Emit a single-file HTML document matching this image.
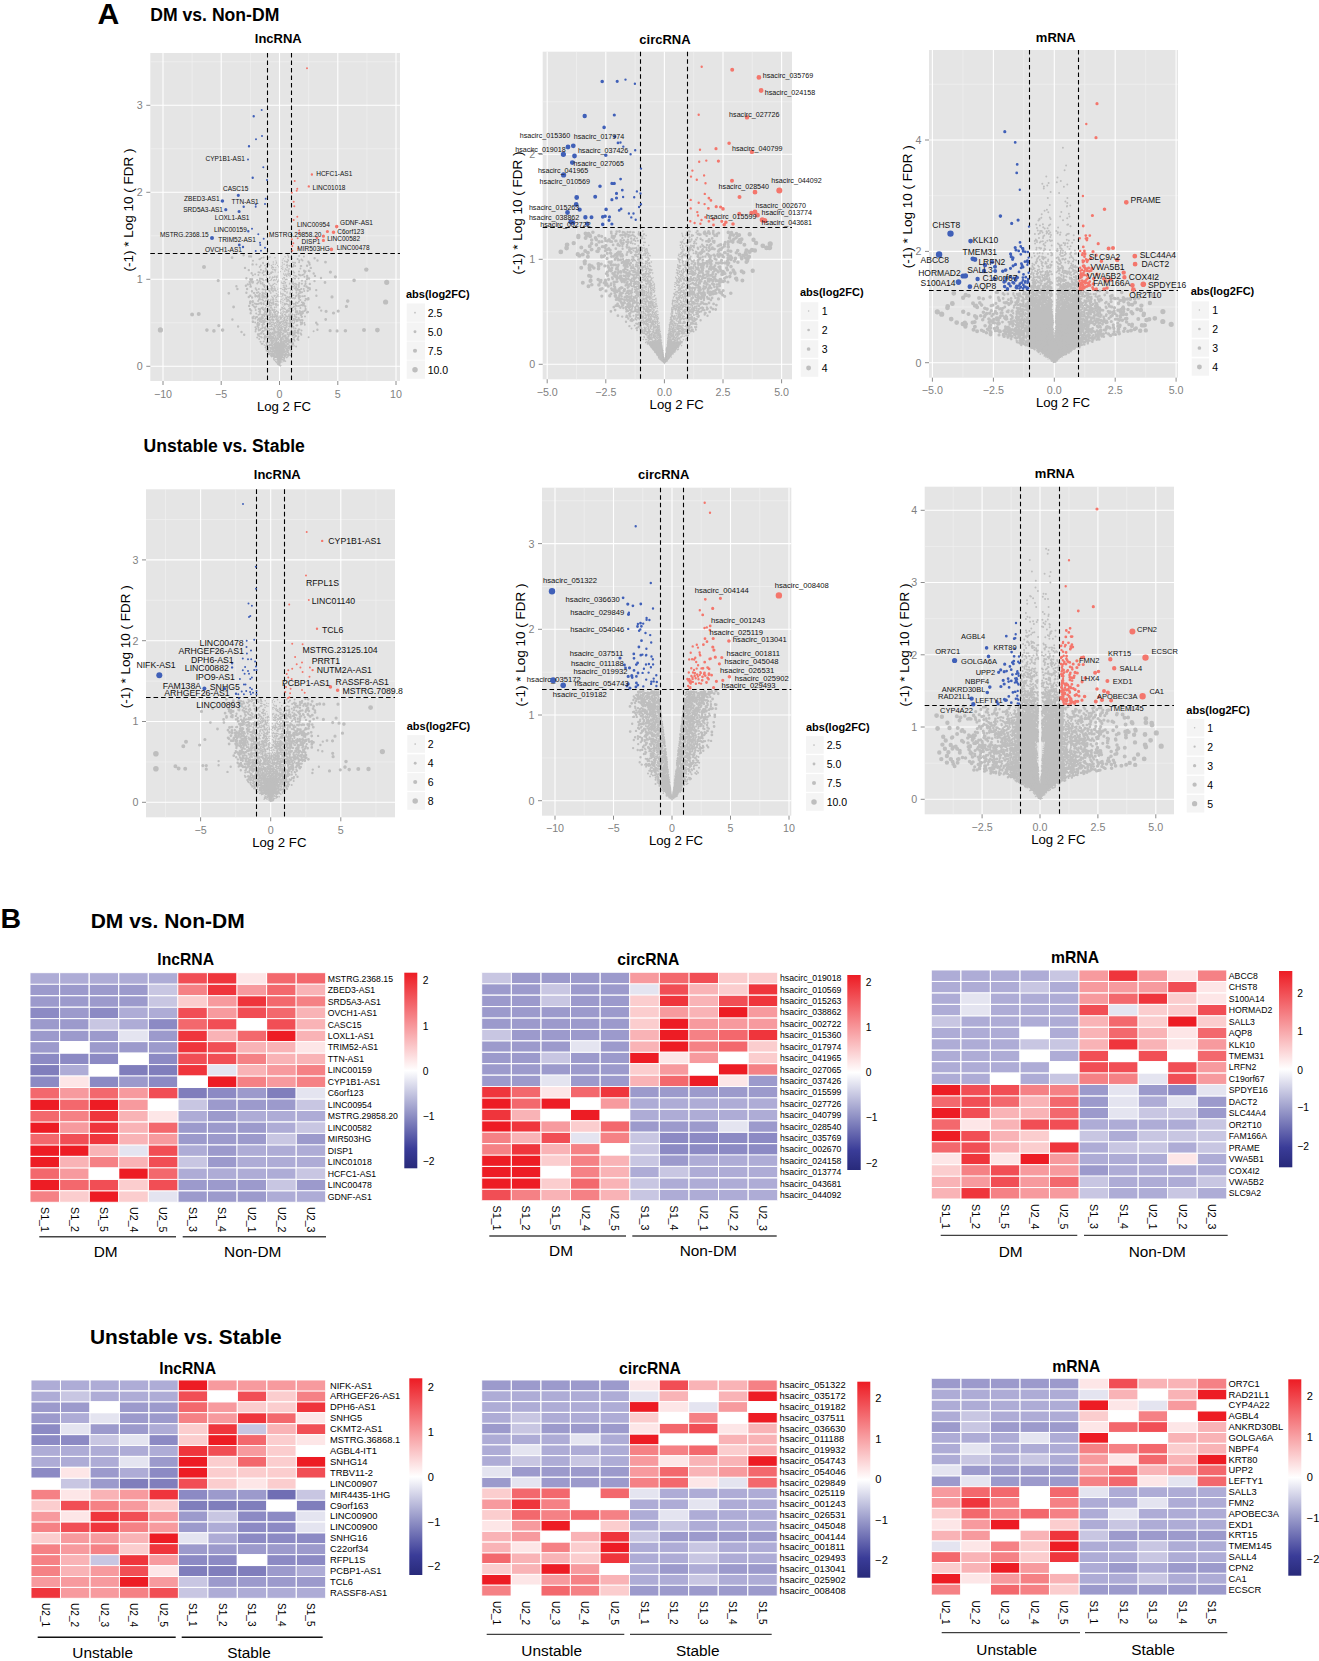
<!DOCTYPE html>
<html><head><meta charset="utf-8"><title>Figure</title>
<style>
html,body{margin:0;padding:0;background:#fff;}
body{width:1319px;height:1661px;overflow:hidden;}
svg{display:block;font-family:"Liberation Sans",sans-serif;}
.hb{font-weight:bold;}
</style></head><body>
<svg width="1319" height="1661" viewBox="0 0 1319 1661">
<defs><linearGradient id="cb" x1="0" y1="0" x2="0" y2="1">
<stop offset="0" stop-color="#ED1C24"/><stop offset="0.5" stop-color="#FFFFFF"/><stop offset="0.9" stop-color="#3A3C98"/><stop offset="1" stop-color="#282A7A"/>
</linearGradient></defs>
<rect width="1319" height="1661" fill="#fff"/>
<rect x="150.3" y="53" width="249.7" height="328" fill="#E5E5E5"/>
<path d="M192.1 53V381M250.4 53V381M308.6 53V381M366.9 53V381M150.3 322.8H400M150.3 235.8H400M150.3 148.8H400M150.3 61.8H400" stroke="#F2F2F2" stroke-width="0.6" fill="none"/>
<path d="M163 53V381M221.2 53V381M279.5 53V381M337.8 53V381M396 53V381M150.3 366.3H400M150.3 279.3H400M150.3 192.3H400M150.3 105.3H400" stroke="#fff" stroke-width="1.1" fill="none"/>
<path d="M163 381v4M221.2 381v4M279.5 381v4M337.8 381v4M396 381v4M150.3 366.3h-4M150.3 279.3h-4M150.3 192.3h-4M150.3 105.3h-4" stroke="#7F7F7F" stroke-width="0.9" fill="none"/>
<g fill="#7F7F7F" font-size="10.7">
<text x="163" y="397.6" text-anchor="middle">−10</text>
<text x="221.2" y="397.6" text-anchor="middle">−5</text>
<text x="279.5" y="397.6" text-anchor="middle">0</text>
<text x="337.8" y="397.6" text-anchor="middle">5</text>
<text x="396" y="397.6" text-anchor="middle">10</text>
<text x="142.7" y="370.2" text-anchor="end">0</text>
<text x="142.7" y="283.2" text-anchor="end">1</text>
<text x="142.7" y="196.2" text-anchor="end">2</text>
<text x="142.7" y="109.2" text-anchor="end">3</text>
</g>
<path d="M279.5 366.3L279.9 365.3L280.2 364.3L280.5 363.4L280.9 362.4L281.2 361.4L281.5 360.4L281.8 359.4L282.1 358.5L282.4 357.5L282.7 356.5L282.9 355.5L283.2 354.6L283.4 353.6L283.7 352.6L283.9 351.6L284.1 350.6L284.4 349.7L284.6 348.7L284.8 347.7L285 346.7L285.2 345.7L285.3 344.8L285.3 343.8L285.3 342.8L279.5 342.8L279.5 343.8L279.5 344.8L279.5 345.7L279.5 346.7L279.5 347.7L279.5 348.7L279.5 349.7L279.5 350.6L279.5 351.6L279.5 352.6L279.5 353.6L279.5 354.6L279.5 355.5L279.5 356.5L279.5 357.5L279.5 358.5L279.5 359.4L279.5 360.4L279.5 361.4L279.5 362.4L279.5 363.4L279.5 364.3L279.5 365.3L279.5 366.3ZM279.5 366.3L279.1 365.3L278.8 364.3L278.5 363.4L278.1 362.4L277.8 361.4L277.5 360.4L277.2 359.4L276.9 358.5L276.6 357.5L276.3 356.5L276.1 355.5L275.8 354.6L275.6 353.6L275.3 352.6L275.1 351.6L274.9 350.6L274.6 349.7L274.4 348.7L274.2 347.7L274 346.7L273.8 345.7L273.7 344.8L273.7 343.8L273.7 342.8L279.5 342.8L279.5 343.8L279.5 344.8L279.5 345.7L279.5 346.7L279.5 347.7L279.5 348.7L279.5 349.7L279.5 350.6L279.5 351.6L279.5 352.6L279.5 353.6L279.5 354.6L279.5 355.5L279.5 356.5L279.5 357.5L279.5 358.5L279.5 359.4L279.5 360.4L279.5 361.4L279.5 362.4L279.5 363.4L279.5 364.3L279.5 365.3L279.5 366.3Z" fill="#BEBEBE"/>
<g transform="scale(.1)" stroke-linecap="round" fill="none" stroke="#BEBEBE"><path stroke-width="12" d="M2833 2587zm-8 43zm-2-29zm0 22zm-57-3zm0 12zm-5-1zm-2-23zm-6 37zm5 32zm17-23zm9 14zm28-5zm12-12zm4 28zm0-8zm0 23zm-13-11zm-10 33zm-47-19zm-5 9zm-1 13zm25 39zm5-36zm55 11zm1 12zm-1 30zm-7 18zm-6-7zm-42 7zm-8-21zm-7-4zm-2 21zm-2 7zm-1-34zm0 13zm-2-2zm-5 28zm19 14zm0-5zm0 12zm7-10zm5-3zm29 13zm6 12zm7-2zm8 5zm3-17zm-7 33zm0 22zm-70-31zm-7 55zm1 9zm11 1zm10-14zm1-15zm25 6zm10 0zm13 8zm7 5zm1 40zm-5-5zm-4 25zm-1-11zm-7-9zm-7-4zm-5-13zm0 17zm-21-19zm-1 28zm-7 1zm-4 10zm-4-23zm-6 2zm-5 18zm0 33zm1-16zm3 20zm2-17zm4-9zm0 3zm7-9zm8 2zm19 2zm10 29zm5-26zm6 23zm10-11zm-1 23zm-1 19zm-9 7zm-11-16zm-3-5zm-1 23zm-4-13zm-20 0zm-9-4zm-3-4zm-1-10zm-1 33zm-8-18zm-4 20zm-1 4zm-4-28zm5 40zm6 4zm0 4zm1 13zm0-28zm1-3zm9 10zm8-4zm0 9zm36 18zm2-2zm4-24zm2 29zm11-14zm3 24zm-7-3zm0 18zm-3 14zm-8-24zm-2-9zm-9 12zm-4 3zm-3 8zm-2-16zm-18 29zm-6-3zm-10-3zm0-10zm-3 9zm-9 2zm-3 10zm3 19zm1 15zm2-6zm6 4zm4-17zm4 4zm2 16zm1-3zm3 2zm1-31zm0 9zm8-12zm12 35zm3-1zm2-22zm0-1zm4-3zm2-10zm0 4zm4 32zm1-18zm8 4zm0 4zm1 5zm3-20zm5-3zm1 29zm3-38zm3 61zm-8-18zm-4-4zm-1 11zm-5 26zm-4-22zm-3 9zm-4-14zm-1 18zm-1-20zm-1 11zm-3 13zm-1-30zm-3-1zm0 25zm-1-13zm-1 25zm-7-28zm-7 10zm-2 1zm-2 0zm-1 6zm0-21zm-1 32zm-4-6zm0-30zm-3 28zm-2-17zm-3-7zm-1-4zm-1 32zm-2-10zm-1-12zm-2 26zm-6-8zm-1-24zm2 60zm7 5zm3-31zm1 15zm3-2zm0 18zm0-28zm2 29zm0-12zm0-15zm0 4zm1-1zm1 18zm2-21zm0 8zm1 11zm1-11zm1-9zm1 2zm1 9zm2-12zm0 16zm2-12zm0 1zm1-8zm1 11zm0 27zm2-33zm0 9zm1-1zm1 26zm0-15zm1 12zm1-33zm2 20zm5 4zm1 12zm0-21zm3 16zm0-15zm4 12zm0 3zm4-8zm2 1zm0-10zm3-3zm0 4zm0-5zm9 23zm1-25zm2 28zm1-11zm0-12zm3-2zm6-9zm0 11zm1 6zm1 16zm-5 33zm-2-29zm0 18zm-1 4zm-5 1zm-7 8zm0 4zm-2-31zm-1 12zm-1 17zm-6-8zm-1 3zm-2-17zm-3 25zm0-28zm-1 25zm0 4zm-3-30zm-2 30zm-1-15zm-4 4zm0-15zm-3 3zm0-6zm0 20zm-4 9zm-3-20zm-1-8zm-1 25zm-1-21zm-4 15zm-1-4zm0-25zm-7 6zm-3 9zm-2 13zm0 2zm-5-8zm-3 12zm-3-21zm0 59zm1 6zm7-6zm3-28zm7 30zm2-16zm1 2zm0-7zm2-1zm4 20zm1-30zm0-3zm4 4zm0 22zm1-13zm1 19zm0-7zm2-8zm1-15zm0 25zm0 9zm2-21zm1-1zm6 6zm1 8zm3 10zm0-8zm1-16zm1 22zm1-22zm2-1zm0 18zm1 6zm1-18zm1 10zm1-1zm0-19zm2 13zm3-1zm1-21zm0 8zm1 2zm7 3zm0 8zm1-18zm8 32zm0-11zm3 2zm0-6zm2 33zm-2 7zm0-11zm-6 7zm-3 12zm0-11zm-2 14zm-1-18zm0 3zm-3 7zm-1-13zm0-10zm-7 3zm-1-2zm-3 18zm-1 13zm0-8zm-2 14zm0-12zm0-1zm-1-21zm0 26zm-2-18zm0 12zm-3 11zm0-19zm-1 4zm-1 9zm-1-1zm0-25zm-3 10zm-2-7zm-3 20zm0 4zm0-5zm-2-2zm-1-9zm-1-12zm0 18zm0 4zm-1-4zm-3 7zm0 7zm-1 4zm0-5zm-3-21zm-1-12zm0 30zm-1-5zm-3-14zm-5 18zm-1-20zm-2-5zm-10 7zm-2 20zm0-19zm0 50zm0-1zm0-15zm2 6zm1 2zm0-8zm6 21zm0 4zm5 7zm1-27zm2 15zm0-14zm0 13zm1-8zm1-6zm0-11zm1 35zm0-34zm1 13zm3 12zm0-1zm2 3zm3-6zm1 5zm2-6zm2-4zm1 17zm0-28zm2 17zm0-5zm2-14zm0 2zm1 1zm0 4zm0 2zm2-11zm3 10zm3 6zm0-10zm1-6zm0 7zm1 28zm3-7zm1-4zm2-19zm0 5zm1 22zm2-24zm2 26zm0-10zm2-11zm0 9zm4 10zm1-13zm1 4zm1 13zm1-22zm2-1zm1-10zm2 24zm1-15zm0 1zm3 12zm1-26zm1-1zm2 4zm2 31zm1-5zm-1 39zm0-14zm-1 1zm0 8zm-1-6zm-3-10zm-2 28zm-1-11zm-1-1zm-2-6zm-3 16zm-1 5zm-3-26zm-1 10zm0 10zm-2-28zm-1 24zm0-20zm-1 30zm0-30zm-1 23zm-1-8zm0 4zm-1-18zm0 27zm0-17zm0-14zm-2 33zm0-10zm-1-5zm0-20zm0 3zm0 8zm-1 11zm0-14zm-1-10zm-1 13zm-2 22zm-2-27zm0-1zm-1 24zm0-20zm-2 8zm0-15zm0 8zm-5 22zm-1-35zm-3 34zm-2-10zm-2 6zm0-8zm-1 2zm-1-8zm0 12zm-1-4zm0 8zm-4-1zm-2 3zm-3-13zm-2-18zm-1-3zm-2 33zm0-6zm-1-26zm-1-2zm-1 19zm-1-7zm-1 0zm0 22zm-3-6zm0-23zm0 18zm-2-20zm-3 33zm-1-28zm-3 17zm0 8zm2 45zm3-5zm3-14zm2 1zm1-20zm0 4zm1 19zm0-23zm2 22zm3 10zm0-24zm0 12zm1-11zm0 13zm1 1zm1-4zm2 8zm0-19zm4-5zm0 22zm1-16zm1 14zm1-2zm3-8zm1 12zm1-6zm3 17zm1-8zm2-9zm2 1zm1-15zm1 14zm1-5zm0-10zm0 2zm1 24zm0-5zm0-11zm1 16zm2-23zm0 27zm0-25zm1-3zm0 23zm1-16zm1 22zm0-23zm3 7zm0-19zm1 27zm0-1zm1 4zm1-2zm0-6zm0-10zm1 26zm1-4zm1-27zm2 21zm0-19zm1 26zm4-26zm2 22zm0 4zm1-2zm4-30zm1 9zm1 19zm3 6zm0-11zm3-9zm0 4zm0 4zm2 27zm-1 19zm-1 2zm-1-1zm-1-29zm-1 27zm-1-29zm0 35zm-1-5zm0 4zm-2-27zm-6 22zm0 7zm0-28zm-1-4zm0 31zm0 3zm0-37zm-1 0zm-1 22zm-1-7zm-2 10zm-1 9zm-3-3zm-2 3zm0-6zm-1-24zm-1 16zm-1 1zm0-11zm-1 27zm0-16zm-1 1zm-1-12zm-3 19zm-1-6zm0 8zm-1-13zm0 11zm-1-24zm0 21zm-2-23zm0 18zm-2-16zm0-1zm0 12zm-1-18zm0 4zm-2 31zm-1-31zm-2 27zm-4-25zm-1 17zm-1-9zm0 13zm0 7zm0-10zm-2 6zm0 8zm0-26zm-2-9zm-1 31zm-1 5zm-3-11zm-2 3zm-1-28zm-1 12zm0 20zm-3-1zm0-32zm-2 34zm-1-13zm-1 16zm-1-24zm0-12zm-6 16zm-1 16zm-1-10zm-1 9zm0-23zm0 27zm-1-16zm0 28zm5 23zm0-2zm1-6zm1-10zm0-5zm0 8zm2-12zm1 20zm2-19zm3 23zm0 3zm0-6zm5-1zm1-15zm1 12zm1-9zm4 22zm0-29zm1 25zm2-4zm0 6zm3-31zm1 6zm1 3zm1-6zm0 4zm0 9zm1-16zm1 4zm1 27zm0-7zm1 4zm0-24zm0-2zm1 28zm0 3zm0-15zm0-19zm0 18zm1-5zm0-7zm2 17zm2 11zm1-8zm0-12zm1 10zm0 12zm3-31zm0 7zm1 1zm0 3zm2-2zm1-7zm0 14zm1-8zm2 19zm1-17zm1-15zm0 23zm1-21zm1 4zm0-6zm0 18zm3-4zm0 21zm1-33zm0 21zm1 14zm0-5zm4-23zm2-4zm2 15zm0 4zm0-3zm2-15zm0 9zm0-6zm4-4zm0 23zm2-23zm0 25zm1-29zm4 19zm-1 34zm-1 15zm-1-18zm-3 3zm-7 19zm-2 1zm0-29zm0 9zm-1 4zm0-10zm-2 6zm-1-8zm-1-5zm-1 32zm-1-22zm-7 5zm-1 5zm0 4zm-1-11zm0-13zm-2 35zm-1-33zm-3-2zm-4-2zm-1 22zm-1-23zm0 13zm-1 23zm-2-12zm-1-8zm0-16zm-1 0zm-1 19zm-1 16zm-1-26zm0 3zm-1 27zm0-29zm-3-8zm0 28zm0 8zm-2-16zm-4-2zm-2 17zm-2-24zm0-7zm-2-5zm-3 32zm0-27zm-4 1zm-1 8zm-3-3zm-2 1zm-1 0zm-2-11zm-3 13zm-2 20zm0-29zm0-1zm3 50zm4 1zm1-14zm4 25zm7-10zm1 5zm2 11zm0-12zm1-11zm5-6zm2 7zm1 18zm2 4zm0-14zm1 11zm0-16zm3 1zm2 18zm0 3zm1-19zm3 7zm0 4zm0-19zm2 27zm0-1zm3-6zm0-26zm0-1zm1 22zm3-17zm10 11zm2-18zm4 22zm9-20zm4 14zm5-13zm-27 52zm-6 6zm0-1zm-5-8zm0-7zm-1-1zm-3 7zm-4-6zm-1-2zm-2 4zm-4 2zm-1-8zm-8 1z"/><path stroke-width="16" d="M2877 2551zm-197 26zm20-7zm50 7zm101-10zm28 28zm5-33zm2 11zm28 4zm5 8zm21 40zm-12-3zm-45-17zm-6 8zm-5 11zm-11-8zm-16-6zm-112 10zm-47 18zm-4-15zm-33 32zm16 14zm0-25zm26 4zm24 7zm3 24zm5-10zm9-27zm3 34zm106-33zm25 12zm5-9zm1 28zm4-14zm16-5zm6 4zm30 10zm8-5zm1-9zm1-11zm-4 70zm-43-25zm-4 24zm-2 3zm-4-14zm-16-2zm-11-10zm-6 21zm-102-12zm-17-3zm-9 23zm-53-22zm-1-2zm-2 15zm-6-2zm-2-25zm-1 6zm-1 22zm6 40zm7-22zm1 2zm12-8zm10 23zm13-9zm6-12zm5 8zm15-10zm119 29zm10-12zm7 13zm15-9zm0-11zm7 18zm8-16zm7 16zm11-31zm25 7zm0 25zm7-26zm3 62zm-13-10zm-8 14zm-2 2zm-24-32zm-31 33zm-2-32zm-7 29zm-9 6zm-9-19zm-1 3zm-94-20zm-4 35zm-3-22zm-14-4zm-7 12zm-4 13zm-1 1zm-15-26zm-4 9zm-17 17zm-11-24zm0 22zm-12 4zm16 8zm12 12zm7 18zm11-35zm34-2zm1 5zm11 30zm94-19zm7 21zm6-12zm42 8zm12-24zm4-3zm5 32zm1-27zm6 19zm5-6zm2 14zm0-17zm12 16zm2 20zm-13 11zm0-22zm-8 20zm-30-26zm-30 25zm-3-11zm-1 7zm-14 16zm-6-3zm-1-15zm-98 8zm-9-23zm-11 11zm0 17zm-6 4zm-5-14zm-10-9zm-31 17zm-10-12zm-14 14zm-1-11zm-3-16zm13 47zm1 16zm4-12zm22 7zm4-16zm5 23zm3 6zm1-10zm3 5zm13-25zm1 12zm3-13zm1 16zm1-13zm10-1zm1 23zm3-23zm0 30zm10-15zm4-3zm3-17zm2 3zm94 25zm0-15zm5-4zm3 24zm4-32zm8 10zm17-8zm18-2zm9 20zm15 3zm21-23zm-7 69zm-14-25zm-4 27zm-16-31zm-2 18zm-2-9zm-28-11zm-1 8zm-14 26zm-8-4zm-8-1zm-98 6zm-34-23zm-1-10zm-33 4zm-5 2zm-3 27zm-5-9zm-7-25zm-1 18zm-10-4zm-2 45zm1-17zm6 3zm5 0zm9 16zm1-12zm7 8zm9 16zm1-31zm7 34zm23-5zm9-31zm6 16zm3 17zm1-17zm4 4zm3 13zm7-32zm105 31zm11-21zm2 9zm3 0zm5 12zm1-21zm5-5zm6 26zm4-22zm12 8zm0-14zm12 16zm7-19zm0 4zm8 15zm11-5zm8 10zm-2 51zm-12-5zm-4-1zm-3-15zm-1 2zm-12 2zm-5-2zm-4 18zm-2-18zm-5-10zm-4-8zm-9 6zm-7 6zm-7 22zm-1-24zm-15 25zm-3 0zm-4 1zm-107-14zm-3 12zm-3-26zm-3 20zm-6 1zm-6 5zm-4-8zm0-1zm-4-20zm-4 19zm-2-3zm-7-4zm0 16zm-3-13zm0 13zm-10-29zm0-2zm-22 1zm-7 9zm-4 5zm7 61zm4-24zm6-14zm2 18zm14 8zm12-16zm4-4zm1 12zm7 17zm6-3zm0-20zm2 5zm16-10zm6-5zm11 31zm2 1zm2-35zm93 9zm6-6zm7 1zm18 1zm13 16zm2-13zm5 11zm5 20zm10-25zm0 3zm0-5zm4 21zm0 4zm12-2zm10-13zm0 11zm2-31zm12 22zm-20 38zm-5-16zm-7-5zm-6-1zm-2 39zm0-30zm-8 2zm-7 19zm-4-25zm-1 18zm-1 3zm-8 9zm-2-14zm-10 9zm0 2zm-1-8zm-6 15zm-8-27zm-5-5zm-3 30zm0-36zm-97 15zm-6 8zm0-8zm-2 19zm-12-13zm-3-10zm-1 11zm-4-10zm-2-13zm-11 28zm-5-28zm-4 18zm-2 11zm-3-14zm-2 3zm-10 6zm-4-17zm-4 19zm-1-9zm-18-8zm-1 22zm-4 3zm-5-24zm-2 63zm1-20zm1-5zm7 15zm10-19zm0 25zm1-16zm6-10zm4 20zm0 9zm0 6zm13-5zm7-9zm1 10zm0-14zm2-19zm1 37zm1-26zm3 25zm1-5zm2-2zm2-6zm4-22zm1 6zm12 13zm4 14zm2-10zm0 12zm10-36zm3 7zm6 23zm1-27zm0 6zm1 8zm1 9zm95-2zm7 3zm6 4zm1-22zm6-7zm11-2zm14 33zm1-11zm13-18zm1 13zm3-14zm2 17zm1 14zm10-11zm5 0zm18 3zm4 5zm-3 9zm-6 34zm0-5zm-1-4zm-13-22zm-3 10zm-3-13zm-2 24zm-11-7zm-2-18zm-3 33zm-4-24zm0 11zm-1-14zm0-6zm-1 39zm0-28zm-1 18zm-2-24zm0 29zm-1-34zm-12 5zm-3 15zm-1-14zm-1 20zm-2-18zm0 18zm0 2zm-7 10zm-1-35zm-5 4zm-11 27zm-2-15zm0-5zm-4 11zm-1 14zm-92-34zm-7 10zm-2-6zm-4 26zm0-29zm-7-5zm-3 29zm-2-16zm-1 4zm-1 21zm-1-35zm-1-4zm-3 31zm-9-24zm-8 11zm-3 19zm-1-20zm-7 16zm-15-27zm-5-2zm-2 21zm-9-1zm-6 4zm-6-24zm-1 33zm-4 24zm0 6zm5-2zm4-16zm9 5zm15 19zm1-17zm3 12zm1 1zm0-25zm3 34zm15-9zm1 6zm1-27zm2 9zm3 18zm2-34zm9 21zm0 4zm15-15zm1 14zm0-20zm6-1zm3 29zm8 1zm98-33zm0 4zm1-1zm0 25zm4-19zm5 15zm5-15zm2 29zm7-13zm2-18zm1 30zm2-31zm14 27zm1-3zm7-22zm1 22zm1-28zm2 15zm2-15zm7 9zm1 10zm1 10zm8-25zm1 14zm9-18zm4 33zm4-34zm4 5zm1 20zm2-4zm1-3zm0-12zm-8 64zm-3-6zm-1 5zm-7-1zm-5-15zm-2 3zm-1-5zm-8-9zm-5 16zm-8 9zm-5-20zm0 17zm-4 0zm-18-13zm-2 16zm-1-20zm-3 17zm-1-16zm-2 21zm-6-16zm-2-1zm-3 23zm-5 2zm0-24zm-3 2zm-2-7zm-93 9zm-8-10zm-1 25zm-14-31zm-4 21zm-4-6zm0-6zm-1-2zm-7 10zm-3 5zm-5-23zm-4 24zm-7-26zm-20 13zm-6 6zm-2 2zm-7 15zm-3-5zm-2 6zm-9-32zm-1 31zm7 11zm2 18zm3-8zm8-6zm11 15zm0-10zm1 0zm4-14zm5 1zm0 27zm9-22zm2 2zm2 18zm11-14zm11-4zm0-5zm2 12zm14-1zm0-16zm5 19zm0-19zm3 36zm0-8zm1-20zm3-4zm1 8zm2 17zm2-8zm92 5zm4 11zm1-24zm1 1zm3 21zm2-9zm1-16zm4 8zm1-16zm1 25zm4 10zm2-3zm0-12zm12-2zm1 1zm8 2zm0-15zm3 3zm17 27zm8-14zm1-16zm1 21zm14 5zm9-27zm6 19zm4 41zm-3-10zm-3-8zm-1 7zm0-14zm-1 8zm-2 17zm-4 2zm-2 5zm-5-22zm-8 27zm-1-2zm0-12zm0-20zm-1 21zm-2-7zm-2-1zm-6-11zm0 21zm-4-3zm-4-15zm-3 7zm0 7zm-2-15zm-7 29zm0-6zm-1-5zm-2 5zm-6-20zm-1-7zm0 18zm-2-4zm-5 2zm-9-20zm-2 38zm-5-6zm-4-2zm0-30zm-1 35zm-4 3zm-1-39zm-2 37zm-3-1zm-90-30zm-4 28zm-3-22zm-2 19zm-1-16zm0 9zm-4-16zm-4 8zm-2-1zm-5 7zm-2-19zm0 13zm-5-4zm-1 5zm-6 6zm-2-1zm-2 13zm-2-17zm-2 16zm0-29zm-3 15zm-1 19zm-4-22zm-1-4zm-2 13zm-3-1zm-7-9zm-1-12zm-4 33zm-7-12zm-19 7zm-9 23zm0 11zm1-6zm1-11zm0 22zm4-30zm1 36zm1-22zm0 9zm3-15zm4-5zm2-1zm1 11zm0-7zm10 1zm0-1zm8 11zm0 6zm3-19zm2 17zm10-9zm2-7zm2 15zm1-17zm1 28zm3-21zm6 15zm6-18zm1 31zm1-18zm2-17zm5-2zm1 29zm2-6zm1-7zm1-6zm1-4zm1 0zm0-3zm5-4zm1 16zm2-1zm3 11zm5-1zm1 1zm0 8zm3-1zm91-23zm10-7zm2 20zm3 1zm3-18zm0 9zm2 1zm1 19zm1-7zm2-3zm4-1zm1-6zm6 11zm0 3zm3-30zm1 18zm0 8zm4-23zm2 32zm1-38zm2 1zm15 33zm18 0zm5 4zm2-5zm6-18zm3-2zm4 17zm1 3zm6-23zm-1 39zm-4-7zm-10 30zm-7-12zm-2 18zm-3-12zm-1 10zm-8-3zm-5-9zm-3-4zm-4 2zm0-20zm-7 25zm-3-18zm0 7zm-7-13zm-1 11zm-1 17zm-6-19zm-1 0zm-2 24zm-2-28zm-2 25zm-2-22zm-1-1zm-2 11zm-2-10zm-1 10zm-4-19zm-4 23zm-2-5zm-2-3zm-1 4zm-1 15zm-2-23zm-2-7zm-2 12zm-1 0zm-90-4zm-1 18zm-10-30zm-2 2zm-1 3zm-1 3zm-2 8zm-1 4zm-1-16zm-5 10zm-3 17zm-4-2zm-2-8zm0-16zm-4 32zm0-10zm-8-19zm-1-5zm-12 18zm-13 7zm-15-6zm-1 11zm-20 16zm11 23zm6-17zm1 4zm1 4zm3-13zm1-3zm0-7zm4 20zm0-14zm7 29zm6 2zm4-24zm6-5zm2 8zm0-14zm4 28zm3 4zm1 2zm0-33zm3 8zm5 26zm0-33zm6 9zm2 5zm1-7zm1 7zm1-4zm0 12zm0 9zm1-19zm2 8zm1-15zm3 0zm2 26zm3-34zm3 4zm2 20zm3 12zm2-2zm2-32zm0 18zm2 5zm1 10zm91-37zm1 18zm0 2zm2-11zm1 16zm3 4zm5-23zm0 2zm2 17zm0 4zm2-13zm9 7zm0 1zm2-17zm1 7zm1 11zm0-2zm10 10zm2-31zm5 23zm0 8zm7-22zm4 24zm3-15zm1 2zm1 5zm2 6zm1-8zm6-5zm6 3zm0-14zm4 11zm0-10zm14-8zm5 16zm-22 57zm-8-15zm-1 9zm-12-30zm-1 10zm-10 15zm-1-21zm-3 25zm-4-3zm-1-7zm-2-1zm-1-5zm-5 25zm0-32zm-1 18zm-1 13zm-1 1zm-1-30zm-1-3zm0-2zm0 8zm-3-5zm-4-4zm-3 30zm-1 3zm-6-17zm0 19zm-1-14zm-1 8zm0 4zm0-20zm-5 19zm-90-7zm-1 9zm0-8zm-2-22zm-3-4zm-1 1zm-2 32zm-1-27zm-1 21zm-3 9zm0-17zm-2 12zm-1-21zm0-5zm-4 9zm0 17zm-1-1zm-1-15zm0 12zm-3 6zm-1-26zm-2 28zm-2-24zm-1-13zm-1 8zm-7 21zm-2 8zm-1-28zm-2 13zm-4-15zm-2 25zm-3 0zm-9-14zm-2 11zm-3-20zm0 26zm-3-12zm-3 0zm-5 8zm-8-4zm-2-16zm19 51zm1-10zm3 7zm4-10zm4 16zm7-15zm8 28zm0-19zm2-1zm0 9zm1-2zm5 7zm4-15zm0-14zm2 10zm1 18zm0-28zm1 25zm2 6zm3 2zm3-10zm0-11zm1 17zm1 6zm6-13zm1-5zm2-2zm1 11zm0-17zm0 18zm4-23zm0 31zm2-35zm91 20zm1 12zm1 1zm2-10zm2-21zm1 34zm0-9zm4-5zm4-7zm1-6zm2 6zm1 13zm2-16zm0 8zm0-5zm1-5zm4 18zm8-6zm2-20zm1 27zm4-32zm4 9zm3 11zm0 14zm3-7zm2-7zm11 14zm11-26zm-36 38zm-7 4zm-3 6zm-6-2zm-12-12zm-1 2zm-3-4zm-1 6zm-3 7zm0 13zm-1-19zm-1 30zm-94-26zm-3 5zm-4-14zm-1 11zm-1 13zm0 6zm-5-30zm0 3zm-2 0zm-15 3zm-1-3zm29 38zm97 0zm2 6zm5-4zm7 7z"/><path stroke-width="20" d="M2594 2592zm7-3zm13-10zm21-5zm341 15zm15-28zm24 34zm24-29zm-14 38zm-32 1zm-2 17zm-40 5zm-320 5zm-1-5zm-100-19zm34 36zm33 27zm11-16zm344 6zm55-1zm6 0zm43 52zm-15 0zm-1-6zm-36-21zm-14 30zm-353 3zm-3-9zm-25-12zm-80 55zm22-10zm33-19zm0 28zm14-26zm27 4zm13 20zm351-3zm5 3zm11 7zm1-1zm18-4zm12-5zm12-18zm-3 40zm-59 17zm-22-19zm-12-6zm-1 26zm-325 4zm-15-2zm-12-2zm-70 31zm42-17zm1 36zm11-13zm11-17zm1-4zm10 15zm2 17zm19-3zm0 8zm9-37zm321 36zm36-8zm1 4zm26 3zm1-30zm35 6zm1 22zm0-2zm-3 12zm-10 14zm-54 10zm-1-14zm-1-11zm0 11zm-5-7zm-19 16zm0 13zm-2-33zm-5 25zm-317-11zm-5-7zm-77 37zm0-5zm10 17zm22-9zm36 1zm14 3zm314-8zm7-6zm3 23zm4 2zm8-16zm11 8zm10 13zm2-11zm14-11zm1 0zm24 0zm5 21zm-21 12zm-15-1zm-1 6zm-8 30zm-7-24zm-4 22zm-3-11zm-19 12zm0-29zm-330 26zm-3-24zm-3 6zm-4-10zm-3 26zm-22-13zm-12 15zm-1 3zm-2-34zm-11 6zm-5 0zm-16 22zm-9-19zm-6 0zm16 33zm1 0zm13-4zm11 7zm6-3zm5 28zm8-31zm1 18zm1 16zm22 0zm0-26zm7 5zm1-4zm7-3zm315 14zm7-18zm2 0zm26 6zm0-5zm4 23zm0-7zm10-9zm4 28zm18-36zm19-1zm8-2zm8 27zm-6 17zm-9 34zm-6-11zm-3 6zm-3 2zm-11-13zm-30-6zm-13 14zm-16-5zm-7 12zm-319-5zm-2-28zm-21 24zm-5 2zm-15 6zm-10-25zm-1 28zm-33-4zm-18-25zm11 55zm11 12zm9-37zm2 26zm5-26zm47 0zm1 39zm13-5zm10-32zm316 0zm4 12zm11 5zm19 1zm15-5zm13-6zm9 7zm10-14zm5 13zm13 13zm2-5zm2 37zm-1-12zm-1 13zm-4 4zm-7 5zm-17 6zm-14 3zm-9-38zm-7 28zm-25 4zm-13-4zm-1 4zm-4-24zm0-6zm-315 18zm-11-10zm-26 22zm0-21zm-2 5zm-9 18zm-2-28zm-2 3zm-30 9zm5 37zm22 12zm15-5zm2-15zm19 20zm1 2zm10 5zm8-10zm319-22zm6 21zm8-20zm12 15zm10-8zm10 5zm2 15zm7 1zm6-13zm11-10zm20 37zm-29 2zm-3 31zm-3-28zm-18 27zm-9-19zm-9 18zm-10 1zm-4-25zm-13-5zm-1 21zm-321-9zm-4-20zm-4 24zm-4 7zm-3-19zm-1 25zm-8-15zm-2 17zm0-5zm-9-11zm-3 4zm-9 6zm-4 6zm-8-29zm-3 0zm-3 3zm-8-1zm-5 13zm-14-19zm-9 50zm4 1zm19 9zm25 8zm2-9zm15 14zm4-25zm1-14zm14 19zm16-11zm1 11zm4 16zm3-28zm328-2zm2 7zm2-6zm1-3zm8 4zm23-2zm6 20zm4 4zm3-5zm7-2zm1 15zm4-34zm18 28zm4 17zm-39-4zm-35 8zm-10 3zm-335 21zm-3-6zm-2 9zm0-26zm-1-5zm-33 1zm-6 24zm-8-21zm-3 10zm-1-21zm-18 32zm1 41zm2-17zm6-12zm22 8zm3 11zm13-4zm4-6zm5-7zm12 31zm5 0zm1-11zm5 4zm1 0zm317-2zm5-24zm20 22zm3 7zm4 0zm2-20zm1 3zm3-5zm6 4zm20 8zm121 8zm-123 35zm-4-13zm-5 1zm-20-9zm-3 9zm-11-10zm-16 2zm-317 14zm-19-17zm-3 10zm-8 0zm-16 6zm-10 12zm-3-10zm-6 32zm20 15zm2-26zm17 7zm7 4zm335-14zm8 0zm13 32zm6-13zm5-15zm101 9zm-102 28zm-347 14zm-12 23zm-9-1zm-11-19zm356 48z"/><path stroke-width="24" d="M2436 2553zm56 11zm18 1zm636 17zm29 23zm-82 25zm-9-13zm-634 62zm76-35zm545 14zm25-12zm12 33zm-13 31zm-6-3zm-601-6zm28 32zm621 2zm13 24zm60 21zm-119 5zm-18-14zm-1-11zm-3 31zm-548 1zm-14 6zm-4-6zm-39-10zm33 38zm23-3zm7 9zm571 13zm47-28zm-65 67zm-16-13zm-556 0zm-3 0zm-3-24zm-24 3zm-19 13zm-95 6zm10 27zm97 0zm48 22zm558-4zm20-25zm1 9zm64 9zm2 57zm-661 0zm-39-30zm24 42zm33 5zm550 17zm11 0zm1-10zm2 7zm-558 31zm-22-5zm-3 18zm-1-14zm-9 40zm35-9zm666 24zm19 32zm-700 0zm-12-14zm7 40zm564-8zm7-4zm-550 63zm-1-8zm-203 20zm204 22zm634 10zm12 17zm-793 21zm793 32zm-732 50zm-27-27z"/><path stroke-width="28" d="M2321 2577zm934 45zm-5 203zm-962 108zm48 137zm921 125z"/><path stroke-width="32" d="M3304 2721zm50 47zm-1172 38zm1138 163zm144 95zm-82 47zm-121 2zm74 17zm-1147 126zm1113 51zm70 2z"/><path stroke-width="36" d="M3541 2804zm-64 207zm-1408 290zm70 8zm87-8zm1228 6z"/><path stroke-width="40" d="M2040 2670zm-119 474zm66-4zm1653 159z"/><path stroke-width="44" d="M3663 2696z"/><path stroke-width="48" d="M3774 3301z"/><path stroke-width="52" d="M3867 2823zm-11 197zm-2252 279z"/></g>
<path d="M267.5 53V381M291.5 53V381M150.3 253.5H400" stroke="#000" stroke-width="1.1" stroke-dasharray="4.6 2.9" fill="none"/>
<g transform="scale(.1)" stroke-linecap="round" fill="none" stroke="#4060B8"><path stroke-width="20" d="M2617 1100zm-57 293zm60-33zm-140 235zm153 78zm37 127zm-13 187zm-7 53zm-92 5zm-1 22zm-37 220zm63 56zm54 44zm-37 40zm50 50zm-47-27zm-46 60zm53-3z"/><path stroke-width="24" d="M2537 1163zm-47 300zm37 314zm-90 290zm46 246zm-53 157z"/><path stroke-width="28" d="M2393 2450z"/><path stroke-width="32" d="M2383 1953zm-125 144zm133 18z"/><path stroke-width="36" d="M2224 2010z"/><path stroke-width="40" d="M2120 2380z"/></g>
<g transform="scale(.1)" stroke-linecap="round" fill="none" stroke="#F4766C"><path stroke-width="20" d="M3070 683zm-123 1127zm26 77zm-6 20zm-49 20zm19 90zm6 46zm30 104zm-36 33zm55 104zm-2 29zm-13 50zm-59 10zm15 40zm-10 27zm0 47zm60-22z"/><path stroke-width="24" d="M3119 1745zm-31 119z"/><path stroke-width="28" d="M3170 2378z"/><path stroke-width="32" d="M3274 2315zm-40 47zm0 42z"/><path stroke-width="36" d="M3367 2266zm-32 57zm-21 171z"/></g>
<g font-size="6.5" fill="#111">
<text x="205.5" y="161.3">CYP1B1-AS1</text>
<text x="316.2" y="176.4">HCFC1-AS1</text>
<text x="312.6" y="189.7">LINC01018</text>
<text x="223" y="191">CASC15</text>
<text x="184.1" y="200.7">ZBED3-AS1</text>
<text x="231.5" y="204.1">TTN-AS1</text>
<text x="183.2" y="212">SRD5A3-AS1</text>
<text x="214.8" y="220">LOXL1-AS1</text>
<text x="213.9" y="231.8">LINC00159</text>
<text x="159.9" y="237.1">MSTRG.2368.15</text>
<text x="218.2" y="242.4">TRIM52-AS1</text>
<text x="205" y="251.9">OVCH1-AS1</text>
<text x="296.9" y="227.2">LINC00954</text>
<text x="340.1" y="224.9">GDNF-AS1</text>
<text x="337.3" y="234.2">C6orf123</text>
<text x="269" y="236.5">MSTRG.29858.20</text>
<text x="327.2" y="241.2">LINC00582</text>
<text x="301.6" y="243.7">DISP1</text>
<text x="297.3" y="250.9">MIR503HG</text>
<text x="336.7" y="250">LINC00478</text>
</g>
<text x="278.3" y="43" class="hb" font-size="13" text-anchor="middle">lncRNA</text>
<text x="284" y="411.4" font-size="13.2" text-anchor="middle">Log 2 FC</text>
<text transform="translate(132.8 210) rotate(-90)" font-size="13.5" text-anchor="middle">(-1) * Log 10 ( FDR )</text>
<text x="406" y="298" class="hb" font-size="11">abs(log2FC)</text>
<rect x="406.7" y="303.5" width="18.3" height="18.3" fill="#F4F4F4"/>
<circle cx="415" cy="312.7" r="0.85" fill="#BEBEBE"/>
<text x="427.7" y="316.5" font-size="10.5">2.5</text>
<rect x="406.7" y="322.5" width="18.3" height="18.3" fill="#F4F4F4"/>
<circle cx="415" cy="331.7" r="1.45" fill="#BEBEBE"/>
<text x="427.7" y="335.5" font-size="10.5">5.0</text>
<rect x="406.7" y="341.5" width="18.3" height="18.3" fill="#F4F4F4"/>
<circle cx="415" cy="350.7" r="2.05" fill="#BEBEBE"/>
<text x="427.7" y="354.5" font-size="10.5">7.5</text>
<rect x="406.7" y="360.5" width="18.3" height="18.3" fill="#F4F4F4"/>
<circle cx="415" cy="369.7" r="2.75" fill="#BEBEBE"/>
<text x="427.7" y="373.5" font-size="10.5">10.0</text>
<rect x="542.7" y="51.7" width="249.3" height="327.6" fill="#E5E5E5"/>
<path d="M576.5 51.7V379.3M635.1 51.7V379.3M693.7 51.7V379.3M752.3 51.7V379.3M542.7 311.8H792M542.7 206.8H792M542.7 101.8H792" stroke="#F2F2F2" stroke-width="0.6" fill="none"/>
<path d="M547.2 51.7V379.3M605.8 51.7V379.3M664.4 51.7V379.3M723 51.7V379.3M781.6 51.7V379.3M542.7 364.3H792M542.7 259.3H792M542.7 154.3H792" stroke="#fff" stroke-width="1.1" fill="none"/>
<path d="M547.2 379.3v4M605.8 379.3v4M664.4 379.3v4M723 379.3v4M781.6 379.3v4M542.7 364.3h-4M542.7 259.3h-4M542.7 154.3h-4" stroke="#7F7F7F" stroke-width="0.9" fill="none"/>
<g fill="#7F7F7F" font-size="10.7">
<text x="547.2" y="395.9" text-anchor="middle">−5.0</text>
<text x="605.8" y="395.9" text-anchor="middle">−2.5</text>
<text x="664.4" y="395.9" text-anchor="middle">0.0</text>
<text x="723" y="395.9" text-anchor="middle">2.5</text>
<text x="781.6" y="395.9" text-anchor="middle">5.0</text>
<text x="535.1" y="368.2" text-anchor="end">0</text>
<text x="535.1" y="263.2" text-anchor="end">1</text>
<text x="535.1" y="158.2" text-anchor="end">2</text>
</g>
<path d="M664.4 364.3L665.2 363.3L666 362.4L666.7 361.4L667.5 360.4L668.3 359.5L669.1 358.5L669.9 357.6L670.7 356.6L671.4 355.6L672.2 354.7L673 353.7L673.8 352.8L674.6 351.8L675.3 350.8L676.1 349.9L676.9 348.9L677.7 347.9L678.5 347L679.2 346L680 345.1L680.8 344.1L681.6 343.1L682.4 342.2L683.2 341.2L667.7 341.2L667.5 342.2L667.4 343.1L667.3 344.1L667.1 345.1L667 346L666.9 347L666.7 347.9L666.6 348.9L666.5 349.9L666.3 350.8L666.2 351.8L666 352.8L665.9 353.7L665.8 354.7L665.6 355.6L665.5 356.6L665.4 357.6L665.2 358.5L665.1 359.5L665 360.4L664.4 361.4L664.4 362.4L664.4 363.3L664.4 364.3ZM664.4 364.3L663.6 363.3L662.8 362.4L662.1 361.4L661.3 360.4L660.5 359.5L659.7 358.5L658.9 357.6L658.1 356.6L657.4 355.6L656.6 354.7L655.8 353.7L655 352.8L654.2 351.8L653.5 350.8L652.7 349.9L651.9 348.9L651.1 347.9L650.3 347L649.6 346L648.8 345.1L648 344.1L647.2 343.1L646.4 342.2L645.6 341.2L661.1 341.2L661.3 342.2L661.4 343.1L661.5 344.1L661.7 345.1L661.8 346L661.9 347L662.1 347.9L662.2 348.9L662.3 349.9L662.5 350.8L662.6 351.8L662.8 352.8L662.9 353.7L663 354.7L663.2 355.6L663.3 356.6L663.4 357.6L663.6 358.5L663.7 359.5L663.8 360.4L664.4 361.4L664.4 362.4L664.4 363.3L664.4 364.3Z" fill="#BEBEBE"/>
<g transform="scale(.1)" stroke-linecap="round" fill="none" stroke="#BEBEBE"><path stroke-width="8" d="M6619 3451zm0 22zm1-16zm1 15zm2-3zm43 2zm2-23zm1 69zm0-7zm-1-30zm0 14zm0-10zm0 4zm-1 2zm0 25zm-2 2zm-1-27zm0 2zm0-12zm0 2zm0 18zm0 4zm0-7zm-1-2zm0 6zm0 9zm-1-10zm-1 6zm0-12zm0-11zm-31 22zm-2 2zm-1 2zm0-3zm-1-3zm-1 9zm0-21zm0 18zm0 4zm-1-7zm-1-12zm-1 2zm0 9zm-1-13zm-1 5zm0-14zm0 2zm0 16zm0-14zm0 11zm0 2zm-1 13zm0 25zm2 11zm0-28zm0 8zm1 3zm1 3zm0 23zm0-33zm0 20zm1-3zm0-7zm0-5zm0 23zm0-16zm0 4zm0 9zm1 7zm0-32zm0 20zm0-25zm0 36zm1-29zm2-4zm1 25zm0 2zm0-15zm0-14zm0 30zm1-10zm1 12zm0-23zm0 15zm0-16zm0 9zm1 5zm0 2zm0 12zm21 1zm0 1zm1-12zm3 3zm1-14zm0 10zm2-3zm0-13zm1 12zm0-5zm0-1zm1 3zm1-12zm0 15zm1-13zm1 0zm0 20zm0-25zm1 16zm0 11zm0-12zm0-12zm1 8zm1-4zm1 17zm0-1zm0 11zm0 13zm0-10zm-1 13zm0 20zm0-19zm-1-11zm0-3zm-1 18zm-1 17zm0-5zm0-1zm-1 7zm0-25zm0 11zm0-23zm0 2zm0 2zm0 18zm-1 16zm-1-1zm0-32zm0 6zm0-1zm0-7zm-1 34zm0-24zm-1 22zm0-16zm0-17zm-1 35zm0-24zm0-12zm-1 23zm0 11zm0-7zm0-23zm0 6zm0 9zm0-16zm0 9zm-1-3zm0 13zm0-10zm0 2zm0 2zm-1 3zm0 19zm0-39zm-1 21zm0 4zm-1-19zm0 3zm-1 15zm0 9zm0-3zm0 9zm0-16zm0 9zm0-3zm-2 6zm0-19zm0 9zm0-3zm0 16zm0-7zm-1-12zm0 4zm-1 6zm-1 5zm-6 5zm-2-4zm0-5zm0 1zm-2-15zm0 20zm0-21zm0 22zm-1-36zm-1 23zm0-18zm-1 20zm0-16zm-1-5zm0 9zm0 18zm0-16zm0-5zm0-5zm0 18zm-1-20zm-1 5zm0 27zm-1-36zm0 20zm0 6zm0 2zm-1 9zm0-30zm-1-1zm0 4zm-1 26zm0-1zm0-7zm-1-5zm0 6zm0-19zm0 2zm-1 9zm-1-7zm0-14zm-1 35zm0-19zm0-14zm-1 14zm0 22zm0-5zm-1-18zm0-1zm-1 12zm0-1zm0-25zm0 9zm0 29zm-1-7zm0-26zm0 8zm-1-10zm0 11zm2 28zm4 7zm1-4zm4 4zm0 2zm0-7zm0 4zm2-8zm1 9zm0-5zm1 0zm0 2zm1-1zm0 1zm1-6zm2 3zm1 4zm2 0zm0-4zm5-3zm1 5zm0-5zm0 10zm1-9zm1 6zm1-4zm1-2zm1 10zm1-7zm0 6zm1 0zm0-7zm2-2zm1 5zm0-1zm0 2zm0 2zm1-9zm0 6zm0 4zm1-1zm1 1zm1-6zm0 2zm2-1zm3 5z"/><path stroke-width="12" d="M6769 2705zm-3-10zm-245 3zm6 38zm1-3zm0-7zm234 2zm9 70zm-1 1zm-3-14zm-3-4zm-7-4zm-2-6zm-223 5zm-5 5zm-10 24zm3 3zm9 15zm1-10zm1 11zm11 10zm207-8zm6 0zm6 9zm1 1zm5-19zm2 12zm2-19zm-5 42zm-11 17zm-6-25zm-3 20zm-200-15zm-1 21zm0-19zm-1 15zm-5-23zm-1 7zm-1 25zm-8-24zm-5 7zm-2 18zm0 1zm-3-16zm0-2zm0 59zm8-24zm1-5zm1 10zm3 9zm4-6zm1-9zm4-13zm4 36zm3-9zm0-20zm196 8zm9 1zm10 18zm7 37zm-1-12zm0-14zm-8 23zm-7-27zm0 24zm-1-3zm0-16zm-1 24zm-4-8zm-1 10zm0-11zm0 2zm-2 6zm-3-9zm-1-7zm-1 7zm-2-6zm-186 20zm-7-33zm-1 38zm0-7zm-11-27zm-12 17zm-3 2zm-1 35zm4 12zm2-22zm0 25zm12 2zm3-28zm1 31zm2-37zm4 34zm5-3zm5-4zm4 0zm1-7zm168 16zm4-18zm2-1zm0-10zm12-3zm15 11zm1-6zm0 13zm5-5zm2 14zm1-19zm-2 39zm-7-4zm0 13zm-6-16zm-3-3zm-2 36zm0-16zm-3-17zm-2-3zm-4 6zm-1 7zm-2-11zm-4-2zm-1 7zm-1-1zm-3 1zm0 22zm-2-26zm-1 16zm-2-10zm0-5zm0 32zm-1-9zm-3 9zm-153-1zm-6-37zm-1 16zm-3 2zm0 18zm-13-12zm-5 4zm-8-14zm-1 23zm-1-9zm-2-5zm0-7zm-5 12zm-2-25zm-1 29zm0 9zm1 14zm1-7zm5-7zm1 15zm3-6zm1 13zm0 14zm0-21zm0 5zm3 13zm0-27zm3 26zm0-22zm1 15zm2-18zm3 23zm3-5zm1 10zm3-27zm1 16zm0 13zm2-13zm1-2zm3 0zm4-18zm6 12zm2 5zm4-1zm145 14zm10-24zm1 24zm0-18zm0 19zm1-5zm0-23zm1 17zm2-8zm2 16zm0-8zm1 12zm5-22zm3 11zm3-8zm0 11zm1 1zm0-6zm1-10zm0-1zm1 10zm1-11zm0-9zm3 6zm5 18zm4-6zm1 5zm1-17zm2-9zm3 32zm-5 24zm-1-13zm-3-2zm-4 10zm-1 17zm-1-11zm0-10zm-5-4zm0 15zm-5-15zm-1 4zm-4-2zm-8 8zm-1-1zm0 6zm-2 17zm-1-26zm-3 8zm-1-2zm0 14zm-1-13zm-1-4zm0 9zm-2 8zm-1 3zm-1 4zm-2-6zm0-25zm-1 7zm0 17zm-135 8zm-6-33zm-3 21zm-3 3zm-1 10zm-2-6zm-7-33zm-4 37zm-9-18zm-7 13zm-4-10zm0-1zm-2-4zm-1-10zm-4 29zm-6-28zm-1 25zm-1-29zm-2 18zm0 40zm0 16zm0-15zm1-23zm7 4zm0 12zm1 6zm1-15zm2 29zm1 0zm5-7zm1-22zm5 23zm1-23zm1 14zm0-11zm2 7zm8 12zm0 7zm1-31zm0 20zm3-14zm5 3zm1 18zm6-4zm0 7zm1-7zm1 1zm4-4zm7 1zm127-8zm3 7zm1-14zm0 28zm3-7zm3-28zm4 2zm1 7zm0 26zm0-10zm3-15zm3-13zm17 34zm3 1zm6-28zm1 5zm4-3zm5 28zm0-2zm2-20zm3 11zm-2 38zm-7 12zm-4-23zm-2-3zm-2 16zm-5-26zm0 2zm0 25zm-5 8zm-1-21zm-2 4zm-1-11zm-1-8zm-2 26zm0-19zm-1 19zm0-10zm-1 4zm-2-3zm-1 21zm-1-33zm-1-3zm-6 4zm-6 2zm0 11zm-1 18zm0-33zm-1 27zm-3-27zm0 32zm-1-4zm-3-23zm-2 18zm-2-11zm-1 17zm0-19zm-4 24zm-114-12zm-4-12zm-3 19zm-3 2zm0-30zm-2 18zm-4 3zm0-21zm-2 7zm0 22zm0 4zm-4-24zm-1 5zm-4-5zm-1-7zm-8 25zm-1-9zm-2-9zm-1-8zm-5 27zm-1-23zm-3 5zm-2-10zm-6-2zm-4 4zm-6-4zm0 36zm-2 19zm1 5zm3-5zm3 14zm1 7zm1-25zm1-10zm0 14zm2 17zm1-18zm0 14zm3 7zm1-33zm0 4zm0 24zm0-22zm3 19zm0-9zm3 4zm0-10zm9-1zm0 14zm1-21zm1-4zm0 15zm1 3zm3 16zm1-10zm1-7zm1-2zm1-3zm9 2zm1 19zm0-3zm3-23zm0 14zm1 7zm1-18zm1 13zm1-19zm4 5zm0 3zm7 19zm5-3zm2-3zm106 11zm0-16zm1 4zm1 10zm4-6zm0-1zm0-8zm0-9zm3 4zm2 14zm1-27zm2 22zm0 4zm0-29zm1 11zm1-11zm1 37zm1-8zm3-12zm0-9zm0 8zm3-17zm1 12zm2 20zm1-26zm3 6zm1 13zm9 9zm0-19zm1 5zm2 0zm4 14zm1-5zm3 3zm5 1zm1-33zm3 38zm3-5zm4-27zm1 5zm1 1zm1 61zm-2-13zm-1 11zm-10-27zm0 13zm-1-1zm-2 16zm-2-21zm-6 5zm-4 5zm-2 13zm0-30zm-5 35zm-1-28zm0 2zm-1 16zm-1 4zm-2 2zm-2-18zm-1-1zm0-16zm-4 6zm-4-4zm-1 27zm-2-2zm-2-19zm-2 30zm-1-13zm-3-2zm-1-15zm-2 2zm-2-1zm-2 30zm-5-15zm-1 2zm0-18zm-1 29zm-1-21zm0 3zm-1-15zm0 3zm-97 25zm-2-14zm-1 2zm-2-7zm-1 18zm-2 1zm-2-15zm-4 18zm-3-12zm-1-1zm0 16zm-1-32zm-1 27zm0-17zm-1-2zm-1-2zm0-5zm-2 13zm0-4zm-2 4zm-1 13zm-1-10zm-5 6zm-6-6zm0 15zm-1-1zm-3-21zm-1 22zm-4-32zm-1 22zm-1 10zm0-7zm-1 7zm-1-4zm-1 1zm-2-16zm-2-15zm-4 3zm0 30zm-1-2zm-1-11zm-3-6zm-4-11zm-5 2zm-1 0zm-3 44zm5 24zm2-26zm7 11zm1 11zm2-9zm0 5zm2 4zm1-5zm0-21zm0 3zm3 23zm0-22zm1 10zm12 0zm5 13zm2-3zm1-20zm2 14zm2 13zm0-18zm1 16zm1-21zm1-1zm1-4zm1 20zm0-20zm1 0zm0 22zm1-27zm1 25zm1-13zm0 2zm4 5zm1-20zm2 31zm0-31zm2 16zm1 10zm1-16zm1 7zm4 0zm0-11zm5-2zm2 0zm0 13zm0 11zm0-16zm6 17zm2 2zm80-6zm3-21zm3 13zm2-17zm1 28zm1-7zm1-9zm2 9zm0 7zm1-21zm0 4zm1 1zm2 14zm1-1zm0-21zm3 28zm2-3zm2-15zm0 21zm5-2zm4-23zm1-11zm0 14zm0-1zm0-10zm2 22zm2-15zm0 23zm1-11zm0-6zm1 9zm0-23zm5 17zm0 8zm1 5zm0-31zm1 0zm2 4zm3-2zm2 17zm2-4zm1-3zm0 13zm0 5zm4 3zm1-25zm2 27zm2-18zm2 13zm2 2zm3-28zm0 26zm0 3zm1-22zm2 3zm1-18zm2 1zm6 39zm-3 8zm0 16zm-5 15zm-1-27zm-1 6zm-1 18zm-1-22zm-4 21zm0-11zm-6-21zm-9 7zm0 2zm-1 10zm-2 17zm0-7zm-2-15zm-1 10zm0-22zm-1 27zm-1-27zm-1 18zm-3 9zm-1-9zm0 12zm0-32zm0 25zm0-21zm-1 25zm-1 0zm-1 4zm-1-2zm-1-1zm0 4zm-2-21zm-1 3zm-1-4zm-1 22zm0-23zm-4 11zm0-6zm-1 10zm-1 4zm-1-26zm-1 20zm-1-11zm-1-15zm0 6zm-1-7zm0 34zm0-7zm-1-14zm-2 5zm-2-15zm0 18zm-2-6zm0 13zm0-15zm-2-3zm-2 2zm-1 12zm0-10zm-2 25zm-2-33zm-1 11zm-1 15zm-1-4zm-1-17zm-1 26zm-1-14zm-2-2zm-2 7zm-1-4zm-71 11zm-3-15zm-1 10zm-1-10zm-2-8zm-1 12zm-1 12zm0-11zm-1 0zm-2 10zm0 1zm-2-15zm0 6zm0 3zm-1-30zm-2 6zm-1 15zm0 11zm-2-29zm-1 30zm0-23zm0-10zm0 36zm0-23zm-3 2zm0-3zm0 12zm-2-11zm0-8zm0 32zm-3 1zm0-11zm-1-19zm-4 14zm0 15zm0 2zm-1-22zm-1-13zm-2 0zm-1 0zm-3 35zm-2-1zm0-17zm-1-9zm0-11zm-1 4zm-3 7zm-2 7zm0 3zm-2-2zm-1 17zm-1-32zm-2 12zm-5-8zm-2 26zm0-20zm-1 12zm-4-25zm-1 30zm-1-25zm0 15zm-3 14zm-1-1zm-1-4zm-1-26zm-6 6zm0 18zm-1-19zm-6 14zm-1-5zm0 30zm3 25zm0-29zm2 22zm0-9zm6-1zm4-3zm2-14zm0 8zm1 7zm5 6zm0-1zm1-16zm0 4zm1 2zm2 9zm1-10zm5 18zm1-17zm0 29zm1 0zm1-36zm5 34zm0-31zm0 15zm5-4zm1 0zm2 22zm0-21zm2 4zm2-1zm2-21zm2 25zm1-15zm6 11zm1 16zm2-22zm2 22zm3-7zm0-30zm1 7zm0 3zm1-5zm0 7zm1-5zm2-2zm0-4zm1-1zm1 11zm0-8zm0 32zm1 3zm0-16zm3-14zm0 22zm0-30zm0 26zm0-19zm1 16zm1-8zm1 5zm0-14zm0 13zm1-10zm3-6zm1 8zm1 23zm0-1zm1-32zm1 15zm65 11zm1-3zm2-13zm1 10zm0-10zm0-11zm1 38zm2-33zm1 14zm2-10zm0 9zm1-16zm1 29zm0-20zm1 24zm0-4zm1-18zm1 26zm0-8zm0-11zm1 4zm0-19zm1-2zm2 4zm0 26zm0-23zm1 26zm0-22zm3 16zm4 8zm3-7zm0-15zm0-9zm0 32zm1-9zm0-7zm1-13zm0 25zm0-9zm3-4zm4-13zm1-4zm2-5zm2 36zm1-1zm0-28zm4 18zm1-19zm3 12zm0-8zm2 20zm1 6zm0-30zm2-2zm4 20zm0-8zm1 20zm1-1zm3 4zm0-8zm3-16zm1-5zm0-8zm1 37zm4-18zm0 9zm2-11zm1 10zm6-14zm2 22zm2-20zm5-11zm0 14zm1-14zm-2 56zm-1 8zm-5-25zm-8 1zm-5-1zm-2 16zm-1 2zm0-18zm-1 13zm-1-9zm0 21zm-5-29zm0 12zm-3 4zm-3 16zm0-1zm-1-17zm0 3zm-1 5zm-5 11zm-3-4zm-2-2zm0 9zm-2 2zm0-19zm-1-14zm-1 0zm0 24zm-1-17zm-1-9zm-1 30zm-1 4zm-1-19zm-2 11zm0-8zm-1-1zm-1-12zm0-9zm0 3zm-3 27zm-1-30zm0 12zm-1 23zm-1-27zm-1-6zm-2 20zm-1-19zm-1 35zm0-29zm0-1zm-1 15zm-1 7zm-3 9zm0-1zm-1-21zm0 2zm-1-1zm-2 9zm0 7zm-1-22zm-2 3zm0 13zm0-26zm0 32zm-1-7zm0 3zm0-19zm-1 12zm-2-3zm0 8zm0-12zm-2-1zm0-10zm-1-4zm-1 37zm-1-33zm-1 17zm0-11zm-1 15zm0 10zm-57-11zm-3 1zm-1 13zm0-7zm-1-30zm0 37zm-2-20zm0-15zm-1-3zm0 36zm0-21zm-2-12zm-1 9zm-1 14zm0-16zm0 22zm0-33zm-1 1zm-1 35zm-1-27zm-1 28zm-2-34zm0 12zm-1 19zm0-11zm-4-11zm0-9zm-3 2zm-1 34zm-3-35zm0 2zm-1 5zm0 11zm-1 5zm0 5zm-2-12zm-1 4zm-1 13zm-1-27zm-3-4zm0 18zm0-22zm-1 9zm-1 18zm0-1zm-2-25zm-3 33zm0-19zm0 2zm-1-19zm0 3zm0 19zm-1-4zm-1 13zm-1 8zm0-29zm-1 24zm-3-20zm0 15zm-1 0zm-1-6zm-4 4zm-1 1zm0-25zm-3 13zm0 14zm0-23zm-1 10zm-1 13zm-1 5zm-1-29zm-1 7zm0 13zm0 12zm-1-31zm-1 22zm-7-25zm-3 8zm-2 27zm-1-23zm-4 20zm-3-24zm-2 10zm-1 8zm0-28zm-2 35zm-2 24zm6-5zm0-1zm4 9zm0 14zm4-21zm8 21zm2-27zm3 18zm0-10zm3-13zm2 7zm0-11zm3 30zm3-11zm0-9zm2-10zm1 5zm3-4zm0 4zm1 21zm9-27zm1 15zm2-9zm0 19zm1 6zm1-2zm0-7zm2-20zm1 8zm2 11zm1-16zm3 26zm1-26zm0-6zm1 25zm1 0zm2 8zm0-8zm0-21zm0 25zm1-17zm0 10zm1-2zm1 0zm0-18zm0 3zm3 25zm1 6zm0-34zm2 20zm0 11zm1-22zm1 12zm1-9zm0-14zm0 2zm1 9zm0 28zm0-33zm1 14zm0-9zm1 7zm2 10zm0-18zm0 3zm1-3zm1 11zm0-4zm2 13zm0-21zm1-8zm1 30zm1-5zm0 11zm0-9zm0 4zm1 3zm53 3zm6-12zm0 4zm1-30zm1 17zm0 1zm2-1zm2 5zm1 11zm0 3zm1-33zm1 16zm0-11zm1 24zm1-23zm5 19zm1-18zm1 19zm2-25zm2 29zm0-21zm1 11zm0 2zm1-21zm1-1zm0 2zm1 26zm0 6zm1-14zm0-20zm1 25zm0-10zm0-6zm0 2zm1-8zm1-1zm1 0zm1 34zm1-36zm2 35zm1-38zm2 16zm1-12zm0 35zm1-6zm3-12zm0 15zm1-9zm0-27zm1 4zm1-1zm2 17zm1 10zm1-27zm0 25zm2-21zm0 11zm0 12zm1 5zm0-21zm1 6zm0-17zm0 3zm7 23zm1-7zm1-6zm2 14zm1-25zm1-2zm1 25zm2-17zm1-4zm1-4zm0 31zm3-12zm6-22zm4 12zm4 24zm-6 16zm-2 17zm-6-4zm-1 8zm-3-7zm0 11zm0-18zm-3 0zm-4-11zm-1 2zm-1 10zm-4-9zm-2 22zm-3-10zm-1 13zm-1-6zm-5-4zm0-10zm-3-13zm0 35zm-2-12zm0-11zm0-6zm-1 28zm-3-5zm-1-5zm0-11zm-1-7zm-1 10zm-1 0zm0 7zm-1 12zm0-32zm-1 17zm-1 5zm-1-27zm0 28zm0-20zm0 13zm-1 1zm0-1zm-2 14zm-1-26zm0-5zm0 1zm-2 23zm0 3zm-2-25zm-1-4zm-1 3zm-1 1zm0 15zm-1 0zm-3 2zm0 4zm-2-19zm-1 12zm-2 9zm-2-6zm0-17zm0 22zm-1-1zm0-8zm0-6zm0 12zm-1-19zm0 32zm-4 0zm0-37zm-1-2zm-1 31zm-2-9zm-2 4zm-1-15zm0 27zm-52-6zm0-21zm-1 12zm0 3zm-1 4zm0-29zm-1 24zm0-9zm-2-11zm0-2zm-1 7zm0 14zm-1 0zm-1 5zm0-19zm-1 29zm0-23zm-1-3zm-1 3zm-1 1zm0 2zm-1-10zm0 12zm0 2zm-1-12zm0 24zm-1-27zm-2-5zm0 25zm-1 3zm0-16zm0-9zm0 32zm-1-27zm0 14zm-2-21zm-2 11zm-1-13zm-3 27zm0-19zm-2 9zm-1 3zm0 11zm0-30zm0 11zm0 3zm-1 5zm0 8zm-1 4zm0-10zm-1 6zm0-6zm-2 13zm-1-29zm0 26zm-1 3zm-1-37zm-1 15zm-1 13zm0-7zm-5-9zm0 5zm-3-5zm0 17zm-6-4zm-7-8zm0 12zm-1-10zm-1-5zm0-14zm-1 9zm0 27zm-1-22zm-4 11zm0-21zm-4 2zm0 2zm-5-8zm-8 18zm0-11zm16 34zm0 2zm1-1zm6 3zm5-2zm2 2zm5 23zm0 1zm2-15zm3 13zm3 1zm1 0zm1 5zm0-8zm3 13zm1-24zm2 5zm1 20zm0-22zm2 20zm1-7zm1-3zm0-18zm1 1zm1 25zm2-15zm0-7zm0-1zm0 14zm2 10zm0-10zm0 12zm2-29zm3 10zm1 15zm0-31zm2 34zm1 0zm0-9zm2 1zm0-8zm0-9zm1-1zm1-7zm0 32zm0-10zm1-6zm0-5zm0 24zm1-35zm1 27zm0-7zm0-18zm1 2zm1-7zm0 21zm1-20zm1 28zm2-13zm0-1zm0-10zm1 9zm0 13zm1-5zm0-19zm1 13zm51 19zm0-23zm0 12zm0-11zm0 13zm0-23zm0 12zm1 21zm1-19zm0-10zm0 19zm1-21zm1 27zm1-5zm0 2zm1-13zm0 12zm1-25zm1 8zm0 5zm1-7zm0 12zm0 12zm0-9zm0 1zm0 5zm1 3zm0-28zm1 20zm0-21zm2 30zm2-4zm0-11zm1 4zm0 1zm3-23zm1 13zm1 4zm1 11zm1-13zm1-4zm0 24zm1-36zm0 2zm3 23zm1-26zm6 24zm2-14zm0-2zm4 21zm1-13zm1-16zm0 23zm0-6zm6-3zm7-8zm2-3zm1 3zm1 17zm2-6zm1-1zm15-12zm-36 49zm-1-12zm-10 3zm-1 0zm-2 4zm0-7zm-3 19zm-1-5zm0-7zm-1-8zm-3 20zm0-18zm-1-1zm-3 6zm-1 9zm0 5zm-1-2zm-1 8zm-2-22zm0 28zm-1-21zm0-11zm-1 2zm-3 12zm0 22zm0-11zm0-20zm0 14zm0-7zm-2-1zm0 16zm0-8zm0-1zm-1-11zm-1 0zm-1 10zm-1 4zm0-7zm-52-9zm0 32zm0-24zm-1-13zm-1 13zm0 13zm-1 9zm-1-20zm0-11zm0 3zm-2-5zm0 12zm0 15zm-3-26zm0 13zm-1-16zm0 36zm-2-24zm0 25zm-2-33zm-2 29zm-5-21zm-2 3zm-2 13zm0-9zm-1-12zm0 2zm-1 7zm-4-12zm-1 1zm0 13zm-1-5zm28 30zm1 2zm1-6zm0 1zm3 8zm52-5zm2 2zm0 4zm3 0z"/><path stroke-width="16" d="M6872 2318zm-442-8zm-3 2zm-12 46zm20-17zm2 6zm7-7zm17 16zm359-23zm4 18zm34 1zm6-20zm4 11zm1-11zm-19 48zm-14 17zm-8-33zm-382 22zm-19-16zm0 16zm-1-20zm13 57zm12 1zm353-3zm12 3zm7-10zm5 6zm12 15zm7 2zm18-9zm6 33zm-13 0zm-29 9zm-2-13zm-1 17zm0-11zm-9-23zm-11 38zm-3-24zm-315 0zm-52-2zm-14 25zm-1 20zm3 13zm4-29zm15-1zm2 21zm6 8zm1 5zm5-22zm5-5zm9 4zm0 13zm349-10zm5 16zm5 8zm9-27zm2 12zm26 56zm-8-23zm-5 18zm-9-9zm-1 11zm-4-4zm-4-12zm-1 8zm-10 9zm-2-1zm-4-18zm-2-15zm0 2zm-8 4zm-6 14zm-14 0zm-3 13zm-284 2zm-8-3zm-8-19zm-10-12zm0 26zm-7-30zm-3 13zm-12 10zm-1-12zm-1 25zm-7-20zm-6 1zm-4 5zm0 11zm-16 2zm4 29zm6 11zm30-18zm12-7zm11 3zm1 12zm10 6zm287-8zm1 7zm3 0zm4 7zm5-2zm5-28zm1 25zm3 6zm12-28zm1-5zm5 24zm4-28zm3 10zm38-8zm1-2zm6 36zm-7 42zm-3-10zm-3 2zm0-15zm-3 14zm-22-15zm-5 18zm-2-18zm-2 10zm0-1zm-1-19zm-25 22zm-5-19zm-1 9zm-2-17zm-277 20zm-18 11zm-1 6zm-1-10zm-8 6zm-2-30zm-9-2zm-1 27zm-3-15zm-10 23zm0-19zm-3 14zm-1-17zm-2 23zm-25-2zm-3 1zm-6-10zm-4 1zm2 49zm8-14zm7 12zm6-9zm1-4zm11 13zm0-19zm3 15zm1 2zm18-7zm4-18zm17 12zm5 0zm10 6zm266 7zm1-25zm3 12zm6 17zm6-13zm3-8zm8 12zm5-8zm21-9zm10 2zm11-1zm2 26zm0-8zm2 9zm6-25zm3-6zm6 5zm-4 31zm-1 27zm-1-16zm-6 14zm-3-12zm-11 22zm-9-10zm0-10zm-1-9zm-5 4zm-12 14zm-1 0zm-17 7zm0-29zm-5 26zm-4-27zm-10 18zm-263-1zm-6 1zm-5-9zm-4 4zm0-2zm-7 6zm-3 0zm-1-10zm-2 27zm-1-33zm-8-4zm-10 11zm-2 10zm-4 13zm0-31zm-6 35zm-6-27zm-22 7zm-1 7zm-3-20zm-3 21zm-4-13zm0 49zm7 5zm2 7zm3-3zm4-13zm3 0zm5 11zm9-12zm0-2zm6 17zm6-11zm2-9zm5-1zm8 5zm4 13zm6-15zm3 8zm0-23zm5 6zm7 4zm6-8zm263 7zm2 24zm0-29zm1 11zm1-13zm9 15zm9-15zm5 23zm10-3zm1 10zm4-31zm4 33zm4-5zm4-14zm1 19zm3-14zm1-16zm4 4zm27 23zm10 24zm-1-8zm-4 19zm-9-11zm-13 19zm-2-12zm-5-17zm-3 31zm-8-9zm-2-12zm-12-14zm-3 21zm0 13zm-3-32zm0 34zm-3 1zm-1-15zm-5-5zm-3 17zm-9-28zm-2 20zm0-2zm-267 3zm-6 7zm-2-19zm-5-14zm-7-2zm-7 13zm-6-11zm-7 24zm-1 5zm-5-24zm-7 6zm-7 14zm-3 9zm-1-2zm-2-30zm-7 28zm-3-23zm-1 20zm-3-14zm-11 21zm0-23zm-7 49zm4 0zm15-17zm6-1zm12 1zm1 30zm1-19zm5-8zm3 27zm7-34zm1 37zm0-23zm2-5zm1 13zm0 11zm1-11zm2-8zm3-9zm3-2zm2 23zm0 4zm2-23zm0 6zm5 4zm6-7zm2 23zm1-12zm0-17zm11 31zm257-32zm7 8zm1 10zm2 3zm5-13zm1 17zm6-6zm4-21zm1 5zm4 1zm0-2zm7-3zm3 9zm17 20zm5 6zm3-8zm2-23zm3 29zm10-29zm7-1zm4 3zm6 26zm3 20zm-2 8zm-6 15zm-8-28zm-12 18zm-8 3zm-13 2zm0-19zm-4 11zm0-22zm-3 23zm-7 13zm-11-26zm-4 7zm-4 12zm-5-18zm-10-6zm-3 5zm-259 0zm-6-4zm-1 19zm0-16zm-5-2zm-2 6zm-1 17zm-1-23zm-1 16zm-1-16zm-6-1zm-6 21zm-18-22zm-1 23zm-6-9zm-9 12zm-9-14zm-2-2zm-4-8zm-9 28zm0-23zm-3 0zm-4 19zm-2 21zm7 1zm0 11zm4-24zm0-2zm4-1zm2 24zm3 5zm4-1zm3 11zm1-11zm1 1zm4-29zm11 12zm2 23zm21-12zm0-14zm0 27zm3-13zm18-23zm1 18zm1-12zm6 0zm1 22zm258 8zm10-35zm2 22zm4-4zm4 3zm1-1zm4-13zm7 10zm3-12zm4 28zm3-7zm4 11zm0-5zm3-33zm11 24zm3-2zm7 7zm13-13zm8-4zm0 9zm9-13zm0 33zm-1 36zm-10-24zm-4 4zm-1 7zm-2-18zm-2 32zm-1-34zm-3 16zm-10-8zm0 9zm-5-18zm-11 26zm-2 3zm0-31zm-14 35zm-1-27zm-2-2zm-1-5zm-4 21zm-7-18zm-2 32zm-5-26zm-3-9zm-264 9zm-4 26zm-1-29zm-1 4zm0 27zm-1-9zm-4-21zm-2-8zm-2 14zm-2 5zm-11 19zm-1-38zm-4 20zm-6-15zm-6 33zm-1-29zm-3 22zm0 3zm-4-13zm-4-22zm-3 38zm-8-25zm-3 21zm-1-15zm-2-17zm-1 2zm-4 34zm-1-12zm-1 13zm-3-35zm-2 19zm-1 16zm0-10zm-8 4zm0-10zm0-22zm-1 12zm-3 6zm3 42zm10 14zm1 0zm2-13zm6 7zm6 9zm7-16zm2-2zm7 7zm1 7zm4-20zm1 17zm0 4zm3-5zm0-22zm2 2zm4 1zm9 2zm1-1zm2 7zm0-2zm0 4zm1-2zm5-5zm1-12zm0 17zm0-14zm2 30zm8-22zm4 13zm265 3zm6-17zm3 18zm1 4zm4 2zm2-13zm3-13zm2 11zm5-13zm1-7zm11 16zm1 3zm1-5zm2 8zm0-2zm8-19zm3 8zm10 21zm1-11zm4-20zm9 20zm2-14zm4 26zm1-26zm3-4zm8 27zm0 34zm-4-9zm-7-6zm-4-6zm-5 25zm-1-15zm-15 2zm-1-14zm-11 32zm-5-11zm-10 3zm-1-16zm-2 0zm-3-3zm-11 28zm-2 3zm-2 1zm-8-19zm-2 2zm-1-15zm-2 21zm-258 1zm-1-5zm-1-7zm-3 12zm-1 8zm-2-23zm-1 19zm-4-10zm-4 18zm0-15zm-3-4zm-7-3zm-3 4zm0 13zm-7-26zm-3 8zm-4-10zm-1 4zm-2 4zm-7 9zm-3 6zm-1-17zm-5 18zm-4-16zm-11 24zm-6-4zm-1-22zm-4 16zm0-24zm-6 4zm-1-3zm-4 11zm2 60zm5-15zm11 18zm3-10zm3-12zm3 21zm9-35zm3 23zm6-22zm5 15zm2 10zm3-2zm2 11zm7-1zm0-10zm1 12zm4-28zm2 3zm8 8zm7 11zm0-2zm1-15zm7 18zm0-19zm1 7zm2-12zm2 24zm2-1zm258-18zm0 18zm5-22zm2 16zm1-17zm6 27zm6-7zm0-2zm1-28zm2 7zm3 19zm3-7zm2 14zm6-19zm5-10zm0 4zm1 12zm2-10zm2 29zm1-4zm1 0zm3-2zm0-14zm2 15zm5-25zm3 16zm3-3zm0-21zm12 24zm0-19zm1 5zm3-3zm3 24zm2 1zm1-26zm3 29zm-5 21zm-1 22zm0-22zm-8 3zm0 16zm0-23zm-1 6zm-2 4zm-1 5zm-8-6zm-2 10zm-3-3zm-1-1zm-1 9zm0-5zm-3 6zm-8-22zm-5-7zm-3 3zm-8 2zm-3 21zm-2-30zm-1 18zm-6-19zm-1 19zm0-20zm0 25zm-4-9zm-1 10zm-3-23zm-2 10zm-1 0zm-4 13zm-1 2zm-266-14zm-6 15zm-1-13zm0 7zm-8 8zm-1 0zm0-1zm-1 6zm-2-25zm-2-14zm-6 14zm-2 19zm0-14zm-2 5zm-2 12zm-1-9zm0 9zm-1-25zm-5-10zm0 9zm-1 15zm-7 12zm-1-21zm0 17zm-3-22zm-1 15zm0 9zm-7-20zm-1-6zm-4-1zm-2-3zm-8 28zm0-21zm-1 25zm-16 3zm13 39zm2-20zm3-5zm7-3zm8 20zm4-14zm1 9zm2-3zm1 8zm4 5zm12-6zm1-5zm2-1zm0-23zm1 3zm4 26zm1 7zm2-3zm1-12zm3-20zm0 8zm2 12zm5 5zm5-5zm3-1zm2 2zm8 8zm1 6zm261-27zm9 21zm1-7zm3-14zm1-4zm1 15zm6 5zm0-10zm8 23zm3-15zm6-16zm2-2zm3 27zm6-15zm16-16zm4 16zm1-13zm2-2zm1 13zm3-12zm11 16zm8 3zm2 41zm-2 4zm-4-8zm-11 4zm-9 3zm-5-21zm-2 26zm-2-5zm-2-27zm0 32zm-1-6zm-1-22zm-4 4zm-3 10zm0-12zm-2 17zm-6-1zm0 7zm-9 5zm-2 4zm-1-11zm0-16zm-4 18zm0-17zm-3 24zm0 2zm-1-37zm-2 15zm-1-14zm-1 30zm-4-20zm0-11zm-7 19zm-2-3zm-1-13zm0 9zm-1-9zm-7 20zm-1 8zm-258 1zm0-10zm0 7zm-6 9zm0-29zm-6 0zm-2-9zm0 22zm0 9zm-11-10zm-3 8zm-1-24zm-2 29zm0-35zm0 9zm-4 28zm-3-6zm-9 4zm-5-20zm-1-8zm-2 3zm-1 6zm0-3zm-2 11zm-10-4zm-5 3zm-6-21zm-4 37zm-1-24zm0 3zm-1-11zm-3-3zm-2 3zm-1 2zm-2 13zm-5-19zm1 65zm10-4zm1-22zm3 30zm3-18zm8-2zm2 20zm0-6zm1-6zm10-7zm1 23zm4-33zm1 34zm1-8zm0 9zm1-18zm5 16zm0-22zm5 0zm1 23zm4-2zm1 3zm0-24zm9-12zm2 1zm1 22zm2-24zm7 11zm3 9zm4-15zm4 14zm0 2zm3 14zm2-13zm263 14zm2-25zm2 1zm4 16zm2-12zm2 4zm1 7zm3 1zm1-28zm1 21zm2 10zm0-14zm0-12zm2 19zm0-24zm0 13zm3-1zm1 7zm0-4zm2 15zm4 0zm15 5zm6-12zm2 11zm3-20zm7 0zm0 18zm2-17zm2 11zm5-3zm0 4zm18 26zm-2-4zm-10 8zm-6 7zm-22-7zm-9 21zm-2-19zm-9 10zm-2-9zm-6 0zm-6 5zm-3-10zm-6 5zm-1 18zm-3-24zm-5 1zm-2 9zm-1-11zm-4-3zm-256 12zm-2-13zm-3 20zm-6-19zm-1 18zm-4-8zm-13 15zm-1-30zm-3 16zm-5 6zm-1-5zm-3-16zm-2-6zm0 3zm-2 9zm-3-2zm-5-4zm0 31zm-1-6zm-7-29zm-12 31zm-7-26zm-20 39zm1 6zm1 18zm3-28zm0 31zm7-1zm0-11zm3 1zm12-7zm1 22zm0-1zm4-5zm0-29zm0 8zm1-9zm1 28zm1-5zm1-20zm2 13zm2 11zm3-2zm1-24zm1 13zm6 21zm11 0zm3-27zm1-5zm3-1zm2 15zm0-8zm1 23zm6 3zm3-6zm1-17zm9-12zm0 34zm268-24zm0-10zm5 9zm1 24zm1-35zm5 16zm1 9zm2-15zm0 27zm0-3zm2-7zm3 11zm5-16zm3-19zm2 2zm1 26zm2 2zm5 1zm1 2zm0-1zm4-24zm1 25zm0-20zm4 20zm2-9zm6-13zm0-11zm2 12zm3 7zm4 13zm1-2zm2-21zm10 8zm7-7zm2 21zm4-2zm7-8zm-10 54zm-2-18zm-1 17zm-13-36zm-1 17zm-4-13zm-5 12zm-6-10zm-4 13zm-1-6zm-1-11zm-5-2zm-2 4zm-3-5zm0 15zm-2-10zm-14 14zm-2 3zm-2-2zm-2-8zm-4 18zm-4-1zm-1-5zm-4-17zm-1 29zm-3-8zm-1 7zm0-23zm-258 3zm-1 17zm-2 7zm-2-15zm-3 4zm-7-3zm-6-6zm-2 11zm0-28zm-11 33zm-1-24zm-5-7zm-2 10zm-4 7zm0-1zm-2-1zm-1 11zm-11-5zm-6-11zm-9-2zm-7 1zm-9-7zm-1 3zm-3-5zm-5-4zm17 75zm8-30zm1 10zm15 21zm11-1zm4-25zm8 1zm1 10zm1-11zm1-2zm1-2zm3 4zm0-7zm2 20zm2 16zm1-8zm3-5zm3 3zm0 8zm0-37zm1 11zm1 15zm7-8zm1 12zm5-10zm1 14zm258-9zm0 4zm3 8zm2-4zm1-8zm1-18zm7 19zm5 3zm0-11zm4 3zm1 1zm1 3zm12-17zm1 6zm12-13zm12 37zm7-36zm23 23zm-5 16zm-40 15zm0 12zm-13-11zm-4-14zm-16 35zm-10-27zm-2 20zm-2 1zm-257-5zm-3 8zm-4-18zm-25-9zm-9 31zm-17-13zm50 17zm7 30zm1-31zm1 10zm259 9zm4-20zm3 34zm7-30zm1 15zm11-17zm14 13zm-33 36zm-5 6z"/><path stroke-width="20" d="M6899 2316zm-13-4zm-569 43zm8-11zm4-22zm8 35zm1-3zm1-31zm45 18zm3-8zm1-13zm3 29zm8-8zm0 4zm475 8zm4-9zm14 0zm27 5zm12 7zm32-31zm9 53zm-8 20zm-6-4zm-41-34zm-1 32zm-1 6zm-19-25zm-4 23zm-478-14zm-7-14zm-37 15zm-19-16zm-6 20zm-2 11zm-7-2zm-2 3zm-20 13zm13 24zm23 3zm5-28zm24-4zm505 2zm3 14zm13-5zm5-4zm34 22zm3-20zm0 18zm2-3zm4-16zm15 20zm-22 23zm-2 18zm-13-17zm-14 17zm-4-22zm-5 21zm-6-3zm-21-15zm-464 16zm-12 2zm-17-17zm-20 20zm-49 15zm7-5zm9-5zm5 23zm12-23zm7 34zm13-27zm0 13zm6 16zm9-15zm7 2zm0-11zm1 12zm3-26zm7 32zm10-14zm0-6zm1 7zm465 16zm7 2zm0-1zm6-27zm9 15zm2-8zm0-5zm22 3zm4 5zm5 5zm27 10zm10 7zm-2 11zm-8 1zm-22-1zm-47 9zm-1 6zm-4-25zm-476 31zm-2-26zm-1 12zm-2 0zm-7-15zm-4 13zm-9 4zm-17 6zm-6-27zm-3 22zm-10 8zm-30-27zm-1 70zm6-27zm10 20zm1 3zm2-10zm2-10zm0 25zm4 4zm19-38zm17 33zm1-26zm7 29zm7-11zm5 10zm6-11zm6 3zm4-12zm466 21zm11-6zm10-12zm0 4zm5 13zm2-32zm66 2zm2 64zm-24 1zm-10-28zm-4 12zm-6 4zm-12 18zm0-25zm-1-2zm-3 26zm-31-14zm-3 17zm-1-31zm-5 5zm-467 18zm-3-18zm-14 8zm-1 8zm-8-1zm-16-5zm-15-18zm-25 5zm-10 61zm14-21zm3 20zm23-8zm4-20zm5 3zm4 1zm1 20zm7 5zm1-4zm6-11zm18 13zm9-8zm470-6zm2 2zm4 12zm5-22zm11 29zm2-2zm7-3zm20 0zm7-20zm4-10zm10 25zm1-24zm2 32zm2-2zm14 7zm3 16zm0-5zm0-10zm-11 10zm-11 17zm-1-3zm-17-16zm-6 24zm-5 4zm-5-33zm-4 20zm-7-22zm-5 6zm-2 27zm-2-24zm0-2zm-7-6zm-5 7zm-9 8zm-1 16zm-478-33zm-8 5zm-1 3zm-5 30zm-2-17zm-1-18zm-9 21zm-23-3zm-1 18zm-1-28zm-5 27zm-3 1zm-2-38zm-5 2zm-1 24zm-9-26zm-8 25zm13 43zm1-5zm2-23zm7 36zm3-35zm9 23zm4-25zm9 17zm4-11zm1 30zm2-23zm2 5zm7-1zm1 12zm3 4zm2-9zm11-11zm5-11zm8 6zm1 12zm466 0zm1 11zm16-13zm10-2zm11 6zm3-10zm3-12zm8 24zm0-12zm1 20zm2-8zm0-20zm8 1zm4 11zm4-11zm0 23zm11-13zm17 35zm-14 29zm-2-16zm-1 3zm-18-8zm-7 12zm-15-2zm-4 9zm-3-28zm-5 18zm-1-16zm-2 19zm-15-1zm-7 5zm-7-2zm-477-30zm-6 25zm-2-8zm-20-5zm-6 0zm0-11zm-7 19zm-2-2zm-8 14zm-4-21zm-3 9zm0 13zm-4-24zm-15 14zm-2 12zm1 11zm7 4zm11 24zm5-23zm1 18zm11 4zm2-15zm1 18zm6-23zm4 23zm1-20zm3 2zm11-2zm6 11zm10-26zm0 27zm6-25zm8 9zm463 19zm2-13zm9-13zm8 9zm10-3zm14-13zm1 35zm7-10zm0-24zm4 26zm1 6zm12-28zm6 32zm8-5zm3 4zm6-22zm4 44zm0-1zm-9-7zm-1 27zm-3-23zm-8-7zm-9-3zm-11 30zm-24-33zm-5 35zm-4-9zm-6 8zm0-28zm-9 23zm-4-15zm-467 8zm-5 8zm-5 0zm-4-5zm-7-16zm-2 19zm-3-7zm-5-20zm-11 23zm-5 6zm-6-1zm-4-29zm-4 34zm-8-10zm-1-16zm-5 16zm-5 0zm-15-5zm-2 51zm7-3zm2-15zm1-4zm25 30zm2-23zm6 6zm4 14zm8-28zm2 12zm5 17zm5-24zm8-10zm1 2zm6 28zm2-29zm3 31zm6-1zm2-4zm478-30zm11 15zm2 24zm1-18zm3 8zm2 4zm7-32zm5 33zm5-13zm1-13zm2 30zm2-33zm18-4zm1 23zm4-9zm24 60zm-2-19zm-16 15zm-8-8zm-4-5zm-2-13zm-2 18zm-4-22zm-7 30zm-3-18zm-7-13zm-4 3zm-1 6zm-1 17zm-6-22zm-8 15zm-8 9zm-1-15zm-1-13zm-4 0zm-3 12zm0 27zm-4-1zm-1-3zm-465-21zm-4 6zm-8 11zm-10-24zm-1 0zm-4 19zm-1-1zm-2-8zm-7 3zm-2 9zm0-28zm-2 5zm-3 23zm-5-14zm-40-11zm-5-1zm0-1zm-2 30zm-3 40zm3-28zm5 34zm7-9zm6-3zm2-16zm1 24zm0-2zm12-21zm3 6zm2-6zm1-10zm12 27zm1-14zm14-11zm20 9zm2 15zm2-25zm472 2zm22-4zm11 32zm2-10zm1-3zm10 3zm4-13zm7 9zm15-17zm1 38zm8-25zm7 24zm7-6zm2-23zm-12 44zm-3 24zm-3-31zm-11 21zm-6 12zm-1-18zm-4 9zm-1-6zm-2-4zm-8 9zm0-1zm-2-9zm-3 0zm-1 0zm-2-18zm-9 8zm-12 30zm-4-20zm-5 12zm-1 5zm-1-13zm-6-9zm0 13zm-465 4zm-5-6zm-2-20zm-1 3zm-24 20zm-10 9zm-1-7zm0-29zm-2 10zm-10 16zm-10-15zm-6 19zm-1 2zm0-6zm-3-23zm-9 0zm-1 34zm0-19zm-1-8zm-8-2zm0 53zm3 9zm1-16zm3-5zm3 10zm1 2zm20 11zm13-11zm5-13zm1 17zm11-5zm7 14zm9-34zm8 36zm2-21zm4-1zm465-4zm1 27zm0-10zm3-1zm4 5zm1-28zm3 0zm9-2zm5 30zm6-25zm3-4zm7 1zm6 25zm1-14zm20 19zm5-8zm18-3zm6 42zm-5-23zm-2 21zm-16-23zm-1 24zm-3-2zm-6-15zm-6-3zm-3 34zm-1-16zm-5-9zm-8-3zm0 27zm-2-23zm-5 22zm-1-17zm-5 18zm-4-7zm-2-2zm-8-19zm-2 30zm-12-1zm-2-19zm-470 17zm-4-26zm-6-9zm-1 27zm-2 0zm-1-13zm-3 16zm-1-30zm-7 15zm-10 5zm-3 17zm-9-29zm-2 9zm-3-12zm-2 14zm0 10zm-4 2zm-7 4zm-8 2zm-7-1zm-2-36zm-4 16zm-2-5zm-3 20zm22 45zm25-6zm1-7zm11 1zm2-24zm0 30zm2-31zm3 27zm6-1zm7-15zm4 26zm1-19zm1 21zm1-17zm1 7zm5-9zm9 9zm0-23zm465 31zm3-11zm4-12zm0 20zm10-10zm1-1zm14 6zm10-21zm8 1zm10 20zm22-3zm1-20zm8-2zm2 11zm2-14zm-1 43zm-4 26zm-10-1zm-16-8zm-1 14zm-2-5zm-17-19zm-3 11zm0 8zm-7-21zm-2 21zm-11-12zm-3 17zm-3 3zm-6-23zm-3 8zm-1-2zm-7-9zm-1 27zm-1 0zm-461-33zm-2 17zm-5-19zm-3 17zm-9 11zm-6-12zm-11 1zm-13 16zm-2-34zm-2 6zm-5 20zm-2-4zm-17 14zm-18-12zm1 26zm1-12zm7 4zm33 29zm25-5zm5 8zm4-9zm3 4zm14-23zm464-7zm11 16zm23 9zm11-3zm0 13zm1-35zm11 35zm1-27zm6 7zm10 22zm4-34zm3-4zm3 29zm5 16zm-1 25zm-8 7zm-7-7zm-32 5zm-3-7zm-7-29zm-10 14zm-6 9zm-13 2zm0-4zm-3 3zm-1-17zm0 32zm-463-22zm-2 21zm-10-17zm-4-6zm-2-7zm-4 19zm-9 6zm-5-33zm-2 2zm-5 35zm-21-23zm-32 32zm47-3zm8 0zm0 19zm32-18zm2 5zm5 18zm1-8zm2 17zm466-34zm1 10zm9 8zm4-18zm6-1zm1 24zm9 10zm10-5zm0-13zm6 4zm4-7zm7 20zm24-16zm-70 35zm-8-5zm-2 28zm-471-33zm-2 18zm-1 26z"/><path stroke-width="24" d="M7050 2318zm-2-1zm-73-7zm-671 9zm-87 32zm10-26zm2-5zm0 31zm16-27zm2 26zm7-12zm15 6zm7-24zm10 29zm13-27zm2 34zm675-15zm7-1zm5-4zm8 13zm10-5zm32-14zm3 7zm1-17zm9 22zm9-8zm7 25zm8-27zm-69 55zm-694-2zm-29-17zm-4 28zm-25-31zm-30 14zm-11 53zm2-6zm7 11zm11 1zm0-34zm3 25zm3-28zm24 16zm16 11zm6-10zm23 10zm717-25zm37 9zm8 37zm-6 26zm-22-5zm-10-8zm-11-16zm-16 22zm-28 9zm-687-2zm-18-25zm-1-2zm-1 27zm-3-8zm-43-6zm0-16zm2 43zm65 12zm4 12zm1-27zm2 21zm1 8zm0-29zm8 0zm674 3zm36 27zm3-13zm4 16zm3-4zm1-21zm1 24zm14-3zm23-16zm11 40zm-10 4zm-48-11zm-12 11zm-5-17zm-9 5zm-11 25zm-5-7zm-667-26zm-1 7zm-35-7zm-7 27zm0-6zm-39 12zm-7-12zm-5 8zm-4 45zm14-30zm5 26zm57 7zm694-29zm8 7zm11 10zm5-9zm22-10zm2 30zm23-33zm18 60zm-2-13zm-12 18zm-11 5zm-5-4zm-11-2zm-4-23zm0-6zm-12 39zm-29-39zm-3 22zm-1 17zm-3-36zm-669 27zm-15-26zm-1 33zm-5-26zm-3 22zm-2-8zm-6-19zm-2 12zm-10-18zm0 32zm-2 1zm-1-17zm-3-9zm-4 14zm-3-4zm-9 6zm-3-8zm-17 4zm-5 10zm19 27zm3-14zm6 12zm3 3zm6 16zm1-8zm4-23zm10 3zm0 4zm7 19zm21-17zm6 4zm676 20zm4-24zm10-6zm4-5zm11 10zm2 26zm1-10zm0-2zm6-6zm9-13zm2 15zm5 19zm0-20zm0 4zm4-12zm5-8zm26 22zm5-20zm-4 70zm-7 0zm-34-16zm-4 18zm0-28zm-4 3zm-3-8zm-3 21zm-16 9zm-10-13zm-3-16zm-676-2zm-13 32zm-22-15zm-20-13zm-5-3zm-2-2zm-5 22zm-3 15zm-5-8zm-1-3zm-2-7zm-18 21zm23 36zm5-35zm18-1zm2 14zm6-9zm7 18zm5-7zm10 21zm1-33zm0 9zm3-7zm7 10zm8 6zm668 15zm4-13zm9-17zm4-8zm8 38zm2-34zm15-5zm4 5zm6 7zm0 24zm14-6zm21-6zm9 18zm-18 15zm-13 2zm-11-12zm-3-5zm0 12zm-4-2zm-3 18zm-18-26zm-14 21zm-4-2zm-2-23zm-7 39zm-691-33zm-1 24zm-3-24zm-16 22zm-4 8zm-2-3zm-2-26zm-1-7zm-14 33zm-16-7zm-9-5zm-5 27zm1 0zm1 3zm4 10zm11-14zm14 16zm3-13zm5-8zm3 4zm11 23zm7 8zm3-20zm28-16zm7 16zm0 17zm678-10zm1 9zm10 2zm0-13zm1-19zm6 7zm8 4zm28 21zm3-11zm5-12zm16 18zm11 13zm-13 5zm-1 23zm-5-2zm-21-6zm-39 12zm-1-6zm-6 5zm-7-8zm-1-9zm-1 20zm-3-26zm-673-4zm-10-5zm-8 24zm-8-14zm-3 25zm0-2zm-1-28zm-19 4zm-1 4zm-32 23zm-11-4zm23 35zm5-12zm5 14zm2-18zm1 5zm25 14zm6-6zm13 0zm15 4zm676-8zm7 11zm2-26zm3 23zm7-30zm5 17zm23-13zm4 34zm1-22zm18-13zm23 45zm-28 22zm-1-8zm-2-15zm-2 24zm-7-16zm-2 18zm-16-22zm-3 24zm-4-15zm-5-16zm-16-2zm-2 7zm-6 24zm-3-13zm-670-7zm-5 0zm-1-13zm-16 19zm-8-18zm-5 7zm-6 0zm-11 8zm-30-7zm-13 14zm2 22zm4 26zm17 5zm8-23zm8-7zm6 7zm5 4zm2-16zm0 31zm7-29zm2 8zm15-6zm4 21zm13-19zm1 14zm668-2zm1 17zm9-33zm5 19zm13 1zm4-10zm2 18zm5-14zm3-7zm10-8zm3-1zm2 16zm6-6zm1 13zm0-1zm2-19zm28 6zm4 15zm-36 15zm-1 37zm-11-13zm-10 8zm-4-11zm-32-14zm-5 28zm-673-26zm-1 4zm-5 25zm0-32zm-11 21zm-9-27zm-4 7zm-25 23zm0-28zm-6 21zm-1 6zm-7 8zm-14-9zm-3 9zm1 24zm8-9zm5 0zm26 21zm1 0zm2 1zm12-12zm1-21zm3 28zm6 1zm8-23zm4 21zm8 0zm3-22zm681 10zm5 5zm13-21zm18 35zm9 4zm21-39zm16 3zm1 32zm8 12zm-7 7zm-26 8zm-18-3zm-14 15zm-6-33zm-13 38zm-6-27zm-9 17zm-677-10zm-10-18zm-12 28zm-3-5zm-9-6zm-3 16zm-4-27zm-27-7zm34 76zm25-19zm3 18zm2-13zm8-15zm673 12zm9 20zm60-14zm1-14zm8-1zm19 28zm-91 9zm-1-1zm-680-2zm-20 21zm-12-21zm-8 5zm-41-3zm38 52zm46-12zm3-6zm697 3zm-712 58z"/><path stroke-width="28" d="M7133 2311zm-47 3zm-3 5zm-888-4zm-28 1zm-55 2zm1 14zm8 27zm40-21zm44 15zm887-27zm4 11zm36-9zm1 9zm13 20zm22-15zm1 16zm-47 26zm-31 11zm-943-34zm-5 8zm-6 14zm-1 1zm0-19zm-17 8zm0 44zm36-7zm8-1zm17 30zm26-21zm1-13zm873 3zm3 7zm4 2zm10-10zm33 8zm12 11zm1-14zm35 47zm-54 17zm-13-33zm-14 11zm-5 19zm-1 5zm-895-21zm-19-7zm-46-1zm27 38zm28 31zm20 0zm882-10zm12-12zm20-8zm13 0zm12 3zm31 54zm-28 14zm-8-9zm-4 1zm-28 7zm-21-10zm-8-4zm-874 0zm-7-8zm-13 8zm-6 3zm-6-4zm-2-11zm-16 13zm-6 5zm-38-14zm3 29zm21-1zm15 31zm3-7zm9-12zm11-16zm4 26zm31-23zm884 3zm10 23zm3-19zm42 17zm16 9zm0 34zm-46-22zm-4 31zm-2-4zm-7-11zm-8 10zm-2-10zm-1-7zm-2 2zm-4-12zm-884-7zm-23 0zm-65 17zm-5 34zm24-1zm19-2zm4 3zm11 27zm10-11zm6-17zm915 16zm12-7zm11 15zm20-3zm7-14zm24 50zm-16-14zm-12 15zm0-12zm-4-15zm-1 0zm-5 5zm-18-3zm-6 13zm-14-13zm-4 6zm-9 28zm-877-3zm-16 4zm-13-22zm-5-9zm-10 2zm-9 29zm-34-38zm-4 24zm-5-16zm-2 23zm17 23zm11 13zm7 8zm1-10zm3-18zm3 26zm28-19zm2-9zm22 34zm4-35zm4 34zm868-22zm2-3zm9 21zm19 0zm18-14zm4-16zm27 19zm-1 54zm-6-31zm-6 26zm-14-23zm-22 23zm-3 5zm0 2zm-16-13zm-10 4zm-870-7zm-4 11zm-21-16zm-14-7zm-1-9zm-1 27zm-1-28zm-13 7zm-10-8zm-19 28zm-4-11zm-10 60zm27-17zm20-2zm14-2zm907-6zm2-7zm10 11zm1-10zm30 34zm4-36zm1 12zm30-4zm18-3zm-4 64zm-3-25zm-25 22zm-5-25zm-4 5zm-2-6zm-34 24zm-1-10zm-7 21zm-880 1zm-62-6zm-6-27zm-1 17zm-33-11zm5 35zm7 13zm3 2zm12-5zm4 14zm10-29zm1 5zm0 10zm2 0zm2 20zm12-8zm22-15zm5 19zm5-27zm11-2zm869 27zm3 7zm1-25zm19 27zm10-38zm22 34zm19-5zm5-9zm15-11zm1-1zm-10 44zm-13 3zm-18 5zm-7-21zm-11 16zm-3 8zm-12 7zm0-21zm-5 10zm-888-12zm-1 19zm-8-5zm-29-22zm-11 34zm-9 4zm-2-26zm-36 6zm40 26zm10 33zm6-20zm1 3zm18-2zm8-17zm3 35zm10-7zm882-2zm32-8zm15 60zm-27-39zm-19 30zm-880-7zm-5-15zm-1 1zm-18-8zm-48 71zm20-15zm9 0zm6-7zm3-10zm11 20zm17 16zm905 0zm55-25zm-7 44zm-28-3zm-32 27zm-946-18zm-42 13zm70 43z"/><path stroke-width="32" d="M7187 2330zm-1095 65zm-41-12zm-34-20zm3 53zm37-9zm17 2zm30 4zm1148 10zm29 20zm-36 0zm-1 19zm-22 16zm-14-31zm-14 5zm-1134 2zm-9 21zm-10-10zm-18 2zm31 40zm20-12zm14-8zm14 13zm1082 13zm6-12zm11-11zm10 4zm68 57zm0-7zm-27-17zm-8-2zm-20 27zm-17-2zm-7-10zm-20 14zm-1076-24zm-32 3zm-27 22zm-30 3zm1 12zm8-6zm10 1zm37 19zm1117-19zm40 1zm7 4zm44 11zm-4 25zm-13 24zm-13-1zm-29 1zm-5-26zm-8 22zm-24 6zm-1075 0zm-18-11zm-77 20zm35 18zm32-1zm4 14zm1105-2zm11-1zm66 10zm12-30zm-3 50zm-43 15zm-21-7zm-10-16zm-19 28zm-1077-16zm-6-10zm-5 9zm-30 34zm7 3zm2-19zm3 33zm1142-9zm2-19zm5 20zm14-25zm11 15zm16 35zm-20 13zm-36 14zm-9-3zm-1115-1zm-76 10zm31 25zm14-26zm4 24zm1131-14zm15 8zm27-4zm13-6zm34 10zm-84 37zm-3-17zm-1109 22zm-14-20zm-12 9zm-35 34zm38 24zm1132-9zm40 5zm-5 45zm-11-23zm-6 4zm-14-9zm-1098 37zm-1-2zm-79 4zm1167 28zm62-26z"/><path stroke-width="36" d="M5929 2322zm60 36zm1294-34zm21 28zm11-26zm19 25zm31-16zm9 24zm-13 18zm-23 16zm-42-14zm-1333 17zm-8-17zm-39 57zm1-35zm74 18zm1291 0zm30-9zm16 11zm54-4zm-99 52zm-1319-20zm-50 48zm4-2zm52 18zm9 1zm2-1zm7-27zm3 3zm1291 19zm26 5zm69-7zm-14 21zm-75 59zm2-8zm15-14zm0 20zm4 10zm7-15zm38 5zm25 39zm-35-12zm-58 20zm-1300 8zm-4-1zm-63 23zm67-16zm1 17zm1323 4zm28 48zm-6-14zm-1347-12zm-46-8zm1367 51zm42-3zm1 8zm19 63zm-3-17zm-8 3zm-59-19zm-1316 29zm-73-29zm-1-4zm0 41zm95 16zm0-2zm-14 32zm-71-1zm86 46zm1304 39z"/><path stroke-width="40" d="M5855 2336zm12 22zm18-20zm14 14zm1493-2zm24 43zm-1514-31zm-46 17zm1541 22zm8 21zm39 25zm-1547 16zm-84 11zm39 35zm1612-6zm-3 40zm-4-16zm-24 29zm-38-10zm-1516-19zm-51 19zm51 22zm1537 9zm2 8zm41-4zm18 11zm-5 17zm-8 12zm-1614-8zm-2 23zm-3-18zm-33 59zm82 2zm1-26zm1521 60zm-1519-18zm-7 62zm1545-33zm-1607 104zm76-18zm1520-6zm-1539 58z"/><path stroke-width="44" d="M7497 2343zm38 54zm-1751-37zm-1 11zm-46 60zm1824-1zm-66 87zm25-17zm29 5zm-1755 51zm-16-14zm1711 25zm38 140z"/><path stroke-width="48" d="M7666 2479zm-38-21zm-1957-10zm-63 71zm58-38z"/><path stroke-width="52" d="M7702 2438zm-6 38z"/></g>
<path d="M640.5 51.7V379.3M687.5 51.7V379.3M542.7 227.5H792" stroke="#000" stroke-width="1.1" stroke-dasharray="4.6 2.9" fill="none"/>
<g transform="scale(.1)" stroke-linecap="round" fill="none" stroke="#4060B8"><path stroke-width="24" d="M6255 796zm94 41zm-144 588zm28 41zm119 36zm-46 41zm104 143zm-41 228zm36 20zm-63 39zm-111-3zm179 73zm-19 27zm-56 65zm-46 0zm24 39zm44 24z"/><path stroke-width="28" d="M6180 1429zm26 362zm17 111zm-31 202zm19-15z"/><path stroke-width="32" d="M6172 813zm-29 337zm5 216zm-5 468zm-24 0zm46 100zm0 46zm-46 17zm-24 172zm-5 34zm29 37z"/><path stroke-width="36" d="M6022 815zm19 459zm17 279zm-58 310zm61 231zm-34 75zm24-7zm-24 82z"/><path stroke-width="40" d="M5952 1968zm-37 204z"/><path stroke-width="44" d="M5847 1160zm-51 936zm58 76zm17 65z"/><path stroke-width="48" d="M5680 1470zm53-12zm12 102zm-22 66zm44 349zm-5 70zm-87 80zm55 101zm-23-8z"/><path stroke-width="52" d="M5634 1543zm2 206z"/></g>
<g transform="scale(.1)" stroke-linecap="round" fill="none" stroke="#F4766C"><path stroke-width="24" d="M7017 667zm-30 481zm13 349zm-8 121zm71-12zm-139 100zm117 48zm-131 12zm58 32zm87 34zm-7 107zm-141 60zm80 29zm59 13zm-139 43zm73 71zm-7-34zm80 51zm-38 28zm-11 37zm-58-7zm-43-17z"/><path stroke-width="28" d="M7089 1982zm20 22zm-25 80zm5 129zm46 37z"/><path stroke-width="32" d="M7160 1487zm24 124zm22 459zm-44-3zm-29 124zm85 22z"/><path stroke-width="36" d="M7291 1432zm-61 657zm29 133zm-17 25zm88-7z"/><path stroke-width="40" d="M7322 697zm-2 1111zm75 162zm-2 168z"/><path stroke-width="44" d="M7470 1174zm49 345zm-5 611z"/><path stroke-width="48" d="M7589 774zm22 131zm-61 1017zm25 230zm-25-32z"/><path stroke-width="52" d="M7623 2198zm24 7z"/><path stroke-width="60" d="M7793 1905z"/></g>
<g font-size="7.15" fill="#111">
<text x="762.8" y="77.6">hsacirc_035769</text>
<text x="764.7" y="95.3">hsacirc_024158</text>
<text x="729.1" y="116.6">hsacirc_027726</text>
<text x="732" y="150.9">hsacirc_040799</text>
<text x="771.3" y="182.9">hsacirc_044092</text>
<text x="718.6" y="189.2">hsacirc_028540</text>
<text x="755.5" y="208.1">hsacirc_002670</text>
<text x="761.6" y="214.9">hsacirc_013774</text>
<text x="706" y="218.8">hsacirc_015599</text>
<text x="761.6" y="225.1">hsacirc_043681</text>
<text x="519.7" y="137.5">hsacirc_015360</text>
<text x="573.8" y="138.7">hsacirc_017974</text>
<text x="515.3" y="151.6">hsacirc_019018</text>
<text x="577.9" y="152.6">hsacirc_037426</text>
<text x="573.6" y="165.6">hsacirc_027065</text>
<text x="537.9" y="173.4">hsacirc_041965</text>
<text x="539.6" y="184.1">hsacirc_010569</text>
<text x="528.9" y="209.8">hsacirc_015263</text>
<text x="528.9" y="219.5">hsacirc_038862</text>
<text x="540.3" y="227.3">hsacirc_002722</text>
</g>
<text x="665" y="43.7" class="hb" font-size="13" text-anchor="middle">circRNA</text>
<text x="676.7" y="409" font-size="13.2" text-anchor="middle">Log 2 FC</text>
<text transform="translate(521.5 213) rotate(-90)" font-size="13.5" text-anchor="middle">(-1) * Log 10 ( FDR )</text>
<text x="800" y="296.3" class="hb" font-size="11">abs(log2FC)</text>
<rect x="800.7" y="302.2" width="17.6" height="17.6" fill="#F4F4F4"/>
<circle cx="808.6" cy="311" r="0.75" fill="#BEBEBE"/>
<text x="821.7" y="314.8" font-size="10.5">1</text>
<rect x="800.7" y="321.2" width="17.6" height="17.6" fill="#F4F4F4"/>
<circle cx="808.6" cy="330" r="1.35" fill="#BEBEBE"/>
<text x="821.7" y="333.8" font-size="10.5">2</text>
<rect x="800.7" y="340.2" width="17.6" height="17.6" fill="#F4F4F4"/>
<circle cx="808.6" cy="349" r="1.85" fill="#BEBEBE"/>
<text x="821.7" y="352.8" font-size="10.5">3</text>
<rect x="800.7" y="359.2" width="17.6" height="17.6" fill="#F4F4F4"/>
<circle cx="808.6" cy="368" r="2.45" fill="#BEBEBE"/>
<text x="821.7" y="371.8" font-size="10.5">4</text>
<rect x="929" y="50" width="249" height="327.7" fill="#E5E5E5"/>
<path d="M962.9 50V377.7M1023.8 50V377.7M1084.8 50V377.7M1145.7 50V377.7M929 307H1178M929 195.7H1178M929 84.3H1178" stroke="#F2F2F2" stroke-width="0.6" fill="none"/>
<path d="M932.4 50V377.7M993.4 50V377.7M1054.3 50V377.7M1115.2 50V377.7M1176.1 50V377.7M929 362.7H1178M929 251.4H1178M929 140H1178" stroke="#fff" stroke-width="1.1" fill="none"/>
<path d="M932.4 377.7v4M993.4 377.7v4M1054.3 377.7v4M1115.2 377.7v4M1176.1 377.7v4M929 362.7h-4M929 251.4h-4M929 140h-4" stroke="#7F7F7F" stroke-width="0.9" fill="none"/>
<g fill="#7F7F7F" font-size="10.7">
<text x="932.4" y="394.3" text-anchor="middle">−5.0</text>
<text x="993.4" y="394.3" text-anchor="middle">−2.5</text>
<text x="1054.3" y="394.3" text-anchor="middle">0.0</text>
<text x="1115.2" y="394.3" text-anchor="middle">2.5</text>
<text x="1176.1" y="394.3" text-anchor="middle">5.0</text>
<text x="921.4" y="366.6" text-anchor="end">0</text>
<text x="921.4" y="255.3" text-anchor="end">2</text>
<text x="921.4" y="143.9" text-anchor="end">4</text>
</g>
<path d="M1054.3 362.7L1056.7 360.5L1059.3 358.3L1062 356.1L1064.9 353.9L1068.1 351.7L1071.5 349.5L1075.2 347.3L1076.2 345.1L1076.2 342.9L1076.2 340.7L1076.2 338.5L1076.2 336.3L1076.2 334.1L1076.2 331.8L1076.2 329.6L1076.2 327.4L1076.2 325.2L1076.2 323L1076.2 320.8L1076.2 318.6L1076.2 316.4L1076.2 314.2L1076.2 312L1076.2 309.8L1057.6 309.8L1057.4 312L1057.2 314.2L1056.9 316.4L1056.7 318.6L1056.5 320.8L1056.3 323L1056 325.2L1055.8 327.4L1055.6 329.6L1055.4 331.8L1055.2 334.1L1054.9 336.3L1054.3 338.5L1054.3 340.7L1054.3 342.9L1054.3 345.1L1054.3 347.3L1054.3 349.5L1054.3 351.7L1054.3 353.9L1054.3 356.1L1054.3 358.3L1054.3 360.5L1054.3 362.7ZM1054.3 362.7L1051.9 360.5L1049.3 358.3L1046.6 356.1L1043.7 353.9L1040.5 351.7L1037.1 349.5L1033.4 347.3L1032.4 345.1L1032.4 342.9L1032.4 340.7L1032.4 338.5L1032.4 336.3L1032.4 334.1L1032.4 331.8L1032.4 329.6L1032.4 327.4L1032.4 325.2L1032.4 323L1032.4 320.8L1032.4 318.6L1032.4 316.4L1032.4 314.2L1032.4 312L1032.4 309.8L1051 309.8L1051.2 312L1051.4 314.2L1051.7 316.4L1051.9 318.6L1052.1 320.8L1052.3 323L1052.6 325.2L1052.8 327.4L1053 329.6L1053.2 331.8L1053.4 334.1L1053.7 336.3L1054.3 338.5L1054.3 340.7L1054.3 342.9L1054.3 345.1L1054.3 347.3L1054.3 349.5L1054.3 351.7L1054.3 353.9L1054.3 356.1L1054.3 358.3L1054.3 360.5L1054.3 362.7Z" fill="#BEBEBE"/>
<g transform="scale(.1)" stroke-linecap="round" fill="none" stroke="#BEBEBE"><path stroke-width="12" d="M10618 2745zm-28 32zm0 5zm-93-4zm-5 10zm0-18zm-28 23zm-3 38zm19-9zm12-13zm5 8zm5 20zm82-5zm7-30zm0 14zm1 18zm10-1zm4-10zm19 24zm-6 1zm-1 12zm-4-5zm-19 5zm-1-16zm-5 9zm-89 6zm-1-12zm-2 26zm-2 2zm-15-12zm-6-23zm-4 7zm0-4zm-3 29zm-6-27zm4 62zm4-7zm13-13zm3 10zm3 4zm4-4zm0 11zm2-5zm5-16zm1 25zm80 7zm1 0zm1-12zm6-15zm1-7zm1 19zm5-24zm3 5zm16-4zm6 42zm-3 13zm-1-6zm-21 17zm-1-6zm-3-2zm-7-1zm0-16zm-5 36zm-67-23zm-12 3zm-6 19zm-8-21zm-12-8zm-1 24zm-1-18zm0-10zm0 13zm-3-10zm-7 13zm0 9zm5 30zm5 2zm2-2zm11 2zm2 1zm0-18zm1 25zm2 3zm1-1zm6-12zm2 13zm7-3zm5 8zm4 2zm56-3zm8-23zm0-6zm1-3zm1 31zm2-9zm4 12zm2 0zm2-22zm2 7zm7-17zm0 7zm2 3zm0-1zm5 19zm3-32zm1 11zm1 22zm0-11zm10 4zm1-24zm1 4zm0 45zm-3 0zm-7 8zm-16 2zm-2 0zm-4-2zm-1 2zm-2-23zm-1 0zm-1 3zm-1 35zm-2-11zm-1-5zm0-8zm-4 10zm-2 3zm-61-1zm-1 3zm-3 1zm-3-3zm-4 11zm-2-4zm-2-27zm-1 14zm-1-13zm-1 8zm-1 7zm-3-16zm-1 21zm-1-5zm-1-22zm-1 5zm-1 7zm-1 11zm0-20zm0 9zm-2 4zm-3-14zm-2-1zm-1 27zm-12 7zm1 13zm4 6zm1 7zm0 4zm4-6zm1 16zm1-1zm3-25zm0 3zm2 12zm6-22zm1 7zm6 1zm13 4zm2 4zm2 4zm4-9zm46 5zm1 18zm6-11zm1 12zm3-4zm0-15zm3 8zm13-17zm0 9zm3-13zm11 26zm3-17zm2 21zm6-11zm2 8zm6-24zm-1 65zm-2 2zm-2-32zm-1 14zm-1 20zm-2-27zm-3-9zm0 37zm-3-10zm-2 5zm-4-7zm-1-26zm-16 2zm-3 35zm-1-10zm0-11zm-1-6zm-2 0zm-2-11zm-5 25zm-1 0zm-4 7zm-1-15zm-45-1zm-1 21zm-1-20zm0 22zm-5-30zm-1 6zm0 16zm-2-23zm-1 3zm-1 3zm0 9zm-2 16zm-1-9zm0 1zm-2-19zm-4-2zm-1 20zm-2-1zm-1-6zm0-22zm-1 15zm0-7zm-6 10zm0 1zm-4 15zm-2-2zm-1-21zm-1-6zm-12-5zm-4 30zm-2-15zm1 61zm1-17zm2-9zm0 2zm2 20zm0-18zm5 5zm1-12zm4-4zm1 31zm1-8zm6-2zm1-4zm2-3zm7-17zm10 27zm0 7zm1-32zm6 0zm1-2zm2 37zm1-20zm6 2zm36 4zm1-5zm4 1zm1 1zm6 12zm7-19zm3 23zm0-27zm1 15zm1 1zm7-24zm3 26zm7 3zm1 6zm4-30zm3 5zm4 5zm11 56zm-5-6zm-2-16zm0 26zm-7-12zm0 9zm-4-12zm-1-22zm-1 24zm-1 8zm-6-10zm-3-5zm-2 1zm-1-4zm-2 17zm0-9zm-2-22zm-1 27zm-1-3zm-1-22zm-2-1zm-1 11zm0 24zm-2-15zm-1 16zm-4-7zm-2-26zm-1 15zm-2 9zm0-19zm-1 14zm-2-4zm-2 1zm-1-14zm-2 9zm-34 13zm-4-10zm-2-13zm-5 17zm-1 14zm-4-1zm-4-2zm-1-24zm-1 13zm0-4zm-3-9zm0 3zm-2-3zm-1 25zm-1-11zm-1 2zm-1-14zm-1 10zm-3 3zm-7 0zm-1-18zm-1 31zm0-33zm-1 10zm-3 10zm-2-24zm-6 26zm-1-20zm-4 19zm0 2zm-2-24zm-1 30zm-3 19zm3-2zm2 22zm1-16zm5-12zm1 23zm3-19zm6 7zm2 14zm4-3zm1-11zm2 19zm6-23zm1 5zm1 2zm2 19zm2-3zm0-21zm0 3zm3-10zm0 13zm3-15zm1 12zm0-6zm2-10zm0 36zm3-20zm2 3zm1 19zm0-1zm1-22zm1 20zm0-21zm2 3zm5-10zm2-1zm0 7zm32-3zm2-2zm0 7zm2 19zm0-6zm4-25zm2 23zm1-20zm1 31zm3-20zm2-16zm1 6zm1 15zm2-6zm1-3zm4 3zm3 1zm1 22zm2-10zm1-25zm1 34zm5-37zm3 13zm2-9zm1 33zm0-18zm3 6zm4 0zm2-25zm6 1zm2 10zm2 0zm-1 39zm0 5zm-1 3zm-8-6zm-4 8zm-2-1zm-1 6zm-1-23zm-1 27zm-1-15zm-2 0zm-11-14zm-4 22zm-1-9zm0 2zm-4-7zm-2 14zm-3 15zm0-10zm0-7zm-4 18zm0-39zm-2 26zm-2-17zm-2 26zm-2-2zm-1-4zm-2-24zm-1-2zm-1 15zm0 2zm-1 10zm-5-5zm-24-20zm-2 6zm0-4zm-1 13zm-1 16zm-2-2zm0-29zm-3 10zm-1 21zm-3-3zm-1-14zm-2 7zm0-9zm-1 18zm-1 0zm0-15zm-2-17zm-1 9zm-2 12zm-2 7zm-1-22zm-2 5zm-2 22zm-1-30zm-1 9zm-5-6zm-2-7zm-3 14zm-1 4zm-2-4zm-2-14zm-1 30zm-1-26zm-1 15zm0-20zm-1 34zm0-18zm-1-7zm-1 29zm-6-21zm-3 17zm-7-21zm3 60zm0-1zm1-31zm4 1zm3 21zm0 7zm7-15zm3 22zm1-4zm1-15zm6 15zm2-17zm1-16zm3 3zm0 4zm0-1zm1 29zm1 2zm1-14zm2 9zm0-30zm0 32zm2 0zm1-30zm1 24zm1-12zm0-11zm2 32zm0-32zm2 20zm0 12zm1-15zm2 5zm2-12zm0 4zm0 15zm2 4zm1-13zm1 1zm0 1zm3 4zm4-15zm1 14zm2-28zm2 5zm1 9zm1 14zm1-17zm14 13zm2-26zm1 24zm1-25zm0 34zm2 0zm0-31zm1 26zm1 6zm6-31zm1 30zm0-23zm2-11zm2 19zm2-9zm1-2zm3 23zm1-11zm1 18zm5-2zm1-31zm1 21zm2-18zm2 6zm0 25zm1-37zm3 28zm1-26zm0 11zm2 12zm0 6zm2 2zm1-33zm10 10zm2 7zm1 2zm0-20zm5 31zm1-27zm2-4zm1 2zm5 22zm0 9zm0-19zm0 14zm2 10zm-3 28zm-2-12zm-6-2zm-2 22zm0-32zm-3 21zm-2-13zm-2 0zm0 3zm0 22zm-2-31zm0 1zm0 26zm-1-11zm-1-13zm-2 0zm0 20zm-3-25zm-2 30zm-1-30zm-4 31zm-2-23zm-3 8zm-1 8zm-3-15zm0-1zm-1 23zm-1 5zm-2-20zm-4-14zm0 16zm0-6zm-1-3zm0-11zm-1 19zm0-18zm-3 8zm-1 21zm-1 1zm0-10zm-1-5zm-1 5zm-1-22zm-1 32zm0-10zm-1-15zm0 13zm0 14zm-1 0zm-3 2zm-1-28zm-1 29zm-2-37zm-1 32zm-3-8zm-1-6zm0 7zm-1-16zm-6 26zm-2-4zm-3-22zm-6 23zm-1-28zm0 8zm0 13zm-2-4zm-2-10zm0-9zm0 13zm-1 15zm-1 3zm-1-13zm0-11zm-5 25zm0-21zm-1-3zm-1 10zm-2-19zm-2 31zm-2-29zm-1 36zm0-11zm-2 4zm-1-14zm-1-4zm-2 9zm-3 7zm-1 0zm0 5zm-1-1zm0-5zm0 1zm-2-11zm-2 2zm-1 12zm-1-30zm-3 25zm-3-24zm-6-1zm-2 28zm-5 4zm-1-6zm-1-26zm-4 27zm-4-1zm-2-28zm0 68zm1 6zm1-7zm5 1zm3-20zm2 5zm2 6zm1 9zm2-15zm1 23zm0-8zm1-26zm4 14zm1-3zm4 12zm1 5zm2-8zm0-20zm1 14zm2-16zm0-1zm2 13zm0-9zm2 32zm0-27zm1-8zm2 8zm2 16zm3 14zm1-39zm0 27zm1-20zm4 32zm3-37zm0 5zm1 9zm2 22zm1-7zm3-2zm2 3zm1-32zm0 3zm1 32zm1-24zm0-3zm1 4zm0-5zm2 14zm1-5zm2 8zm1-6zm1-6zm1-8zm0 29zm1-14zm1-12zm0-4zm1 6zm0 26zm1-16zm6 10zm0 2zm0 3zm2-32zm4 22zm1-5zm0 12zm1-11zm2-19zm0 7zm1 26zm2 4zm2-11zm3-27zm1 39zm0-19zm1-9zm2 7zm0-3zm1 12zm0 5zm1-29zm0 14zm1-15zm1 13zm1 5zm2 14zm2-9zm0-3zm3-12zm1 12zm1-5zm0 13zm1-21zm1 23zm0 4zm1-21zm1-11zm1 29zm0-5zm2-27zm1 34zm1 0zm0-13zm0 2zm4 2zm5-9zm0 13zm0-28zm4 11zm2 24zm0-9zm3-27zm0 36zm2-36zm1 1zm4 29zm1 5zm0-21zm2 24zm0-10zm1-11zm0 9zm1 3zm0-26zm2 27zm1-30zm1 36zm1-30zm0 33zm-1 26zm-2-22zm-6 4zm-1 9zm-4-9zm-5 31zm-2-11zm-1 0zm-3-3zm0-8zm-1 15zm-2-28zm0 3zm-1 2zm-3 26zm-2-7zm-1-13zm-1 23zm-1-20zm-1-13zm-2 5zm0 29zm-1-39zm-1 34zm-1-4zm-2-10zm0 4zm-2-16zm0-8zm-4 34zm-1 2zm-1-29zm-1 0zm-2-3zm0 16zm-1 10zm0 7zm-3-6zm0 3zm0-20zm-1 0zm0-7zm-1 32zm0-36zm-1 9zm-4-1zm-1 18zm-2-6zm-1-8zm-1 0zm0 22zm-1-11zm-2 10zm0 3zm0-19zm-1-11zm0 25zm-1-33zm0 38zm-1-13zm0-17zm0 25zm-1-20zm-1 19zm0-27zm0 32zm-1-38zm-1 4zm-1 34zm-1-30zm-2 30zm-1-28zm-1-1zm0-5zm-2 34zm-2-13zm-1 14zm-1-17zm0-4zm-1-1zm0-4zm0 24zm-1-35zm-1 18zm0 2zm0 14zm-2-7zm0-9zm-1 6zm0-13zm-1 3zm-1 16zm-1 3zm-2-4zm-1 3zm0-1zm-2-33zm0 17zm-1 20zm-2-37zm-2 11zm-3 5zm-2 20zm0 2zm0-28zm-1 12zm0-9zm-3 5zm-1 8zm-1 12zm-2-19zm-1 1zm-3 9zm0-23zm0 22zm0-9zm-4 18zm0-5zm-2-16zm0-6zm-1-5zm0 12zm-4 11zm0-10zm-1-13zm-1-1zm-1 18zm-3 9zm-2-17zm-7 8zm-2-3zm-3-8zm-1-8zm-4 4zm1 42zm5 24zm3-22zm4 16zm3 9zm1-36zm4 23zm7 9zm2-7zm1-22zm1 17zm0-17zm2 0zm1 22zm2-21zm4 32zm1-29zm1 14zm2-16zm0 24zm1-22zm0 25zm0-26zm1 24zm1-9zm2-15zm1 4zm1-3zm0 19zm1 13zm0-28zm2 11zm2-10zm0 18zm1-6zm0 4zm0-17zm2 13zm1-16zm1 20zm1-18zm1 3zm1 8zm1-18zm1 15zm0 4zm1 12zm1-26zm0 2zm1 5zm0 13zm1-6zm0-19zm0 13zm1 1zm0 4zm2 1zm0-11zm0 12zm1-19zm0 34zm1-6zm1-5zm0 6zm0-10zm1-21zm0 14zm0 1zm0 19zm1-19zm0 16zm0-11zm1-7zm0 20zm0-9zm1-1zm0 12zm1-12zm0 14zm1-29zm0 17zm0-23zm1 20zm0-15zm1 13zm0-17zm1-3zm0 4zm0 28zm2-32zm1 21zm0-10zm1 21zm0-31zm0 12zm1-10zm3 21zm0-14zm2 14zm1-11zm1 3zm1 10zm1 10zm1-24zm2-10zm0 1zm1 20zm1-19zm1 0zm1 24zm3-24zm1 29zm0-10zm0-15zm5 16zm3-7zm0 5zm1 12zm2-9zm0-23zm0 2zm1 23zm1-20zm1 0zm1 24zm1-28zm3 3zm0 5zm0 14zm1 1zm2-10zm1 18zm1-23zm0-10zm2 28zm0-11zm5-19zm2 19zm2-8zm1 13zm1 2zm0 12zm5 0zm2-13zm1 0zm1 7zm0-32zm1 26zm1-14zm0 15zm0-16zm3 10zm0 13zm2 3zm0 32zm-2-22zm-1-7zm0 12zm0-10zm-2-1zm-2 29zm-1 7zm0-30zm0 6zm-1-8zm-6 17zm-2 3zm-3-10zm-1 11zm-3-4zm0-20zm-2 33zm-2-29zm-2 24zm-1 1zm-2-32zm-2 1zm-1 29zm0 7zm0-23zm-1 12zm0-8zm-1 21zm0-26zm-2-12zm-3 30zm-2-22zm0 17zm-2-1zm-4-13zm0 13zm0-21zm0 13zm-2-13zm-2 32zm-3 2zm-1-9zm-1-6zm-1-21zm-2 35zm0-21zm0 22zm-1-35zm-2 22zm0-17zm-1 20zm-1 8zm0-20zm-2 12zm-1 3zm0-19zm-1-3zm0 12zm-2-4zm-1-15zm-1 37zm0-22zm0 13zm0 3zm-1-27zm0 23zm0 2zm0-29zm-1 17zm0 12zm0-20zm0 22zm0-33zm0 4zm-1-2zm0 12zm0-11zm0 15zm-1 8zm0 4zm-1-29zm0 34zm0-21zm-1 9zm0-1zm0 6zm0-11zm-2 16zm-1-13zm0 15zm-1-10zm-2 2zm-1-22zm-1 32zm-1-23zm0 24zm0-8zm0-21zm-2 5zm-1-9zm-1 28zm-1-4zm-1-6zm0 14zm0-34zm0 14zm-1 16zm0-20zm-1-1zm0 24zm0-27zm-1 19zm-1-28zm0 32zm-1-12zm-1-3zm-1-7zm0 7zm-1 3zm-1-13zm0 17zm-1 2zm-1-18zm0-4zm-1 16zm-1-19zm-1 15zm0-2zm-1-10zm-1 27zm0-29zm-1 25zm-2-16zm-1 8zm-2 10zm0-10zm-1-2zm-1 1zm0-12zm-1-4zm-2 1zm-5 1zm0 35zm-1-38zm-3 13zm-2-13zm0 36zm-1-17zm0-16zm-1 16zm-1 13zm0-5zm0-23zm-3 21zm-3 7zm-1-33zm-4 4zm-3 4zm-1 3zm-1 25zm0-29zm0-7zm-1 20zm-2-17zm0 1zm-2 34zm0-9zm0 6zm-2 0zm-2-28zm4 62zm0-1zm1-1zm2 9zm0-23zm2 7zm0-3zm1 4zm7-16zm1 34zm0-28zm4 3zm0-8zm2 15zm1-13zm0 13zm2 4zm1 8zm1-20zm1 14zm1 0zm0-17zm3 12zm3-16zm1-4zm1 31zm2-10zm0-15zm3 12zm1 7zm0 8zm2 4zm2-23zm0-9zm3 24zm0-14zm1 13zm1 0zm2 7zm1 1zm1-23zm0 16zm1-16zm1-3zm0 26zm1-34zm1 8zm1 5zm0 14zm3 7zm0-28zm1 1zm0-8zm0 12zm1 23zm0-36zm1 0zm0 23zm1 14zm0-2zm0 1zm1-36zm0 23zm0-10zm0 14zm0-10zm0-1zm2-7zm0 23zm1-4zm0-1zm1-8zm0-7zm0 14zm1 7zm0-10zm0-16zm1 28zm0-22zm0-10zm0 3zm1 8zm0 14zm0-21zm0-9zm0 24zm0-20zm1 10zm0 14zm0-16zm1 21zm0-20zm0-1zm0 19zm1-15zm0 12zm0-3zm1-9zm0-1zm1-11zm0 23zm1 0zm0 3zm0-21zm1 0zm0-3zm2 24zm0-8zm0-16zm0 32zm1-14zm1 1zm1-24zm0 35zm0-5zm1-12zm1 16zm2 2zm0-7zm0 2zm2-18zm0 24zm0-36zm1 17zm0 18zm1-33zm0 35zm0-17zm2-6zm1-8zm1 26zm0-31zm0 35zm2-27zm1 5zm1 8zm1-6zm0 11zm1 9zm0-10zm1-21zm0 12zm0 4zm2 8zm1 2zm2-15zm2 2zm0-8zm0-8zm1 26zm2-27zm4-3zm1 24zm1 2zm1-13zm0 5zm3-2zm3-13zm2 30zm1-27zm3 31zm1-28zm0 12zm2 6zm6-3zm5 14zm0-20zm3 8zm1-1zm3-22zm0 19zm1-1zm0 15zm3 13zm-7-5zm-1 2zm-1-2zm-8 6zm0-8zm-1 13zm-3-11zm-2 11zm0-4zm0-1zm-1-4zm-6 14zm-1-2zm-2-17zm-1 27zm-2-20zm-1 2zm-7-3zm0 2zm0 24zm-1-1zm0-14zm-1-4zm-1-2zm-3 22zm0-18zm-1-4zm0-8zm0 21zm-3-16zm-1 5zm-1 1zm0 4zm0-19zm0 12zm0-11zm-1 15zm0-11zm-1 3zm-1 13zm0 9zm0 3zm0 3zm-2-24zm-1 22zm-1-23zm0 10zm-1 6zm0-11zm-1 23zm-1-38zm-1 18zm0 17zm-1-18zm0 14zm-1 3zm-1-19zm0 2zm0-8zm-1 9zm0-7zm-1 1zm0 6zm0 13zm-1 6zm0-8zm-1 9zm0-24zm-1 2zm-2-3zm0 4zm-1 18zm0-8zm0-11zm0-9zm0 3zm0-1zm0 22zm-1-22zm0-8zm0 22zm0-10zm-1-1zm0 15zm0-24zm0 27zm-1-23zm0 6zm0-9zm0 13zm-1-9zm0 22zm0-21zm0-3zm-1 32zm0-39zm0 2zm0 22zm-1 6zm0 2zm0-8zm0-20zm-1 16zm0 5zm-1 14zm0-10zm0-19zm0 22zm-1 6zm0-32zm0 2zm0 27zm0 2zm-1-9zm0-1zm-1 10zm0-35zm0 9zm0 13zm-1-23zm0 2zm0 8zm-1 3zm0-9zm0 13zm-2 15zm0-6zm0-9zm-1-6zm0 26zm0-38zm-1 34zm0-19zm-1 7zm0-10zm0-5zm0 22zm0-11zm-3-5zm0 12zm-1-8zm-1-7zm0 24zm0-6zm-1-2zm0-18zm-1 11zm-2 10zm0-11zm-1-9zm-1-8zm0 14zm-1 9zm0-10zm0 3zm0-7zm-2-4zm-1-5zm-1 13zm-1 0zm-2 17zm-2-5zm-1-15zm0 6zm0 22zm-2-27zm-2 0zm-2 5zm-1 2zm-2 6zm-3-13zm-1 16zm-1-8zm-7-12zm-5 22zm-3-17zm-1-6zm-5 6zm-5-10zm48 50zm2-5zm0-7zm2 0zm3 0zm3 4zm3 8zm3 3zm0-14zm2 24zm0-22zm2 11zm0-5zm1 6zm1-10zm0 4zm0-10zm0 22zm0-10zm0 1zm0-9zm1 16zm1-12zm0 14zm0-8zm0-8zm1 18zm0 1zm0-13zm1-3zm1-8zm0 2zm1 8zm0 9zm1-8zm0-11zm0 2zm0 12zm1-7zm0 1zm0 3zm0-9zm1 12zm0 2zm0-1zm0-7zm0 12zm1-18zm1 7zm0 1zm1-4zm0 11zm0-6zm1-10zm1 4zm1 8zm1 6zm1-16zm1 0zm0 3zm1-1zm0 14zm1 2zm0-11zm2-2zm1 14zm1-7zm1-15zm3 1zm2 7zm6 0zm4-8z"/><path stroke-width="16" d="M10713 2776zm-44-6zm-27-4zm-195-3zm-10 23zm-5 11zm0-9zm-26 7zm-34 15zm49 6zm1-13zm209 33zm14-25zm0 26zm5-33zm10-2zm1 33zm58 39zm-8-10zm-6-19zm-3 6zm-1 20zm-4-29zm-18 26zm-23-27zm-1 13zm-9-11zm-4 22zm-3-3zm-4-3zm-6 17zm-176-26zm0 28zm-5-21zm-1 4zm-9 1zm-2-8zm-11 2zm-17-3zm-3-3zm-8 29zm-1-15zm-16 10zm-18-6zm-8 0zm20 20zm1 17zm1 2zm6-3zm14-18zm16 6zm2 22zm29 3zm12-37zm2 33zm174-17zm6-15zm2 5zm7 20zm29-9zm9-5zm1 18zm7 3zm4-13zm22 4zm15 51zm-9-22zm-3-12zm-1 20zm-4 8zm-10 3zm-1 1zm-10-33zm-3 13zm-9 4zm-18 5zm-3-9zm-1 19zm-3-7zm-2 12zm-2-35zm-7 26zm-6 10zm-3-22zm-11 22zm-1-17zm-168-10zm-7 25zm-5-9zm-1 2zm-6 4zm-4-17zm-3 0zm-13 19zm-3 1zm-3-15zm0 2zm-12-14zm-5-4zm-1 8zm-23 4zm-2 10zm-2-25zm-5 21zm-2 0zm-2-12zm-5 14zm-4 10zm6 22zm4-7zm1 15zm1-12zm4 10zm5-11zm9 11zm2 12zm0-22zm1-13zm3 4zm1-1zm2 33zm5 0zm26-9zm8 2zm2-11zm12 18zm2-8zm1-28zm6 10zm3 10zm2-7zm1 2zm2 5zm1-1zm167 11zm2-11zm1-7zm8 26zm1-27zm12 25zm1-24zm1-7zm3 16zm4 13zm4-20zm4 9zm0-16zm6 2zm0 13zm2-3zm8-14zm6 34zm5-22zm9-11zm1 26zm1-27zm6 29zm1-4zm4 0zm3-30zm0 2zm0 19zm1-15zm2 27zm0-20zm2 25zm4-38zm1 35zm1-24zm2 19zm4 9zm0 8zm-1 8zm-6 10zm-9 13zm-5-35zm-6 33zm-1-16zm-4-6zm-7-14zm-9 8zm-15 19zm-6-21zm-5 24zm-14 0zm-3-26zm0 2zm0 2zm-4 13zm-5 2zm-5 15zm-3-7zm-173-16zm-1 6zm-4-9zm-10 13zm-2-19zm-8 0zm-5 12zm-3 17zm-16-10zm-1 5zm-5 6zm-2-9zm-2-18zm-6 20zm-2 5zm-1-23zm-7-11zm-4 27zm-2-18zm-2 19zm-1-21zm-5 3zm-1-8zm-5 7zm-6 30zm-2-8zm-2 48zm4-20zm0 5zm6-11zm3 25zm1-25zm0-5zm5 12zm6 17zm1-35zm7 8zm0 12zm4 12zm2-3zm1-22zm2 18zm1-12zm1-15zm12 8zm9 17zm1-10zm1 6zm2-15zm1 11zm5-4zm3 20zm4 5zm14-5zm1 2zm3-29zm3 20zm176 4zm2 4zm0-21zm9-9zm3 27zm5 6zm1-5zm2 3zm8 1zm9-31zm6 20zm13-5zm2-19zm1 16zm5-4zm0 17zm1-26zm0 11zm1-9zm0 20zm1 11zm5-29zm0 26zm1-9zm3-25zm2 33zm1-10zm1-7zm0 14zm2-3zm2-1zm0 8zm2-3zm2-19zm4 15zm0-18zm5 11zm7 16zm-5 12zm-2 26zm0-16zm-1 13zm-3 5zm-2-8zm0-5zm-1-4zm-3 1zm0 13zm-1-26zm-5 23zm-1-13zm-1 22zm-3-19zm-6-18zm-8 27zm0-5zm-1 8zm-1-19zm-1 9zm-1 4zm-9-17zm-5-9zm-6 34zm-7-6zm-4-14zm-7-3zm-4-3zm-3 18zm-4 0zm-2 4zm-181-24zm-4 15zm-4 18zm-1-14zm-3 13zm-5-8zm-5-28zm-5 13zm-2 4zm-6 9zm-4-25zm-3 4zm-1 21zm-5-18zm-1 26zm-9-27zm0 11zm0 16zm-2-12zm-1 6zm-8-27zm-2 34zm0-34zm-1 17zm-2 6zm-3 2zm0 7zm-3-17zm0 18zm0-22zm-3 21zm-3-23zm-1 1zm-1 22zm0-20zm-2-7zm-4 17zm-7 14zm0-20zm-1 16zm0-8zm0-9zm-6-12zm-1 0zm0 35zm1 9zm3 11zm10 12zm2 0zm0-17zm1-11zm1 6zm1 12zm1 6zm0 6zm5 4zm0-20zm7 5zm0-11zm0 1zm1 22zm1-5zm1-12zm1 18zm0-29zm3-1zm2 24zm1-5zm3-11zm19-7zm10 5zm3-5zm1 24zm12-22zm2-2zm0 6zm1-14zm3 6zm6 29zm1 0zm6-32zm2 1zm169 6zm2 25zm6-12zm0 1zm1-14zm2-8zm15 27zm9 9zm6-16zm4 10zm9 3zm2-24zm8 7zm1 17zm1-28zm3 17zm3 12zm0-17zm4 1zm1 17zm5-34zm1-2zm5 0zm12 21zm1 6zm1 10zm0-28zm5 42zm0 19zm-2 5zm0-9zm-2-6zm-1 12zm-2-2zm-2-16zm0-4zm-1-7zm-2 16zm-1-3zm-1-6zm0-4zm-2 18zm-3-1zm-2-24zm-8 16zm-1-2zm0 9zm0-8zm0 2zm0-1zm-1 19zm-1-4zm-3-2zm-2-19zm0 24zm0-33zm-3 26zm-4-24zm0 32zm-2-18zm-8 6zm-5 15zm-1-22zm-1 6zm-1-17zm-5 5zm-1 17zm-3-27zm-1 39zm-1-20zm-3 7zm-3-12zm-2 17zm-12-14zm-184 0zm0 5zm-3 0zm-1-22zm-1 22zm-2-4zm-1 6zm-3 3zm0-26zm-6 36zm-1-11zm-2-18zm-5-3zm-1 9zm-14 4zm0-6zm-5-1zm-4 22zm-6-11zm-6-8zm0 21zm-2-3zm-4 0zm-2 0zm-4-8zm-3 11zm0-20zm-1 3zm-2 11zm-1-22zm-1-5zm-1 37zm-1-11zm-1-22zm-1 18zm0-19zm-4 19zm-2-19zm0 25zm-1-14zm0 3zm0-6zm0-11zm-5 12zm-5-1zm-4 5zm-3 30zm1-3zm4 16zm2-16zm0-3zm4 4zm0-1zm2 13zm4 19zm2-27zm0 3zm0 4zm2 4zm2 2zm0-11zm0 25zm2-5zm2-13zm5-2zm0 8zm1-22zm1 30zm1-9zm3 11zm2-25zm2 3zm3 13zm3 11zm0 1zm2-31zm2 4zm1 17zm1-13zm0-8zm4 27zm1-2zm6-10zm7 10zm1 1zm2-33zm1 2zm1 32zm7 5zm4-23zm3 19zm0-35zm2 32zm2-8zm1 2zm7 12zm7-5zm170-3zm0-10zm2 4zm5 12zm3-22zm2 10zm1-15zm4 24zm9-19zm6-6zm0 7zm6 12zm11-16zm9 10zm1 14zm3-28zm1 32zm3-37zm3 18zm1 16zm1 3zm2 0zm1-24zm0 12zm3-6zm4-10zm1 27zm1-26zm2 25zm3-20zm0 12zm5-16zm1 17zm0 5zm1-19zm0-13zm2 21zm1-4zm5-5zm2 13zm2 45zm-2 2zm-2 1zm-2-12zm0 4zm-1 5zm-3-6zm-2-4zm0 3zm-1-23zm0 2zm-1-4zm-4 25zm-1-12zm-3 17zm-1 4zm-8-35zm-1 35zm-6-34zm-3 4zm-1 31zm0 3zm-3-19zm-1 14zm-8-3zm-3-10zm0-6zm-11-10zm-4 15zm-6-19zm-4 27zm-4-27zm0 11zm-1 11zm-1 8zm-5 4zm-2-25zm-1-4zm-1 2zm0 23zm-3-12zm-1-18zm0 26zm-2 2zm-1-21zm0 13zm-1 7zm-1 3zm-2 2zm-2 4zm-168-8zm0 2zm-3-20zm-4 17zm-2 8zm-2-34zm-1 17zm-2 13zm0-2zm-5-17zm-3 24zm-1-7zm-8-24zm-2 21zm-1-9zm-1-13zm-9 2zm-2 21zm-3-26zm0 14zm-10-12zm-5 7zm0 19zm-2 6zm-1-33zm-2 18zm-3-3zm0-7zm-1 6zm-1 18zm-4-17zm-1 3zm-1 14zm-1 4zm-3-11zm-1 2zm-5-28zm-1 1zm-1 5zm-3 30zm0-18zm-1 2zm-3-5zm-2 1zm0 13zm-2 0zm-1-20zm0 12zm-1 9zm0-23zm-2 20zm-2 10zm0-31zm1 47zm0-13zm2 15zm1 7zm2-3zm1-3zm2 6zm4 0zm1-23zm1 32zm1-24zm2 11zm4 19zm1-29zm2 27zm1-15zm1-3zm2-11zm1 31zm1-22zm2-5zm1 1zm0 14zm0-23zm0 32zm1-7zm0-10zm1-7zm2 25zm1-28zm1 4zm1 13zm1 8zm0-31zm2 33zm2-7zm0-23zm0 14zm1-4zm1 1zm9 3zm12-20zm1 0zm0 27zm1-12zm3 13zm6 8zm1-34zm1 10zm2 26zm1-20zm3 4zm0-10zm2 15zm0 9zm0-16zm3-20zm2 22zm2 7zm0-2zm1-11zm3 18zm2-14zm0-18zm1 4zm2 9zm170 9zm2-13zm1 21zm0-7zm1-22zm1 9zm6 22zm0-28zm6 6zm3 11zm6-9zm3 25zm2-13zm11-15zm2 18zm1-5zm4-9zm1 5zm2-8zm10 8zm0 11zm2-10zm0 18zm2-32zm2-3zm0 7zm4-2zm1 20zm1-26zm7 0zm0-1zm0 27zm6-9zm4 15zm1-6zm1-8zm1 14zm0-7zm3 7zm1-5zm5-1zm1 8zm0-9zm2-21zm1 32zm0-22zm2-7zm1-2zm-1 35zm-3 10zm-1 23zm-12-29zm0 25zm-1 5zm-2-24zm-1 21zm0-7zm-1 7zm-3-5zm0 3zm-1-10zm-2 15zm0-19zm-2 2zm0 7zm-3-25zm-4 7zm-4 14zm-1-19zm-1-4zm-1 17zm-2 22zm-4-18zm-7 14zm-2 3zm-1-31zm-10 4zm-1 1zm-8 25zm-1-27zm-5 3zm-4 22zm-1-35zm-4 21zm-3-1zm0-20zm-7 26zm0-18zm-4 9zm-1-5zm-172 17zm-3-5zm-2-13zm-1 18zm-5-17zm-3-10zm0 8zm-1 24zm-1-14zm-8-8zm0 18zm-5 9zm-2-33zm-10 17zm-3-11zm-1 0zm-1-1zm0-11zm-1 36zm-3-11zm-4 5zm-4 5zm-1-15zm-3-4zm-5 18zm-1-1zm0 4zm0-21zm0-7zm-2 15zm0-8zm-1 7zm-1-7zm-1-4zm0-7zm-1 33zm-2-7zm0-8zm0 11zm-1 3zm-1 1zm0-13zm-4 6zm-2 0zm-1-11zm-2 19zm-1-7zm-2 6zm-2-33zm0 24zm-1-19zm-1 13zm0-9zm-1 16zm0 8zm-1-27zm-2 18zm-3-25zm-2 34zm-1-22zm-2 48zm1 5zm2-14zm1 22zm1-7zm0-11zm1-2zm1-2zm2-9zm2 21zm1-4zm0-10zm0 4zm1-12zm1 14zm1 18zm0-33zm1 9zm1-2zm2 16zm0-18zm0 3zm1 15zm0-10zm0 9zm1-4zm1 16zm1-30zm5 11zm1-18zm1 32zm0-2zm3-24zm1 8zm0 14zm1 2zm2-12zm1-6zm3 4zm6-10zm2-2zm6 31zm1-31zm1 7zm4 21zm1-9zm2-19zm11 2zm2 26zm1-26zm1 19zm0-9zm3 12zm1 6zm2-30zm2 7zm2 0zm1-4zm1 3zm2-5zm0 26zm1-28zm1 15zm2 11zm0-11zm3-13zm1 6zm5 25zm3 1zm0-32zm169 7zm0-4zm1 3zm0 23zm1-33zm2 15zm0-11zm2 19zm2-3zm1-8zm4 20zm1-26zm1 4zm0 27zm1-2zm4-28zm1 14zm0 2zm1 13zm3-19zm0-17zm1 3zm1-5zm2 17zm1 8zm2-23zm0 36zm1-29zm3-4zm0 34zm0-16zm1-20zm4 30zm2-15zm0 19zm6-17zm1 6zm3-11zm0 17zm11 2zm0-17zm1 22zm1-31zm1 16zm1-21zm0 18zm1 1zm1 9zm1-21zm4-9zm1 18zm3-10zm1 13zm1-20zm0 26zm2 2zm1-17zm0 4zm0 4zm3 8zm0-10zm2 7zm0-2zm1 12zm0-10zm6-6zm3 15zm1-24zm2 27zm2-14zm1-4zm1 8zm0-8zm3 5zm0 12zm-4 7zm0 24zm-2-13zm-4 23zm-1 0zm0-8zm-2-26zm-2-1zm-3 19zm0 6zm-1-14zm0 25zm-1 0zm-3-38zm-2 3zm-2 31zm0-32zm-1 11zm-1-1zm0 25zm-1-16zm0 14zm-1-8zm-8-20zm-3-2zm-1 24zm-1-14zm-5-2zm-10-10zm0 8zm-4 27zm-2-34zm-1 8zm-2 5zm-1-9zm-4-3zm-1 4zm-5 11zm-5 0zm-2 15zm-6-9zm0-17zm0 2zm0 13zm-2-7zm-1 6zm-3 3zm-2-18zm0 3zm-1-10zm0 36zm-177-17zm0-17zm-3 8zm0 24zm-1-11zm-1 7zm0-17zm-1 8zm-5-21zm-1 30zm-1-31zm-3 22zm-1-20zm-1 24zm0 3zm-4-13zm-1 14zm-1-2zm-1-10zm-1-13zm-2 17zm0-23zm0 24zm-1-19zm0-3zm-1 16zm-5 14zm-1-9zm-3-23zm-6 39zm-6-1zm-1-11zm-1 5zm-1-14zm-2 2zm-3 9zm-6-2zm0-20zm-1 21zm-2 7zm-1 2zm-2-6zm0 7zm-1-14zm-1 9zm-1-21zm-7 18zm-2-5zm-1-17zm-2 24zm-1-21zm0 14zm0 14zm-1-20zm0 2zm0 2zm-1-23zm-1 11zm-3 18zm-5 8zm-1-22zm0 7zm-1-9zm0 7zm-1 4zm-1-8zm-1-15zm-3 33zm-1-25zm-1 7zm0 40zm1 6zm0-8zm4 22zm2 2zm0-35zm2 14zm2-1zm1 19zm7-28zm0 3zm2 21zm0-20zm0 24zm3 1zm2-35zm1 12zm0 12zm0 13zm0-1zm1-21zm6-14zm0-1zm1 16zm0 2zm2-5zm0-7zm1 10zm1 10zm0 8zm1-24zm4 25zm4-15zm1-5zm7 5zm4-14zm1 21zm1-5zm2 13zm2-7zm4-19zm1-1zm5-6zm2 11zm0-7zm5 9zm1-7zm2 9zm4-12zm0 30zm1-33zm1 21zm5-13zm1-4zm1-5zm9 7zm169-4zm0 13zm0-11zm1 29zm1-5zm2-14zm3 2zm4-18zm2 18zm0-1zm1-16zm0 37zm3-8zm4 8zm3-28zm7-2zm2 24zm5-19zm0 25zm5-19zm2 8zm2-5zm2-17zm3 5zm1-4zm2-3zm1 18zm3-4zm6 11zm0-13zm1 6zm0-1zm1 3zm1 11zm5-24zm4-3zm1 28zm1-35zm4 14zm0-8zm3 31zm4-28zm0 22zm1-24zm0 25zm2-30zm1 15zm3-5zm1-6zm0 21zm4-14zm3 12zm0-9zm3 20zm2 11zm-5-3zm-6 0zm0 5zm-1 2zm-2 8zm0-9zm-2-11zm0 2zm-1 5zm-3 9zm-3-4zm-2 16zm-2 9zm-4-28zm-1-7zm-1 18zm-3 12zm-1-19zm0 4zm-4 5zm-1 10zm-2-16zm0 15zm-1-25zm-3 16zm-1 6zm-3 8zm-3-5zm-3-27zm-2 32zm-2-16zm-9 11zm-3-31zm0 24zm-3 5zm0 1zm-5-16zm-7 17zm-1 5zm-1-29zm0 2zm-2 14zm-1-5zm-6 13zm0-2zm-2-21zm-3 20zm-2 8zm-3-14zm-1 1zm-169 2zm-8-16zm0 8zm-4-16zm-2 25zm-1 8zm-2-13zm0-18zm-4 32zm-14-20zm-4 21zm-7-19zm-4-15zm-2 9zm-2-8zm-1 34zm-5-13zm-1-13zm0-1zm-1 14zm0-22zm-1 15zm-1-16zm-1 12zm0 25zm-1-21zm-1-13zm-1 11zm-3 13zm0-10zm0 9zm-1-24zm-1 33zm-1-14zm-4 13zm-1-8zm0-19zm-4 1zm-1 7zm-2-3zm-4 15zm-4-27zm20 43zm3 1zm17 16zm14-21zm6 10zm1 8zm3-14zm0 8zm13-7zm1-3zm0 19zm1 18zm1-39zm2 8zm1 0zm2 20zm0 8zm1-15zm1 17zm1-3zm1-6zm0 4zm2-13zm4 13zm1-5zm0-11zm0 17zm170-25zm0-8zm1 30zm0-8zm1-8zm1-14zm4 19zm0-7zm1 6zm1 13zm4-11zm0 3zm5-9zm1-4zm4-7zm2 23zm0-27zm7 8zm3 16zm1-8zm4-14zm9 6zm10-6zm2 10zm5-11zm-236 49z"/><path stroke-width="20" d="M10629 1478zm32 177zm-15 47zm-183 63zm112 9zm33 35zm-40 13zm-82 8zm-63 8zm16 26zm34-9zm166 12zm34-21zm-167 73zm-68-33zm153 45zm83 50zm-196-1zm176 35zm19 16zm30 25zm-32 5zm-2 4zm-171-16zm-52 58zm23-9zm144 21zm76 19zm-206-16zm-66 20zm-23 45zm1 9zm18-19zm85-3zm8 16zm95-25zm71 17zm23-17zm-65 38zm-246 3zm-22 40zm37 8zm30-11zm3 30zm58-17zm12-11zm79 31zm92-29zm8-2zm23 17zm2 1zm-143 46zm-75-2zm-12-25zm-10 31zm-19-28zm-30 26zm-15 0zm-24-6zm-8-25zm-21 61zm37-2zm14-9zm25-6zm17 31zm24-21zm1-1zm5-11zm17 19zm13-16zm8 24zm66-16zm3-11zm21 25zm5-22zm57 27zm11-11zm15-3zm49 15zm-69 45zm-165-27zm-7 28zm-63-36zm-3 17zm-40 1zm-32 13zm-10 16zm3 24zm17-29zm2 16zm28 5zm11-11zm19-2zm10 26zm17-14zm18-17zm31 1zm16-4zm59 29zm57-3zm17 1zm23 0zm12-26zm34 22zm18-28zm-34 63zm-30 4zm-27-18zm-34 4zm-16 12zm0-11zm-12-11zm-70 11zm-67 3zm-15-13zm-43 34zm-26 0zm-3 16zm36-14zm6 7zm6-5zm27 24zm7-22zm7 9zm47 6zm67 9zm7 3zm1-21zm4 18zm25-25zm4-2zm0 26zm11-16zm12 16zm65-17zm54 14zm11 29zm-1 4zm-10 1zm-38 19zm0-33zm-1 4zm-7 7zm-1 5zm-43-2zm-7-16zm-5 28zm-20-20zm-20 0zm-2-5zm-6 19zm-77 5zm-2-14zm-8 19zm-1-26zm-31 11zm-54-3zm-30-6zm-21 6zm-29 23zm-7-26zm-22 42zm57 11zm8-8zm7-14zm5-1zm4 34zm23-31zm2 15zm10 12zm3-23zm6 10zm14-6zm26 21zm84-16zm14-7zm8 23zm0-16zm24-19zm11 31zm1 3zm5-34zm2 28zm15 9zm9-9zm1 3zm42-16zm20-6zm13 13zm8 16zm22 4zm-31 12zm-17 21zm-21-18zm-8 15zm-4-19zm-27 11zm-43 3zm-6-14zm-1 25zm-4-35zm-5 4zm-7 30zm-9-5zm-10-11zm-49-3zm-1 3zm-38-10zm-14 24zm-9-14zm-4 14zm-27-11zm-9 11zm-5-19zm-42-2zm-3-14zm-7 32zm-3-9zm-32 15zm-2 22zm9 13zm11-25zm38 10zm9 10zm31-16zm9 10zm38 0zm3 16zm8-2zm6-16zm5 17zm12-32zm1 30zm7-17zm6-8zm64 14zm8 15zm13-37zm16 15zm5 12zm6-2zm74 9zm9-19zm8-4zm12-4zm0 19zm10 1zm12-12zm3 11zm1 7zm17-3zm-5 47zm-3-5zm-14-10zm-8 3zm-12-12zm-2 14zm-12-26zm-26 5zm-1 24zm-21 5zm-1-4zm-14-4zm-8-2zm-15-27zm-2 31zm-1 5zm-1-13zm-1-22zm0 17zm-17-18zm-8 2zm-5 25zm-2-12zm-5 3zm-9-14zm-2 27zm-69 7zm-5-2zm-8-2zm0-4zm-25 8zm-1-1zm0-8zm-43 4zm-6-28zm-1 33zm-16-1zm-5 1zm-8-24zm-13 6zm-8 18zm0-4zm-20-5zm-6-25zm-10 5zm-13 8zm-12-15zm-2 5zm1 55zm2-5zm8-14zm12 16zm4 17zm3-24zm28 7zm5 3zm6-6zm5-7zm25-3zm1 20zm19 6zm17 0zm10-12zm0-19zm3 3zm10 29zm4 4zm3-19zm2-16zm2 21zm2-17zm5 2zm1 16zm4 5zm23-7zm8 0zm45-19zm25 13zm3-2zm16 15zm3 9zm0-7zm9-29zm13 32zm4-22zm11-9zm9 8zm13 10zm10-14zm8 0zm7 15zm10-14zm3-5zm3 29zm23-10zm5-4zm3-9zm13 30zm3-35zm20 14zm-9 55zm-5-27zm-3 18zm-2 10zm-8-18zm-3-6zm-9 28zm-3-29zm-17 20zm-5 9zm-3-15zm-1-3zm-14 7zm-2-13zm-35-9zm-6 34zm-18-18zm-2-6zm0-9zm-4 29zm-15-4zm-1 2zm-5-7zm-10-7zm-4 13zm0 1zm-6-2zm-1 8zm0-26zm-17 5zm-5 9zm-70 12zm0-2zm-4-11zm-15-23zm-4 1zm0 3zm-2 21zm-4 5zm-2-27zm-1 22zm-4-1zm-2-18zm-3 22zm-15-12zm-6 19zm-12-23zm-1-14zm-21 9zm-2 6zm0 7zm-5-18zm-12 13zm-2-13zm-2 10zm-2-13zm-1 10zm-6-1zm-5 28zm-13-26zm-9 22zm-6-23zm-4 14zm-23-15zm12 31zm6 24zm9-18zm1 25zm2-2zm3 1zm2-14zm3 11zm6-13zm8 13zm19-13zm1 8zm3-2zm15 6zm3-21zm1 0zm8 32zm4-7zm1-21zm30 27zm1-32zm12 29zm1 2zm11-6zm5-13zm7-16zm4 21zm1-7zm5-6zm6 13zm2 15zm4-4zm1-15zm8 4zm8 8zm50-22zm6 6zm18-12zm9 8zm3 9zm16-12zm10 5zm7-3zm3-9zm16 24zm3 6zm15 1zm2-8zm11 14zm2-3zm13 4zm11-27zm1-4zm2 18zm4-12zm3 9zm1 13zm2 3zm7-5zm10-4zm6-12zm1 20zm4-34zm2-1zm10 20zm2-6zm2 14zm5-8zm-2 53zm-2-27zm-1 20zm-8-20zm-4 11zm-1-11zm-1 3zm-16 0zm-1 21zm-1-22zm-1 4zm-2-6zm-3 28zm-13-29zm-6 11zm-12-17zm-7 20zm-2-4zm-13 18zm-2-13zm-3-13zm-1-7zm-4 15zm-2-8zm0 15zm-2 11zm-5-23zm-4 14zm-6-18zm-2 21zm-5-5zm-4 14zm-3-27zm-1-10zm-9 25zm-9 4zm-3-14zm-2 16zm-8-9zm-1-3zm-3-18zm-2 27zm-12-29zm-6 5zm-4 6zm-9-5zm-56 26zm-7-6zm-2-25zm-2 34zm-6-11zm-3 6zm-2-7zm-4-9zm-3 17zm0-18zm-1 9zm-6-5zm-13 8zm-12 10zm-2-18zm-2-11zm-1 30zm-2-25zm-4 27zm-12-12zm-1 1zm-4 3zm-25-17zm-8 23zm-10-14zm-1-9zm0 19zm-6-10zm0 14zm-2-4zm-20-8zm-2-15zm-1 12zm-7 0zm0 3zm-4-22zm-1 30zm0-30zm-3 17zm-1-18zm-3 30zm-1-31zm-8 18zm-2 16zm-1-10zm-7-4zm-2 12zm-5-10zm-1-8zm-7 62zm4 0zm2-7zm7-10zm4-19zm10 38zm1-21zm6 11zm5-19zm2-2zm5 16zm12 8zm5-32zm7 6zm4 3zm2 24zm6 2zm4-2zm2-21zm21 18zm1-12zm3-2zm1 16zm0-10zm2 2zm12-18zm2 8zm1-14zm2 13zm3 24zm1 0zm2-36zm9 18zm3 18zm21-21zm4-14zm2-2zm4 28zm1-8zm3-3zm6 6zm3 11zm9-21zm6-6zm4 31zm4-33zm57 24zm6-15zm2 25zm4-6zm7-11zm4-6zm5 19zm7-22zm3-1zm4 10zm4 2zm1 9zm1-3zm8-30zm2 22zm2 8zm0-5zm16 10zm0-29zm6 10zm2-9zm7 0zm5 21zm4 8zm25-20zm12-16zm3 32zm3 7zm6-36zm2 31zm3-25zm7 3zm1 8zm3-10zm2 6zm1 10zm7 2zm4-27zm1 5zm4 30zm1-6zm7-16zm0 15zm3 7zm9-15zm23 10zm2 0zm12 6zm26 1zm-7 9zm0 19zm-1-14zm-9 14zm-2-10zm-2-6zm0 16zm-8-21zm-1-1zm-9 16zm-1-2zm-7 5zm0-4zm-7 2zm-4 3zm0 12zm-8-11zm-1-22zm-3 25zm-7-15zm0-7zm-4 25zm0 6zm-1-12zm-1-18zm-1 23zm-8 4zm0-34zm-1 22zm-2 15zm-1-11zm-5-1zm-4-3zm-5 7zm-16 5zm-12-20zm-2-1zm-1 17zm-9-7zm-4 9zm-1 7zm-6-35zm0 12zm-8-11zm-8 8zm0 15zm-2 0zm-1-4zm-1-4zm-8 16zm0-13zm-1-11zm-3-11zm-6 11zm0 6zm-2 3zm0-9zm-3 7zm-4-1zm-3-16zm-4 14zm-1 7zm-4-4zm-6-15zm-1 33zm-8 0zm-1-32zm0 11zm-3 2zm-6-15zm-1 18zm-2 8zm-1 1zm-6-24zm-4 22zm-5 11zm-8-18zm-48 9zm-3-13zm-11 13zm0-11zm-6 3zm-2 7zm-3-15zm-11-7zm-12 13zm-2-8zm-3-10zm-1 25zm-16-22zm-6 12zm-1-3zm0 15zm-3-3zm-1 0zm-2-1zm-3 13zm-10-31zm-4 15zm-14-7zm-1-8zm-2-6zm-5 7zm-4-7zm-6 4zm-1 30zm-9-28zm-2 24zm-2-15zm-9 17zm-6-2zm-3 5zm-8-16zm-5-7zm0 4zm-3 14zm-1-19zm-1 24zm0-11zm-6-1zm-1-24zm-4 39zm-4-18zm-6-17zm-3 10zm0-9zm-5 32zm-2-32zm-1-5zm-15 31zm-2-20zm-3-3zm0 25zm-1-4zm-1 6zm-3-20zm-13 10zm-7 14zm-1-17zm-3-19zm-3 9zm-10 13zm3 47zm12-20zm3 5zm1 15zm9-23zm3-5zm3 29zm6-25zm3 3zm8 0zm5 27zm5-17zm4 5zm1-4zm1 2zm0-10zm5-13zm5 23zm1-13zm4 11zm1-11zm1-7zm0-1zm3 18zm1 14zm2-35zm0 38zm1-21zm2 0zm1 2zm8 6zm2 14zm5-25zm0 1zm5 12zm4-11zm10 22zm15-2zm7-30zm4 15zm3-1zm1 0zm1-17zm4 27zm1-25zm0 3zm1 10zm1 2zm2 13zm5-18zm10-15zm4 24zm1-15zm1-6zm7 9zm3 16zm5-20zm8 5zm1 8zm2 15zm0-15zm5 14zm3-13zm3-15zm3 1zm4 3zm2 8zm11 5zm2 6zm0-9zm6 8zm2-8zm2-21zm1 2zm0 37zm10 0zm3-39zm65 30zm1-27zm0 13zm2 9zm0 4zm2-26zm18 17zm1 18zm5-27zm0 3zm3-4zm1-7zm1 10zm2-4zm0 12zm6-11zm2 29zm7-30zm2 20zm2 5zm3-22zm7-2zm7-9zm1 9zm5 2zm6 25zm1-36zm2 16zm6 21zm0-8zm0-17zm8 14zm4 5zm1 2zm0-15zm14 1zm3 11zm0 7zm1-19zm20-12zm1 15zm0-20zm1 21zm2 9zm4-26zm4 7zm1 14zm1 2zm1-9zm2 13zm2-12zm1-13zm1 28zm1-28zm3 26zm0 2zm4-3zm0-31zm3 36zm1-21zm1-11zm3 23zm0-6zm2-10zm4 7zm0-9zm0 25zm1-22zm1 0zm2 19zm0 5zm1-24zm0 24zm1-32zm0 1zm7 30zm1-3zm4-31zm0 2zm1 28zm0-7zm8 8zm2-18zm1-12zm1 2zm1 33zm3-10zm1 2zm11-3zm1-25zm11 1zm16 3zm1 35zm0 13zm0 2zm-13 12zm-7 0zm-4 4zm-4-4zm-2 5zm-2 3zm-3-5zm0-17zm-2 4zm0 9zm-1-1zm0-11zm-3-1zm-2 19zm0 1zm0-13zm-2-21zm0 7zm-1-1zm-3 27zm-6 5zm0-9zm-1-10zm0 17zm-4-36zm-2 9zm-3 20zm-2-11zm-3-1zm-4 5zm-1-4zm-1-3zm-2-1zm0 17zm-2-10zm0 13zm-2 2zm0-28zm-4 12zm0-8zm-3 14zm-2 0zm-2-10zm-3-16zm-2 36zm-2 1zm-4-24zm-3-13zm0 17zm0 13zm-7-8zm0-9zm-4 6zm-1 13zm0-33zm-3 6zm-2-6zm-6 11zm-3-1zm-5 2zm-2 5zm-18 7zm-1-22zm-7 28zm-4 3zm-1-22zm-9-6zm-1 18zm-1-16zm0 13zm-1 16zm0 2zm-1-15zm-10 1zm-1-5zm-9 2zm0 13zm-5-12zm-5 1zm0-1zm-6-13zm-1 7zm0 13zm0 7zm-7-7zm-2-25zm-1-3zm-9 38zm-3-33zm-3 13zm-1 6zm-6-12zm0 13zm-5-8zm-1 19zm-5-8zm-5 8zm-2-25zm-4 16zm-1-27zm-46 17zm-3-6zm-4 5zm-4 21zm-8-3zm-2-14zm-1 12zm-2-13zm-1 12zm0 7zm-2-17zm-1-20zm-2-2zm-3 17zm-6 22zm-3-26zm0 14zm-1 3zm-2 0zm-1 7zm-2-30zm0 24zm-4 8zm-9-35zm0 25zm-1 2zm-1-3zm-1-6zm-3-19zm-4 15zm-12-16zm-2 6zm-2 14zm-6 9zm-2-13zm-1-1zm-1-7zm-3-8zm-2 34zm-5-14zm-4 3zm-1-3zm-7-14zm-1-7zm-2 10zm-1 21zm-1 0zm-3-27zm-6 2zm-1 18zm-1 12zm-6 0zm-5-14zm0 5zm-5-23zm0 29zm-3-32zm-1 18zm-9-10zm-4 11zm-2-2zm-1 1zm-3 15zm-1-2zm-1 4zm-1-28zm0-1zm-4 18zm0-2zm-1-11zm0-9zm-1 17zm-2 15zm0-6zm-1-5zm-1-5zm0 2zm-2 2zm-3-6zm-1 11zm-2 0zm-1-8zm-6 18zm-1-22zm0-7zm-2 16zm0 12zm-1-23zm-2 24zm0-39zm-12 26zm-1-10zm-1 19zm-3-20zm-3 8zm-1 8zm-1-29zm-2 15zm-2 4zm-5 2zm0 5zm0-11zm-6 0zm-2 9zm-1 10zm-7 0zm-7-2zm-16 29zm8 7zm1-23zm4 10zm5-4zm0-6zm8 15zm0 11zm2-11zm1-22zm7 4zm1 20zm2 1zm2-8zm0 11zm5 1zm1-11zm0 21zm2-8zm1-12zm2-8zm1 1zm0-7zm1 3zm1-6zm0 16zm4-13zm0 33zm1-25zm3 1zm15 2zm1 4zm0-19zm1 32zm0-31zm2 17zm0-9zm2 14zm2-3zm1 6zm4-1zm0-19zm0 9zm3 6zm1-8zm0 11zm1-1zm0-8zm1-6zm1-4zm1 3zm2-2zm0 11zm3 17zm3-3zm2-3zm0 2zm4-7zm1-4zm2-5zm4-7zm1 17zm1 8zm3-5zm4 11zm1-2zm2-2zm1-26zm4 15zm1 10zm4-9zm3-6zm1-14zm3 20zm0-4zm1 2zm3 16zm3-5zm8 5zm0-5zm1 5zm4-6zm6-4zm0-9zm0-7zm2 6zm1 17zm2-5zm1-20zm3 14zm1-5zm2 5zm0 14zm1-29zm3 12zm2-20zm2 21zm2 13zm3-7zm2-15zm6-8zm2 23zm5-2zm1 2zm4 7zm3-28zm0-7zm2 13zm2-12zm0 2zm2 13zm0 13zm2-29zm1 28zm1 1zm3 7zm0-12zm3-18zm1 28zm5-7zm5 11zm1-21zm1 4zm4-19zm2 20zm0 3zm2-19zm4 25zm0 2zm0-31zm4 25zm1-10zm0-8zm3 18zm3-23zm48 31zm0-22zm6 5zm4-6zm6 16zm1-4zm2 4zm0 1zm3-15zm8 0zm2 19zm11-32zm11 9zm1 13zm2-24zm4 0zm7 9zm1-7zm0 25zm6-27zm0 21zm2 0zm2 18zm4-28zm4 25zm2-24zm7 15zm10 7zm0-17zm10 20zm0 2zm2-22zm1 18zm1-25zm0 19zm3-24zm1-5zm1 26zm2 4zm2 8zm3-31zm1 17zm2-2zm2 10zm1-17zm5-4zm1 28zm1-31zm0 28zm1-14zm1-15zm1 15zm0 15zm1-10zm1-22zm4-5zm1 24zm0-11zm3-2zm6 25zm4-1zm3-15zm0-8zm1 12zm0-23zm3 16zm1 17zm1-18zm0-7zm2 23zm2-29zm1 33zm0-1zm4-16zm6 0zm5-3zm3-8zm0 16zm3-11zm2 7zm4 6zm1-7zm1-1zm3-8zm1 23zm0-11zm2 14zm0-6zm6-25zm4-3zm0 14zm0 4zm1 8zm0-9zm0 3zm3-17zm1 27zm0-31zm3 10zm4-9zm3 22zm0-15zm7-3zm5 2zm1 30zm10-21zm0 6zm10 16zm5-30zm-4 60zm0-4zm-2-4zm-8 16zm-9-29zm-4 30zm-4-22zm-10 7zm-5-4zm-3-1zm-2 18zm-2-22zm0-10zm-4 11zm0 6zm-2 3zm-1 4zm-1-4zm-3 1zm0 2zm0-8zm-3-14zm-1 6zm0 6zm-6-5zm0 3zm-4-15zm-2 1zm0 33zm-3-14zm-2-4zm-2-12zm-1 0zm-1 11zm0 11zm-1 4zm-1-24zm-1 27zm-3-22zm-2 0zm0-4zm-2 29zm0 3zm0-10zm-1-18zm-2 7zm-2-15zm-4 11zm-1 4zm-7 9zm-4-18zm-5 18zm-2-3zm0 14zm0-33zm-1-1zm-2 23zm-2 4zm-4-12zm-1 15zm-1-12zm-4 2zm-2-17zm-3 5zm-1-4zm-4 29zm-1-26zm-4 13zm-1-20zm-2 30zm-2-1zm0 2zm0-22zm0 3zm-1-14zm-2 32zm-1 0zm-14-14zm-2 17zm-1-20zm-1 12zm0-7zm-1-6zm0 8zm-7-5zm-1 7zm0-22zm-5 12zm-1 19zm0-33zm-1 30zm-1-13zm0 3zm-1-1zm-2 13zm-1-14zm-1-17zm-2 16zm-1-7zm-1 9zm-4-4zm-4 10zm-5-12zm-1-13zm-3 26zm0-27zm-3 7zm0 12zm0-8zm0-7zm-2 19zm-3 1zm-4-22zm-1 31zm-3-33zm-7 17zm-2 17zm-1-6zm-4 8zm-1-19zm-2 21zm-3-12zm-9 7zm-2 1zm0 3zm-1-21zm-6-9zm-2 10zm-1 11zm-44 8zm-5-20zm0 19zm-4 0zm-1-9zm-5-17zm-3 18zm-10-15zm-1-8zm-3 6zm-9 8zm0-6zm-1 12zm-2-22zm-1 12zm-2 9zm-2-14zm-1 20zm-3-6zm-1-17zm0 17zm-3-8zm-3 17zm-1-10zm-2-10zm0 22zm-1-6zm-5 0zm-1 0zm-1-15zm-4-8zm-1 6zm-1 7zm-3-17zm-2 0zm-10 1zm-1 10zm0-12zm-1 30zm-1-28zm-2 9zm-1 0zm-6 15zm0-9zm0-6zm-4 2zm-6 10zm-2 13zm-2-11zm-1 11zm-2-3zm-1-7zm-2-9zm-2-14zm-1 3zm-2-3zm-3 4zm0 14zm0-21zm-3 36zm-2-17zm0-15zm-1 8zm-4 17zm-3-17zm-2 3zm-2-12zm-2 4zm-2 18zm-4 12zm-2-6zm-3 7zm-4-37zm0 27zm-2-1zm0 2zm0 3zm0 6zm-2-3zm-1-17zm0-7zm-1 5zm-1-12zm0 6zm-6 13zm0-17zm-7 26zm-1 1zm-1-14zm0 7zm-1 10zm-1-7zm0-6zm-1-1zm-3-2zm-3-17zm-2 34zm-3-15zm-2 15zm0-25zm0 4zm-2 0zm-2 0zm-1-10zm-1 23zm-2 1zm-2 6zm0-20zm-2 22zm-2-16zm-1 16zm-2-33zm-1-2zm-1 21zm-5-4zm-1-2zm0 12zm0-1zm-4 9zm0-7zm-3-25zm0 4zm-2 13zm-2 4zm-1-3zm-1-16zm-4 22zm0-24zm-12 6zm-1 7zm-8-2zm-1-5zm-7 6zm4 57zm1-13zm6-15zm9 9zm15 2zm2 19zm0-11zm2-22zm1 3zm1 30zm1-31zm3-3zm2 13zm0-17zm2 10zm1 9zm0 15zm1-3zm1-2zm2 6zm0-4zm1-1zm0 3zm0-2zm1-18zm1 2zm0 17zm4-16zm0 11zm3-8zm3 13zm0 5zm2-17zm0 14zm1-24zm3 23zm1-15zm1 8zm0-26zm1 8zm1 29zm1-12zm2-6zm1 2zm2-17zm1 17zm0 18zm1-26zm1 8zm2-18zm0 25zm1-25zm2 12zm0 12zm4 1zm0-6zm1 14zm0 2zm1-23zm1 0zm0-1zm0-13zm1 1zm2 1zm0-1zm1 18zm1-9zm3 13zm0 15zm1-16zm0-10zm2 26zm1-30zm3 7zm2-9zm1 31zm0-12zm1 3zm4-24zm1 16zm6-20zm1 38zm0-33zm1-5zm1 34zm1 1zm4-11zm1 13zm0-12zm0-16zm2 17zm3-10zm2 2zm6-9zm0 27zm4-2zm3-12zm0-23zm3 13zm5 17zm0-10zm0 14zm0 3zm11-24zm0 17zm0-9zm1 6zm1 10zm2-16zm1-12zm0 11zm1-8zm1-3zm1-2zm1 11zm1-12zm4 21zm1-24zm1 34zm2-4zm5-18zm3 4zm1 11zm1-18zm0 4zm1 10zm0 8zm3 4zm0-31zm2-4zm3-1zm0 26zm4-10zm0 2zm3-16zm1 25zm2-4zm2-22zm0 12zm0 6zm5 18zm1-37zm1 28zm3 7zm1-26zm5 6zm4 21zm2-3zm1-8zm2-27zm1 23zm0-21zm1 6zm2-2zm2-4zm2 7zm1 21zm4 1zm1-9zm3 13zm1-13zm4-13zm3 20zm1-1zm39 11zm2-22zm6 5zm0-9zm1 0zm1 4zm3 5zm3-11zm1-9zm2 24zm1 6zm0 3zm0-30zm1 4zm2 4zm1 25zm2-28zm2 29zm3-35zm1-1zm0 35zm1-33zm1 24zm2 9zm2-25zm2 22zm1 3zm1-12zm1 10zm1-25zm0 28zm8-3zm1-15zm0-4zm2-9zm1 15zm1 5zm2-18zm3 28zm0-21zm0-11zm0-5zm2 35zm2-16zm1 3zm2 8zm0-25zm1 11zm4-12zm2 21zm0-2zm1-6zm2-14zm2 34zm2-12zm1 0zm1-14zm1-3zm0-3zm1 5zm0 7zm2 4zm0 9zm2-27zm8 10zm4 19zm1-11zm1-11zm2-10zm0 6zm1-7zm1 2zm0 35zm3-15zm1 7zm0-6zm1-3zm0-6zm1 10zm1-18zm0-1zm1 9zm1-3zm3-2zm1-8zm1 28zm3 5zm1-24zm1-7zm1 5zm0 12zm1 15zm1-13zm0 16zm6-27zm3-11zm1 22zm3-2zm3 3zm1-6zm2 19zm4-27zm1 26zm3-4zm0 3zm1-14zm1-19zm5 13zm1 20zm1-2zm0-29zm1-3zm2 10zm1 26zm2-31zm3 5zm0-8zm2 13zm2 13zm2-14zm0 11zm2 1zm0-1zm0 4zm3-24zm1-2zm1 31zm0-3zm1-29zm0 4zm2-1zm0 28zm3 5zm2-27zm1 28zm3-31zm0 12zm0-17zm1 16zm2 8zm1-14zm1 0zm0 12zm1-9zm2-1zm2-3zm0-11zm1 7zm1 27zm0-10zm0-12zm0 25zm1-34zm1 17zm1 15zm1-10zm1-20zm2 10zm0 12zm1-16zm1 10zm2-19zm4 18zm0-17zm2 8zm3-5zm0 25zm2-5zm2 10zm0-1zm1-33zm1 23zm2-24zm1 37zm0-16zm1 1zm1 0zm0-8zm1 10zm0-17zm0 1zm6 2zm1-5zm1 7zm4 18zm1-6zm3-5zm1 7zm3-1zm8-22zm0 24zm0 2zm4-7zm5 3zm0-1zm2-21zm1 2zm1 8zm2 8zm-5 51zm0-33zm-5 37zm-1-10zm-7-20zm-8 23zm-6-2zm-5-24zm0 6zm-7 21zm0-8zm-3-17zm0 31zm-2-8zm0-9zm-2-21zm-2 21zm-1-11zm0-8zm-1 36zm-1-12zm-2 2zm0 11zm-2-31zm0 2zm0 16zm-1-9zm-1 8zm-1-18zm-1 20zm-1 8zm-1-11zm-1 1zm-1 0zm-3-22zm0 26zm-1-1zm-1 1zm0 5zm-1-15zm-2 13zm0-16zm0 15zm0-10zm-3 10zm0 1zm-3 0zm-1 7zm0-5zm-4-23zm-1 22zm-3 4zm-4-11zm-1-15zm-1 0zm-1 28zm-1-37zm-1 30zm-2-13zm-2-16zm0 14zm-1 17zm-2-12zm0 13zm0 3zm-1-9zm-2-23zm-1-1zm-7-4zm-1 26zm-1-5zm-1-5zm0 1zm0 13zm-4-22zm0 12zm-3-5zm-1-8zm-3-3zm-1 8zm0 24zm0-8zm0-18zm-3 12zm0 14zm0-23zm-3 23zm0-6zm-6-21zm-1-8zm-2 10zm-1 24zm-3-7zm-3-10zm-2-7zm-2 2zm0 21zm-2-24zm-1 11zm-2-13zm-6-3zm-2 16zm-1-19zm-4 10zm-4 3zm0 14zm-1-5zm0 1zm-1-10zm-1 10zm-2-8zm-1-2zm0 22zm-1-11zm-1 0zm-1 10zm-6-25zm0 17zm-1 9zm0-1zm0-3zm0-20zm0 9zm-1-18zm-3 9zm-3-11zm-1 9zm-3-8zm-6 32zm-1-4zm0 3zm0-9zm-1-23zm0-2zm-1 33zm0-22zm-1 24zm-1-19zm-1 9zm-1-1zm-9-15zm0-1zm-2-5zm-3 3zm-3-4zm0 15zm0 4zm-1-22zm-4 23zm-2 13zm-1-18zm-1-5zm-3 1zm0 15zm-2-4zm0-24zm-1-1zm-1 39zm-2-23zm-1 15zm-2-6zm-1-18zm-1 3zm0-6zm-1 7zm-1 18zm0-12zm-2 20zm0-11zm-1 0zm-1 9zm-1-14zm-3 17zm-1-23zm-2 7zm0 15zm-1-37zm-2 10zm0-10zm-2 7zm0 5zm-1 20zm-1-30zm-1 11zm0 3zm-3-12zm-1 5zm-1 15zm-34 15zm-1-38zm-1 22zm0-19zm-2 11zm-2-10zm-2-2zm-1 1zm0 7zm-1 28zm-1-39zm-1 39zm0-8zm-2 7zm-3-17zm-1-7zm0 4zm-2-1zm-1 3zm-2 11zm-5-31zm-2 17zm-1 12zm0 5zm-2-19zm0 2zm0 12zm-2 1zm-1-18zm0 7zm-1 16zm-1-13zm0-15zm-1 30zm-1-8zm-1 4zm0-21zm0 24zm-1-30zm-1 32zm-2-10zm-1-3zm0-17zm-2 0zm-1-5zm0 12zm0 3zm-1 4zm-1-22zm-6 7zm-2-6zm-2 5zm-1 23zm-2-22zm-2 6zm-2 12zm-1 12zm-1-36zm0 35zm0-7zm-3-21zm-2 10zm-4-1zm0 7zm-3 8zm-2-23zm-4 8zm-1 16zm-2-7zm0-7zm-3-13zm0-6zm-1 15zm0-3zm-3 14zm0-23zm-3 13zm-1 5zm-1 7zm-1 10zm-2-32zm-2 24zm-1-18zm-2 7zm0 2zm-3 4zm0 5zm-1 3zm0 3zm-1-3zm0-4zm-3-22zm-1 26zm0-24zm0 4zm-1 17zm-2-22zm0 12zm-1 12zm-1 3zm-1-20zm-2 10zm-1 14zm-3-9zm-2-20zm-2 19zm-2 0zm-4-1zm-2 9zm-1-30zm0 3zm-3-2zm-3 24zm0 4zm-2-26zm-1-7zm-1 2zm-2 17zm-1-21zm-1 16zm0 18zm-1-12zm-4-4zm-9 0zm0 3zm0 16zm-2-25zm-2 25zm0-10zm-1 6zm-1-6zm-1-14zm-3 4zm-3-5zm0 18zm-3-14zm-1 6zm-5 13zm-1-14zm-2 9zm0-9zm-2 0zm-1-7zm-5 11zm-1-24zm-3 23zm0-19zm0 4zm-1 18zm0-23zm-1 34zm-3-14zm0 11zm0-6zm-2-2zm-1 6zm0-23zm0 19zm-1-7zm0-1zm0-20zm-3 27zm0 6zm-2-11zm0-19zm-1 31zm0-5zm-1-9zm0-8zm-1-4zm0 22zm-2-26zm0 22zm-1 6zm-2-32zm0 7zm-1 9zm0-11zm0 6zm-1 5zm-2 5zm-2-17zm0 13zm-1-10zm0 2zm-2 18zm-1-18zm0 11zm0 2zm-2 13zm-2-2zm0-30zm-10 33zm0-9zm-2-3zm0-7zm-9 15zm-1-30zm-7 28zm-7-7zm-1 1zm-4 12zm0 19zm3 1zm1-16zm3 13zm4 2zm13 13zm0-6zm2-22zm8 32zm3-12zm3-3zm1-8zm8-8zm2 3zm0 21zm1-10zm0-10zm0 28zm2-3zm3-12zm2-2zm1 6zm1-14zm0 28zm0-11zm2 8zm0-1zm2-5zm1 0zm1-17zm5 17zm1 0zm0-21zm2 8zm2 10zm0-4zm1-1zm0-3zm0-11zm2 16zm2-23zm1 2zm1 2zm2 11zm0 23zm2-23zm0 3zm1 20zm0-9zm1 1zm2 5zm1-3zm0-26zm3 24zm1-28zm2 22zm1-19zm1 30zm1-35zm2 33zm3-14zm2 1zm0 9zm0-22zm3 7zm1-9zm0 28zm2-24zm1 9zm1-5zm1-12zm0 13zm3-7zm1 26zm2-25zm1 7zm1-15zm0 15zm0 12zm1-18zm1-4zm2 18zm2 8zm1-7zm1-4zm1-5zm0 22zm0-17zm3-18zm1 22zm0-10zm1 1zm1-2zm0 22zm2-12zm0-9zm1 13zm1-21zm6 27zm1-7zm2 2zm2-14zm5-11zm2 30zm0-25zm1 8zm2-1zm5 21zm1-22zm0-10zm5 18zm3-19zm0 13zm1 19zm0-10zm5 7zm4-21zm3 23zm1-24zm4-10zm3 30zm1 0zm1 3zm1-7zm1-19zm1-4zm5 31zm0-21zm6-1zm1 25zm0-10zm6 9zm1-18zm0 3zm3 9zm1 6zm1-34zm1 10zm1 15zm2 2zm0-4zm1 2zm2-13zm1-13zm2 23zm1-16zm1 9zm1-1zm0 21zm5-8zm1 2zm7-2zm0-28zm2 34zm0-20zm0 1zm2 20zm2-16zm0-11zm1 23zm0-7zm3 4zm0-10zm1 12zm0-20zm3 26zm0-29zm0 6zm0 22zm1-12zm1 2zm3 4zm0-10zm0 8zm0-1zm2-1zm3-25zm1 17zm2-15zm2 15zm1 2zm2-10zm1-7zm1 24zm1 3zm2-2zm25-9zm2-11zm0 16zm1-10zm0-9zm2 27zm0-11zm0-21zm1 33zm0-29zm3 0zm0 26zm1-5zm1-16zm5-2zm1 22zm1 0zm1 0zm0-7zm2 2zm1-8zm0 13zm1-16zm1 14zm1-7zm1 3zm1-14zm1 25zm1 1zm2-31zm1 21zm0-11zm1-2zm0 13zm2 12zm2-5zm1-1zm2 2zm1 0zm0 4zm2-27zm1 6zm3 0zm0-11zm1 6zm2 7zm1-7zm0 12zm1 12zm2-30zm2 13zm3-14zm0 5zm1 6zm2 22zm1-8zm2-19zm1 8zm0 15zm1-12zm1 11zm1-17zm3 0zm2 13zm1-28zm0 25zm1-2zm2-8zm1 19zm2-33zm1 30zm1 2zm1-6zm2-8zm0-10zm4 13zm1 6zm0 3zm1-14zm1-10zm1 4zm0-2zm0 13zm2-14zm3 24zm0 2zm1 3zm4-31zm1 6zm2-2zm2 21zm2-26zm1 31zm3-14zm1 2zm1-5zm0 18zm1-1zm9-16zm2-19zm1 21zm0-21zm1-1zm1 37zm1-20zm1-14zm1 30zm0-7zm2-7zm0 3zm0 7zm5-16zm1-2zm1 9zm1 7zm1 4zm1-10zm1-3zm0-10zm1 27zm1-2zm2-23zm3 19zm4-1zm1-24zm5 17zm3 4zm0 4zm4-7zm0 1zm3 13zm0-11zm1-13zm1-11zm0 14zm1 5zm0 12zm1-5zm1 6zm1-25zm0 28zm5-4zm0-29zm1 14zm1 4zm1-1zm4-7zm1-2zm0-5zm0 12zm0 3zm3-21zm2 16zm1-2zm0 13zm1-9zm1-14zm0 21zm6-2zm0 8zm1-7zm0 11zm1-4zm1-6zm2 11zm0-23zm2 24zm1-1zm0-3zm3-4zm0-18zm1 13zm2-2zm2 12zm0-17zm2 20zm0-19zm3-16zm1 21zm0-6zm0-1zm1 3zm0 16zm0-33zm0 12zm2-12zm1 14zm0 5zm1-3zm2-14zm0 11zm2-7zm0 29zm2-36zm0 30zm2-12zm1-7zm5-1zm2 16zm3-7zm5 19zm3-27zm3 26zm3-15zm0-23zm1 35zm4-1zm0 5zm12-29zm3-1zm0 51zm-1 3zm-3 15zm-1-37zm0 14zm-1-4zm-8-10zm-3-1zm-2 12zm-1 15zm-3-19zm-2 24zm-1-11zm-7-5zm-2-10zm-2 4zm-4-3zm0 19zm-1 5zm0 7zm-1-24zm-10 22zm-1-2zm-2-16zm-4 12zm-2-12zm-1-17zm-1 7zm0-5zm-3 25zm-1 11zm-2-31zm-2 21zm-5-29zm-2 23zm-2 5zm-2-4zm-4-13zm0-7zm-1-1zm0 34zm-3-8zm-2 1zm-6 0zm-7-23zm-390 31zm0-31zm-2 11zm0-1zm-2 11zm-2-27zm-2 32zm-2-15zm0 17zm-2-24zm-5 11zm-2 6zm0-10zm-2-17zm-2 38zm-1-6zm-2-23zm-3 28zm-1-15zm-1-17zm-3 9zm-4-5zm-1-4zm-1 5zm-2 11zm0-19zm-12 11zm-4 11zm-2-14zm0-9zm-1 36zm-7-12zm-1 6zm-3 4zm-1-2zm-4-1zm-1 0zm-3-10zm-1-8zm-3 17zm-5 3zm-5 1zm-2-24zm-13 51zm2 3zm5-13zm1-10zm0 4zm0-1zm0 27zm6-12zm1 1zm4-5zm1 7zm2 5zm0-29zm0 12zm2 26zm2-11zm0-4zm5 12zm5-20zm4 7zm2-20zm1 4zm9 26zm2-7zm0-11zm3-11zm0 22zm5-4zm0 12zm1-33zm2 7zm2 20zm3-14zm1 10zm2-16zm2 21zm3-5zm2 10zm0-26zm3-2zm1 15zm0 7zm1 10zm0-8zm1-26zm0 14zm1-11zm1 8zm0-8zm1 30zm1-32zm2 8zm1-12zm5 23zm0-11zm0 2zm1-2zm6 17zm3 3zm2 6zm0-3zm0-2zm390-17zm2 13zm1-21zm1 18zm2-9zm1-9zm3 1zm4-4zm0 2zm8-1zm1 26zm3-31zm8 32zm0-2zm2 6zm2-20zm0 9zm0 2zm3-17zm2 20zm3 8zm3-8zm1 8zm1-29zm0 26zm1 1zm1-23zm2 12zm1-18zm1 1zm4-3zm3 27zm1-27zm1 3zm5-2zm4 12zm2 5zm0 15zm3-32zm1 24zm6-15zm0-8zm7 6zm1-13zm2 19zm7 44zm0-1zm-7-12zm-1-10zm-1 2zm-2 29zm-3-5zm-11-1zm-7-16zm-1 9zm-3-2zm-2 13zm0-18zm-1-10zm-3 10zm-4 6zm0-17zm-3 11zm-2-1zm-8-5zm-9 18zm-4-7zm-4-1zm-3 12zm-3-5zm-1 7zm0-20zm0 2zm0 15zm-1-9zm0 13zm-2 6zm-1-21zm-4 7zm0-19zm-4 33zm0-19zm-5 15zm0-29zm-4-4zm-394 29zm0-8zm-2-2zm0 6zm0 13zm-2 1zm-1-22zm-1-17zm-1 36zm-5-14zm-1-21zm-2-1zm-2 3zm-1 8zm-2 11zm-1-7zm-1 21zm0-10zm-3 2zm-1 7zm-3-15zm0-2zm-4 15zm-1-14zm-1-17zm-4 33zm-2-31zm-1 34zm-3-18zm-1 6zm-2 10zm-2 0zm0-33zm-2 19zm-1 5zm-6-21zm-4 21zm-2 0zm-1-11zm-7-16zm0 33zm-3-4zm0 1zm-1-21zm-4-9zm-18 30zm-4-17zm-3 55zm7-17zm9-9zm5 10zm2 10zm6-11zm1-3zm0-7zm8 5zm12 30zm2-27zm2-9zm1 38zm4-14zm1-9zm0 3zm2 13zm1-27zm1 28zm1-9zm3-10zm0 26zm2-24zm10 18zm1-23zm1 5zm7 2zm1-7zm2 28zm4-30zm5 27zm2-32zm1 10zm0 25zm0-9zm0-10zm1 13zm0-30zm2 0zm3 33zm0-14zm390 13zm0-29zm0 15zm1 3zm1-23zm0 7zm0 1zm5 20zm0-27zm4 35zm1-26zm2 10zm2-13zm2 5zm3 2zm1 6zm3-9zm3 24zm2-2zm2-29zm3 10zm1 14zm3 5zm3-9zm6-23zm2 10zm3 23zm1-10zm2-21zm0 10zm3 18zm1-5zm1 4zm3-11zm0 15zm0 2zm7-13zm1 12zm7-35zm0 13zm1 11zm1 5zm7-12zm0 1zm2-3zm1 23zm3-14zm1 7zm1-29zm2 5zm3 9zm2 20zm4-17zm1 7zm-6 34zm-1 4zm-1-4zm-4 19zm-3-24zm-6 3zm-3-10zm-6 20zm-2-2zm-1-25zm-5 26zm-2-13zm-1 24zm0-27zm-6-10zm-1 13zm-3 21zm0-31zm-8 23zm-3 0zm-2-13zm0-11zm-1 19zm-3 8zm0-10zm-1 12zm0-10zm-1 7zm0 2zm0 4zm-1-26zm0 7zm-1-7zm-4 19zm-4-14zm-1-3zm-1-5zm-5 13zm-3-16zm-1 26zm-1-24zm-1 16zm-1 1zm-1-12zm-1 6zm-1 13zm-2-11zm0 21zm-1-8zm-1-26zm-1 24zm-2-2zm0-13zm-3-6zm-1 22zm-392-24zm-1 32zm-2-12zm0 6zm-2-19zm-4 20zm-4-33zm-2 18zm-1-12zm-1 19zm0 2zm0-17zm0 1zm-1 11zm-1-18zm-5 25zm-1-23zm-2 17zm-4-6zm0 7zm-2-8zm-3-16zm-4 34zm-2-6zm-1-27zm-2 38zm0-34zm-2 9zm-2-11zm-4 23zm0-25zm-1 13zm0-3zm-4 24zm-2 1zm-3-16zm-4-6zm0 17zm0-30zm-1 22zm-3-15zm-1 17zm-2-22zm-10 13zm-6 14zm-2-14zm-3 8zm-2 8zm-6-28zm-5 2zm7 42zm12 7zm4-11zm8 9zm2-8zm9 15zm2-11zm3 3zm1-3zm5 13zm6-22zm2 36zm1-12zm2 0zm6-17zm1-1zm2-1zm1 26zm2 1zm2-27zm0 33zm1-24zm2 12zm2-4zm4 6zm1-13zm2 19zm1-19zm1 3zm1-1zm1 14zm1-5zm1-1zm1-1zm1 3zm0-10zm1 5zm2-7zm1-15zm0 32zm2-16zm1 13zm1 8zm393-37zm4 14zm0 2zm1-12zm0 34zm2-25zm0 12zm0 12zm0-5zm2-31zm6 22zm4-19zm2 20zm0 2zm1-13zm0 14zm3-16zm0-6zm2 12zm7 6zm1 8zm10-16zm0 13zm0-1zm2-9zm2-4zm9 20zm0-8zm3-24zm1 8zm2 3zm4 2zm7-14zm7 8zm13-3zm13-3zm0 4zm-97 38zm0-4zm-6 2zm-3 7zm-2-7zm-390 12zm-1 0zm-3-2zm-3-4zm-14-8zm-11 0z"/><path stroke-width="24" d="M10237 2917zm720 22zm-20 2zm-33-1zm-18 2zm-2 1zm-6-13zm-7 22zm-4-7zm-6-18zm-624 11zm-6 5zm-28 11zm-5-20zm-4 6zm-2-4zm-1 1zm-5 16zm-2-16zm-9 16zm-6-14zm-35 5zm0-11zm12 28zm8 18zm23 0zm8-2zm2-9zm1 18zm0 9zm24-31zm17 10zm5 21zm615-35zm2 1zm18 22zm5-7zm5-11zm6 33zm1-34zm10 10zm2 0zm11 10zm5-14zm2 17zm40-24zm-2 73zm-1-14zm-5-20zm-17 37zm-19-24zm-1 7zm-4-20zm-1 25zm-7 8zm-3-22zm-20-1zm-16-5zm-2 20zm-3 5zm-620-4zm0 1zm-1-26zm-1 13zm-16-10zm-31 2zm-3 13zm-9-3zm-1-16zm-2 10zm-1 2zm-4 17zm-12-7zm-16 51zm4-19zm13-9zm12 29zm1 3zm2-35zm4 35zm6-30zm1 30zm17-36zm4 8zm2-11zm1 22zm8-7zm7-11zm7 1zm5 21zm2-25zm1 23zm626-8zm2-9zm4 2zm8 10zm1 8zm5-1zm8-1zm4 10zm11 2zm3-22zm1 7zm1-13zm0 27zm13-27zm27 13zm5 17zm-1 22zm-16 17zm-4-30zm0 29zm-6-7zm0-28zm-11 14zm-1 4zm-15 11zm-6-8zm0-11zm-1 19zm0-15zm-6 23zm-3-13zm-16-7zm-4-8zm0-8zm-8 11zm-1-9zm-3 15zm-619 14zm-4-21zm-16 18zm0-11zm-4 10zm-2-26zm-3 30zm-1-19zm-3-12zm-7 1zm-9 12zm-2-7zm-1 23zm-2-21zm-1 28zm-2-26zm-2 21zm-6 3zm-3-3zm-33 18zm34 14zm0-11zm21 0zm7-7zm1 5zm1 6zm8 20zm3-17zm7 17zm7-25zm1 14zm11-4zm0-20zm632 9zm11 15zm1-9zm5 10zm11-14zm10-7zm5 14zm0-17zm15-5zm20 18zm3-16zm4 33zm-4 28zm-6-9zm-1-14zm-3 2zm-2 18zm-5 3zm-13-5zm-5 16zm0-17zm-2 22zm-14-25zm0-6zm-9-8zm-2 10zm-4-6zm-8 19zm0 7zm-1-20zm-1 9zm-1-6zm-7-1zm-4 5zm-9-15zm-622 5zm-4 24zm-1 6zm-2-37zm-2 37zm-2-33zm-2 25zm-9-26zm-6 1zm-9 29zm-1-20zm-7-6zm-2 8zm-1-6zm0 29zm-9 0zm-1-33zm-7 5zm-3 7zm-27 56zm1-26zm14-2zm8 11zm13 12zm6-7zm14 12zm7-7zm1-18zm9 16zm3 8zm1-32zm0 12zm2 0zm6 27zm2-7zm13 1zm5-7zm1 1zm0-16zm612 22zm0-30zm10 7zm1-6zm11 21zm1-18zm9 13zm2-2zm14-6zm1 17zm3-2zm5 2zm6-2zm5-4zm3 8zm5 1zm2-15zm9 20zm8-31zm11 4zm-6 30zm-6 9zm-2-4zm-49-2zm0-1zm-7 17zm-2 10zm-1 2zm-7-20zm-1 3zm-1-7zm-1 1zm-4-1zm-1 4zm0 19zm-2-1zm-8-24zm-6 13zm-615-18zm-1 32zm-1-15zm-3-15zm-1 16zm-1 17zm-1-17zm-1 13zm-5-27zm-1 11zm-5 24zm-4-13zm-11-2zm-4-1zm-5-11zm-11-4zm-1 20zm-1-18zm0 17zm-8-17zm0 19zm-6-1zm-5-18zm-4 29zm-19-36zm-10 53zm8 1zm7 12zm5 5zm2-27zm3 16zm4 0zm1 9zm8-11zm3-5zm1 7zm0 12zm1-18zm14 17zm2-5zm1-27zm2 8zm0 24zm12-7zm11-12zm7 23zm3 0zm3-7zm7 8zm620-31zm4 30zm1-33zm6 34zm1-21zm10 14zm6-20zm6 2zm3 12zm1-15zm2 1zm3 24zm17-7zm0-10zm0-10zm3 2zm1 28zm6-27zm5-11zm5 26zm0 9zm8-1zm17 30zm-5-22zm-20 29zm-18-31zm-1 9zm-6-10zm-9 31zm-11-11zm-4-1zm0-18zm-6 26zm-12 7zm-6-31zm-9 32zm-2-23zm-614 6zm-6-18zm-2 19zm-4 9zm-1 2zm-6-5zm-1-15zm-1-2zm-1 9zm0 4zm-5 3zm-1-17zm-1 24zm0-12zm-6 4zm-1-17zm-15 30zm-3-18zm-10-7zm-1 7zm-1 2zm-11-15zm-4 28zm-3-13zm-10 7zm-1-4zm7 33zm9-3zm4 9zm5-4zm11-1zm5-4zm8-11zm7 6zm4-2zm0 17zm3-22zm6 22zm0 6zm3 8zm2-13zm7 14zm5-14zm5 14zm0-22zm4-16zm614 20zm7 11zm0-10zm1 8zm3-20zm1 30zm1-11zm10-22zm4 33zm11-30zm1 13zm0-3zm6-7zm15 8zm6 5zm1-10zm8-14zm0 33zm6-16zm4 18zm13-19zm1 3zm5-12zm-27 34zm-1 15zm-6-3zm-22-8zm-11-6zm-7 22zm0-5zm-1 17zm-3-21zm-8-11zm-12 12zm-4 8zm-617 16zm-3-6zm-1-10zm-1 8zm-4-4zm-3-3zm-5-14zm-4 28zm-6-33zm-4 13zm-5 16zm0-6zm-2-23zm-19 20zm-8-4zm-2-12zm46 42z"/><path stroke-width="28" d="M10972 2912zm25-2zm50 40zm-968-11zm-36 7zm-13-11zm2 50zm52 12zm27-13zm864-14zm7 24zm12-33zm13 28zm56 33zm-9 9zm-37-30zm-15-1zm-10 14zm-24 21zm-849-15zm-7-1zm0-8zm-3 22zm-9 0zm-21-1zm-6 0zm-7-11zm-14 11zm-12-6zm9 44zm39-22zm1 0zm870 5zm5 25zm1-10zm8-19zm7 19zm79 1zm5 10zm-34 24zm-17-5zm-9 9zm-6-27zm0 18zm-10-14zm-14 18zm-1 13zm-849-8zm-7 6zm-33-7zm-14 11zm-38-36zm-12 19zm4 28zm2 28zm56-35zm25 30zm857 0zm4-8zm2 8zm7-26zm5 32zm8-25zm5-7zm4 9zm13 16zm49 7zm3-11zm-23 44zm-5-21zm-31-2zm-14-3zm-1 33zm-2-4zm-19-4zm-844-19zm-2 9zm-3-17zm-7 30zm-3 4zm-39-5zm-3-20zm-6 23zm-2-34zm-7 31zm0-17zm-8-3zm-1 9zm-19 41zm63 0zm13 8zm14-9zm5-2zm841 7zm1-19zm11 12zm11-16zm4 33zm7-5zm8-1zm6-27zm5 5zm20 15zm2-16zm10 7zm2-7zm13 23zm6-19zm-1 58zm-5 9zm-36-34zm-19 30zm-6-12zm-15 12zm-4-9zm-5 7zm-5-11zm-844 1zm-3-15zm-26-3zm-14 27zm-5 1zm-7 4zm-5 1zm-12 3zm-1-12zm-18 42zm11-10zm16 20zm9-23zm9 22zm7-5zm3-26zm3 30zm0-37zm9 34zm2-11zm8-7zm7 0zm849 12zm1-1zm20 7zm12-11zm6 5zm2 4zm3-10zm29-2zm9 2zm5 2zm1-7zm8-9zm-3 43zm-26 8zm-13 16zm-10-19zm-11 5zm-7 5zm0-21zm-11 6zm-6-2zm-1 7zm-3 14zm-849-21zm-7 0zm-10 7zm0 22zm-8-38zm-8 22zm0 4zm-5 9zm-24-15zm-2-15zm-7 3zm-3-4zm-8 29zm-9-10zm-1-2zm-2 11zm6 13zm8 1zm31-2zm3 12zm4-5zm26 15zm2 5zm12-27zm844 32zm3-31zm3-1zm3 27zm3-15zm8-5zm5 23zm24-31zm22 4z"/><path stroke-width="32" d="M11122 2953zm-52-28zm-1095 0zm-12-1zm21 52zm6 20zm1115-34zm5 25zm29-5zm13 5zm28-3zm-69 32zm-1116-12zm-36 29zm-48 24zm18-6zm38 26zm12-10zm1108-25zm7 20zm23 7zm28 8zm-3 31zm-40 10zm-20-5zm-1073-28zm-13 5zm-42 24zm0-1zm-41-6zm6 52zm14-17zm23-16zm12 8zm38 24zm4-30zm1085 1zm29 24zm2-28zm24 10zm18 22zm11 35zm-25 0zm-45-28zm-19 19zm-1091-7zm-15 23zm-4-21zm-13 20zm-2-20zm-28 14zm0 4zm-28 11zm18 19zm5-7zm13 9zm30 6zm15-5zm3 5zm1078-11zm42-8zm65 17zm-44 39zm-1-23zm-41 26zm-17-7zm-1091-25zm-13 30zm-27 12zm9 23zm23-2zm0-24zm12 28zm1-4zm12 3zm3 8zm1096-35zm39 3zm3 33zm35 0zm-21 28zm-23-3zm-3-1zm-24 16zm-5-4zm-15-14zm-1090-19zm-6 30zm-80-26zm-1 5zm0-4z"/><path stroke-width="36" d="M11217 2924zm-1384 63zm68-16zm1332 7zm18 15zm23-3zm9 40zm-45-14zm-10-13zm-26 2zm-17 29zm-1387-5zm18 22zm1416 19zm48 25zm-42-6zm-3 29zm-11-35zm-15 13zm-29 6zm-1309-11zm-23-9zm-41 76zm27-35zm15 33zm18-20zm31-4zm1307-10zm7 28zm22-5zm30-1zm4 42zm-14 2zm-49-17zm-4-11zm-1312 30zm-46-23zm-16 30zm65 26zm1302-22zm29 2zm43 17zm24 25zm-90 9zm-5 13zm-3-5zm-12 0zm-1276-12zm-9 19zm-44-12zm-36 45zm20 10zm41-19zm25 19zm4-31zm1280 13zm53 18zm10-27zm31 28zm-87 25zm-3-15zm-1283 25zm-4-7zm-38-13z"/><path stroke-width="40" d="M9688 2958zm102 22zm1512 11zm45-6zm39-7zm-35 47zm-1621 7zm18 26zm13-3zm11 18zm1519-27zm31 2zm50 44zm-1687 47zm64 20zm1564-38zm12 14zm58 55zm-1619-20zm0 11zm-39 45zm22-6zm1574 26zm-2 15zm-1570 6zm-14 30zm36 15zm1539-8zm37-12zm13-10z"/><path stroke-width="44" d="M9657 2950zm-26 27zm1868 53zm-85 26zm-5 44zm-1777 17zm1804 34zm3-13zm53 55zm-1843 34zm1815-27zm-16 52zm-29 0zm-1760-11zm-5 24zm-27-25zm1775 67zm56-3z"/><path stroke-width="48" d="M11517 2956zm-1979-23zm-14 104zm-1-2zm-48 43zm2-15zm2071 120zm-2036 8zm55 35z"/><path stroke-width="52" d="M11629 3116zm-2256 2zm44 24zm2211 73zm84 28z"/></g>
<path d="M1029.5 50V377.7M1078.5 50V377.7M929 290.5H1178" stroke="#000" stroke-width="1.1" stroke-dasharray="4.6 2.9" fill="none"/>
<g transform="scale(.1)" stroke-linecap="round" fill="none" stroke="#4060B8"><path stroke-width="24" d="M10198 1897zm92 369zm-11 254zm7 56zm-6 48zm-2-16zm-4 39zm12 80zm-5 62zm-6 40zm4-20zm4 11zm0 59zm-7-4zm1 11z"/><path stroke-width="28" d="M10152 1424zm20 220zm-5 85zm33 695zm7 41zm-20 44zm36-25zm7 0zm1 30zm1-13zm21 17zm-45 25zm63 66zm0 6zm-22 2zm-35 20zm-3 42zm8-29zm5 9zm7 13zm-41 47zm45 25zm23 28zm-29 4zm-30 60zm17-9zm14-24zm21 21zm4-9zm1 55zm-13-3zm-9-18zm-26 20zm-9-29zm-12 16zm8 27zm36 2zm40 4z"/><path stroke-width="32" d="M10048 1317zm133 884zm-64 33zm35 241zm8 25zm-54 39zm6 28zm14 26zm4-15zm1 80zm24-14zm-50 39zm71 92zm-8-1zm-8 23zm-22-17zm-34-12zm24 55zm11 8zm17-28zm11 65zm0 11zm-1-18zm-5 13zm-57-14z"/><path stroke-width="36" d="M10004 2161zm53 540zm-29 12zm34 69zm-21 38zm10-8zm38 26zm-43 27zm28 24z"/><path stroke-width="40" d="M9924 2620zm26 47zm2 43zm-9 77z"/><path stroke-width="44" d="M9850 2650zm-10 60zm-64 80z"/><path stroke-width="48" d="M9706 2411zm22 177zm22 7zm-51 272z"/><path stroke-width="52" d="M9655 2758zm-24 2z"/><path stroke-width="56" d="M9585 2821z"/><path stroke-width="64" d="M9505 2336zm-114 209z"/></g>
<g transform="scale(.1)" stroke-linecap="round" fill="none" stroke="#F4766C"><path stroke-width="24" d="M10863 1240zm-34 720zm-31 423zm4 126zm0 168zm1 30zm0 41zm5 10zm1-25zm1 12zm1 26zm-6-7zm-3 16zm-6 26zm0 3zm7 24zm1-2zm10 45zm-4-28zm-6 20zm-2-5zm-1-20zm-3 29zm-2 19zm4 1zm1-12z"/><path stroke-width="28" d="M10832 2260zm26 96zm40 0zm-27 27zm-12 3zm10 14zm-36 69zm11 41zm7 32zm0-5zm-24-4zm-4 16zm22 18zm15 26zm19 9zm-8 16zm-2-10zm-31 4zm-8 10zm-2-15zm3 52zm8-3zm0 15zm5-9zm50 51zm-7-31zm0-2zm-15 29zm-3-22zm-16 4zm-4-10zm-5 31zm-25-12zm0 52zm4 4zm11-25zm11 18zm23 7zm10-7zm-1 34zm-9 10zm-53-21zm6 34zm1 23zm5-13zm12 3zm12-1zm2 15zm1-24zm10 17zm13 7zm13-3zm8-14zm3 38zm-16 3zm-15 7zm-16 5zm-12 0zm-13-20zm-2 24zm-2-4zm-2-27zm-3 7zm-2-7zm3 50zm2 2zm19-12z"/><path stroke-width="32" d="M10970 1037zm-10 340zm-36 778zm58 282zm-52 80zm32 35zm-54 31zm11 100zm-9 22zm59 37zm-33 44zm-4 53zm-5 36zm8 17zm29-3z"/><path stroke-width="36" d="M11045 2093zm-31 520zm23 174zm22 23zm-19 80zm30-10z"/><path stroke-width="40" d="M11086 2485zm44-5zm-25 316z"/><path stroke-width="44" d="M11172 2599zm65 127zm7 47z"/><path stroke-width="48" d="M11263 2023zm85 539zm3 80zm-27 211zm10 43z"/><path stroke-width="56" d="M11433 2843z"/></g>
<g font-size="8.5" fill="#111">
<text x="1130.5" y="202.5">PRAME</text>
<text x="932.3" y="228.2">CHST8</text>
<text x="972.8" y="242.8">KLK10</text>
<text x="962.6" y="254.9">TMEM31</text>
<text x="920.6" y="262.9">ABCC8</text>
<text x="978.4" y="264.8">LRFN2</text>
<text x="967.2" y="272.6">SALL3</text>
<text x="918.2" y="276.2">HORMAD2</text>
<text x="982.5" y="280.6">C19orf67</text>
<text x="920.6" y="285.5">S100A14</text>
<text x="973.5" y="288.6">AQP8</text>
<text x="1088.7" y="259.7">SLC9A2</text>
<text x="1139.7" y="257.8">SLC44A4</text>
<text x="1141.4" y="267">DACT2</text>
<text x="1090.4" y="270.2">VWA5B1</text>
<text x="1086.8" y="279.1">VWA5B2</text>
<text x="1128.8" y="279.6">COX4I2</text>
<text x="1092.9" y="286.4">FAM166A</text>
<text x="1147.9" y="287.6">SPDYE16</text>
<text x="1129.3" y="298.1">OR2T10</text>
</g>
<text x="1055.7" y="42" class="hb" font-size="13" text-anchor="middle">mRNA</text>
<text x="1063" y="407.4" font-size="13.2" text-anchor="middle">Log 2 FC</text>
<text transform="translate(912.1 206.7) rotate(-90)" font-size="13.5" text-anchor="middle">(-1) * Log 10 ( FDR )</text>
<text x="1190.7" y="295" class="hb" font-size="11">abs(log2FC)</text>
<rect x="1191.7" y="301.4" width="17.3" height="17.3" fill="#F4F4F4"/>
<circle cx="1199.4" cy="310" r="0.75" fill="#BEBEBE"/>
<text x="1212.3" y="313.8" font-size="10.5">1</text>
<rect x="1191.7" y="320.4" width="17.3" height="17.3" fill="#F4F4F4"/>
<circle cx="1199.4" cy="329" r="1.35" fill="#BEBEBE"/>
<text x="1212.3" y="332.8" font-size="10.5">2</text>
<rect x="1191.7" y="339.4" width="17.3" height="17.3" fill="#F4F4F4"/>
<circle cx="1199.4" cy="348" r="1.85" fill="#BEBEBE"/>
<text x="1212.3" y="351.8" font-size="10.5">3</text>
<rect x="1191.7" y="358.4" width="17.3" height="17.3" fill="#F4F4F4"/>
<circle cx="1199.4" cy="367" r="2.45" fill="#BEBEBE"/>
<text x="1212.3" y="370.8" font-size="10.5">4</text>
<rect x="146" y="489.3" width="249" height="328" fill="#E5E5E5"/>
<path d="M165.5 489.3V817.3M235.6 489.3V817.3M305.8 489.3V817.3M375.9 489.3V817.3M146 761.9H395M146 681.1H395M146 600.3H395M146 519.5H395" stroke="#F2F2F2" stroke-width="0.6" fill="none"/>
<path d="M200.6 489.3V817.3M270.7 489.3V817.3M340.8 489.3V817.3M146 802.3H395M146 721.5H395M146 640.7H395M146 559.9H395" stroke="#fff" stroke-width="1.1" fill="none"/>
<path d="M200.6 817.3v4M270.7 817.3v4M340.8 817.3v4M146 802.3h-4M146 721.5h-4M146 640.7h-4M146 559.9h-4" stroke="#7F7F7F" stroke-width="0.9" fill="none"/>
<g fill="#7F7F7F" font-size="10.7">
<text x="200.6" y="833.9" text-anchor="middle">−5</text>
<text x="270.7" y="833.9" text-anchor="middle">0</text>
<text x="340.8" y="833.9" text-anchor="middle">5</text>
<text x="138.4" y="806.2" text-anchor="end">0</text>
<text x="138.4" y="725.4" text-anchor="end">1</text>
<text x="138.4" y="644.6" text-anchor="end">2</text>
<text x="138.4" y="563.8" text-anchor="end">3</text>
</g>
<path d="M270.7 802.3L271.2 801.3L271.6 800.3L272.1 799.3L272.5 798.3L273 797.2L273.4 796.2L273.8 795.2L274.1 794.2L274.5 793.2L274.9 792.2L275.2 791.2L275.6 790.2L275.9 789.2L276.2 788.2L276.5 787.1L276.8 786.1L277.1 785.1L277.4 784.1L277.7 783.1L277.9 782.1L278.2 781.1L278.4 780.1L278.7 779.1L278.9 778.1L270.7 778.1L270.7 779.1L270.7 780.1L270.7 781.1L270.7 782.1L270.7 783.1L270.7 784.1L270.7 785.1L270.7 786.1L270.7 787.1L270.7 788.2L270.7 789.2L270.7 790.2L270.7 791.2L270.7 792.2L270.7 793.2L270.7 794.2L270.7 795.2L270.7 796.2L270.7 797.2L270.7 798.3L270.7 799.3L270.7 800.3L270.7 801.3L270.7 802.3ZM270.7 802.3L270.2 801.3L269.8 800.3L269.3 799.3L268.9 798.3L268.4 797.2L268 796.2L267.6 795.2L267.3 794.2L266.9 793.2L266.5 792.2L266.2 791.2L265.8 790.2L265.5 789.2L265.2 788.2L264.9 787.1L264.6 786.1L264.3 785.1L264 784.1L263.7 783.1L263.5 782.1L263.2 781.1L263 780.1L262.7 779.1L262.5 778.1L270.7 778.1L270.7 779.1L270.7 780.1L270.7 781.1L270.7 782.1L270.7 783.1L270.7 784.1L270.7 785.1L270.7 786.1L270.7 787.1L270.7 788.2L270.7 789.2L270.7 790.2L270.7 791.2L270.7 792.2L270.7 793.2L270.7 794.2L270.7 795.2L270.7 796.2L270.7 797.2L270.7 798.3L270.7 799.3L270.7 800.3L270.7 801.3L270.7 802.3Z" fill="#BEBEBE"/>
<g transform="scale(.1)" stroke-linecap="round" fill="none" stroke="#BEBEBE"><path stroke-width="12" d="M2735 6995zm11 22zm-22 5zm0-15zm-37 29zm-18-1zm-2-5zm-2 27zm4 2zm12 3zm46 15zm6-37zm5 34zm1-24zm6 8zm3 27zm-18 8zm-2-5zm-60 27zm6 25zm52-1zm1 7zm5-1zm6-11zm11 17zm0 12zm-2 19zm-4 17zm-2-24zm-2 22zm-3-22zm-5 24zm-2-19zm-3-20zm-37 15zm-1 24zm-3-36zm-3-3zm-1 9zm-5 3zm-1 9zm-2-6zm-1-8zm0 31zm-7 41zm1-11zm5-22zm1 17zm3 1zm0-21zm3 6zm2 27zm2-26zm42 27zm17-31zm9-1zm-1 68zm-3 4zm-5 1zm-1-22zm-1-3zm-3 14zm-2 5zm-5-3zm-2 1zm-1 5zm-5-9zm-29 4zm-5-12zm-12 17zm-2 3zm-1-23zm-1 23zm-3-30zm-3 40zm8 24zm1-11zm1 2zm1 15zm4-23zm11 18zm1-31zm2 12zm0-7zm2 10zm0-8zm21 7zm8-11zm2 20zm1-22zm17 7zm4 49zm-4 16zm-2-19zm-6-12zm0 9zm-2-7zm-6 24zm-3-13zm-5 21zm0-28zm0-2zm-2 2zm-25-6zm-11-1zm-4 9zm-1 14zm0-13zm-3 10zm-1-21zm-3 16zm-4-12zm0 8zm-1-4zm-2 12zm8 53zm0-10zm7 0zm1-22zm0 20zm5-13zm12-4zm1 20zm1-24zm24 36zm1 1zm1-1zm3-31zm6 8zm1 2zm12-14zm1 17zm1 0zm1 47zm-3-13zm-4 21zm-7-34zm-1 19zm0-10zm0 9zm-2 4zm-1-4zm-31 17zm-1-8zm-4-3zm-1 2zm-4-22zm-7 28zm-2-28zm-8 8zm-3 22zm-3-30zm-1 27zm-2-13zm-1 38zm4-6zm8-1zm2-2zm5-1zm1 17zm1-4zm3 13zm1-21zm3-11zm1 31zm2 4zm3-25zm1 21zm0 4zm14-1zm3 1zm3 1zm1-9zm0-21zm4 4zm3 22zm5-16zm2-11zm1 6zm4 11zm8-1zm0 4zm1 1zm0 21zm0 17zm-13-5zm-1 1zm0-7zm-2 1zm-10 24zm-3-17zm-7-19zm0 20zm-12-17zm-2 18zm-1 4zm-2-16zm-10-3zm-4-1zm-1-8zm-2 7zm-2 5zm-1 2zm-1-13zm-4 2zm-3 68zm2-15zm9 21zm0-5zm2-20zm6 2zm6 8zm2 13zm3-16zm1-10zm2-6zm1 28zm10 8zm0-22zm3 11zm1-10zm2 14zm8-24zm2-1zm0 29zm4-6zm4-11zm5 11zm1 8zm4-31zm0 17zm2-1zm2 6zm-1 27zm0 11zm-4 11zm-5-32zm0 31zm0-20zm-1 2zm-1 13zm-1-18zm-2 23zm-2-15zm-1 17zm0-26zm-1-7zm-2 33zm-1-3zm-1-34zm-4-1zm-3 37zm-1-37zm0 12zm-1 12zm0-3zm-1-17zm-4 32zm0-10zm0-19zm-2 7zm-6 8zm-2-23zm-1 10zm-1 27zm0-11zm-1 0zm0-25zm-2 31zm-2 6zm-1-6zm0 6zm-1-13zm0-23zm0 12zm-3-2zm-1 12zm-6-12zm-1 8zm-3-4zm-1 8zm-1 13zm-1-5zm-6-6zm-1-14zm0-10zm-2 37zm0-10zm-3 20zm1 20zm5 2zm1-28zm0 22zm2 11zm3-21zm1 8zm1-2zm1-19zm1 17zm0 11zm2-21zm2 10zm2 19zm0-28zm1-3zm0 2zm2 11zm1 11zm0 4zm1-11zm5-19zm0 2zm0 18zm0-19zm1-4zm0 6zm1 10zm2-15zm1 1zm0 7zm0 4zm3-1zm1 18zm0-6zm8 8zm6-26zm1 11zm0-1zm0 9zm0 9zm2-18zm1 13zm1-12zm0 20zm1-34zm1 7zm1-2zm0 21zm4 0zm0 4zm1-5zm1-6zm0-14zm2 21zm3-2zm5-5zm1 11zm0-30zm1 13zm0 13zm3-6zm1-19zm-2 41zm-3-7zm-2 2zm-1-1zm-4 6zm-2 28zm-1-32zm-1 19zm-2-8zm-2-7zm0 20zm-1-24zm0 22zm-1-5zm-2 0zm-4 1zm0-2zm-1 9zm-5-7zm0-10zm-3 10zm-1 6zm0 3zm-2-17zm-1 4zm-1 7zm-1 12zm-4-23zm0 4zm0 11zm0-23zm-1 27zm0-10zm0 17zm-1-1zm-2-32zm0-3zm-1 4zm-1 1zm-1-8zm0 20zm-1-13zm0 3zm-1-9zm-1 2zm0 27zm-2-14zm-1-4zm-4 22zm0-8zm-1-20zm-2 22zm-1-26zm-1 15zm-3 12zm-1-24zm-1 26zm-2-28zm0 26zm0 4zm-2-13zm0 2zm-2-20zm-2 26zm-2 21zm4 18zm2-20zm1 3zm0 13zm1 1zm2-14zm0 22zm2-32zm1 11zm0 7zm1 17zm5-22zm2-7zm1 10zm0-7zm1 8zm1-16zm0 34zm0-5zm1-27zm1 35zm1-33zm1 26zm0-15zm1 22zm1-18zm1 1zm0-14zm0 30zm1-17zm1 18zm0-5zm1-16zm2-6zm0 9zm0 3zm2 16zm0-32zm0 9zm2 10zm1 2zm0 8zm1 1zm1-5zm2-30zm0 26zm1-13zm1 4zm0-1zm1-7zm0 23zm1-14zm0 13zm1 4zm3-30zm1 6zm3 22zm1-16zm1-19zm0 12zm1-6zm0 18zm1 9zm1-23zm2 17zm0 2zm1 4zm0-20zm0 22zm1 4zm1-10zm1 0zm1-11zm1-15zm1 13zm0-5zm1 10zm1-4zm0-10zm1 24zm0-1zm1-23zm1 31zm1-22zm0 23zm4-31zm1 28zm2-21zm-1 38zm0-1zm-5 8zm0-10zm0 25zm-2-24zm-1-5zm-1 19zm-1-7zm0 1zm-1 16zm-4-3zm0-21zm-2-7zm0 9zm-1 2zm0 13zm-1-21zm-3 12zm-1 17zm0-22zm-1-3zm0 18zm0-5zm0-12zm-2 9zm-3 2zm0 12zm-1 4zm0-14zm0-4zm-1 11zm0-11zm0-2zm-1 11zm-1 8zm0-16zm-1 14zm0-8zm-1-3zm-1-16zm-1-1zm-1 15zm-2-2zm0-5zm0 4zm0 17zm-2-18zm-1-3zm-2-4zm0-11zm-1 0zm-3 3zm-1 19zm0 9zm-2-24zm-1 26zm-1-5zm0-10zm-2 3zm0-12zm-1 29zm0-27zm-4-5zm0 26zm-2-17zm0-16zm0 36zm-1-3zm-3-15zm-2-5zm-2 10zm-1-10zm-2-4zm-1 6zm-3-14zm-1 34zm0-14zm-2 2zm-2 4zm0-20zm0 31zm-1-10zm0-10zm7 55zm0-30zm1 5zm0 21zm0-28zm1 10zm0 3zm2 21zm0-29zm1 13zm2-14zm3 33zm3-34zm3 30zm0-3zm1-22zm0 28zm1-23zm1 19zm0-10zm2-22zm0 27zm0-26zm1 16zm2 12zm2-9zm2-18zm1 20zm0-12zm1-7zm1 19zm1-11zm1 21zm1-15zm0-11zm2-1zm2 13zm2 18zm1-28zm1-4zm1 25zm0 4zm2-16zm0-10zm1 23zm1-29zm0 30zm2 0zm2 5zm0-34zm0-1zm1 34zm1-4zm1-15zm1 4zm0 2zm1-15zm0 9zm1-3zm4 12zm1 6zm2-19zm0 11zm1-5zm0 18zm0-33zm1 1zm4-5zm1 27zm0-23zm1 31zm1-1zm0-29zm1 19zm0-19zm1 31zm2 3zm0-25zm1-2zm0 61zm0-1zm-4-31zm-2 30zm-1-1zm0-5zm-1-21zm-2 27zm-4 0zm-2 3zm0-25zm-2 20zm-2-20zm0 11zm-3-4zm-2-1zm-2 14zm0-16zm-2-6zm-1-2zm0 26zm0-23zm-1 25zm0-25zm-3-6zm-3 6zm-1 26zm0-24zm-1 20zm-1-7zm-2 16zm-2-8zm0-23zm-3 8zm-1 15zm-1 4zm0-14zm-1-3zm0 11zm-1 9zm0-5zm-2-7zm-1-24zm-1 6zm-1 23zm0 4zm-3-12zm0-19zm0 9zm-1 2zm-1 4zm-1 13zm-1-5zm0-19zm-3 29zm0-14zm-5-8zm0 9zm-1 14zm0-14zm-1-3zm-1 18zm0-35zm-8 9zm-1-5zm-1 28zm-1 39zm0-19zm2-5zm1 25zm2-7zm0-16zm1 4zm2-15zm0 7zm1-9zm0 25zm1-9zm1 5zm1-2zm2-1zm0-6zm0 16zm1-9zm0-11zm0 4zm0-5zm2 11zm1 17zm2-29zm1 0zm0 13zm1-1zm1-10zm0 21zm2-9zm1-19zm0 16zm1 22zm0-26zm1-13zm1 15zm1-2zm0-10zm0 35zm1-15zm0 4zm0-11zm1 11zm1-18zm0 2zm1 11zm3 12zm1-19zm1 24zm1-9zm1-8zm0 13zm0-24zm0-5zm1 23zm1-14zm1 24zm1-18zm1-1zm0-15zm1 12zm3 3zm2-12zm0 2zm1 18zm1-4zm1 8zm0-30zm0 27zm0-5zm0-23zm1 1zm1 18zm0 2zm1-8zm0-11zm1 5zm0 23zm1-14zm2 10zm2-10zm0-5zm0 27zm0-1zm1-28zm1 20zm1-12zm2 18zm2-4zm1-6zm1 2zm0-16zm2-7zm0 7zm1-2zm3 6zm1 22zm3-7zm1-22zm1 24zm1 1zm0-1zm-3 14zm-2 19zm-1 8zm-1-33zm-1 16zm0 12zm0 3zm-1-31zm0 34zm-1-5zm-1 4zm0-16zm-3-4zm-1 17zm0-16zm-1-15zm-1 16zm-1-6zm-1-8zm0 18zm-1-1zm0-14zm0 31zm0-24zm-1 6zm0-18zm-3 34zm-2-21zm0 25zm-1-1zm-2-19zm0 3zm-2-21zm0 8zm-1 13zm-1 9zm0-17zm-1 8zm0 18zm-1-23zm-1 15zm-1-4zm-1-19zm0 14zm-1-8zm0 4zm0-2zm-1 20zm-1 3zm-1-24zm0 21zm0-5zm-1-17zm0 8zm0 8zm0-19zm-2-3zm-1-2zm-1 18zm0-14zm-1 16zm-2 2zm0 9zm0-23zm0-10zm-1 4zm0 16zm-1-9zm0-10zm-1 5zm-1 25zm0-6zm-1-9zm0-19zm-2 0zm-2 1zm-1 9zm-5 1zm0 22zm-1-21zm-1 14zm-1-11zm0-11zm-1 11zm-1 22zm-1-16zm-4 9zm-1-14zm0 4zm0-19zm0 3zm-2 7zm-1 10zm0 17zm0-20zm-1-9zm0 22zm0-25zm-1 2zm0-7zm-1 30zm-1 0zm0-14zm-1-7zm-1 41zm0-5zm1 12zm0-1zm0-13zm1 1zm1 23zm0-22zm0-5zm2 2zm0 18zm1-11zm1-1zm1-9zm2 31zm1-17zm1-14zm1 32zm1-29zm0-3zm2 34zm0 2zm1-30zm1 3zm0 22zm1-11zm2-20zm0 13zm0-6zm1-4zm0 16zm2 2zm0-19zm0 9zm0-3zm1 9zm2 0zm1-6zm2 6zm1 9zm1-6zm0-15zm1 20zm1-26zm1 10zm0-6zm1 20zm0-6zm0-15zm1 12zm2-2zm1-7zm0 8zm1 15zm1-7zm2-3zm0-11zm1 14zm1 17zm0-35zm2 3zm0-5zm0-2zm1 18zm0 6zm1-12zm1 24zm0-26zm1 26zm2-24zm0-2zm1 25zm0-28zm0-1zm0-1zm1 19zm0-20zm1 24zm4-14zm0 6zm1-7zm1-1zm0-2zm2 17zm1-14zm0 4zm1 1zm2-7zm2-10zm1 8zm0 13zm0 7zm2-21zm0 13zm3-21zm1 30zm0 4zm0-25zm0-5zm1 12zm4-10zm1 36zm-2-1zm-2 22zm-4 2zm-2 13zm-1-7zm-1-9zm-3-16zm0 32zm-3-23zm0 4zm0-15zm-2 30zm-3-6zm-1 3zm-5-1zm-1-25zm0-1zm0 3zm-1-4zm-3 7zm-2-7zm-1 4zm-5 14zm-2-21zm0 24zm-2 13zm-3-31zm-2 27zm-2-7zm0-26zm-1 33zm-1-2zm-6-23zm-5-6zm-1 22zm-1-21zm-1 14zm-1 15zm-3-18zm-7-1zm0-9zm-2 27zm-3-10zm25 20zm3 3zm10 11zm0-2zm0-6zm2-1zm2 4zm1-4zm7-1zm3-2zm0 10zm4-3zm3-9zm2 8zm0-7zm2 3zm3 2zm2 0z"/><path stroke-width="16" d="M2558 6998zm19-3zm28-3zm4 2zm167 3zm81 35zm-9-7zm-9 9zm-41-9zm-146-18zm-34 27zm0-19zm-5-10zm0-1zm-7 29zm-3-24zm-16 13zm-7-8zm-20 57zm26 6zm1 2zm6-6zm12-14zm3 6zm10-9zm0 4zm21-15zm10 4zm2 25zm110-19zm1 11zm0-8zm55-1zm40 10zm-5 35zm-1-20zm-7 4zm-10 31zm-22-18zm-6-16zm-8 18zm-2-17zm-13 31zm-5-17zm-2 15zm-10-7zm-3-1zm-1-18zm-3 7zm-114 8zm-9-8zm-2 20zm-4-17zm-2 1zm-29 14zm-20-21zm-8-1zm-5 15zm-9-13zm2 28zm24 29zm4-10zm7 8zm4 8zm1-8zm18-20zm4 4zm3-6zm4 10zm9 21zm0-22zm15-1zm1 14zm108-4zm7 8zm17 5zm10-33zm6 4zm0 14zm2 3zm2-10zm3-10zm1 21zm6-1zm4 0zm4-3zm1 7zm7 0zm1 10zm1-14zm4-23zm16 14zm5 19zm-2 9zm-2 15zm-1 11zm-29-26zm-4 2zm-3 20zm-10-15zm-1 10zm-4 8zm-3-14zm0 3zm-3-1zm-4 15zm-7 1zm-2-31zm-1 37zm-5-9zm-14-17zm-4 25zm-5-18zm-2-19zm-94 18zm-24 4zm-6 17zm-1-14zm-10-9zm0 4zm-1-9zm-4 10zm-5 11zm0-29zm-8 1zm-12 13zm-6 7zm-25-21zm10 61zm2 12zm2-7zm2-14zm8 13zm7-18zm4 29zm7-27zm6 21zm3-5zm2-8zm1 13zm6-26zm8 18zm5-10zm4-3zm2-4zm6-8zm9 18zm3-15zm2 22zm2 13zm1-7zm1-20zm93-5zm12 24zm7-18zm4 20zm22-13zm10 16zm0 4zm2-38zm3 33zm0 4zm13-27zm2-5zm1 7zm2 12zm4 14zm1-9zm3-19zm6 12zm3-8zm1 10zm3 51zm0-22zm0 14zm-3-18zm0 26zm-1-10zm0 11zm-7-27zm-1 18zm0-16zm0 21zm-9-6zm0-19zm-9 11zm-13 3zm-1-22zm-2 29zm-6-11zm-3-8zm-2-2zm-6 19zm-8-23zm-10 28zm-5 2zm-7-2zm-2-3zm-1-13zm-1 10zm-1-26zm-90 7zm-17 27zm-1-25zm-1 18zm0-24zm-7 10zm-2 8zm0 7zm-11-7zm-7-8zm-2 21zm-1-2zm-10 0zm-5-13zm-4 9zm-8 10zm-4-32zm-11 33zm-2-31zm-6 24zm-4-15zm-2 14zm22 9zm19 39zm1-10zm0-5zm3 8zm7-17zm14 11zm4-9zm2 6zm8 16zm4-30zm6 9zm5-6zm5 8zm3-9zm89 3zm3-6zm16 19zm1-1zm5-14zm1 1zm3 20zm5-23zm2 6zm3-6zm2-1zm11-6zm2-2zm2 7zm13 24zm4-29zm6 14zm1 10zm4-19zm5 31zm5 13zm-9 19zm0-18zm-4 4zm-1 19zm-7-3zm-1-7zm-5-11zm-2 22zm-1-20zm-8 8zm-16-3zm-13-7zm-1 23zm-13-5zm0-19zm-6 3zm-97-1zm-10 21zm-1-4zm-3-21zm-4-3zm-2 16zm-3 12zm-2-11zm-17-13zm-12 21zm-12-17zm-4 22zm0-18zm-19 4zm-4-23zm-1 32zm-8 2zm-1-16zm-1 3zm0-13zm2 37zm8-6zm3 33zm9-6zm10-1zm4-13zm9 14zm26-11zm3 8zm3-2zm5 2zm0-5zm1-13zm2 10zm4-9zm12-3zm1 21zm0 7zm1 3zm3-36zm1 10zm0 16zm1-6zm86-18zm0 5zm10 20zm4-17zm5-5zm2-5zm1 1zm7 29zm9 2zm2-9zm8 3zm4-6zm0-10zm1 8zm6-13zm0 9zm3-7zm4 8zm3 7zm0 4zm5-21zm0 8zm9 3zm13-14zm3 33zm1-15zm3 17zm1 26zm-2 15zm-7-4zm0-20zm-1-4zm-11 20zm-1 9zm-10-18zm-2 15zm-7-21zm-1 17zm-2-11zm-3-15zm-4 33zm-3-15zm-4-11zm-1-1zm0 17zm-1 1zm0 3zm-2 2zm-6 1zm-5-22zm-2 22zm-2-15zm-2 14zm-1-6zm-5 7zm0-21zm-14-15zm-1 19zm-1 12zm0-21zm-90-6zm-1 23zm-7-8zm-2 4zm-3-22zm-1 28zm-5-9zm-1 8zm-3-19zm-4 7zm-3 18zm-9-7zm-1-18zm-2 28zm0-19zm-1 11zm-6-17zm-17 27zm-2-24zm0 11zm-1 13zm-11-7zm0-5zm-6 6zm-3 0zm-1 4zm-3-5zm-1-9zm-10 13zm-1-14zm-1 25zm8 4zm1-4zm7 14zm2 14zm12-35zm0 3zm3 14zm4-8zm1-2zm1-2zm0-4zm0 13zm7 20zm2-5zm3-24zm4 1zm6 4zm1 18zm7 5zm5-33zm2 14zm0 22zm1-1zm1-18zm2 14zm2 3zm2-15zm1 8zm0-19zm1 2zm2 13zm2-11zm8 8zm7-15zm89 33zm2-29zm0 18zm8-1zm1-16zm0-8zm1 2zm1 25zm3-9zm1 15zm0-15zm4 6zm1-13zm7 14zm2-15zm8-9zm0 3zm1 18zm7-7zm1 16zm0-26zm2 2zm4 16zm1 4zm3-9zm2-17zm4 12zm4-12zm12 4zm0 19zm1 9zm13-6zm7 7zm2 19zm-2 3zm-2 7zm-3-25zm-1 36zm-1-9zm-2-5zm-12 8zm-3-15zm-4 11zm-3-5zm-2-13zm-5 7zm0-10zm-3 23zm-3-25zm-2 16zm-5 6zm-2-6zm-1 5zm0-17zm-4-6zm-1 3zm-7 7zm-5-2zm-3 20zm-3-17zm-1 21zm-1-6zm-3-18zm-4 22zm-5-25zm-101 8zm-2 22zm-3-20zm-1 9zm0 13zm-3-12zm-7-21zm-3-2zm0 12zm-1 2zm-1 20zm-1 1zm-4-5zm-7 4zm-1-1zm-2-19zm-5-7zm-2 19zm-1-6zm-6 4zm-1 2zm-2-27zm-1 22zm-5-14zm-10 10zm0-4zm-4-2zm-1-9zm-8 3zm-2 27zm-1-30zm-5 3zm-1 16zm-5-10zm-4-5zm-2 46zm1-13zm2 0zm5 9zm4 27zm4-20zm3 4zm0 10zm3-25zm0 32zm4-21zm5-9zm2 4zm2-9zm2-1zm0 4zm13-6zm0 19zm8-3zm2 1zm4-10zm1-1zm0 16zm1-16zm4 23zm1-13zm12 20zm6-17zm1 12zm3-32zm2 29zm0-10zm1 20zm2-10zm3 7zm0-3zm3-3zm94 7zm0-6zm2-16zm3-6zm4 24zm2 5zm5-15zm3-19zm1 11zm0 24zm1-33zm0 24zm1 4zm4-2zm0-27zm1 14zm0 14zm7-21zm2 27zm0-30zm6-1zm2 14zm4-22zm9 24zm2-16zm2-4zm4 2zm4 2zm2 27zm0-2zm3 2zm2-10zm2-17zm1 15zm1-15zm1 18zm2-2zm0 2zm2-1zm4-20zm1 10zm0-14zm1 36zm9-3zm1-13zm-2 22zm-2 26zm-8-12zm-4 14zm-2-2zm0-16zm-1 18zm-5 1zm-2-24zm-4 25zm-2-26zm-3-3zm-3-4zm-1 25zm-4 2zm-2-4zm-2 1zm-6 6zm-7 0zm-4-22zm0 24zm-3-12zm0-19zm-2 34zm-4-13zm-3-14zm-3 11zm-2 7zm-2-24zm-1 0zm-1 22zm-1 9zm0 6zm0-18zm-4-19zm-1 25zm-4-20zm-2-2zm0 22zm0-17zm-4 26zm0-25zm-3 19zm0-28zm-2 20zm0-8zm0 13zm0-11zm-87-15zm-1 15zm-1-9zm0 12zm-1-11zm-3 6zm-2 10zm0-20zm0 35zm0-9zm-6-6zm-1 5zm-7 4zm-3-10zm-4-6zm-6-4zm-1 14zm-1-5zm-1-18zm-1 17zm-4-14zm-4-1zm-1 2zm-5 6zm-7 21zm-5-29zm-4 16zm-1 1zm-2-9zm-6 13zm-3 6zm-3-31zm-2 24zm-2-8zm0-5zm-5 24zm-2-29zm-2 10zm-7 8zm-2-18zm0 50zm1 15zm0-8zm2-2zm3 2zm1-4zm2-13zm0 15zm1 1zm5 15zm1-14zm1 8zm2 1zm2-34zm7 31zm1-18zm9 17zm0-6zm5 10zm3-30zm0 26zm1-16zm1 20zm0 2zm6-1zm1-28zm11 30zm6-8zm3 4zm2 5zm1-1zm1-36zm0 31zm1-19zm2 13zm3-23zm0 14zm0 1zm1 6zm0-7zm2 9zm2-1zm1 9zm1 2zm1-21zm2-3zm3 19zm4 6zm1-26zm1 0zm1 0zm89-10zm2 33zm6-8zm0 12zm2-4zm1 3zm0-4zm4-8zm0-4zm1 4zm2-19zm0 14zm4-16zm2 6zm1 29zm0-10zm1-8zm2-15zm1 12zm3-6zm1 20zm4 4zm0 2zm6-22zm2 21zm0-6zm2-14zm1 17zm3-29zm2 17zm4-2zm5-9zm0 2zm1 9zm2-13zm1 13zm1 1zm6-14zm5-7zm2 19zm10-8zm0-10zm4 33zm4-24zm4 5zm-3 37zm-2-8zm-1 17zm-5 4zm0-17zm-3-4zm-1 20zm0-18zm-8 7zm-4-8zm-5 23zm-1-2zm-7-2zm0-20zm-1 20zm-1-17zm-3 15zm-1-23zm0 22zm-2-14zm-1 1zm-1-4zm-1 20zm-2 11zm-4-19zm-3-5zm-1 10zm0-17zm-9 31zm-4-8zm-12-17zm-1-2zm0 15zm-2-10zm-3-4zm-4 21zm0-18zm-2 16zm-5 4zm-89-31zm-2 36zm-5-39zm0 7zm-3 30zm-3-34zm-3 33zm-3 3zm-2-4zm-2-30zm-1 32zm-2-15zm-4 9zm0-8zm-6-2zm-1-18zm-3 0zm-10 25zm-2-11zm-5-10zm-2-7zm-1 4zm-4 6zm-4-8zm-2 10zm0 26zm-6-14zm-1 15zm-15-28zm0-9zm-12 21zm-2 47zm7-9zm3-16zm3 18zm0-19zm1 26zm5-4zm0-5zm7 17zm4-31zm1 29zm1-17zm1-3zm6 20zm2-19zm1-6zm0 6zm2 16zm4-17zm1 19zm0-35zm1 10zm2 22zm2-18zm3 11zm1-8zm2 4zm0-21zm2 12zm0-9zm7 20zm0 8zm4-24zm5 4zm4 2zm6-1zm1 12zm1-6zm0 10zm0 9zm8-7zm1-28zm1 3zm0 13zm2 18zm2-31zm0 32zm3-6zm1-19zm87 22zm1-14zm1 12zm1 3zm2-9zm1-9zm1 7zm7-3zm1-19zm0 32zm4-27zm1 0zm1 1zm4 0zm1 23zm7-23zm7-4zm0-1zm3 21zm3 6zm1-2zm1-10zm1 13zm0-15zm1 15zm4-20zm2 6zm1-15zm2 3zm4 14zm0-1zm1-6zm4 24zm2-9zm1 0zm1-18zm2 17zm1-1zm1-15zm1 2zm1-4zm4 24zm3 7zm0-18zm1 9zm6-10zm2 19zm0-24zm5 14zm1-24zm6 9zm1 30zm-1 5zm-1 15zm-2-22zm-2 32zm0-34zm-2 15zm0-11zm-1 10zm0-2zm-7-7zm-8-3zm-1 9zm-4-11zm-1 25zm0 2zm-5-16zm-3 26zm-4-19zm-2-8zm-1 21zm0-23zm-6 16zm-1 10zm-3-16zm-1 15zm-7-8zm-2 6zm0-20zm-1-2zm-1 10zm-3 9zm-1-8zm-1 12zm-3-3zm-6-14zm0 5zm-1-12zm0 11zm-1-19zm-3 37zm-2 2zm-1-34zm-1 8zm-1 12zm-1-9zm0-3zm-1 6zm0-19zm-1 25zm-2-3zm-6-8zm-1 11zm0 9zm-3-2zm-1-16zm-1-16zm-87 1zm-2 19zm-1 16zm0-34zm-1 23zm-1-8zm-6 21zm-4-13zm-3-25zm-3 35zm0-20zm-1-12zm0 36zm-2-32zm-3 0zm0 4zm-3-1zm-1 15zm-1 7zm-1-5zm-2-25zm-1 32zm0-6zm-1 8zm-1-26zm-1 8zm-2-1zm-1 19zm-4-26zm-2 15zm-1 10zm-2-5zm-2-20zm-2-2zm0 26zm-3-25zm-3 24zm-3-17zm-2 9zm0 12zm-2-12zm-2 10zm-6-33zm-1 25zm-2-4zm-1-13zm-1 21zm-1-21zm-2 20zm-4-6zm0 13zm-1-27zm-2-6zm-4 21zm-2-10zm-1 24zm-4-4zm-1-35zm-2 6zm-1 59zm1-19zm0 2zm1 29zm5 0zm0-4zm2-22zm4-10zm5 35zm1-4zm3 5zm2-8zm2 5zm4-23zm2 24zm0 2zm2-22zm4-2zm1-6zm0 15zm1 3zm8-1zm0-5zm1-15zm1-1zm0 3zm1-5zm0 16zm1 14zm1-5zm0-7zm0-8zm2 20zm1 8zm2-23zm4 10zm5 5zm1-29zm4 28zm0-7zm1-10zm6-13zm0 35zm3-26zm0-6zm0 13zm2 4zm1-6zm1 16zm1 0zm2 7zm0-1zm1-31zm1 15zm0 6zm9-19zm0 5zm3 9zm2 18zm2-19zm0 4zm86-6zm1 4zm0-18zm1 31zm2-27zm0 13zm2-11zm1 16zm1 1zm2 1zm2-18zm1 2zm0-7zm1 13zm0 18zm0-9zm4-27zm3 23zm0-18zm1 0zm13 15zm1-4zm1-1zm2 19zm0 4zm1-10zm1-1zm0 1zm0-23zm1 16zm1 18zm4-32zm0 22zm1-11zm0-8zm0 14zm1-22zm3 5zm1 6zm1-7zm1 7zm4 21zm3-31zm9 23zm2-4zm1 10zm1-15zm0-16zm2 8zm0 25zm1-20zm0 9zm1-17zm0 29zm3 0zm0-9zm0-10zm1-4zm1-6zm1 25zm3-19zm2-4zm7-2zm1-2zm0 32zm1-27zm6 27zm0-28zm1 47zm-7 18zm-3-33zm-1 8zm-1 20zm-3-8zm-1 1zm-1 3zm-5-21zm0 26zm-2 10zm-3-9zm-1-5zm-1-13zm-3 1zm-1 7zm-3 4zm-2-2zm-3-20zm-3 35zm-1-22zm-4 11zm0 13zm0-38zm-2 13zm-3 14zm0-20zm-2 20zm-6 0zm-6-13zm-2-15zm-3 26zm-2-19zm-3 9zm-1 1zm-4 15zm0 2zm-1 4zm-1-37zm-1 34zm0-29zm0-1zm-1 1zm-2 29zm0-26zm-2 29zm-3-5zm-1-11zm0 7zm-4 5zm-4-5zm-1-12zm0 13zm-88 2zm-1-19zm0 4zm-2-8zm-1 0zm0-7zm-1 18zm-1-10zm0-7zm0 32zm-4-24zm0-5zm-1 8zm-1 5zm-1 13zm-2-31zm0 14zm-3 10zm-1-6zm0 2zm0-5zm-1 9zm-1-13zm-1 26zm-1-30zm-1 11zm-1-16zm-1 32zm-1-18zm-4 16zm-3-31zm-2 31zm-2-6zm-2 6zm-5-12zm0-9zm-1 20zm-3-6zm-5 3zm-4-25zm0 2zm-1 16zm-1 17zm-1-7zm-2-6zm-1 0zm0-7zm-4-13zm-4 13zm-1 3zm-4-6zm-3 18zm-2-2zm0-21zm-2-1zm-3 22zm-5 4zm-5-20zm-5-13zm0 4zm-1 4zm-1 22zm0 31zm0-23zm14 34zm2-12zm4-13zm4 10zm0-8zm1-6zm2 2zm5 7zm1 23zm3-24zm4 6zm2 17zm2-34zm1 34zm0-20zm4 20zm3-9zm1-26zm1 9zm1 8zm0 15zm2 0zm2-7zm1-13zm1 23zm1-37zm1 38zm1-13zm0-8zm0 13zm3-12zm1 10zm1 9zm6-7zm0-15zm1 8zm2-12zm0 17zm4-8zm0-20zm0 25zm1 11zm0-19zm1 22zm2-30zm0 2zm1 5zm1-9zm1-3zm3-2zm0 25zm1-26zm1 3zm0 3zm0 6zm1 11zm1 12zm3-23zm0 24zm1-23zm1 19zm0 2zm1-19zm88 9zm1 4zm1 5zm0-32zm2 32zm1-25zm0 25zm1 2zm9-16zm4-3zm1-12zm1 33zm2-34zm1 14zm3 6zm2 14zm3-28zm0 24zm0 2zm2 3zm0-31zm1 29zm0-30zm3 16zm0 13zm1-22zm2-3zm1 18zm3-27zm4 5zm4 16zm8 6zm1-8zm1 1zm1 1zm4 6zm3-21zm1-7zm2 0zm10-1zm3 8zm0 25zm0-16zm2-12zm4 23zm3 2zm6-3zm0-6zm3-9zm-8 60zm0-8zm-1-7zm-2 17zm-1-4zm-1-28zm-5 11zm-1 20zm-1-11zm-2-11zm-1 15zm-4-15zm-1 1zm-13 3zm-4-8zm-1 5zm0 14zm0-23zm-4 6zm-2-2zm0 12zm-12 0zm-1-9zm-2 4zm0 21zm-1-10zm-1-19zm-2 30zm-2-32zm-2 24zm-1-18zm-5 29zm-4 0zm-1-27zm-2 22zm0-27zm-1 22zm0-21zm-2 19zm-1 5zm0-4zm-2 8zm0-7zm-1-12zm-1 15zm-1-30zm-1 5zm0 21zm0-7zm-1-18zm-2 32zm-1-27zm0-6zm0 25zm0-21zm-2 11zm-89 3zm0-19zm-3 26zm-1-25zm0 22zm-1-2zm0-1zm-2-13zm-2 13zm-3-8zm-1 7zm0 4zm-1 7zm-2-14zm0 3zm-1-1zm0-17zm-1 23zm-1 13zm-3-4zm0-24zm-2 14zm0-5zm-1-17zm-5 25zm-3-17zm-6 3zm0-5zm-2 26zm0-11zm-1 10zm0-8zm0 3zm0 1zm-1-7zm0-10zm0 1zm0-6zm-1 15zm0-16zm-1 33zm-3-17zm0-10zm0-9zm0 2zm-1-4zm-1 23zm-7-9zm-2-1zm0 24zm-4-14zm-4-16zm-3 13zm-15 18zm-3-27zm-16 6zm41 36zm14 0zm1-6zm2 18zm7-19zm3 7zm3 8zm2-6zm2-10zm6 9zm2-4zm1-4zm0 3zm1 0zm5-8zm0-2zm3 17zm1-15zm5 2zm0 2zm1 19zm2-16zm0-8zm2 19zm90-13zm3-4zm1 17zm0-16zm4-4zm2 15zm1 14zm5-6zm1-20zm2 19zm2-2zm1-1zm2 1zm0-8zm0-6zm4-4zm7 3zm2 3zm1 3zm2 0zm0 3zm0-10zm13 12zm3 7zm15-22zm4 10zm-34 36zm-16 1zm-4 4zm-6-8zm-1 1zm0 8zm-6 9zm-9-17zm0-2zm-92 5zm-4 10zm-1 2zm-4 5zm-1-24zm0-1zm-4 17zm-4 15z"/><path stroke-width="20" d="M2483 6997zm34-5zm33 2zm1-3zm316 4zm79 0zm14 39zm-3 3zm-12-11zm-8 4zm-16 9zm-21-34zm-15 15zm-345 11zm-4 6zm-7-37zm-12 16zm-17-9zm-6-2zm-5 13zm-12 13zm-8-7zm-14 41zm29 0zm9-16zm42 9zm2-18zm11 17zm323 2zm18 6zm49 8zm9-28zm6 27zm6-18zm4 7zm0-4zm1 51zm-22-7zm-1-20zm-5 22zm-18-15zm-23 25zm-3-19zm-9 9zm-17 2zm-313 2zm-9-20zm-37 13zm-7-7zm0-8zm-7 31zm-7-18zm-21 19zm-2-30zm-5 3zm-8 29zm-2 7zm3 18zm2 15zm2-11zm4 5zm18-25zm4 10zm4 1zm16 10zm8 3zm7-23zm9 11zm0-2zm27 20zm3-13zm307-4zm0-5zm9 19zm15-9zm5-19zm1-1zm12 20zm20-22zm15 27zm4-17zm1 5zm8 5zm1 3zm12 6zm-13 24zm0 20zm-12-32zm0 22zm-7-26zm-5-1zm-20 21zm-1-16zm0-2zm-5 15zm-13-12zm-5-5zm-15 25zm-5-1zm-5-13zm-311-11zm-3 15zm-17-5zm-2 7zm-4-16zm-12 29zm-5-13zm-10 17zm-5 1zm-3-18zm0 17zm-2-3zm-18 1zm-10 5zm-4-37zm4 66zm15-8zm14 2zm1 15zm9-5zm38-1zm3 9zm0-5zm4-3zm2 3zm6-14zm315-1zm16 2zm23 12zm14-21zm8-8zm32 14zm-1 53zm-11-15zm-2 2zm-3 19zm-7-10zm-8-16zm-2-1zm-10-8zm-5 9zm-4-10zm-4 33zm-1-12zm-1-10zm-16 7zm-3-12zm-1 29zm-7-24zm-317-9zm-3 11zm-10-5zm-8 24zm-17-30zm-7 16zm-18 9zm0-12zm-1-16zm-4 3zm-7 3zm-9 14zm-8-11zm6 39zm1 4zm1 1zm2 10zm5-23zm5 21zm3 15zm3-21zm2 16zm5-18zm0-1zm23 27zm9-7zm8-9zm2-10zm6 26zm2-23zm4 4zm318 19zm6-32zm1-1zm3 22zm1 6zm0-21zm20 24zm20-28zm13 2zm6 4zm2 0zm12 16zm15 9zm-1 31zm-1 0zm-9-25zm-5 17zm-3 6zm0-6zm-9-16zm-1 22zm-6-17zm-11 17zm-2 5zm-1-2zm-11 1zm-4-30zm-2 14zm-10-2zm-2-15zm0 27zm-5-13zm-12-12zm-2 7zm-3 5zm-1-4zm-3 22zm-307-11zm-2 2zm-2-10zm-5 3zm-13 23zm-1-36zm-1 10zm-4-7zm-3-2zm0 13zm-9 12zm-5-29zm-4 28zm-5-25zm-23 14zm-7-17zm-22 60zm2 18zm3-28zm7 25zm6-33zm0 22zm21-8zm2 15zm9 3zm7-8zm1 1zm7-26zm4 28zm0-24zm4-3zm1 13zm2 19zm12-3zm0-14zm4-5zm13 15zm2-19zm306-3zm8 2zm3 32zm5-19zm2 3zm2-20zm1 29zm4-25zm3 24zm2-27zm11 18zm2-6zm0-11zm1 17zm2-10zm2-10zm14 29zm11-30zm7 8zm2 12zm1-11zm16 29zm4 33zm-12-7zm-7-13zm-1 4zm0-1zm-7-4zm-2 25zm-10-22zm0 4zm-1-18zm0 6zm-2 10zm-6 15zm-4-16zm-7 3zm-6-17zm-4 32zm-1-1zm-5-27zm0 9zm-2 23zm-4-21zm-8 20zm-7-6zm-1 4zm-10 4zm0-25zm-302 6zm-3 0zm-4 16zm-2-4zm-5 8zm-2-10zm-2-14zm-10-7zm0 31zm-11-25zm-2-12zm-1 6zm-13-8zm-25 27zm-1-14zm-16-11zm-1 26zm-2 6zm-2-17zm-5 21zm4 2zm5 6zm5 9zm6 17zm11-1zm4-27zm21 27zm5 5zm2-24zm0-3zm1-9zm4 9zm1 12zm5 18zm2-30zm1 0zm2 26zm4-30zm10 26zm2 5zm4 0zm0-10zm8-4zm307-17zm5 22zm2-13zm2-5zm8 28zm12-17zm4 19zm0-34zm1 16zm2 6zm1-17zm6 11zm0 13zm5-5zm1-28zm1 31zm1-7zm0-14zm15 27zm15-29zm8 2zm13 36zm0 22zm-3-4zm-2-19zm-8 20zm0 10zm-19-36zm-9 1zm-3 28zm-7 1zm-12-23zm0 23zm-2-21zm-12 23zm-9-26zm-2-1zm-2 9zm-3 1zm0 6zm-4 6zm-6-2zm-307-20zm-1 22zm0-23zm-3 9zm0-2zm-1 1zm-7 8zm-1 0zm-14-20zm-11 15zm0 11zm-3-12zm-6-8zm-4 17zm-1 1zm-12-16zm0 19zm-2-23zm-5 27zm-3 0zm-4-8zm-6 6zm-1-6zm-4 15zm-10 1zm-6-28zm2 30zm7 35zm2-30zm24 12zm6 9zm1-4zm15 4zm3-12zm2-7zm8 18zm5-14zm12 1zm4 23zm2-3zm11-25zm310 0zm1 12zm15-3zm0 1zm7-11zm2 10zm6-7zm0 7zm1 20zm4-9zm8-22zm26 20zm0-5zm1-13zm2 31zm8-4zm1-2zm2 3zm0-30zm15 19zm-2 39zm-4 0zm-1 11zm0-5zm-2-2zm-2-20zm-5-3zm-1 13zm-3 14zm-1 0zm-2-4zm-1 11zm-1-14zm-1-3zm-2-3zm-14-6zm-12 12zm-1 9zm-2-18zm-4-1zm-1 2zm-5-15zm-1 18zm-5-4zm-7 23zm0-22zm-10 5zm-2-14zm-1 15zm-2-20zm-3 32zm-4-4zm-314 4zm-1-31zm-3 32zm-2-2zm-16 3zm-5-28zm-2-6zm-14 33zm-1-30zm-5 9zm-5 24zm-11-12zm-3-1zm-12-5zm0-20zm-4 31zm-9-10zm-3 4zm-1-2zm6 30zm0-11zm6 15zm2-9zm12 9zm2-2zm2 22zm3-16zm5-14zm0 16zm1-17zm4 4zm2-4zm2 19zm0 13zm4-6zm6-28zm10 21zm3-4zm6 10zm4-14zm1 3zm0-14zm3 15zm7 16zm1-8zm4 3zm0 1zm1 3zm0-6zm2-27zm6 28zm0-23zm1 27zm303-13zm5-4zm0 9zm5 5zm8-24zm6-1zm2 13zm8-19zm2 37zm2-4zm0-6zm2-23zm0-3zm1 19zm17-4zm3 4zm0-19zm9 5zm2-6zm4 32zm11-15zm17 17zm1 36zm-7 1zm-23 0zm-4-19zm0 12zm-6-24zm-2 15zm-3 4zm-5 15zm-6-11zm-2-22zm-1 25zm-11 6zm-9 0zm-1-28zm0 7zm-1-7zm-3 5zm-1 10zm-325 0zm0 18zm-3-20zm-3-10zm-3 2zm-1 6zm-2 2zm-4-17zm0 8zm-6-9zm-2 26zm-6-21zm0 26zm-5-16zm-7 14zm-11-3zm-5-27zm-1 7zm-11 18zm-1-2zm-3 10zm0-5zm-3-17zm-10-11zm-10 25zm-4-1zm-4 9zm2 32zm9-4zm3-14zm3-6zm29 23zm3-18zm6-2zm2-3zm1 14zm10 9zm0-3zm4 3zm0-2zm1-20zm4 2zm2 33zm1-12zm1-17zm2 16zm1 0zm2 8zm7-17zm5-7zm0 3zm6 10zm1-2zm318 5zm2 12zm1-11zm1 13zm6-12zm4-23zm1 10zm3 13zm0-1zm3-11zm0 15zm1-24zm10 11zm10-8zm1 30zm2 1zm12-20zm1-15zm3 1zm1 4zm0 6zm29 1zm-4 51zm-6-23zm-5-2zm0-2zm-2 1zm-27 21zm-1 6zm-1-27zm-20 30zm0-6zm-2-5zm-7 0zm-2-8zm-4-3zm-2-7zm-1 25zm-1-11zm-2 8zm-6 6zm-314-8zm-1-2zm-1 7zm-27 11zm-9-13zm-4-8zm-6 15zm-3-18zm-12-11zm-4-3zm-17 1zm-20 5zm-4 31zm5 12zm4-2zm15 32zm7-34zm2-4zm1 33zm4-8zm1 9zm2-11zm5-12zm6-9zm0 13zm2-1zm1 23zm2-2zm3-4zm1-20zm5 26zm1-20zm11 0zm2-14zm10 4zm0 6zm1 17zm2-5zm1-26zm0 9zm1-8zm0 8zm2 9zm7-18zm0 28zm2-6zm305-16zm0-3zm1 20zm3-13zm3 24zm2-31zm1-1zm12 0zm14 31zm18 3zm7-16zm13-3zm4 7zm2-13zm2 0zm-4 40zm-32-9zm-17 14zm-4 14zm-4 7zm-2-21zm-7 2zm-7 4zm-4-12zm-315 8zm-4 5zm-4 12zm-3-24zm-4 21zm-3-26zm-19 18zm-4 12zm-3-33zm-14 19zm-7-8zm28 30zm10 11zm4 12zm8-4zm14-16zm1 23zm1-14zm4 23zm312-1zm2-14zm2 2zm5-12zm1 11zm3-16zm4-1zm2 17zm11-21zm25 7zm-45 39zm-332-5z"/><path stroke-width="24" d="M3054 6990zm-1 48zm-32-29zm-3 18zm-18-7zm-560 11zm-3 3zm-5-18zm-22-3zm-9 19zm0-22zm-8 15zm-8-18zm-40 61zm51-19zm3 7zm2-4zm2-3zm16-8zm1 23zm18 15zm537-8zm2-11zm22-18zm0 35zm0-33zm3 5zm32 8zm8-15zm20 17zm12-4zm-4 46zm-2-14zm-8 14zm-3 17zm-33-14zm-19 4zm-11 6zm-551-4zm-16-8zm-34-10zm-1 11zm-1-6zm-7 0zm-25 62zm6-22zm81-15zm535-1zm11 11zm7 8zm32 2zm5 7zm25 50zm-14-26zm-35-11zm-8 1zm-3 25zm-3-21zm-20 21zm-535-5zm-6 15zm-26-2zm-4-33zm-29 17zm-8 14zm-10 0zm19 20zm7-4zm22 27zm11-30zm8 21zm9 0zm5-14zm536 2zm8 0zm10 2zm5-18zm40 48zm-12-3zm-12 5zm-22-5zm-8 7zm-14-3zm-534-6zm-2-3zm-11 8zm-21 9zm-12-17zm-22 29zm-8 2zm-14 28zm17 18zm30-7zm6-26zm2 16zm7-4zm0-14zm4 24zm2 6zm5-9zm5-20zm1 10zm4-6zm541 21zm3-18zm16 5zm15-1zm1 16zm10 8zm9-2zm7-5zm16-16zm9-14zm8 10zm115 68zm-110-16zm-11 0zm-7 9zm-10-16zm-1 7zm0-17zm-8 15zm-3-7zm-11 16zm-10-16zm-8-12zm-11 16zm0-6zm-2 4zm-12 11zm-7-12zm-1 4zm-522-5zm-6-12zm-2 37zm-2-22zm-4 18zm0-34zm-17 12zm-1 23zm-13-13zm-11-19zm-3 13zm-1 21zm-5-24zm-5-5zm-3-2zm-10 26zm-9-13zm-3 16zm-4-29zm10 42zm12 11zm8-8zm25 2zm13 21zm1-35zm3 37zm5-11zm3 8zm16-11zm531 9zm24 1zm22 3zm5-9zm11-26zm3 5zm12 1zm9 30zm167 19zm-165-9zm-15 10zm-7 10zm-4-27zm-14 20zm-5 10zm-5-3zm-5 6zm-7-22zm-4-9zm-4 9zm-2-9zm-4 1zm-14 6zm-1 1zm-3 15zm-521 11zm-8-17zm0 4zm-1-13zm-1 0zm-9 23zm-5-4zm-8-21zm-9 9zm-2 20zm-5-7zm-1-21zm-3 19zm-23 8zm-2-28zm-5-5zm0 21zm-1-1zm-1 0zm-6-23zm0 11zm-3-3zm-1 29zm4 9zm7 21zm9-13zm9 0zm17 6zm3-20zm8 36zm0-7zm3-10zm17 20zm0-37zm8 13zm6 1zm523 22zm10-25zm5 19zm3-7zm0 12zm1-22zm18-8zm8-4zm1 1zm7 7zm3 24zm5-27zm4 18zm26-1zm8-24zm137 9zm19 62zm-42-9zm-132-17zm-6 11zm-2 22zm-10-20zm-30 14zm-6 3zm-6-12zm-7-5zm-5-7zm-8-7zm-531-1zm-5-4zm-5 5zm-11 17zm-14 11zm-4-4zm-35-29zm-6 31zm-10 20zm18-10zm12 4zm3 10zm2 4zm10-10zm1 23zm11-14zm9-3zm6-10zm0 3zm8 30zm0-32zm2-6zm7 5zm4 5zm4 23zm0-24zm528-5zm8 28zm8-25zm9 31zm6-5zm17-31zm0 24zm20 12zm6-4zm7-30zm0 3zm7 23zm4 26zm-9 7zm-1-21zm-16 34zm-2-29zm-10 31zm-7-4zm-4-18zm-5-11zm-4 32zm-21-2zm-1-10zm-12-15zm-3 10zm-536-3zm-2 7zm-4-6zm-3 8zm-11 4zm-3 5zm-2 4zm-3-10zm-5-14zm-22 19zm-17-21zm-176 38zm190 16zm9 9zm16 3zm8-9zm18-22zm21 31zm519-7zm17-5zm4-15zm0-6zm10-5zm3 35zm16 0zm8-29zm24 1zm140 60zm-181 2zm-15 6zm-4-20zm-8-10zm-13 13zm-527 10zm-11 2zm-5-12zm-10-13zm0 15zm-11-8zm-3-4zm-11 12zm-3 4zm-80 3zm-121-16zm89 67zm133-17zm560 6zm31-26zm129 14zm-4 34zm-149 38z"/><path stroke-width="28" d="M2264 6993zm818 0zm40 20zm-42 23zm-747-29zm-87 36zm60 0zm8-2zm794 6zm29 15zm32-17zm-20 61zm-18-19zm-42 24zm-9-17zm0-12zm-1 9zm-748 23zm-17 0zm-4-13zm-18 11zm-5-23zm-160-3zm124 46zm57-2zm4-8zm12 32zm755-9zm44 7zm27-28zm22 55zm-36 12zm-34-26zm-5-4zm-774 9zm-11-4zm-47 8zm0-10zm-29 30zm-132 32zm135 0zm859-12zm35 58zm-11-26zm-30-3zm-3 16zm-6-10zm-6-4zm-757 26zm-25 4zm-120 15zm105 12zm39 3zm766-21zm27 39zm-29 11zm-761-5zm-12 27zm-1 2zm-13-34zm-15 54zm8 9zm49 0zm2-9zm745 16zm32-34zm153 46zm-135 18zm-2-1zm-13 9zm-2-19zm-25 4zm-761-10zm-21 0zm-20 33zm827 4zm0 30zm-42 8zm-738 75zm746 36z"/><path stroke-width="32" d="M3196 7039zm42 3zm142 0zm-1365 72zm1346 67zm-127 13zm93 32zm63 6zm35 100zm-1376 63zm1301-33zm-25 46zm-1329 42zm1331 83zm4 34zm-1268 89zm-34 0zm34 36zm1232 17zm108-11z"/><path stroke-width="36" d="M3439 7241zm21 374zm-10 56zm42 25z"/><path stroke-width="40" d="M1860 7417zm-27 46zm-79 199zm32 23zm66 2zm1731 3z"/><path stroke-width="44" d="M3685 7690z"/><path stroke-width="48" d="M3706 7076z"/><path stroke-width="52" d="M3824 7516z"/><path stroke-width="56" d="M1559 7537zm0 150z"/></g>
<path d="M256.5 489.3V817.3M284.5 489.3V817.3M146 697.5H395" stroke="#000" stroke-width="1.1" stroke-dasharray="4.6 2.9" fill="none"/>
<g transform="scale(.1)" stroke-linecap="round" fill="none" stroke="#4060B8"><path stroke-width="20" d="M2430 5040zm128 628zm2 219zm-75 148zm34 22zm-29 114zm13-11zm39 238zm-75 10zm-2 63zm45 34zm-41 30zm-41 50zm52 7zm32 0zm39 23zm-100 56zm109-6zm5 34zm-23 0zm-62 11zm-52-7zm18 34zm44 0zm29 37zm-16 16zm-104 0zm102 88zm-46-32zm-16 0zm-22 69zm45-5zm39 9zm18-27zm46 18zm0 32zm-35-14zm-22 14zm-69 0zm-56 0zm7 41z"/><path stroke-width="24" d="M2321 6633zm0 41zm39 263z"/><path stroke-width="32" d="M2246 6887z"/><path stroke-width="40" d="M2044 6885z"/><path stroke-width="60" d="M1593 6753z"/></g>
<g transform="scale(.1)" stroke-linecap="round" fill="none" stroke="#F4766C"><path stroke-width="20" d="M3067 5320zm-7 435zm28 245zm-196 44zm30 393zm104 5zm-75 127zm69 55zm-53 18zm37 34zm95 0zm-177 11zm-39 16zm-16 37zm159-19zm69 46zm-178 23zm-34-16zm-23 95zm-7 50zm53-32zm114 12zm27 29zm-146 5zm-21 47zm14-8z"/><path stroke-width="24" d="M3222 5409zm-52 878zm-44 414z"/><path stroke-width="36" d="M3304 6869zm72 34z"/></g>
<g font-size="8.73" fill="#111">
<text x="328.3" y="543.8">CYP1B1-AS1</text>
<text x="306" y="585.9">RFPL1S</text>
<text x="311.7" y="604.3">LINC01140</text>
<text x="322" y="632.5">TCL6</text>
<text x="302.6" y="653">MSTRG.23125.104</text>
<text x="311.7" y="664.3">PRRT1</text>
<text x="316.7" y="672.5">NUTM2A-AS1</text>
<text x="281.9" y="686.2">PCBP1-AS1</text>
<text x="335.6" y="685">RASSF8-AS1</text>
<text x="342.4" y="694.1">MSTRG.7089.8</text>
<text x="199.6" y="645.7">LINC00478</text>
<text x="178.4" y="654.3">ARHGEF26-AS1</text>
<text x="191" y="662.7">DPH6-AS1</text>
<text x="136.4" y="668.4">NIFK-AS1</text>
<text x="184.8" y="670.9">LINC00882</text>
<text x="195.7" y="679.8">IPO9-AS1</text>
<text x="162.8" y="688.7">FAM138A</text>
<text x="209.8" y="690">SNHG5</text>
<text x="164.3" y="696.4">ARHGEF26-AS1</text>
<text x="196.2" y="707.5">LINC00893</text>
</g>
<text x="277.3" y="479" class="hb" font-size="13" text-anchor="middle">lncRNA</text>
<text x="279.3" y="847.4" font-size="13.2" text-anchor="middle">Log 2 FC</text>
<text transform="translate(129.8 646.7) rotate(-90)" font-size="13.5" text-anchor="middle">(-1) * Log 10 ( FDR )</text>
<text x="406.7" y="729.7" class="hb" font-size="11">abs(log2FC)</text>
<rect x="407.3" y="735.1" width="17.7" height="17.7" fill="#F4F4F4"/>
<circle cx="415.2" cy="744" r="0.85" fill="#BEBEBE"/>
<text x="427.7" y="747.8" font-size="10.5">2</text>
<rect x="407.3" y="754.4" width="17.7" height="17.7" fill="#F4F4F4"/>
<circle cx="415.2" cy="763.3" r="1.45" fill="#BEBEBE"/>
<text x="427.7" y="767.1" font-size="10.5">4</text>
<rect x="407.3" y="773.1" width="17.7" height="17.7" fill="#F4F4F4"/>
<circle cx="415.2" cy="782" r="2.05" fill="#BEBEBE"/>
<text x="427.7" y="785.8" font-size="10.5">6</text>
<rect x="407.3" y="792.1" width="17.7" height="17.7" fill="#F4F4F4"/>
<circle cx="415.2" cy="801" r="2.75" fill="#BEBEBE"/>
<text x="427.7" y="804.8" font-size="10.5">8</text>
<rect x="542" y="487.7" width="249.3" height="328" fill="#E5E5E5"/>
<path d="M584.2 487.7V815.7M642.8 487.7V815.7M701.2 487.7V815.7M759.8 487.7V815.7M542 757.9H791.3M542 672.2H791.3M542 586.5H791.3M542 500.8H791.3" stroke="#F2F2F2" stroke-width="0.6" fill="none"/>
<path d="M555 487.7V815.7M613.5 487.7V815.7M672 487.7V815.7M730.5 487.7V815.7M789 487.7V815.7M542 800.7H791.3M542 715H791.3M542 629.3H791.3M542 543.6H791.3" stroke="#fff" stroke-width="1.1" fill="none"/>
<path d="M555 815.7v4M613.5 815.7v4M672 815.7v4M730.5 815.7v4M789 815.7v4M542 800.7h-4M542 715h-4M542 629.3h-4M542 543.6h-4" stroke="#7F7F7F" stroke-width="0.9" fill="none"/>
<g fill="#7F7F7F" font-size="10.7">
<text x="555" y="832.3" text-anchor="middle">−10</text>
<text x="613.5" y="832.3" text-anchor="middle">−5</text>
<text x="672" y="832.3" text-anchor="middle">0</text>
<text x="730.5" y="832.3" text-anchor="middle">5</text>
<text x="789" y="832.3" text-anchor="middle">10</text>
<text x="534.4" y="804.6" text-anchor="end">0</text>
<text x="534.4" y="718.9" text-anchor="end">1</text>
<text x="534.4" y="633.2" text-anchor="end">2</text>
<text x="534.4" y="547.5" text-anchor="end">3</text>
</g>
<path d="M672 800.7L673 799.6L674 798.6L674.9 797.5L675.9 796.4L676.8 795.3L677.7 794.3L678.5 793.2L679.3 792.1L680.2 791.1L680.9 790L681.7 788.9L682.4 787.8L682.5 786.8L682.5 785.7L682.5 784.6L682.5 783.6L682.5 782.5L682.5 781.4L682.5 780.3L682.5 779.3L682.5 778.2L682.5 777.1L682.5 776.1L682.5 775L675.5 775L675.3 776.1L675.2 777.1L675 778.2L674.9 779.3L674.7 780.3L674.6 781.4L674.4 782.5L674.3 783.6L674.2 784.6L674 785.7L673.9 786.8L673.7 787.8L673.6 788.9L673.4 790L673.3 791.1L673.2 792.1L673 793.2L672.9 794.3L672.7 795.3L672.6 796.4L672.4 797.5L672.3 798.6L672 799.6L672 800.7ZM672 800.7L671 799.6L670 798.6L669.1 797.5L668.1 796.4L667.2 795.3L666.3 794.3L665.5 793.2L664.7 792.1L663.8 791.1L663.1 790L662.3 788.9L661.6 787.8L661.5 786.8L661.5 785.7L661.5 784.6L661.5 783.6L661.5 782.5L661.5 781.4L661.5 780.3L661.5 779.3L661.5 778.2L661.5 777.1L661.5 776.1L661.5 775L668.5 775L668.7 776.1L668.8 777.1L669 778.2L669.1 779.3L669.3 780.3L669.4 781.4L669.6 782.5L669.7 783.6L669.8 784.6L670 785.7L670.1 786.8L670.3 787.8L670.4 788.9L670.6 790L670.7 791.1L670.8 792.1L671 793.2L671.1 794.3L671.3 795.3L671.4 796.4L671.6 797.5L671.7 798.6L672 799.6L672 800.7Z" fill="#BEBEBE"/>
<g transform="scale(.1)" stroke-linecap="round" fill="none" stroke="#BEBEBE"><path stroke-width="12" d="M6766 7631zm0-6zm-1 16zm0 11zm-89 19zm0-28zm-1 33zm0-10zm-1 28zm1-3zm0 28zm1-25zm0 12zm1-21zm0 4zm5 25zm0-7zm1-12zm0 22zm1 1zm72 1zm1-6zm2-3zm0-6zm0 9zm1-7zm1-9zm0 18zm1 3zm2-1zm1-26zm1 19zm1-4zm-1 47zm-1-30zm0 22zm-2-24zm0 23zm-1-2zm-2-1zm-1-8zm-1-2zm-2 8zm-1 4zm0 3zm-2-8zm-3 17zm-62-9zm-3 3zm-1 10zm0-38zm0 31zm-1 1zm-2-15zm-2 1zm-1-12zm-1 2zm0 8zm0-11zm-1-4zm-1 18zm-1-14zm-1 2zm1 41zm1-9zm1 12zm1-8zm2 4zm1 15zm3-2zm0-19zm3 26zm1 10zm1-29zm1 27zm1-25zm1 4zm1 20zm2-3zm0 4zm52 3zm2-16zm0-1zm1 13zm0-5zm0-6zm0-20zm3 7zm1 26zm1-14zm0-20zm1 18zm0-17zm1 25zm0-10zm0 11zm1-22zm2 30zm1 0zm2-34zm1-2zm1 23zm0 4zm0-24zm1 0zm2 35zm-2 37zm-1-20zm0 21zm-2-4zm0-34zm-1 39zm0-33zm0-5zm-1 26zm0-1zm-2-21zm0 18zm-1-22zm-1 6zm-2 0zm0-2zm-1 7zm0 9zm-1-19zm0 4zm0 8zm-1 16zm-1 2zm-1 5zm0-19zm-1-9zm0 12zm0 4zm0-11zm-1 24zm-1-34zm0 33zm-2-7zm0-29zm0 30zm-3-3zm-42-4zm-2 4zm-2-16zm-1 10zm-3-20zm-3 23zm-1-7zm-1-14zm0 13zm0-11zm-1-1zm-1 18zm-1 13zm0-28zm0-7zm-1 24zm-2-12zm0-6zm0 28zm-1-32zm-2 23zm0 13zm-1-21zm-1 4zm-1-4zm0 54zm0-15zm0-6zm1 13zm1 11zm0-12zm0 4zm1-5zm2-13zm0-5zm0 2zm1 9zm2 24zm1-20zm0 3zm0-14zm1-4zm1 29zm1-17zm1 19zm2-4zm4 4zm0-10zm1-18zm0 27zm1-6zm1-6zm0 12zm1-25zm0-6zm1 17zm0 9zm1-19zm0 6zm2 0zm1 5zm1 8zm2 5zm31 2zm2 1zm3-12zm0-6zm1 7zm0-26zm1 23zm2-21zm0 36zm1-3zm0 2zm1-1zm0-32zm0 11zm1-3zm1 25zm0-6zm2 1zm1-5zm1 11zm0-23zm1 24zm0-13zm1-17zm0 18zm3-11zm0 22zm1-5zm0-11zm1-5zm1 11zm1-1zm3-12zm0 4zm0 9zm0-21zm1 63zm-2-9zm0-5zm-1-2zm-1-5zm-1 14zm-1-15zm0-6zm-1 19zm-1 7zm-1 4zm0-25zm-1 28zm-1-14zm0 18zm-1-5zm-1-4zm0-19zm0 18zm0-7zm0-5zm-1 6zm0-22zm-1 17zm-1 10zm0 3zm0 4zm-1 4zm-1-28zm0 13zm0-1zm-2 3zm0-14zm-1 11zm-1-9zm-1 20zm0-14zm-1 12zm-1-32zm-1 10zm0 12zm-3 13zm0-26zm0-5zm-1 24zm-1-14zm0 20zm-1 5zm-2 0zm0-6zm-2-3zm-21 4zm-1-2zm0-2zm0-10zm-2-8zm0 27zm0-37zm-1 36zm-2-1zm0-24zm0 23zm-1-13zm0-5zm-1-8zm0 18zm0-10zm-2-2zm0-3zm-1 1zm0-10zm0 35zm-1-27zm0 23zm-3-25zm-1 0zm0-10zm-1 9zm-1-3zm-2-3zm0 4zm-3 23zm-2-24zm-1 29zm0-32zm-1 6zm-1 15zm0-1zm-1-9zm0 9zm-1-9zm-1 4zm0 16zm-1-22zm0-4zm-1 20zm0-11zm0-1zm-2-13zm0 76zm1-10zm0-9zm0-5zm2 16zm0-10zm1-21zm1 24zm1-18zm1 18zm2 2zm0 9zm1-33zm1 31zm2-13zm1-12zm0 27zm1-15zm1 5zm0 4zm1-10zm0-1zm0-5zm1 25zm0-16zm1 14zm0 2zm0-33zm1 13zm0 9zm0-5zm0 4zm1 4zm0 9zm0-6zm0-30zm1 27zm0-2zm1-21zm1 6zm1 7zm0-14zm0 9zm1-9zm0 1zm0 18zm1 6zm0-2zm0-20zm1 24zm0-19zm0-2zm1-4zm1 4zm0 3zm0 17zm0-32zm1 27zm0-10zm0-14zm0 22zm2-15zm0 27zm0-17zm1-19zm0 16zm0 12zm1-9zm0-12zm1-1zm1 13zm0-12zm0 28zm1-11zm0 11zm2-14zm0 12zm11-4zm1-3zm0 2zm1 7zm1-1zm0-19zm0-7zm1 14zm0-5zm0-14zm0 4zm0 13zm0 18zm0-15zm1 6zm1-11zm0 18zm1-4zm0-33zm0 36zm0-2zm1-22zm0 4zm0-5zm1 16zm0-2zm0-23zm1 2zm0 26zm0-14zm0 18zm0-23zm0 9zm0 9zm1-18zm0-11zm0 8zm1 5zm1 3zm1 12zm0 4zm1-4zm0 4zm0 7zm0-28zm1 19zm0-5zm0-19zm0 13zm0-16zm1 2zm2 26zm0 4zm0-26zm1 6zm0 8zm1-17zm1 0zm0-2zm1 29zm0-24zm0 8zm0 14zm1-8zm2-12zm1 5zm0 6zm1-22zm0 38zm1 1zm1-14zm0 9zm0-3zm2-18zm0 23zm1-20zm0-10zm1 11zm1 2zm3-15zm2 29zm0-10zm1-17zm0-3zm-1 43zm-1-3zm-1-1zm-3 4zm-5-4zm0 9zm-7-9zm-1 6zm-3-2zm-1 7zm-1 6zm-1-14zm-1 7zm-1 2zm-1 7zm-1-2zm0 2zm-1-14zm0-5zm-1 19zm0-19zm-1-2zm-1 17zm0-11zm-1 6zm0-11zm0 13zm0-14zm-1 19zm0-7zm0-1zm-1 10zm0-19zm0 12zm-1 4zm-1-3zm0 4zm0-7zm0 4zm-2-6zm0-1zm-1-6zm0 4zm0 13zm0-1zm-7-1zm-2 3zm0-2zm-1-1zm0-15zm-1 10zm0-5zm-1 1zm0 9zm-1-4zm0-7zm-1-4zm0 13zm0-5zm0 4zm-1-13zm0 3zm0 8zm0 4zm-1-14zm0 9zm-2 0zm0 9zm0-14zm0 4zm-1-1zm-1 11zm0-5zm0-2zm-1 0zm0-13zm-1 3zm0 11zm0-10zm-1 7zm-1 8zm-1-1zm0-1zm-3-6zm-1-8zm-4 8zm0-2zm0 9zm-1-7zm-2-2zm-5-2zm-9-8z"/><path stroke-width="16" d="M6561 6911zm4 6zm16-7zm0 8zm284-2zm4-2zm6 1zm4-5zm4 8zm0-3zm-1 39zm-1-15zm-3 9zm-5-10zm-8-13zm-1 3zm0 15zm-1-9zm0-7zm-2-2zm-2 12zm0 14zm-1-23zm-3-2zm-4 29zm-260-7zm-6-24zm-3 12zm-2 22zm0-17zm-1 2zm-4-19zm0 29zm-1-22zm-3 0zm0 28zm-1-37zm-1 26zm0-5zm0 3zm-2-24zm-1 4zm-1 5zm-1 9zm-1-7zm-2 17zm-1 38zm2-8zm1-1zm4-2zm11 19zm3-8zm0-6zm0 12zm1-33zm6 16zm1-5zm2 25zm4 1zm250-14zm1 11zm4 2zm8-12zm9-8zm1 22zm1-20zm0-10zm1 5zm2-5zm3 3zm2-7zm4 27zm3-25zm-5 43zm-2-3zm-1 18zm-1-24zm0 1zm0 2zm-2 12zm0-6zm-1 15zm-7 10zm0-19zm-2 22zm-2-38zm-1 6zm-1 4zm-2 11zm0 7zm0-11zm-1-2zm-1-12zm0 32zm0 3zm-1-19zm0-4zm-1 18zm-3-30zm-1 16zm-2-15zm-1 20zm0 12zm0-30zm-6 12zm-241 0zm0-18zm0 32zm-1-26zm-4 20zm-2-19zm0-3zm0 2zm0 13zm-2 4zm-3 11zm-4-16zm-5 20zm-1-36zm0 6zm-4 18zm-1-5zm-7-5zm-3 19zm-1-10zm-2-15zm0-8zm-2 20zm1 51zm6-5zm8-1zm0-9zm2 16zm2 0zm2-9zm2 14zm2-39zm2 0zm2 21zm5-2zm3 15zm2-30zm2 35zm2-27zm0 7zm1 12zm0 3zm3 3zm1-12zm1 2zm230-5zm2-10zm0 3zm1 19zm2-12zm1-21zm1 1zm2 21zm0-7zm1-12zm0 28zm3-20zm1-3zm0 30zm4-38zm5 25zm0-14zm4 24zm0-6zm5-10zm5-14zm0 32zm1-20zm3 0zm3 3zm1 15zm1-35zm-2 59zm-3 1zm0-6zm0 9zm-1 11zm-6-17zm-2 21zm-3-14zm0-16zm-6 17zm0-23zm-4 27zm0-8zm-1 10zm0 1zm-2-15zm-5 14zm-2-10zm-1-9zm-4-8zm-3 33zm-2-38zm-2 22zm0-20zm-1 5zm-5 30zm-218-7zm-3 4zm0-22zm-1-12zm0 26zm-3-19zm-2-1zm0 19zm-1-22zm-2 21zm0 5zm0-23zm-4 17zm-1-7zm-1 10zm0 13zm-5-12zm-1 0zm-4-19zm-1 1zm0 30zm-1-21zm-2 12zm-1 4zm-1-17zm0-17zm0 15zm0 24zm-6-31zm-1 8zm-6 19zm-5 5zm0 34zm5 1zm13-2zm1-23zm1-9zm1 7zm9-1zm1-3zm1 17zm0 7zm1 0zm1-23zm0 4zm1-8zm0 31zm3 2zm3-5zm1-17zm4-1zm2 16zm2 7zm0-19zm1 7zm2-11zm1 25zm4-4zm210 6zm2-3zm1 1zm3-10zm2-1zm0-11zm3-5zm0 27zm2-36zm1 21zm0 7zm2 8zm2-7zm1-22zm1 29zm1-20zm2 13zm1-15zm3 23zm6-23zm4-4zm7 26zm2-18zm2 12zm0 1zm2-23zm0 5zm2-7zm4 31zm1 19zm0-9zm-1 14zm-3-3zm-3 3zm0-19zm-4 30zm-2 5zm-1-11zm0-19zm-1 6zm-4-13zm-1 3zm-2 26zm-4-15zm0 14zm-2-2zm-5-9zm-1-6zm-1 13zm-1 3zm0-2zm-1-14zm0 3zm-1 6zm-4-19zm-2 36zm-8-5zm0-15zm0 1zm-1-13zm-3 21zm-1-19zm-2 32zm-1-11zm-2-11zm-205 0zm-1-2zm-1-9zm-1 33zm-3-9zm-5-5zm0 2zm-3 3zm-1-29zm0 28zm-2 9zm-4-18zm-3 3zm0 2zm-1-5zm-1 4zm-1-17zm-1 23zm-4-2zm-1 3zm-9-13zm-1 15zm-3-31zm0 27zm-2-5zm0 14zm-1-38zm0 34zm-3-18zm-1-15zm0 4zm0-5zm-1 32zm-1-30zm0-1zm-2 7zm-1 53zm1-21zm0 32zm5-16zm1 12zm4-13zm1 5zm3-15zm4 16zm3 8zm7-21zm3 9zm1 1zm0-4zm1 6zm6 9zm2 8zm4-17zm2 19zm2-10zm16 5zm0-18zm194 21zm3 2zm0-23zm0-15zm2 2zm0 22zm1-2zm7 16zm2-6zm1-17zm0 12zm5-1zm1-24zm0 13zm1-5zm0 12zm3-7zm2 10zm2 10zm0-14zm5 7zm2-9zm1-8zm2 16zm6-3zm1 14zm2-24zm4 6zm0 3zm2 15zm0-25zm1 15zm1-6zm2-5zm4 40zm-2-1zm0 11zm-3-27zm-1 6zm-4-4zm-3 6zm-1 30zm-6-14zm-2 9zm-1 2zm-4-10zm-2-6zm-4-11zm-5 16zm-4 11zm-1-10zm-1-17zm0 16zm-4-8zm-5-9zm-3 26zm-1-12zm-2-6zm0-16zm-1 3zm-3 25zm0-11zm-4 4zm-1 3zm0-10zm-2 14zm-179 2zm0 7zm-3-7zm-2-28zm-2 14zm-2 4zm-1-2zm-5-11zm0 32zm-1-21zm0-6zm-3 24zm-1 2zm0-3zm0-24zm-1 24zm0-18zm0 6zm-2-12zm-2-4zm0 1zm-2 13zm-1-12zm-7 30zm-5-39zm-2 9zm-1 11zm-2 15zm-1-1zm0-29zm-2 13zm0 6zm-2-10zm-4 21zm0-30zm-1 12zm-1-3zm-6 9zm-12 52zm0-14zm7 5zm3 1zm1-21zm3 12zm2 10zm1-20zm4 11zm2-10zm1 18zm4-10zm4 13zm4-9zm0 13zm6 1zm0 3zm1-34zm1 30zm1-21zm0 12zm4 6zm2-11zm1-9zm1 1zm0 24zm3-30zm1 7zm1 10zm1-3zm0-18zm2 18zm5 18zm0-31zm1 4zm1-6zm4 12zm5 2zm0 11zm0 3zm172-9zm2-16zm1 23zm1 4zm2-2zm0-20zm1-12zm0 13zm3 14zm1-10zm2 21zm2-26zm8 23zm0-1zm0-20zm1-5zm4 22zm0 6zm2-12zm2-5zm1-10zm1 7zm0 1zm1 6zm0-11zm1-7zm1 25zm2-8zm1 4zm5-16zm1 4zm1-14zm0 28zm2-1zm0 2zm2 8zm0-6zm2-5zm0 3zm0-5zm1 9zm1-35zm3 17zm0-7zm3 23zm6 4zm2-17zm2 12zm2-3zm2-17zm0 67zm-2-16zm-1-22zm-3 12zm0-7zm-2 15zm-3-1zm0-18zm-1 15zm-1 4zm-3-14zm-1 0zm-6 22zm-2-12zm-11 11zm-4-3zm-2-20zm-3 13zm-2-4zm0 3zm-2 10zm-1-22zm-1 24zm-3 2zm-2-30zm-4-1zm0 26zm-7-23zm-4 14zm-2 12zm-3 5zm0-1zm0-6zm-1 10zm-2-2zm-1-18zm0 9zm0-6zm-2 5zm-160-1zm-3-14zm0 1zm-1-4zm0 24zm-4-3zm-1-25zm-2 33zm-3-9zm-1-3zm-3 15zm-2-20zm-1-7zm-2 12zm-2-24zm-7 5zm-10 6zm0 24zm-5-35zm-1 33zm-1-1zm-1-24zm-4 14zm-3-6zm-1 18zm-2-12zm-2-1zm-1 15zm-4-19zm-1-8zm-2 13zm-8 4zm0 3zm-3 23zm3-2zm4 15zm2-9zm4 6zm2-20zm14 0zm2 25zm4-20zm1 20zm1-23zm0 8zm4-11zm2 23zm2-12zm3 21zm2-14zm0 5zm2 14zm7-18zm2 7zm3-2zm0 1zm2-8zm1-16zm0 3zm1 21zm3-5zm0-19zm2 28zm5-1zm1-8zm2-14zm0 23zm2-3zm1-13zm1-1zm3 26zm150-21zm1-3zm1 19zm0-8zm2-12zm2 2zm0 22zm4-20zm3 5zm1-20zm1 1zm1 31zm2-6zm2 2zm0-4zm0-21zm1 5zm0 17zm1-22zm1 25zm1-12zm1-12zm1 4zm2 17zm2-8zm3-11zm5 10zm0 20zm1-6zm0-6zm10 12zm1 0zm0-11zm3-19zm1 15zm1 7zm4-12zm2 10zm0 6zm1-20zm1-6zm6 9zm2-7zm0 14zm0-20zm3 15zm4-16zm0 14zm4 1zm1-12zm4-7zm1 75zm-1-10zm-4 9zm-1-34zm-1 2zm0 35zm-3-33zm-1 15zm-3 14zm-13-19zm-2-1zm-2 15zm-6-24zm0 16zm-9 4zm-2-10zm-1-12zm-1 2zm0 3zm0-6zm-4 30zm-2 4zm-1-6zm-1-27zm0 35zm-5 0zm-4-1zm-3-2zm-1-7zm-3-7zm-3-10zm0 14zm0 4zm-1-2zm-1 9zm-3-14zm-2 10zm-1-12zm-2 18zm-1-3zm0-17zm-2 4zm0-9zm-3 26zm-143-15zm0-10zm0 24zm-3-16zm0 12zm-4-20zm-4 16zm-2-17zm-2 20zm-1-7zm0-14zm-3-11zm-2 19zm0-17zm0 24zm-5-3zm-4-18zm0 21zm-5-22zm-4-1zm-2 29zm0-32zm-1 31zm-1-15zm-4 21zm-1-37zm-1 6zm0 12zm-5 18zm-3-34zm-1 13zm-5 20zm-1-27zm-1 14zm0 17zm-1-28zm-1 27zm-1-38zm-1 30zm-2-11zm0 13zm-2-14zm0 12zm-1-16zm-3 11zm-2-5zm-4-18zm-2-2zm-3 3zm-3 19zm2 57zm1-23zm2-16zm3 21zm0-1zm3 10zm1-16zm5-11zm2 6zm0-6zm2 7zm0 12zm5 13zm2-3zm2-24zm1 11zm2 2zm2-17zm0 3zm1 14zm0-11zm7 1zm3 12zm3 10zm1-22zm2 27zm1-22zm3 17zm4-20zm0 11zm1 7zm3 6zm7-2zm0-17zm2-8zm12-4zm2 4zm2 14zm2-1zm5 0zm0-7zm131 19zm4-22zm6-10zm0 5zm0 3zm1 12zm2-3zm6-19zm0 24zm1 12zm1-10zm5 1zm2-28zm1 21zm2 10zm9-1zm1-18zm0 12zm1 12zm2-24zm1 13zm1-3zm2-18zm2 20zm3 6zm2-2zm3-10zm3 14zm3-8zm1 10zm4-14zm1 1zm1-9zm1 27zm0-16zm3-8zm8-10zm0 2zm2 24zm0-5zm1-13zm0-10zm1 3zm4 18zm1-20zm0 2zm1 31zm2-9zm1-16zm1 36zm0 16zm0-9zm-8-5zm-5 0zm-1 4zm-6 5zm-6 7zm-1-23zm-2 17zm-2-1zm-10 18zm-1-29zm-1 3zm-6 25zm0-31zm-1 23zm-10 1zm0-29zm-1 12zm-6 17zm-1-27zm0 24zm-1-25zm-2 14zm0 7zm-4 15zm0-10zm-2-8zm0 3zm-1 17zm0-39zm-1 31zm-1-6zm-2-22zm0 35zm0-6zm-1-22zm-1-6zm-1 23zm-5-2zm0-5zm0 15zm-3-26zm0 22zm-3-6zm-1-13zm-1 7zm-1 3zm0 13zm-1-1zm-2-3zm-120 5zm-1-29zm-1 9zm-2-7zm-1 18zm0-17zm-1 21zm-1-24zm-1 5zm-1 6zm0-9zm-1 3zm0 25zm-1-27zm-2 8zm-2 0zm-1 16zm0-21zm-6 17zm-2-3zm-2 5zm-5-31zm-3-1zm-1 9zm-1 22zm-4-2zm-1 7zm-2-14zm0-1zm-5-13zm-2 0zm-1 14zm-2-13zm0 22zm-1-7zm-1-9zm-1 20zm0-17zm-1 19zm-2-11zm-1-14zm-1-11zm-1 37zm0 1zm-1-19zm-2 2zm-4 11zm-3-28zm-1 5zm-5 3zm-1 7zm-1-12zm-1 31zm0-27zm-6-5zm-1 22zm-2-25zm-1 22zm-2 0zm-1-18zm-2 4zm-4 56zm8-23zm3 2zm3-1zm2-2zm1 2zm2 23zm0-19zm3-10zm5 23zm10-19zm3 11zm2-15zm2 25zm4-17zm2-2zm1 14zm3-3zm1-8zm6-8zm6 11zm0 24zm2-22zm0-9zm3 28zm2 4zm0-5zm6-5zm2 2zm1-15zm1 25zm1-2zm2-17zm2-14zm0 23zm1 5zm1 3zm1 2zm1-8zm1 8zm1-33zm1 10zm2 8zm1-3zm2-8zm1-8zm2 19zm113 9zm2-14zm2 7zm0-1zm3-14zm0 13zm2-7zm6 22zm0-39zm2 3zm1 9zm0 12zm0-17zm1 19zm4-5zm4-20zm3 17zm2 13zm8-28zm0 21zm1 7zm1 3zm1-22zm1-4zm1 15zm1 12zm2-18zm1 6zm0 3zm4-5zm0-10zm0-10zm3 33zm0-9zm7 5zm12-20zm3 25zm2-33zm2 35zm6-18zm0-10zm4-9zm0 38zm1-7zm3-28zm1 3zm1 31zm4-20zm2-2zm0 16zm-3 33zm-1-21zm0 17zm-6-7zm-1 1zm-1-14zm-4 17zm-5-8zm-8-4zm-3 12zm-1-11zm-1 31zm-3-23zm0 1zm-3-6zm-7 7zm-10-3zm-3-4zm-3-3zm-1 0zm-1 17zm-1-21zm-1 25zm0-16zm-1 10zm-1-11zm0 2zm-2 5zm-1 17zm-3-6zm-2-24zm-1 27zm-1 3zm-3-2zm-3-10zm-1-15zm0 12zm-3 14zm-1-13zm0-20zm-5 32zm-7-19zm0 12zm-1 14zm-2-12zm-1 7zm-1-10zm-104 9zm0 2zm-1-22zm-1 4zm0 5zm-5 10zm-1 2zm-1-32zm-1 16zm-1 4zm-1-5zm-1 14zm0-9zm0 2zm-1-23zm0 28zm-2-25zm-1 10zm-2 20zm-1 5zm-1-12zm0-17zm-1-9zm-1 33zm-3-27zm0 1zm0 13zm0-11zm0 22zm-1-18zm-2-10zm-6 10zm-2-10zm-4 25zm0-10zm-2 18zm-3-20zm-3-9zm0 2zm0 16zm-3-13zm-1 23zm-3-4zm-5-31zm-1 30zm0 4zm-1-9zm-5-10zm0 22zm-1-37zm-1 37zm-4-4zm-1-11zm-3 8zm-1-1zm0-4zm0-19zm-3 27zm-3-15zm-3 3zm-7-11zm-2-6zm-1-4zm0 14zm-6-7zm-1 17zm-4-23zm-2 32zm-1-27zm0 33zm2 3zm15 21zm4 5zm0-18zm0 23zm1-10zm7 12zm7-18zm3-11zm2 15zm0 11zm1-3zm2-30zm5 35zm2 4zm0-16zm3 14zm1-13zm3-20zm2 21zm1 2zm2-9zm1 12zm3-2zm0-26zm2 16zm0 11zm0-4zm1-4zm3-17zm8 19zm0-12zm3 20zm9-27zm0 2zm2 32zm1-20zm6 7zm1-23zm2-1zm0 13zm1 14zm2-5zm1-3zm1 16zm4-23zm1 17zm1-11zm94 12zm1-25zm3-4zm0 13zm3 15zm0 4zm2-29zm1 9zm5 9zm0 5zm3 8zm1-18zm0 16zm1 3zm2-18zm0-12zm2 26zm0-24zm2 16zm1-5zm0-19zm2 19zm2 1zm3 16zm0-9zm2-3zm0-20zm0 12zm0 15zm0-21zm1-9zm2-2zm1 23zm6-16zm5 28zm0-34zm8 9zm1-2zm2 29zm0-30zm1 12zm2 10zm0-11zm1-10zm2 30zm3-10zm1-19zm2 18zm0-24zm10 30zm0-9zm0 13zm2-28zm2 15zm1 8zm2-2zm0 4zm1-34zm1 4zm2 6zm4 5zm6-7zm2 16zm4-22zm6-1zm-11 39zm-1 14zm-4-3zm-5-7zm-2 30zm-4 3zm-1-28zm-9-4zm0 3zm-9 21zm-1 6zm-1-18zm-7 5zm-1 3zm-1-19zm-1 29zm-2-4zm-1-15zm-1 16zm0 2zm-1-34zm-1 9zm-2 21zm-1-26zm0 14zm-4 6zm-1 10zm-1-1zm-2-10zm-1 8zm-1-22zm-1 11zm0 17zm-2-4zm-6-31zm-1 0zm-6 36zm-3-18zm0 1zm-4-18zm-2 21zm-1-8zm-2 23zm-3-33zm-1 24zm-3 4zm0-30zm-1 16zm-100 10zm0-6zm-1-10zm-1 16zm-1 6zm-3-19zm-2 11zm-1 11zm-2-24zm0 22zm0-30zm-1 0zm-2 24zm-1-15zm-1-12zm-3 21zm-1-3zm-2 3zm-2-3zm-1-12zm-3-4zm-4 25zm-2-1zm0-16zm-2 3zm-12 21zm-2-38zm-1 28zm-3-23zm0 24zm-1-15zm-2-6zm-1 22zm-4-21zm0 8zm-3 18zm-4-9zm-5-9zm-1-6zm-1-11zm0 16zm-1 7zm-12-9zm0 14zm-2-28zm-4 20zm-11 19zm0-30zm-6 64zm0-30zm3 6zm2-1zm6 18zm0-20zm4 11zm5 12zm3 3zm0-30zm8 14zm7-6zm5 4zm1 19zm1-17zm1-14zm1 20zm4 4zm6-8zm1 3zm0-13zm1 16zm4-24zm3 14zm3-13zm3 30zm2-9zm0-19zm0 13zm2 14zm3-20zm2 13zm0 10zm3-7zm1-6zm1 10zm1-15zm1-6zm1 9zm0 21zm0-23zm1-15zm2 30zm4 3zm0 2zm1-31zm2 10zm1-10zm0 24zm0-6zm1-2zm0 12zm3-6zm0-10zm0-7zm1 16zm4-12zm1 15zm1 2zm0-3zm1-27zm96 26zm5-13zm0-10zm2-1zm0 28zm0-11zm1 10zm1-15zm0 7zm3-8zm1-4zm3 11zm0-1zm1 5zm2-13zm0-5zm1 28zm2-14zm0-16zm2-5zm1 36zm1-36zm1 6zm3-3zm1 17zm0-5zm4 9zm3 10zm0-1zm2-28zm6-1zm1 35zm1-19zm4 15zm2-35zm1 20zm2-5zm9 23zm2-20zm0 14zm6 3zm0-2zm5-29zm1 10zm2 1zm3 11zm2-6zm5 11zm1-29zm3 18zm0-7zm2 0zm0 24zm14-29zm4 11zm0 42zm-20-7zm-1 6zm-6-9zm-5-3zm-4 6zm-7-3zm-2 10zm-5-21zm-8 15zm-1 17zm0 5zm-2-31zm-1 1zm0 4zm0-9zm-6 31zm0-26zm-1 12zm-1 0zm0-8zm-5 16zm-1-7zm-1 5zm-3-18zm0 13zm0 3zm-1-10zm0-12zm-2 16zm-2-17zm-3 28zm-1-27zm-2 34zm-2-24zm0 19zm-2-7zm-2 2zm-4 7zm-2-4zm-1-26zm-2 17zm0 5zm-2-6zm-3-1zm-2 19zm-1-9zm-1-19zm0-1zm-1 8zm-96 11zm0 7zm-1-29zm-3 16zm-1 9zm-2 10zm-1-7zm0 6zm-4-16zm-4-17zm-1 13zm-3-6zm-5 6zm-1-9zm0-8zm-4 30zm0-22zm-1 29zm-5-29zm-1 19zm-3-7zm-2-12zm-1-5zm-1 26zm0-6zm-1-15zm-5 16zm0-19zm-1 4zm0 11zm-3-2zm-9-13zm0 3zm-1-5zm0 30zm-1-28zm-1-6zm-1 26zm0 11zm-1-2zm-1-2zm-5 1zm-3-10zm-2 9zm-1-21zm-5 9zm-9 5zm-3 6zm-6-19zm-3 10zm-1-10zm-1-2zm-3 13zm-2-6zm2 45zm8-17zm3-1zm0-2zm3 33zm2-24zm1 11zm1-14zm1 9zm3-11zm4 7zm1 19zm1-16zm12 20zm12-25zm0-8zm0 12zm7 13zm0-11zm5 15zm0-14zm2-2zm0 1zm3 19zm0-17zm2 6zm0 12zm0-23zm1 9zm5-3zm2-12zm0 6zm1-8zm1 8zm3 18zm3-9zm1 9zm0-31zm2 26zm2 6zm2 0zm0-10zm0-10zm1 17zm1-17zm1 19zm1 0zm0-31zm0 26zm4-26zm0 19zm1 5zm1 12zm0-20zm0-15zm2 36zm3-16zm1-18zm1 9zm0 1zm1 17zm95-5zm1-16zm0 11zm3-11zm1-4zm2 31zm3-11zm1-12zm0 17zm3-26zm3 33zm4-17zm1-5zm3 20zm1-6zm3-24zm1 10zm1-5zm1 25zm2-19zm0-16zm2 15zm0-1zm1 16zm4-12zm1-16zm0 13zm8-1zm3-6zm4 23zm2 6zm2-25zm2-13zm0 3zm1 28zm1-31zm1 17zm2 20zm1 0zm3-21zm0-5zm4-5zm1 31zm4-8zm2-28zm1 27zm1-21zm4 30zm6-31zm3 6zm1-4zm8 25zm5 0zm-2 41zm-7-27zm-3 10zm-13-4zm-4-2zm-3-12zm0 39zm-3-23zm-9-11zm-3 21zm-6 6zm-2-29zm-8 11zm0-5zm-2 26zm-1-16zm-1 5zm-7 10zm0-16zm-1-11zm0-1zm-5 2zm-1 1zm-3 17zm-6-15zm0-1zm-3 13zm-3 6zm-3-17zm-1 24zm-1 1zm-1-20zm-1 12zm0 6zm-1-8zm0-19zm-2 5zm-3 3zm0 21zm-3-32zm-94 34zm-3-13zm-2-17zm0 17zm-1 13zm-4-38zm0 12zm-5 23zm-2-17zm-1 16zm-1-34zm-2 34zm-1-14zm-2 9zm-2-11zm-4-1zm-1-16zm-1 12zm-1 21zm-2-18zm0 4zm-1 8zm-2-16zm0-1zm0 13zm-2-19zm-1 28zm-2 1zm0-33zm-5 0zm-2 37zm-2-12zm-4 0zm-4 8zm-9-20zm-2 4zm0 17zm-2-4zm-1-20zm-2 12zm-2-24zm-3 39zm-6-2zm0-23zm-1 17zm-3-28zm-8 24zm-1-17zm19 49zm5-19zm1 21zm5-9zm2 5zm4 21zm1-21zm3-7zm1-9zm2 5zm4 19zm2-7zm1 1zm7-15zm1 8zm3 12zm1-13zm1 0zm4-2zm1 1zm1 25zm1-13zm3-3zm1-9zm1 27zm0-1zm1-5zm2 4zm1-32zm0 26zm3 8zm2-7zm2 3zm1 6zm1-7zm0-23zm1 24zm2-29zm0 32zm1-9zm1-12zm0-10zm2 0zm1 29zm1-3zm1 5zm0-26zm1 8zm0-9zm96 9zm0-18zm4 0zm2 22zm0-17zm0 22zm0-8zm1-14zm1-5zm1 2zm1-1zm1 31zm2-21zm1 24zm1-31zm1 17zm3-11zm0 15zm1-21zm0 31zm2-34zm3 18zm1-5zm1 3zm2 10zm5 5zm1-19zm6 3zm0 9zm3-3zm1-14zm0 13zm2-19zm1 30zm1-17zm2 3zm18-5zm6-2zm24-8zm-46 67zm-3-15zm-7-9zm-1 19zm-4-3zm-1-10zm-2 4zm0 13zm-1-12zm-3-10zm-2 30zm-2-34zm-4 6zm-3-2zm-1 14zm-2 11zm0-12zm-1 19zm-1-39zm0 24zm-1 5zm-3 8zm-1-5zm0-31zm-2 1zm0 36zm0-33zm-2 15zm-3 18zm-2-33zm-97 16zm-1 9zm-1-29zm0 25zm-2-18zm0 18zm-1-7zm0-9zm0 27zm-1-32zm-1-5zm-3 1zm-1 22zm-2 6zm-2-1zm-1 6zm-4-20zm-4-1zm-2 18zm-1 2zm0-31zm-1 5zm-3 3zm0-2zm-7 27zm-5-11zm-13-6zm17 35zm24-11zm5 29zm1-23zm7 8zm1 4zm1 0zm0-11zm1 5zm0-11zm95 7zm0 14zm1-21zm0 34zm0 1zm1-3zm1-5zm0-23zm3 4zm2 14zm3-9zm4-13zm2 0zm16-2zm-31 41zm-105-2z"/><path stroke-width="20" d="M6515 6910zm2 6zm1-6zm2 7zm11 2zm5-1zm3 1zm0-5zm3 2zm4-3zm2 2zm339 3zm18-4zm9 3zm3 1zm0-1zm15-1zm1 1zm5 1zm1-3zm6 2zm56 18zm-1 6zm-1 0zm-5 18zm-3-23zm-1 12zm-1-17zm-7-1zm-6 22zm-2 0zm-2-16zm-8-16zm-16 31zm-1-21zm-7 11zm-1 18zm-2-21zm-10-18zm-2 28zm-3-27zm-1 0zm-7 9zm-2-8zm-3 28zm-1-9zm-6 11zm0-19zm-1 18zm0-23zm-8 0zm-1 9zm-1-7zm-1 17zm0-16zm-1 21zm-5-12zm-329 10zm-1-22zm-7 1zm-2 13zm-2-17zm-1 9zm0 12zm-1 11zm-5-14zm-1-13zm-1-3zm-2 3zm-1-5zm-5 31zm-1-36zm-1 9zm-5 4zm-3 1zm-4-9zm0-5zm-2 8zm-2-4zm-1 14zm-3-12zm-3 9zm-7-3zm-3 13zm-1-13zm-7-6zm-2 21zm-1-5zm0-12zm-2 29zm0-20zm-3 4zm-1-16zm-1 0zm-4 26zm-5 3zm-4-26zm-7-1zm-6 3zm-2-1zm-1 49zm2 9zm7-25zm0 35zm2-1zm12-21zm1 13zm3-1zm5-26zm4 22zm2-9zm0-10zm10 9zm5-10zm3 27zm6-6zm10-11zm1-6zm3 7zm0-15zm0 12zm1-10zm2 16zm1 1zm1 18zm2-7zm1 5zm4-5zm3 3zm6-10zm2-1zm1-17zm3-2zm2 18zm2 12zm0-19zm3 6zm331 3zm1 4zm1-8zm6-12zm0 13zm2 3zm4-8zm4 22zm4-23zm1-4zm3 10zm0 4zm4 14zm1-26zm1 10zm0-10zm7 26zm1-10zm2-9zm4-18zm3 33zm2 3zm2-14zm1-16zm4 31zm1-32zm4 13zm11 7zm1-9zm1 5zm0-11zm9 26zm3-20zm2-13zm5 7zm8 24zm8-21zm0 4zm4 43zm-2-16zm-7 16zm-5 9zm-12-22zm-5 30zm-4-14zm0 7zm-2-22zm-3-2zm-5-5zm-3-2zm-1 10zm-1 7zm-1-5zm-2-4zm-2-1zm-1 11zm-1-4zm0-15zm-9 0zm-4 11zm-5 24zm-7-11zm-1 15zm0-16zm-4 13zm-1-13zm0-17zm-1 30zm-5-30zm0 13zm0 9zm-2 9zm0-19zm0 15zm-1 3zm-2-2zm-1-25zm-3-8zm-5 19zm-1 3zm-1-16zm-4 15zm-334 9zm-2-31zm-1 3zm-3 13zm-4 14zm-2-29zm0 21zm-2-5zm-1-1zm0 13zm-4 4zm-4-29zm-5 12zm0-10zm-1-3zm-2 1zm-5-1zm-2 34zm-1-36zm-11 18zm-4 18zm0-3zm-4 3zm-5-16zm-1-13zm-9 29zm0-8zm-3 1zm-8 5zm-3-9zm-4 0zm-6-7zm-3-15zm-5 0zm-6 23zm-1-2zm0 9zm0 18zm12-4zm1 7zm0 8zm7-14zm4 1zm4 3zm8 3zm1 13zm2-18zm1 19zm1-21zm1 11zm0 17zm2-1zm1-15zm2-3zm0 14zm1 6zm5-20zm1-18zm0 9zm0 1zm1-7zm3-1zm2 25zm3-12zm0 20zm2-12zm5-17zm3 20zm1-1zm2-12zm4 19zm1-14zm6-8zm0 26zm2-29zm1 1zm3-1zm2 21zm6-12zm2-2zm1 12zm1 7zm1-10zm3-5zm0-10zm2 3zm1 2zm3 11zm329-4zm1-16zm1 15zm1 19zm5-5zm1-32zm3 33zm0-10zm4-3zm8 1zm4-7zm0 24zm1-23zm0 8zm2-10zm6 18zm12-23zm0 22zm1-2zm2 10zm2-26zm0 2zm1 8zm6-8zm17 20zm14 2zm3-33zm4 29zm1-12zm1 1zm12-13zm1 28zm2-31zm-1 52zm-11 6zm-4-10zm0 9zm-4 15zm0-34zm-2 7zm-1-11zm-1 34zm-3-15zm-1-11zm-3 30zm-7-24zm-3 7zm0 8zm-3-24zm-1 10zm-1 4zm-7 5zm0 13zm-1-10zm0-6zm-4 0zm-7 5zm-4-23zm-1 24zm-8-25zm-1 3zm-1 3zm-9-7zm-1 0zm-1 16zm-2-16zm-1 27zm-3-4zm-8-2zm-3 2zm-3 9zm-2-10zm-332-21zm-4 33zm-3-21zm-4 24zm-2-25zm-5 23zm-1-6zm0 3zm-1-26zm-6-3zm-1 31zm0-33zm0 16zm-1 13zm-2-20zm-6 27zm-3-38zm-4 11zm-1 19zm-2-28zm-3 6zm0-8zm-1 4zm-2 2zm-2 10zm-4 7zm0 14zm-14-23zm-12 18zm-10 2zm-3-12zm-2 16zm-2-3zm-6-6zm0-14zm0 3zm-9 8zm7 24zm1-6zm1 12zm10-7zm9 16zm3-23zm4 21zm1-6zm1 12zm1-13zm13 6zm7-14zm1 17zm0-24zm5 30zm3 3zm2-16zm3-16zm8 22zm3-12zm0-2zm4 6zm4-6zm3 11zm0 17zm0-5zm2 3zm2-36zm2 24zm2 12zm2-4zm3-30zm1 32zm0 4zm7-35zm0-3zm1 15zm0 7zm1-8zm329 8zm0-6zm8-12zm0 13zm4-13zm5 14zm5 21zm12-1zm1-32zm1 24zm0-23zm6 17zm1 1zm6-14zm5-9zm3 17zm2 6zm3-2zm1 16zm2-34zm1 13zm6 20zm0-19zm4 8zm6 4zm1-7zm1-6zm1 12zm1-20zm0-7zm17 26zm7 3zm3-29zm-2 75zm-1-38zm-18 23zm0-11zm-1 5zm-1 2zm-2-6zm0-2zm-5 8zm-18 14zm-4-19zm-4 5zm-6 12zm-3-10zm-1 8zm0-20zm-7 17zm-5-3zm0-1zm-1-21zm-1 12zm-1 25zm-1-18zm-5 4zm-2-6zm-3 17zm-1-17zm-2 21zm0-14zm-7-6zm-4-15zm0-1zm-6 36zm0-10zm-1-12zm0 16zm-1 5zm-331-24zm-3 23zm-1-18zm-4-16zm-2-3zm-1 6zm0 8zm0-14zm-2 31zm-2-7zm-2 2zm-1-16zm-2-9zm0 4zm-4 22zm-8 7zm-1-26zm-9 24zm-17-28zm-2 7zm-1 5zm-5-2zm-4 21zm-4 4zm-4-28zm-7 18zm-2-17zm-4-5zm0 17zm-7-13zm-1-8zm-10 47zm7 26zm2-1zm4 2zm5-11zm6 9zm1-29zm1 5zm0-5zm2 21zm5-13zm1 7zm2 11zm0-13zm2 13zm4-25zm5 26zm2-24zm3 17zm6-21zm0 32zm0-33zm5 34zm3-33zm1 30zm1-25zm5-4zm1 27zm9-30zm1 33zm4-12zm0-17zm9 13zm4 3zm4-2zm1 11zm1 0zm5-24zm1 11zm328-18zm1 12zm0-3zm5 12zm2 4zm2-24zm4 2zm3 15zm1-4zm1 10zm1-4zm0-14zm1 21zm1 1zm2-8zm0-19zm4-1zm6 8zm1 30zm5-23zm2 21zm2-29zm1 13zm5-12zm7 24zm3-12zm4 2zm13-2zm3-18zm4 20zm3 14zm5-28zm0 20zm8-12zm7-17zm3 19zm6 0zm-4 44zm-11-19zm-2 27zm-1-23zm-12 0zm-10 18zm-17 8zm-2 5zm-3-17zm-4-15zm-7 19zm-1-10zm-2 6zm-3 17zm-4-36zm0 36zm-7-1zm-3 1zm-1-21zm0-17zm-1 33zm-2-31zm-9 5zm0 26zm-2-31zm-2 0zm-1 17zm-2 7zm-332 9zm-1-34zm-4 18zm-1-4zm-2 12zm-1 10zm-1-25zm-3-7zm-4 5zm-2 0zm-1 12zm-9-7zm0 11zm-3-15zm-2-5zm0 26zm-3-12zm-9 7zm0-20zm-3-6zm-9 36zm-2-33zm-5 7zm-4 11zm-10 3zm-14-2zm-4-5zm-17 27zm10 11zm5 22zm2-10zm0-19zm19-4zm7-2zm3 18zm12-18zm0 35zm1-26zm5-1zm5 2zm4 12zm4-14zm1-9zm8 12zm7-12zm2 4zm5 16zm0 8zm1 0zm0-25zm7-4zm5 37zm0-17zm330 3zm2 1zm0-2zm3-24zm0 35zm2-11zm1-24zm1 14zm0 18zm4-19zm3 10zm1 15zm2-2zm5-4zm2 0zm1-12zm0-3zm1 10zm0-11zm7 5zm3-14zm12 13zm3 6zm8-22zm6 30zm2 3zm2-18zm9 15zm3-1zm1-11zm15-17zm7 24zm0 29zm-7 4zm-24 10zm-1-3zm-6 5zm-1-25zm-10 6zm-2 16zm-1 3zm-2-16zm-3 16zm-4-14zm-2 1zm-3-17zm-3 23zm-7-20zm-1 6zm-11-6zm-2 2zm-1-5zm-5 15zm0-16zm-1 7zm-5 9zm-2 8zm-333 7zm-8-9zm0 13zm-1 1zm-2-17zm-14 10zm-2-21zm0 12zm-3 13zm-3-30zm0 19zm-2 12zm-11-28zm-1 9zm-1 0zm-7-7zm-4 2zm-6 3zm0-12zm-3 1zm-2 12zm-5 11zm-7-11zm-1-14zm-1 0zm-1 21zm-1 14zm-4-20zm0 17zm-4-10zm-10 11zm-6 9zm16 6zm1 28zm0-34zm3 13zm8 10zm5 9zm5 0zm10-7zm3-18zm2 18zm2-8zm2 4zm7 11zm3-11zm12 4zm0-26zm12 23zm4-21zm8-4zm339 35zm1-30zm3 2zm1 25zm0-11zm3 13zm0-32zm3 30zm0-34zm1 9zm6 29zm1-30zm1 29zm2-19zm6-2zm1 23zm8-39zm5 33zm4-5zm4-19zm0 5zm1-9zm16 26zm2-12zm9-8zm21 14zm1 8zm0-25zm14 4zm1 39zm-14-1zm-12-10zm0 32zm-2-13zm-17-8zm-3 14zm-4-17zm-12-8zm-5 20zm-4-5zm-1-14zm-4 16zm-4 5zm-3-13zm-2 30zm-11-25zm-7 5zm0-6zm-3-2zm0-7zm-2-2zm-2 24zm-334 1zm-1-27zm-3 13zm-3-5zm-1 9zm-1-17zm-1 6zm-13-6zm0 18zm-2 11zm-3-13zm-1-13zm-1 6zm-8 15zm0-5zm-2 20zm0-23zm-2 20zm-1-19zm-14 22zm-28-5zm0-10zm-4 5zm-1 7zm-3-1zm-5-9zm-11-16zm-1-10zm10 48zm2-4zm1 8zm4-8zm18 34zm2-10zm12 8zm11-26zm5-4zm1 1zm1 13zm22-14zm1 1zm6 4zm0 23zm0-11zm1 4zm3-21zm3 27zm1 4zm2 2zm6-2zm329-5zm8-5zm2-26zm3 6zm5 11zm3-8zm1-3zm4 32zm6-18zm6-1zm1 13zm2-3zm1-5zm4 14zm1-39zm10 10zm0 9zm3 20zm0-39zm3 3zm3 34zm7-1zm5-2zm1-33zm6 33zm0-7zm1-15zm6-5zm19 4zm0-11zm4 28zm-7 18zm-3 0zm-8 23zm-3-1zm-21-4zm-4-4zm-4-9zm-1-5zm-2 25zm-18-18zm-5 19zm0-11zm-5 15zm-7-30zm-5-4zm0 35zm-2-28zm-1 27zm-2-5zm-2-25zm-1 30zm-2-21zm-3 24zm-6-31zm-337-1zm-4 24zm-3-6zm0-15zm-7-6zm-5 21zm-10-21zm-12 32zm-1-19zm-2-7zm0 2zm-3 2zm-2 6zm-7-9zm0 4zm-3 17zm-3-30zm-34 14zm-8-10zm4 34zm4 21zm3-21zm1 4zm4 0zm43 29zm0-15zm13 6zm1-9zm1 3zm3 17zm2-33zm2 14zm4-11zm2 19zm2-11zm0 3zm3 20zm1-23zm3 2zm342 3zm1-3zm0 8zm1 14zm15-12zm1-12zm8 13zm17 5zm0-6zm9-12zm3 23zm6-25zm0 11zm3-19zm49 12zm-13 35zm-18-8zm0 34zm-3-33zm0 36zm-6-16zm-2-6zm-5 6zm-14-10zm-6-1zm-3-3zm-23 5zm-1 12zm-2 2zm-6-22zm-1 14zm-3 14zm-2-13zm-1 0zm0-6zm-2 17zm0 3zm-335-10zm-3 11zm-2-14zm-2-8zm-8 25zm-2-32zm-15 7zm-4 2zm-6 7zm-3-20zm-1-3zm-11 24zm-19 14zm-3-10zm-5 8zm-12-9zm5 51zm16-25zm7-12zm1 5zm2-3zm6 7zm0 27zm21-22zm4 19zm8-4zm1-11zm6 5zm3-24zm8 21zm3 2zm0-18zm1 9zm1 18zm2-20zm1 9zm3-19zm335 37zm1-32zm5-4zm3 12zm1-5zm5 16zm14 12zm3-11zm7-20zm4 8zm2-9zm0 25zm4-5zm17 5zm15-8zm4-4zm7-12zm10 21zm-2 50zm-21-25zm-18-1zm-8 0zm-5 13zm-15-25zm-12 8zm0 13zm-2-8zm0-11zm-5 9zm-3-9zm-2 31zm-1-31zm-2 7zm-2 12zm-3-11zm-3 8zm-1-12zm-333 29zm-8-17zm-1-11zm-2 19zm-1-2zm-2-21zm-1 12zm-6 0zm-3 3zm-9-12zm-1 31zm-9-2zm-1-3zm-4-23zm-9 5zm-8 6zm-4-19zm-2 1zm-5 0zm-1 11zm-15-3zm0 16zm-1 2zm-11-20zm42 59zm12-18zm3 22zm8-2zm1 1zm16-5zm4-15zm4 3zm3 21zm1-20zm8-5zm2 13zm1-14zm1 12zm332-11zm0 22zm6-8zm3-4zm20-6zm4 10zm18-19zm1 6zm28 22zm13 15zm-17 13zm-12-10zm-36 12zm-11-21zm-1 5zm-349 26zm0-32zm-7 32zm0-28zm-19 31zm-11-33zm-1 3zm-4 18zm-33-7zm21 29zm54 33zm1-24zm334 3zm6 5zm2 8zm2 6zm1-16zm10 8zm-356 51z"/><path stroke-width="24" d="M6390 6918zm7 0zm3-3zm10 4zm3-2zm20-7zm609 1zm8 6zm38 1zm29-6zm-12 9zm0 9zm-10 19zm-10-8zm-12-4zm-14 6zm-3-5zm-1 14zm-3-7zm-11-11zm-2 12zm-5-24zm-6 19zm-7 2zm-2 2zm-1-25zm-3 5zm-1 26zm-9-28zm-566 16zm-6 19zm-1 0zm-2-21zm-1 9zm-4 7zm-16-1zm-9-26zm-15-2zm-2 25zm-2-29zm0 27zm-18 3zm-25 14zm10 15zm9 7zm13 7zm1-7zm6-21zm8 25zm11-5zm1-9zm3-10zm10 15zm1-4zm2 9zm5 3zm2-8zm3-5zm4 7zm0 16zm5-7zm575 0zm1-8zm4-7zm1 1zm2 10zm8-23zm2 19zm11 3zm4-9zm3-10zm26 0zm0-4zm8 8zm26-3zm4 46zm-27-5zm-4 29zm-5-10zm-3-27zm-17 0zm-3-2zm-9 35zm-3-5zm-5-8zm-4-14zm-4 26zm0-10zm-4-9zm-4-11zm-12 27zm-564-8zm-2-8zm-1 17zm0-31zm-1 28zm0-17zm-9 8zm0-15zm-1 7zm-5 0zm-3 1zm-1-11zm-3 26zm0-13zm-4 18zm-2-4zm-1 0zm-18-9zm-27-11zm-10 22zm-3-5zm-14-26zm17 68zm71-18zm1 1zm3-3zm2 10zm6 4zm573 8zm1-5zm5-8zm27-16zm17 26zm4-6zm5 3zm2 9zm9-24zm32 11zm1-17zm2 48zm-8-7zm-13 13zm-2 0zm-22 10zm-4 7zm0-5zm-9-1zm-3-17zm-7 28zm-2-9zm-2-14zm-1-5zm-5 2zm-2 4zm-8 22zm0-14zm-6 12zm-586-23zm-2 17zm0-16zm-1 10zm-3 3zm-1-4zm-10-23zm-10 30zm-6-20zm-4 26zm-5-4zm-10-32zm-17 23zm-9-23zm-13 36zm-9 3zm21 12zm10 18zm11-24zm21 17zm16-17zm9 10zm10 11zm591-8zm1 7zm17-23zm14 24zm38-11zm8 18zm-17 11zm-9 2zm-3 27zm-13-23zm-3 6zm-2 10zm-6-17zm-5 15zm-14-12zm-6-12zm-14 18zm-5-4zm-566-4zm-8 15zm-12-24zm-7-2zm-7 38zm-34-29zm-28-1zm-7 1zm-11 69zm61-19zm10 20zm7-26zm19 25zm16-17zm3-10zm1-11zm586 6zm1 4zm7 10zm8-18zm5 32zm29-6zm0 47zm-5-25zm-36 12zm-17-19zm-10 18zm-5-21zm-566 2zm-20 24zm-6 8zm-7-32zm-15 11zm-7 26zm-21 30zm28-23zm4 1zm28 19zm1 11zm6-7zm4-6zm7-10zm595-10zm11 7zm29 15zm4 3zm12-23zm-27 41zm-12 11zm-2 5zm-2-22zm-6 30zm-13 4zm-6-25zm-2 11zm0 17zm-8-33zm-595 1zm-9 5zm-56 42zm28 14zm0-24zm20 6zm19 11zm2 7zm1 10zm580-11zm4-7zm9-10zm6 6zm6 8zm85 26zm-26-5zm-35 7zm-13 2zm-11 6zm-4 2zm-12-8zm-592-5zm-10 13zm-70-21zm44 41zm48 29zm2 1zm6-13zm569 21zm17 0zm5-19zm5 12zm36-17zm12 17zm-49 36zm-30-8zm-581-2zm-20 5zm-25-3zm-46-19zm108 59zm567-17zm2 4zm-603 46zm-8 50zm20 23z"/><path stroke-width="28" d="M7158 6910zm4 1zm20 27zm-1-5zm-39 3zm-24-10zm8 64zm-809 43zm-17 31zm852-19zm10 2zm-3 40zm-33-1zm-6 0zm28 64zm0 18zm-11 55zm4 42zm-839 51zm817 3zm0 30z"/></g>
<path d="M660.5 487.7V815.7M683.5 487.7V815.7M542 689.5H791.3" stroke="#000" stroke-width="1.1" stroke-dasharray="4.6 2.9" fill="none"/>
<g transform="scale(.1)" stroke-linecap="round" fill="none" stroke="#4060B8"><path stroke-width="24" d="M6357 5263zm151 567zm22 255zm-241 41zm177 53zm0 18zm28 3zm-62 36zm-53 4zm24 54zm-12 14zm-109-19zm173 41zm47 21zm10 74zm-48 62zm-1 63zm-3 4zm-36-8zm91 19zm13 28zm-68 52zm29-5zm20 32zm22-28zm-92 43zm-13 42zm60-3zm77 26zm-26 34zm-75 10zm49 43zm2-21zm24-4zm31 6zm-4 40zm-131 4z"/><path stroke-width="28" d="M6231 5978zm177 62zm-79 18zm76 174zm-30 33zm39-2zm1 144zm-26 63zm19 82zm-70-13zm2 44zm36 47zm-131 20zm118-4zm-23 58zm-85-24zm125 50zm-16 34zm-42 12zm42 53zm15 22zm-20 19zm-89-10z"/><path stroke-width="32" d="M6278 6041zm7 102zm-85 437zm95 98zm23 79zm-36 7zm0 75zm17 42z"/><path stroke-width="56" d="M5632 6852z"/><path stroke-width="60" d="M5532 6803z"/><path stroke-width="64" d="M5520 5913z"/></g>
<g transform="scale(.1)" stroke-linecap="round" fill="none" stroke="#F4766C"><path stroke-width="24" d="M7047 5027zm53 100zm-102 976zm70 171zm-23 6zm-65 196zm-12-28zm-41 16zm76 90zm-4-6zm-3-24zm-89 3zm-15 67zm29-2zm21 3zm11-18zm9 43zm19 32zm34 32zm-48 2zm-27 13zm-27-17zm-25 43zm42 0zm17 30zm2-26zm22 16zm27 3zm6-26zm4 7zm-23 64zm-5-28zm-23 17zm-10-22zm-21 29zm-1-15zm-11-14zm-21 33zm-19-3zm10 15zm14 21zm4-17zm4 0zm1 26zm7-17zm14 1zm31 19zm32-7zm20 5zm-108 36zm-8 7zm-13-20zm21 23z"/><path stroke-width="28" d="M7053 5993zm-26 156zm75 110zm-3 42zm-49 86zm20 30zm-36 30zm63 143zm8-3zm-58 35zm29 54zm15 13zm-61-6zm12 58zm3-12zm7 27zm37-9zm1-10zm26 15zm-31 40zm-9-14zm-51-10zm-3 35zm43 22z"/><path stroke-width="32" d="M7204 5983zm-77 101zm5 301zm-4 85zm11 31zm14 71zm65 3zm-24 63zm-30 175zm64-10zm-92 72z"/><path stroke-width="36" d="M7289 6410zm5 357z"/><path stroke-width="64" d="M7789 5954z"/></g>
<g font-size="7.67" fill="#111">
<text x="543" y="583.4">hsacirc_051322</text>
<text x="565.6" y="601.6">hsacirc_036630</text>
<text x="570.2" y="614.5">hsacirc_029849</text>
<text x="570.2" y="631.7">hsacirc_054046</text>
<text x="569.7" y="655.7">hsacirc_037511</text>
<text x="570.9" y="665.9">hsacirc_011188</text>
<text x="573.4" y="674.4">hsacirc_019932</text>
<text x="526.8" y="681.7">hsacirc_035172</text>
<text x="574.6" y="686">hsacirc_054743</text>
<text x="552.8" y="697.4">hsacirc_019182</text>
<text x="774.7" y="587.5">hsacirc_008408</text>
<text x="694.7" y="593.1">hsacirc_004144</text>
<text x="710.9" y="622.5">hsacirc_001243</text>
<text x="709.5" y="634.9">hsacirc_025119</text>
<text x="732.8" y="642.4">hsacirc_013041</text>
<text x="726.5" y="655.7">hsacirc_001811</text>
<text x="724.5" y="664">hsacirc_045048</text>
<text x="720.1" y="672.9">hsacirc_026531</text>
<text x="734.7" y="680.9">hsacirc_025902</text>
<text x="721.4" y="688">hsacirc_029493</text>
</g>
<text x="663.7" y="479" class="hb" font-size="13" text-anchor="middle">circRNA</text>
<text x="676" y="845.4" font-size="13.2" text-anchor="middle">Log 2 FC</text>
<text transform="translate(524.8 645) rotate(-90)" font-size="13.5" text-anchor="middle">(-1) * Log 10 ( FDR )</text>
<text x="806" y="730.7" class="hb" font-size="11">abs(log2FC)</text>
<rect x="806" y="736.1" width="17.7" height="17.7" fill="#F4F4F4"/>
<circle cx="814" cy="745" r="0.85" fill="#BEBEBE"/>
<text x="826.7" y="748.8" font-size="10.5">2.5</text>
<rect x="806" y="755.1" width="17.7" height="17.7" fill="#F4F4F4"/>
<circle cx="814" cy="764" r="1.45" fill="#BEBEBE"/>
<text x="826.7" y="767.8" font-size="10.5">5.0</text>
<rect x="806" y="774.1" width="17.7" height="17.7" fill="#F4F4F4"/>
<circle cx="814" cy="783" r="2.05" fill="#BEBEBE"/>
<text x="826.7" y="786.8" font-size="10.5">7.5</text>
<rect x="806" y="793.1" width="17.7" height="17.7" fill="#F4F4F4"/>
<circle cx="814" cy="802" r="2.75" fill="#BEBEBE"/>
<text x="826.7" y="805.8" font-size="10.5">10.0</text>
<rect x="924.7" y="486.7" width="249.3" height="327.6" fill="#E5E5E5"/>
<path d="M953.2 486.7V814.3M1011.1 486.7V814.3M1068.9 486.7V814.3M1126.8 486.7V814.3M924.7 763.2H1174M924.7 690.9H1174M924.7 618.7H1174M924.7 546.4H1174" stroke="#F2F2F2" stroke-width="0.6" fill="none"/>
<path d="M982.1 486.7V814.3M1040 486.7V814.3M1097.9 486.7V814.3M1155.8 486.7V814.3M924.7 799.3H1174M924.7 727H1174M924.7 654.8H1174M924.7 582.5H1174M924.7 510.3H1174" stroke="#fff" stroke-width="1.1" fill="none"/>
<path d="M982.1 814.3v4M1040 814.3v4M1097.9 814.3v4M1155.8 814.3v4M924.7 799.3h-4M924.7 727h-4M924.7 654.8h-4M924.7 582.5h-4M924.7 510.3h-4" stroke="#7F7F7F" stroke-width="0.9" fill="none"/>
<g fill="#7F7F7F" font-size="10.7">
<text x="982.1" y="830.9" text-anchor="middle">−2.5</text>
<text x="1040" y="830.9" text-anchor="middle">0.0</text>
<text x="1097.9" y="830.9" text-anchor="middle">2.5</text>
<text x="1155.8" y="830.9" text-anchor="middle">5.0</text>
<text x="917.1" y="803.2" text-anchor="end">0</text>
<text x="917.1" y="730.9" text-anchor="end">1</text>
<text x="917.1" y="658.7" text-anchor="end">2</text>
<text x="917.1" y="586.4" text-anchor="end">3</text>
<text x="917.1" y="514.2" text-anchor="end">4</text>
</g>
<path d="M1040 799.3L1042.7 796L1045.7 792.7L1049.1 789.4L1053 786.1L1057.6 782.7L1058.5 779.4L1058.5 776.1L1058.5 772.8L1058.5 769.5L1058.5 766.2L1058.5 762.9L1058.5 759.6L1058.5 756.3L1058.5 752.9L1058.5 749.6L1058.5 746.3L1058.5 743L1058.5 739.7L1058.5 736.4L1058.5 733.1L1058.5 729.8L1058.5 726.4L1058.5 723.1L1058.5 719.8L1047.1 719.8L1046.7 723.1L1046.4 726.4L1046.1 729.8L1045.8 733.1L1045.5 736.4L1045.2 739.7L1044.8 743L1044.5 746.3L1044.2 749.6L1043.9 752.9L1043.6 756.3L1043.2 759.6L1042.9 762.9L1042.6 766.2L1042.3 769.5L1042 772.8L1041.6 776.1L1041.3 779.4L1041 782.7L1040.7 786.1L1040 789.4L1040 792.7L1040 796L1040 799.3ZM1040 799.3L1037.3 796L1034.3 792.7L1030.9 789.4L1027 786.1L1022.4 782.7L1021.5 779.4L1021.5 776.1L1021.5 772.8L1021.5 769.5L1021.5 766.2L1021.5 762.9L1021.5 759.6L1021.5 756.3L1021.5 752.9L1021.5 749.6L1021.5 746.3L1021.5 743L1021.5 739.7L1021.5 736.4L1021.5 733.1L1021.5 729.8L1021.5 726.4L1021.5 723.1L1021.5 719.8L1032.9 719.8L1033.3 723.1L1033.6 726.4L1033.9 729.8L1034.2 733.1L1034.5 736.4L1034.8 739.7L1035.2 743L1035.5 746.3L1035.8 749.6L1036.1 752.9L1036.4 756.3L1036.8 759.6L1037.1 762.9L1037.4 766.2L1037.7 769.5L1038 772.8L1038.4 776.1L1038.7 779.4L1039 782.7L1039.3 786.1L1040 789.4L1040 792.7L1040 796L1040 799.3Z" fill="#BEBEBE"/>
<g transform="scale(.1)" stroke-linecap="round" fill="none" stroke="#BEBEBE"><path stroke-width="12" d="M10477 6875zm-151 12zm145 8zm5 42zm-146-17zm-1 26zm-7 28zm4 21zm2-24zm1-7zm3 31zm2-14zm131 7zm1-24zm3 21zm2-17zm6 11zm1 42zm-3 1zm0-16zm-6 28zm-3-21zm-3 13zm-128-22zm-8-1zm-2 1zm-5 68zm11-5zm4 7zm6 5zm1-5zm1-11zm1 13zm0-18zm120-4zm9-9zm4 26zm1 5zm0-11zm2 49zm-8-27zm-3 20zm-6 4zm-3-18zm-2 23zm-124-5zm-1 7zm0-8zm-1-1zm-5-23zm0 28zm0-1zm-1-21zm-4 46zm0 2zm2 16zm1-4zm19-6zm2 1zm3-5zm112 17zm3-18zm1 5zm8 0zm2 6zm2-20zm4 34zm-4-1zm-5 9zm-7-8zm-3 6zm-3 14zm-3-1zm-1-18zm-4-3zm-110 23zm-1-2zm-4-21zm-1 12zm-3-9zm-3 16zm-2-14zm0 12zm0-1zm9 59zm13 0zm2-11zm97 7zm6-5zm6 8zm1-8zm6-30zm4 35zm4-12zm0 45zm-3-16zm-1-7zm-2 33zm0-11zm-1-11zm-1-16zm-4 4zm-5 27zm-1-21zm-4-5zm-3-5zm-1 35zm-3-1zm-1-29zm-90 19zm-10-17zm-2 32zm-1-17zm-2-11zm-4-10zm-4 16zm-1 18zm-1-2zm-4 4zm-5 22zm2-10zm2 4zm0 16zm3 3zm1-15zm2 2zm1-7zm6 5zm1 22zm1-32zm3 27zm7-30zm3 25zm1 0zm1-16zm3 26zm83-15zm1-17zm2 7zm0 25zm0-38zm3 38zm2-8zm0-18zm3 17zm3-28zm5 0zm2 11zm11 3zm1 17zm2-25zm2 24zm0 22zm-1 15zm-3-8zm-1 14zm-4-6zm-5 6zm-1-32zm-15 9zm-6 18zm-7-3zm0-7zm-75-16zm-15 25zm-1-1zm-7-19zm-3 29zm-1-16zm-12 17zm13 28zm2-3zm1-15zm0 2zm1 21zm1 1zm1-16zm2-12zm6 22zm6-17zm4 29zm2-6zm1-18zm2 22zm5-8zm70-10zm5-7zm4-11zm3 26zm5 11zm2 1zm1-8zm0-9zm6 9zm3-1zm1-3zm3-12zm4 4zm2 6zm0 9zm3 28zm-5 6zm-5-16zm-7 15zm-3-25zm-2 29zm-3-15zm-1 21zm-1-1zm-10-32zm-6 7zm-1 3zm0-7zm-4 14zm-1-1zm-64 7zm-1 0zm-3-14zm-1 14zm0 3zm-1-18zm-6 22zm-4 4zm-5 1zm-7-21zm-7-15zm-2 0zm-4 26zm-4 1zm-2 5zm-1-15zm0-19zm1 47zm0 11zm3 11zm0-11zm6 1zm2 1zm4-4zm2 16zm1-22zm1 19zm0 6zm1-8zm2-11zm3 6zm6-13zm3 7zm0-11zm3 5zm6 2zm0-7zm3 24zm1-19zm2 26zm1-12zm62-3zm5-22zm10 34zm1-16zm1-12zm0 12zm0-9zm4 29zm7-10zm0-23zm2 3zm2 26zm1-33zm0 25zm2-19zm6 18zm5-4zm2-9zm0 31zm-1-1zm-3 1zm0 17zm-2-4zm-1-6zm-18-8zm0 12zm-2 19zm-1 6zm-3-7zm-1-5zm-2-3zm-1 4zm-2-24zm-2-3zm-1 9zm-1 16zm-6-1zm-1-21zm-1-3zm-1 26zm-3-3zm-56 6zm-4-3zm-1-9zm0-18zm-2 17zm-1 15zm-3-6zm0-17zm-1 2zm-1-2zm-1 30zm-2-9zm-5-30zm0 36zm-1-30zm0 27zm-6-28zm-2 2zm0 13zm-4-9zm-3 11zm-2-21zm-2 26zm-1-22zm-1 34zm0-7zm-3-4zm-1-20zm-1-6zm-4 34zm1 9zm1 24zm1 3zm0-30zm1-2zm1 20zm3 12zm0-22zm1-8zm4 1zm2 2zm5 0zm1 7zm1 5zm1 9zm10-22zm2 9zm4-6zm0 15zm5 3zm2-9zm1 15zm1-30zm0 22zm0-9zm4-12zm1 5zm0 25zm0-23zm3 13zm1 12zm0-18zm50 8zm2 6zm1-30zm1 29zm0-22zm1 16zm3 6zm1 10zm3-1zm0-10zm3-25zm0 3zm0 22zm0-17zm4 26zm2-35zm0 4zm0 14zm4-18zm1 13zm1-2zm2 0zm0 14zm1-10zm1 10zm0-27zm5 37zm0-33zm2-4zm1 7zm5 9zm8 35zm-2 1zm-2 8zm-1-2zm-4-1zm-5 17zm-2 0zm0-3zm-2-16zm0 3zm-7 5zm-1-10zm-5 2zm-1 6zm0 18zm-2-16zm-1-20zm-1 34zm-1-6zm0-7zm-1-2zm-3 14zm-1-7zm0 9zm-4-16zm-1-15zm-2 19zm0-10zm-1-12zm-1 7zm0 27zm-3-25zm-1-12zm-1 29zm-1-7zm0 1zm-2 11zm-39-20zm-3-4zm-4 11zm-1 7zm-4-14zm-4-10zm-1-2zm-2 16zm0-15zm0 14zm-4 13zm-1-23zm-2 21zm-3-14zm-7 20zm-6-3zm-1 0zm-2-32zm-1 26zm0-20zm-1 28zm-2-4zm-10 15zm2 34zm1-39zm1 19zm1 19zm1-32zm5-3zm2 28zm4 6zm3-29zm1 8zm0 16zm1 6zm1-7zm4-10zm0 14zm1-30zm0 2zm2 20zm0-25zm0 34zm1-25zm3 13zm0 2zm1 8zm1-18zm0 18zm4-29zm2 0zm4 21zm1-1zm0 1zm5 10zm1-4zm1 6zm1-3zm1 4zm2-34zm39-1zm1 27zm2 2zm0-28zm3 11zm2 13zm0-18zm1 23zm1-26zm2-1zm0 2zm0 15zm1-10zm2-7zm0 15zm4 9zm1-14zm4-12zm0 16zm2-16zm2 3zm3 24zm5-11zm5 2zm4 7zm1-12zm0 17zm0 2zm0-21zm1-10zm2 21zm9-19zm1-6zm2 30zm1-31zm0 15zm0 50zm-2 11zm0-30zm-6 21zm-1-11zm-6-4zm-1 8zm-2 13zm-10-14zm-1 4zm-1 9zm0-2zm-1 0zm-2-8zm0-3zm-3 6zm-2-7zm-4 10zm-2-23zm-2 17zm0-1zm0 13zm-1-13zm0-5zm0 3zm0 14zm-1-29zm-1 34zm-1-32zm-3 10zm0 5zm-2 8zm0-1zm-1-14zm-4 17zm-1-22zm-1 27zm-1 2zm0-18zm-4-2zm-28 17zm0-5zm-2 3zm-3-7zm-2-26zm-1 16zm-2-9zm-1-7zm-1 24zm0-10zm0 16zm0-31zm-2 16zm-2 6zm-1 5zm-1-25zm0 35zm-1-17zm-2-9zm-1-3zm0 14zm-2-13zm0 22zm0 3zm0-23zm-1 2zm-4 16zm-1-7zm-1 4zm-1 7zm-5-33zm0 11zm0 28zm-5-10zm0-19zm-3-8zm-2 21zm-10 10zm-3-6zm-3-18zm-2 8zm0 51zm5-1zm4-23zm3 32zm1-21zm1 20zm0-5zm1 7zm1-31zm1 33zm3-6zm0-25zm7 2zm1 25zm1 1zm1-35zm0 35zm5-15zm0-20zm4 37zm0-8zm1-4zm2-23zm0 13zm0-16zm1 24zm2-3zm1 6zm0-10zm1 11zm4 8zm0-29zm1 16zm1-5zm0-16zm1 0zm1 9zm0-10zm0 13zm0-7zm2 3zm0 5zm4-11zm1 17zm0-10zm1-6zm0 4zm0 26zm0-11zm1-8zm4 19zm0-9zm25 0zm0 6zm2-12zm3 11zm1 3zm1-17zm1 21zm1-6zm2-31zm1 16zm3 8zm0 6zm1-7zm1 2zm0-19zm1 16zm1 0zm0-23zm1 30zm4-17zm1 9zm1-2zm2-14zm1 3zm0 12zm9 1zm0 3zm3-25zm2 26zm2-6zm3-1zm3-9zm2 2zm1 10zm1 16zm1-32zm1 22zm0-23zm1 5zm1 18zm2-8zm2 1zm3 2zm-3 47zm-2-5zm-5-25zm-1 4zm0 13zm-2 4zm0-7zm-1 10zm0-6zm-1 3zm-3-6zm-3-2zm0-7zm-1 20zm-7-7zm-2 17zm-2-15zm-1 15zm-1-24zm-3 2zm-1 16zm-1 9zm-3-15zm0-21zm-2 30zm-1-8zm-1-4zm0-1zm-2 14zm-2 5zm-1-7zm-1-31zm-1 0zm-2 27zm-1-12zm0 5zm-1 17zm0-33zm0 22zm-2 5zm-1-13zm-1 3zm-1 16zm-1-9zm-2-11zm0 19zm-1 1zm-22-11zm-3-17zm0 2zm-2 3zm0 2zm0 11zm-1 5zm-1-2zm0-17zm-1 22zm-1-17zm-2-2zm-2 2zm0 15zm-1-5zm0 1zm0 5zm-2-11zm0-19zm0 13zm0 12zm-2-10zm-2 9zm-1-8zm-2-18zm-3 6zm-3 1zm-2-4zm0 1zm0 5zm-1-8zm-1 20zm-5-20zm-1-3zm-2 18zm-2 13zm0-31zm-3 3zm0 14zm0 16zm-2-33zm-1 13zm-4-12zm-3 6zm-4 11zm0 7zm-7-26zm-2 7zm11 58zm0-10zm1 13zm3-3zm1-1zm0-3zm1-21zm2 39zm1-9zm3-1zm1-17zm0-4zm1 16zm10-2zm0-19zm4 33zm1-5zm0-25zm1 14zm0-9zm0-6zm1 4zm0-6zm1-1zm1-1zm0 32zm0-27zm2 7zm0 12zm2-13zm3 2zm0-6zm0-7zm1 5zm1 0zm0 25zm1-4zm0 8zm2-17zm0-6zm0 17zm1-8zm1 18zm1-10zm1-5zm3-13zm1 16zm0-3zm1-2zm0-10zm1 26zm0-32zm0 15zm1-5zm0-4zm2 20zm1-12zm1 3zm15 7zm1 9zm0-20zm0-10zm1 7zm1 16zm0-31zm0 5zm1 20zm0 2zm1-20zm0 26zm0-23zm0 26zm1-29zm1 8zm1-14zm1-1zm1 25zm1 13zm2-5zm0 2zm0-27zm1 21zm0 4zm1-30zm0 2zm0 15zm2 13zm1-3zm0-20zm0-8zm1 29zm0 5zm1-35zm0 9zm0 2zm0 2zm1 13zm0-20zm1 6zm0 23zm1-2zm1-18zm2-13zm0 27zm0-21zm0-8zm1 13zm1-3zm1-10zm1 32zm0-17zm0 16zm3-32zm1 15zm1-1zm0 2zm3 13zm1 4zm1-6zm4 8zm0-3zm5-5zm1-17zm1 2zm4-3zm18 14zm0 15zm-1 6zm-1 1zm0-4zm-8 27zm-14-26zm0 14zm-1 13zm-2 5zm-1-31zm-3 17zm-1-16zm-1 25zm0-10zm-1 6zm-2-23zm-1 25zm-4-19zm-1 11zm0 16zm0-17zm-1-3zm-2 15zm-1-19zm-1-3zm0-9zm0 25zm-1 7zm-1 7zm-2-8zm-2-30zm0 25zm0 3zm0-10zm0-19zm-1 36zm0-31zm-2 31zm-1-11zm0-13zm-1 20zm-1-9zm0-8zm0 2zm0-11zm-1 21zm0-13zm-1 6zm0-11zm0 24zm0-14zm-1 8zm-1-6zm0 5zm0-11zm-1 11zm-1-13zm-1 20zm0-10zm-3 15zm0-7zm-1-25zm-1-3zm0 34zm0-23zm0-4zm-1 23zm0 1zm0-18zm-1 5zm-2-19zm-2 29zm-8 7zm-1-23zm0 16zm0-11zm-1-10zm-1 10zm0 19zm-1-27zm0 13zm0-17zm-2-5zm0-1zm-1 21zm0 12zm-1-19zm0 10zm-1 8zm0-19zm0 2zm-1 3zm0 12zm0-29zm0 21zm-1 12zm-1-28zm-1 23zm-1 5zm-1-12zm0 14zm-1 0zm-1 0zm-3-2zm0-5zm-1-10zm-1 9zm0 6zm-2 2zm-1-38zm-1 8zm-1 10zm0 12zm0-9zm0 2zm-2-2zm-3 18zm0-20zm-1-4zm-3 1zm-3-1zm0-10zm-1 33zm-1-21zm-4 20zm-4-8zm0-20zm-6 0zm-1 8zm-2 3zm0-9zm-2 3zm-2-1zm-2 25zm-1-24zm-5 8zm0 8zm-4-12zm-2 15zm2 39zm0-22zm1 20zm4 7zm1-21zm0 3zm0 8zm2-16zm2-3zm1 14zm2 9zm0-3zm2 9zm1-32zm1 31zm0-7zm0 4zm4 5zm6-19zm3-16zm0 4zm1 17zm1-1zm1 5zm0-8zm2 17zm0-16zm1 18zm0-28zm0 24zm2-6zm0-14zm1 16zm1 3zm1-22zm1 10zm1 1zm0 6zm1-10zm0 9zm2-20zm1 3zm1 4zm0 2zm1 11zm2-2zm1-11zm3 1zm0 2zm1-3zm1 5zm1 19zm0-24zm1-5zm0-1zm0 13zm2-2zm0-9zm0 22zm0-18zm0 22zm0-11zm1-14zm0-5zm2 25zm1-26zm0 24zm1 0zm0 3zm0-21zm0 15zm1 9zm1-30zm1 25zm0-4zm1-13zm0 12zm0-18zm0 4zm1 23zm0-15zm1-14zm0 32zm0-1zm1 1zm0-19zm0 4zm0-21zm1 16zm0-8zm0 2zm0 15zm1-1zm0-13zm0-8zm0 32zm0-10zm0-10zm1 16zm1-9zm1 15zm3-27zm0 20zm1 2zm0-23zm0 28zm0-11zm0-8zm2-15zm0 12zm0 7zm1 10zm0-31zm0 25zm0-10zm0 4zm1-15zm0 2zm0 6zm1-11zm0 12zm0-8zm1 20zm0-8zm0-1zm0 15zm0-34zm0 12zm1 17zm0 9zm0-17zm1 11zm0-23zm1 7zm0-10zm0 27zm0 2zm1-4zm0-31zm0 25zm2-15zm0-9zm0 13zm0 17zm1-22zm0 24zm0-28zm0 12zm0 3zm1 9zm1-11zm0 4zm2 14zm0-8zm1-22zm2-6zm5 34zm0 5zm1-23zm0-2zm1 10zm2 4zm0-19zm0 10zm1-17zm1 19zm0 5zm1 10zm2-4zm0-17zm0 13zm1-9zm0 2zm1-8zm2 11zm0 6zm2 3zm1-3zm0 2zm4-28zm1 24zm0-18zm6 23zm2-17zm2 5zm0 4zm1-8zm1 21zm3-24zm1-8zm2 19zm1-12zm0 3zm2 5zm1-16zm5 15zm4 11zm-2 23zm-1-11zm-1 21zm-1-20zm-4 10zm-2 13zm-2 12zm-1-27zm-2 11zm-1-10zm-3 23zm0 2zm0-24zm-1 9zm-1-10zm-2-12zm0 37zm-1-4zm0-20zm-3-13zm0 22zm-4-13zm-1 18zm-1 5zm-2-18zm0 12zm-2-5zm-1-21zm0 16zm-3 5zm0-20zm-2 21zm-3 5zm0 4zm0-10zm-1-12zm-2-1zm-1-5zm0 35zm-1-12zm-1-5zm0 2zm-1 12zm0-21zm0 14zm-1-24zm-1 30zm-1-25zm-1-8zm0 2zm-1 28zm0-6zm-1-23zm0 12zm0-9zm-1 24zm0-21zm0 6zm-1 22zm0-5zm-1-19zm0 26zm0-9zm-1 9zm0-32zm0-7zm-1 28zm0-6zm0 9zm-1-7zm0-5zm0-18zm-1 21zm0-19zm0 22zm0-11zm-1 8zm0 15zm0-10zm0-23zm0 3zm0 13zm-1 5zm0-7zm-1 3zm0-8zm0 22zm0-21zm-1 22zm0-16zm-1-4zm0 14zm-1-20zm0 25zm0-28zm-1 9zm0 5zm0 4zm0 2zm-1 11zm0-18zm0 3zm0 4zm-1-4zm0-11zm0-10zm0 37zm-1-13zm0 13zm0-1zm0-10zm0-10zm0 1zm0-18zm-1 19zm0-20zm0 22zm0-10zm-1 21zm0 4zm-1-2zm0 4zm0-23zm-1 17zm0-7zm-1-10zm0-7zm0 22zm-1 4zm0-9zm0 12zm0-21zm0 15zm0 2zm-1-15zm0 13zm0-9zm0 13zm-1-13zm0-6zm0-10zm0 25zm-1-32zm0 6zm0-1zm-1 4zm0 2zm0 26zm0-33zm0 22zm-1-7zm0 8zm-1 10zm0-31zm-1 13zm0 14zm0-11zm0-16zm-1 22zm0 2zm-1-23zm0-6zm0 9zm0 19zm-1-24zm0 12zm0-11zm-1 2zm0 21zm0 8zm-1 1zm0-22zm-3-6zm0 7zm-1 5zm0 2zm0 6zm0 4zm-1-18zm-1-7zm0 3zm0 2zm-1-7zm0 1zm0 25zm-2-19zm0-6zm-1 17zm-1-20zm0 30zm-1-10zm-1-8zm0-8zm-1 28zm-2-7zm0-26zm-1-2zm0 25zm-1 8zm0-22zm-1 16zm0 5zm0 1zm-1-10zm-3-2zm-1-9zm-1-4zm-2 21zm-1 2zm0-14zm-1 5zm-1 5zm0-2zm-1-17zm-4 18zm-2-9zm-2-18zm-2 17zm-2 12zm-2-19zm0 12zm0 7zm0-23zm-3 3zm-3 3zm-4-11zm-1 8zm0-1zm-2-4zm-1-5zm-3 7zm0 13zm-4-8zm14 32zm5 10zm7 8zm5-12zm1-10zm1 21zm3-7zm1 0zm1-9zm3-1zm2 14zm3 8zm2-6zm0 16zm0-8zm0-10zm1-10zm0 6zm0 13zm1-25zm1 29zm2-13zm1 15zm1-33zm1 16zm0-9zm1 6zm1-10zm0 16zm0-18zm1 13zm0 11zm1-22zm0-3zm1 4zm0 25zm0-29zm0 3zm1-3zm3 14zm1 11zm1-17zm0-3zm0 13zm0-1zm1-14zm0 24zm2 8zm0-20zm0-1zm0 2zm1 18zm0-20zm0 25zm0-16zm0 12zm1 2zm0 2zm0-31zm0 12zm1-11zm0 2zm0 14zm0-7zm0-11zm1 20zm0-5zm1 15zm1-11zm0-7zm0-4zm1 14zm0-24zm0 13zm0-15zm1 17zm0-11zm0 22zm0-23zm0 3zm0 12zm0 11zm1-6zm0-10zm0-6zm1 14zm0-23zm0 15zm0-10zm0 2zm1-2zm0 12zm0 9zm0 3zm0-11zm0-10zm0 24zm0-10zm0-10zm0 21zm1-7zm0 9zm0-20zm0-1zm0 14zm0-28zm0 1zm0 35zm0-23zm1 7zm0 1zm0 12zm0-10zm0-20zm0 24zm0-1zm1-18zm0 25zm0-10zm0-21zm1 28zm0-23zm0-6zm0 1zm0 27zm1-9zm0-21zm0 13zm0 1zm0 14zm0-23zm1 2zm0 25zm0-11zm0 4zm0 9zm0-19zm2-6zm0 14zm0-10zm0-11zm0 3zm1 21zm0-7zm0 2zm1-14zm0 13zm1-20zm0 1zm0 36zm1-33zm0 32zm0-33zm0 6zm0 12zm2 15zm0-7zm0-15zm1-5zm2 4zm1 12zm1 4zm0-8zm0 13zm0-7zm1-23zm0 14zm0-9zm0 12zm0 16zm1-23zm0 14zm2-6zm0-8zm0 3zm1-11zm1 14zm0-17zm1 25zm0 1zm0-18zm1 17zm0-21zm1-9zm0 13zm0 23zm2-5zm0-20zm2 9zm1 0zm0-20zm3 32zm1-32zm3 29zm1-20zm4-6zm2 15zm0 12zm0-3zm1-21zm2 13zm1-14zm12 4zm-40 56zm-3-20zm-1-1zm0 2zm-2 15zm-2-12zm-1-9zm0 5zm-2-5zm-1 11zm0 11zm0-3zm-1 2zm0-21zm-1 31zm0-31zm0 24zm0-23zm-1 16zm0 8zm-1-1zm0-23zm-1 18zm0-6zm-1 3zm0-8zm-1-5zm0 14zm0-8zm0 22zm0-21zm-1-8zm0 22zm0-23zm0 15zm0-1zm0-2zm-1 13zm0-8zm0 11zm0-8zm0-10zm0-11zm-1 21zm0-8zm-1 9zm0-7zm0 15zm0-9zm0-10zm-1 18zm0-18zm0 11zm0-10zm0 2zm0-10zm0 22zm0-20zm0 1zm-1 6zm0 11zm0-9zm-1 9zm0-23zm0 14zm0-10zm0 6zm-1 6zm0-8zm0 12zm0-21zm0 14zm-1-7zm0 16zm0-23zm-1 7zm0 12zm0-11zm0 15zm0-10zm-1-1zm0 6zm-1 7zm-1-22zm0 14zm0-6zm-2-8zm0 16zm-1-15zm0 11zm0 4zm0-7zm-1-2zm0 4zm-1-11zm-1 14zm0 7zm-1-17zm-1 3zm-1-10zm-1 0zm0 21zm-1-16zm-2 8zm-2-5zm-1-7zm-3 5zm-2-4zm-12 4zm-1-3zm-4-3z"/><path stroke-width="16" d="M10536 6835zm53 0zm-26 18zm-36 23zm-5-10zm-14-16zm-193 27zm-14-15zm-15-1zm-45 2zm-2-3zm-8-2zm-21-5zm-1 52zm6 4zm17 5zm18 0zm8-6zm55-21zm0 19zm168-3zm3 9zm43-6zm15-2zm18-17zm31 50zm-41 11zm-40-16zm-2-12zm-2 25zm0 7zm-212 0zm-15 6zm-9-17zm-21-14zm-7 5zm-18-4zm-6 22zm14 38zm41-14zm30-5zm188 4zm0-9zm2 5zm1 5zm19 16zm0-20zm10 0zm18 29zm0-8zm8-11zm2-9zm13-1zm10 22zm4-15zm12-17zm-2 58zm-35 6zm-2-15zm-12 18zm-10-4zm-26 0zm-6-1zm-4-2zm-8-3zm-168-2zm-20 13zm-13 11zm-3-19zm-17-6zm-12 13zm-6-16zm-11 8zm-7-16zm-4 24zm-1 11zm-15 21zm9-16zm23 34zm4-32zm9 19zm2-17zm7 15zm6-5zm1 3zm6 6zm12-16zm7 25zm6-23zm6 18zm0-1zm1 5zm9-13zm167 1zm2 17zm0-1zm2-5zm5-32zm6 4zm4 32zm2-8zm1 10zm11-30zm3 21zm1 3zm2-11zm4 2zm11-4zm9 11zm2-4zm5-14zm12 26zm2-12zm18-15zm5-4zm4 57zm-9-10zm-8-9zm-11 14zm-2-17zm-6 14zm-2 20zm-3-22zm-1 17zm-1 0zm-6-28zm-2 6zm-4 0zm-4 24zm0-13zm-3-15zm-1 8zm-7 2zm-2 0zm0 14zm-2-24zm-2 13zm-1-13zm-4 16zm-3-3zm-6-15zm-8 29zm-14-32zm-164 1zm-1 30zm-5-2zm-40-11zm0 1zm-2-18zm-4 36zm0-30zm-1-1zm-2 23zm-11-26zm-1 13zm-20 13zm-8 1zm-16-31zm0 54zm4-1zm11-7zm7 17zm4 9zm1-5zm0-4zm1 3zm10 1zm3-14zm6 21zm7-5zm9-2zm3-12zm0-7zm1 6zm3-10zm2 22zm3 12zm1-26zm2 25zm6-30zm5 18zm12-7zm2-2zm6 20zm166-7zm4-8zm8 2zm3 9zm3 2zm3-20zm11-12zm9 27zm1 1zm1 7zm3-25zm3 6zm0 1zm1-14zm3 12zm0-5zm1 21zm5 4zm0-10zm4-15zm1 2zm7 16zm1 2zm0-8zm4-1zm1 14zm1-35zm0 2zm5 26zm1-13zm2 2zm0-7zm8 21zm8-5zm7-21zm3 0zm-4 38zm-1 31zm0-31zm-4 17zm-1-11zm-4 13zm-5-23zm-5 1zm0 13zm0 2zm0 14zm-5-3zm-1 6zm-2-24zm-3 27zm-3-9zm-1-22zm-21 13zm-1-8zm0 24zm0-33zm-1 1zm-2 26zm-1 4zm-2 4zm-1-7zm-1 8zm-7-16zm0-14zm-8 23zm0-23zm-9 22zm-2 3zm-1-16zm-1 17zm-1-30zm-13-4zm-164 7zm-1 24zm0-19zm-2 20zm-3-15zm-13-15zm-9 23zm-3 3zm0-9zm-9 0zm-6-10zm-3 3zm-1 1zm-2-7zm-1 31zm-5-3zm-2 5zm-1-17zm0-14zm-2 12zm-8-17zm-2 25zm-4-6zm-2-14zm0 22zm-9 1zm-1-24zm-3 23zm-23-3zm0 16zm0 35zm1-30zm4 12zm1 1zm1 14zm2-29zm9 2zm2 12zm4 0zm1-12zm1 17zm1-6zm4-12zm2-2zm10 13zm11 0zm1 19zm3-4zm1-5zm4-23zm1-4zm1 16zm0 6zm1-11zm4 12zm1-19zm1 14zm1 8zm4-6zm3-7zm4-11zm4 6zm2 23zm4-2zm9-26zm2 11zm5 8zm1-1zm170-22zm3 6zm2 25zm4-29zm4 31zm1 2zm5-31zm5 3zm5-6zm6 33zm5-8zm17-12zm5-14zm1 4zm7 32zm19-12zm7-2zm0 8zm1-29zm6 7zm1 18zm4-3zm2-1zm0 6zm-3 48zm-2-17zm-1-6zm-5 3zm0-12zm-2 10zm-1 13zm-9-17zm-4 26zm-3-1zm-2-28zm-2 2zm-2 27zm-1-28zm-2-7zm-1 30zm0 3zm-4-3zm0-9zm0-5zm-12-3zm-3-12zm-3 33zm-1-26zm0 14zm-2 5zm-1-5zm-6-12zm-1 18zm0-8zm-2 12zm0-26zm-2 7zm-1-14zm-8 18zm-6 14zm-5-10zm-5 9zm-4-26zm-3 21zm-173-21zm-1 30zm-1-2zm-1-20zm-3-12zm-1 2zm-5 4zm-3 7zm-5 17zm-12-26zm0 16zm-1 9zm-1 5zm-1 1zm-5-34zm-1 9zm-3-1zm-1 18zm-1-9zm-8 1zm-1 15zm-1-31zm-2 3zm0 25zm-1-21zm-6 18zm0-26zm-3 29zm-5 2zm-4 0zm0-23zm-2 25zm-4 1zm0-27zm-2 23zm0-21zm-6 0zm-5 8zm-3-2zm-3-4zm-6-7zm0-3zm7 65zm3-12zm0-9zm2 18zm1 7zm14-25zm6 13zm1-9zm0 12zm1-3zm1-13zm2 13zm0-6zm4 10zm1-20zm2 29zm7-12zm1 8zm1-25zm0 3zm2 31zm0-10zm0-1zm0 5zm2 1zm1-21zm1-4zm6 17zm0-10zm8 16zm0-19zm1 25zm0-17zm0-10zm0 3zm2-4zm3 25zm2-2zm18-31zm4 5zm8 31zm1-17zm169-11zm3 25zm4 4zm2-32zm3 14zm4-17zm3 2zm0-6zm12 17zm1-5zm1-5zm2 5zm4 0zm5 26zm3-17zm0 16zm1-11zm0-18zm2 20zm2-13zm0-1zm1 11zm1-9zm0 4zm5 8zm4-7zm1 0zm2 3zm0 12zm5-18zm0 2zm1-3zm0-11zm1 9zm3-5zm0-7zm4 29zm2-16zm5 17zm6-12zm2 7zm4-22zm1 22zm5 10zm3-11zm-15 32zm-4-19zm0 21zm-2 13zm-1-3zm-3-2zm0 1zm0-20zm-3-9zm-4 36zm0-33zm-1 15zm-3 14zm-2-1zm-3-30zm-6 14zm-3 20zm-3-16zm0 3zm-2-5zm-4 9zm-1 10zm-2-23zm-1-8zm-1 19zm0 2zm-1-6zm-1-19zm-2-2zm-1 0zm-9 18zm-7 9zm-2-4zm-2 9zm-23-31zm-169 19zm-7 4zm-3 15zm-17-4zm-3-10zm-4 6zm-3-31zm0 6zm-2-3zm-4 22zm-1 2zm-3 6zm-1-20zm-1-10zm0 19zm-3 4zm-2 13zm-2-2zm-1-36zm0 32zm-4-28zm-1-5zm0 12zm-2 5zm-10 19zm-1-22zm0-11zm-3 36zm0-1zm0-15zm-6 12zm-2-31zm-3 22zm-2 5zm-4-1zm-3-11zm0-2zm-4 7zm0 15zm-3-21zm0-1zm-4 12zm2 41zm3-1zm1 8zm8-28zm3 19zm1-14zm1 24zm3-12zm5 7zm4-2zm1 8zm0-11zm0-8zm0 15zm4-31zm1 23zm2-16zm2 11zm2-6zm4 22zm0-38zm1 21zm2-9zm3-9zm7 4zm0 12zm1 8zm1-4zm2 1zm3 14zm2-38zm0 36zm4-36zm0 28zm11-26zm4 35zm4-3zm3-10zm0 3zm10 12zm0-21zm1 16zm0-31zm8 20zm166-1zm2 15zm1-25zm9 1zm4 6zm5 10zm3-26zm6 16zm2 20zm1 0zm6-37zm1 11zm1 0zm6 17zm2 5zm1-21zm6 21zm0 4zm4-17zm1-4zm4 2zm2 5zm2-14zm2 1zm0 24zm0-19zm1-14zm2 16zm0 13zm2-22zm1 16zm4 4zm0-3zm1 0zm1-5zm0 14zm11-11zm1-15zm1-1zm1 18zm1 11zm0 1zm8 0zm0-29zm2 1zm-13 43zm0 2zm-2 20zm-3-24zm-2 25zm-1 1zm-3 1zm-3-29zm-1 3zm-4 10zm-2 10zm-1-8zm-4-5zm-1-4zm-1 19zm-1-31zm-2 2zm-3 32zm-2-3zm0-32zm-5 2zm-2 9zm-1 15zm-1-5zm0 13zm-2-23zm-1 12zm-1-26zm0 6zm-2 3zm-3 3zm-1-12zm0 36zm-2-24zm-4-8zm-2 32zm-2-18zm0-3zm-4 2zm-2-4zm-1-4zm-5 1zm-3 19zm0-2zm-3 11zm-6-12zm-9-11zm-173-10zm0 21zm-1-24zm-7 25zm-19-8zm0-17zm0 36zm0-23zm-1 3zm-1-12zm-2 19zm0-17zm-2-1zm-1 5zm-4 12zm-1-7zm-2-1zm-1 16zm0-17zm-4 16zm-4-26zm-4 33zm0-18zm-1-3zm-5 5zm-2-20zm-2 17zm-3 5zm0-7zm-1 15zm-2-23zm-2 10zm-2-16zm-2 13zm-1 11zm-5 2zm-3 2zm-1-9zm-1-18zm0-4zm-2 24zm-1-17zm-1 26zm0 1zm-5 4zm-2-26zm-5 8zm-1-1zm-1 14zm2 31zm0 12zm9-1zm1-24zm1 15zm11-26zm2 11zm1 7zm1 7zm0-16zm2 17zm4-13zm1 9zm0 3zm7 3zm1-25zm4 13zm1 12zm3-12zm1 8zm1-17zm2 3zm1 22zm5-5zm1 11zm1-24zm5-13zm1 2zm0 17zm2 9zm1-18zm2 7zm3 13zm1-20zm3-10zm5 13zm3 9zm1-20zm1 0zm0 29zm15-18zm4-8zm2 25zm1-12zm164 19zm2-28zm4 0zm1 25zm0-34zm1 24zm2-25zm4 0zm5 23zm4 15zm0-9zm11-28zm0 30zm5-26zm1 26zm1-28zm2 14zm0 6zm0 14zm1-29zm5 28zm1-12zm0-20zm1 11zm2 21zm1-13zm0-22zm1 25zm1 2zm2-18zm0-3zm2 5zm1-10zm3 26zm1-11zm2-7zm4 8zm0 19zm1-33zm1 32zm0-33zm2 13zm0 22zm4-36zm5 16zm6-9zm3 23zm0-22zm3 6zm10 19zm6 4zm0-1zm2-5zm-1 33zm-2-15zm-1-1zm-6 10zm0-6zm-3 19zm-2-27zm-7-4zm-3 35zm-2-14zm-1-13zm-1-10zm-3 0zm-5 29zm-3 6zm-1-29zm-1 4zm-1 14zm-1-9zm-2 23zm0-1zm-3-11zm-3 12zm-7-3zm-2 4zm-4-35zm-2 17zm-1-9zm0 27zm-3-22zm-1 9zm0 12zm-1-37zm-1 13zm-11 3zm-1 13zm-6 6zm-1-35zm0 6zm-3-2zm-1-5zm-7 35zm0-32zm-2 34zm-1-10zm0-18zm-1-5zm-2 14zm0 15zm-169-5zm-5 8zm-2-20zm-5-6zm0 5zm-5-5zm-3 14zm-4-1zm-2-1zm-2 4zm-2-2zm-1-16zm-1-1zm-1 19zm-2-16zm0 13zm-2-9zm0 13zm0-27zm-1 23zm-3-11zm0-7zm-5 16zm0 5zm-1 0zm-2-16zm-3-8zm0 32zm-1 3zm-5-35zm-2 34zm-1-15zm-2 14zm0-34zm-1 25zm-4-10zm-1-5zm-3 7zm-2 8zm-3 2zm-2-5zm0-10zm-4-5zm-1 26zm-1-33zm0 25zm-1-1zm0-20zm-4 29zm-2-26zm-2 25zm0 1zm-13 4zm-1-4zm-1-7zm-3 14zm3-1zm2 39zm8-37zm1 18zm2 2zm3 7zm1-8zm0-19zm2 14zm0-7zm1 2zm3 27zm1-34zm0 16zm1-7zm0 25zm3 0zm1-9zm3 1zm1-28zm1 7zm4 5zm1-6zm2 15zm0 3zm3-8zm4 10zm0-16zm2 17zm0 2zm1-5zm2-10zm0-2zm3-3zm0 9zm2 4zm4-17zm0-1zm1 32zm3-12zm1-3zm0-9zm1 21zm2 0zm0-23zm2 8zm1 13zm0-5zm1-9zm1 4zm6-4zm2 9zm2 8zm3-17zm0 14zm1-16zm0-7zm0 6zm4 23zm4-27zm4 1zm5 24zm4-30zm2-3zm164 33zm1-9zm3-17zm4 24zm14-24zm3 10zm5-12zm2 9zm0 21zm1-28zm2 17zm0-10zm2-13zm3-5zm0 32zm2-15zm0 7zm2 4zm0-1zm3-17zm2 24zm0-3zm5 4zm1-19zm5-7zm0 13zm1 16zm1-20zm0 12zm1-1zm0-20zm1 24zm2-21zm2 14zm0-1zm3-15zm1 6zm2-9zm1 27zm2 2zm1-25zm4 24zm6-19zm1-1zm2 5zm1-3zm2-9zm0 25zm1-14zm0-1zm0 19zm3-6zm0-20zm2 10zm2 7zm3-21zm8-1zm-1 39zm-3 21zm-2-15zm-2 9zm0-18zm-3 34zm-1-1zm-1-28zm0 13zm-2 6zm-5-10zm-3 19zm0-31zm-1 29zm-3-33zm-7 17zm-2-12zm-1 13zm-4 13zm-2-23zm-1 31zm-1-19zm-1 13zm-3-21zm-1 9zm-2-9zm-1 15zm-2-9zm-2-8zm-1 16zm-2 11zm0-25zm-1 18zm-2-17zm-2 25zm0-8zm-1-18zm-3-7zm-1-2zm-3 14zm-4-15zm-3 33zm-4-12zm0 2zm-2-25zm-7 26zm-1-6zm-4 11zm-15 5zm-166-20zm-2 3zm-1 10zm0-29zm-8 21zm-6-12zm0 5zm-1 5zm-1 0zm-1-9zm-3 1zm-2-5zm-1-2zm-6 25zm-2-1zm-2-23zm-1 7zm-1-12zm-1 24zm-5 12zm-2-25zm-1 18zm-1-25zm-2 12zm0-4zm-1 8zm-2-9zm-3 4zm-2 7zm0-11zm0 26zm-5-7zm-2 9zm-3-38zm-1 4zm0 16zm-1-8zm-2 18zm-1-30zm-4 31zm0-21zm-1 10zm0 6zm-1-8zm-7-14zm0 1zm-1-3zm-3 17zm-2 0zm0-13zm-4 0zm0 1zm-1 20zm-3-10zm-1 17zm-4-23zm-1-9zm-1 19zm-1-13zm-4 9zm0-8zm-2 25zm1 10zm4 22zm3-3zm0 6zm3-16zm1 0zm3 23zm0 2zm8-6zm1-28zm1 13zm0-10zm5 3zm3 20zm2-7zm2-15zm0 28zm2-14zm0-3zm1-3zm1 21zm1-7zm2-24zm0 6zm2-10zm1 3zm2 12zm0 14zm5-12zm0 4zm4-21zm3 25zm0-21zm0 26zm0-31zm1 7zm1 28zm4-28zm2 10zm2-10zm3 18zm1-12zm1-9zm4 7zm1 12zm5 12zm5-37zm3 2zm4 20zm13 1zm3 1zm169-5zm1 6zm2 9zm0-17zm2 16zm2-2zm3-20zm4 14zm1 1zm0-19zm1 9zm1 8zm8-10zm1-2zm5 23zm2-26zm0 2zm0 2zm1 2zm3-12zm0 11zm0-6zm1-1zm2 1zm1 26zm5 5zm1-38zm2 29zm1-23zm2 16zm1-11zm1 5zm4 11zm5-20zm1 4zm1 25zm0-30zm2-5zm0-1zm1 23zm1 14zm5-2zm0-28zm2-5zm9 14zm0-9zm2 25zm1-12zm2-18zm1 12zm1 13zm2-17zm0 12zm1-4zm1 15zm0-27zm8 14zm1-6zm4-10zm0 18zm1-13zm-10 34zm-3-2zm-6 25zm0-7zm-2-9zm-1 12zm-1 11zm-2-23zm-3 28zm-1-2zm-4-17zm-2 17zm-2 2zm-1-27zm-3 6zm-1 5zm-4-8zm-5-7zm-5 23zm-2-15zm0 17zm-3-2zm-3 6zm-1-16zm-1-7zm-3-5zm0 4zm-1-3zm-5-3zm-1 1zm-3 14zm-2-13zm-4 2zm-1-7zm-1 11zm-5 12zm-4-4zm-4 9zm-2-12zm-1-11zm-5 20zm0 1zm-2-26zm-3 27zm0-28zm-1 0zm0 36zm-163-11zm-3-11zm-1-14zm-1 22zm-1-14zm-1 18zm-7-17zm0-1zm-2 10zm-7 3zm-3-22zm-9 8zm-2-4zm-1 19zm-1-21zm0 35zm-1-14zm-1-10zm-2-7zm-3 21zm-1-14zm-3 13zm-3-15zm-1 26zm-1-6zm-2-6zm-1-22zm-1 30zm-2-24zm0 12zm-4-19zm-1 27zm-5 3zm-2-9zm-1-3zm-1-9zm-2 9zm0-9zm-2-7zm0 14zm-1 18zm0-16zm-1 3zm0-11zm-1-11zm-3-3zm0 26zm0 8zm-6-23zm-1 0zm0 2zm-2-4zm-6-3zm0 2zm-2-8zm-5 21zm-3-10zm-5 35zm5 9zm1-12zm1-3zm1 10zm2-8zm0 18zm5 4zm1 11zm5-4zm3-9zm3-19zm0 30zm1-22zm2 19zm2-1zm0-7zm3-5zm1 19zm2-11zm0 13zm4-5zm0-30zm0 27zm2-4zm2 3zm0-9zm0 14zm2-7zm1-27zm1 28zm3 8zm0-1zm2-26zm1-1zm1-8zm3 33zm1-29zm1 0zm0 25zm0-9zm3-11zm1-1zm0 26zm1-18zm2-5zm1 7zm4 1zm1-2zm0 17zm2-27zm0 18zm3-23zm7 24zm2-20zm4 3zm7 6zm2-6zm2 29zm8-33zm2 23zm170-2zm3 1zm4-9zm1-7zm3 17zm1 7zm2-30zm0-4zm0 23zm14-23zm1 1zm0 8zm1 1zm1-8zm0 11zm4 12zm1-6zm2 3zm1-5zm0-10zm1 9zm0 14zm5-5zm2-18zm0-1zm1 31zm1-15zm2-2zm0-21zm4 36zm3-4zm3-8zm1-17zm0-4zm3 24zm2 0zm1-27zm0 19zm2-13zm0 25zm10-30zm7 6zm4 17zm2-19zm1 18zm2 15zm3-18zm1-2zm1 0zm1 4zm4 9zm0 3zm1-28zm0 67zm0-33zm0 13zm-7 9zm0 12zm0-28zm-2 24zm-6 8zm-4-2zm-5-12zm0 14zm-2-3zm-1-19zm-2-7zm-3 11zm-1 11zm-4-26zm-3-1zm-6 34zm-1-20zm-1-12zm-1-2zm-2 28zm-1-9zm-3-13zm-1 22zm-2-29zm-2 19zm0 7zm-1-27zm-2 5zm-2 0zm0 1zm-4 25zm-1 2zm-3-35zm0 6zm-1 31zm0-32zm-2 30zm0-31zm-2 10zm-3-7zm-1 22zm-6-29zm-10 10zm-6 28zm-2-7zm0-8zm-1-18zm-1 24zm0-20zm-4-1zm-2 17zm-162-1zm-1 6zm0-15zm-1-13zm0 24zm-1 12zm-4-11zm-5-5zm-8 2zm-1 9zm-6-22zm-1-2zm-2 2zm-1-5zm-8 28zm-1-29zm0 7zm-2 11zm-6-19zm-1-1zm-2 20zm-3-21zm-6 29zm-3-7zm-4-24zm-1 19zm-4 2zm-1-15zm-3 14zm0 11zm0-30zm0 22zm-3-12zm0 6zm-1 9zm-1-15zm-2 15zm-5-5zm0-11zm-1 19zm-7 5zm-1-7zm-6-20zm-1 32zm0-6zm-1-14zm-1 2zm-5 1zm-3 39zm0-1zm0-18zm2 35zm2-25zm0-9zm1 31zm2-19zm3 4zm1-12zm6 14zm3-3zm2 13zm1-13zm8-4zm1 14zm1-17zm1 12zm1-18zm2 26zm0 6zm3-19zm1 17zm3-6zm0-1zm1 1zm1 7zm2-12zm0-13zm3-3zm0 29zm1-6zm2-13zm1 7zm1-4zm0-16zm2-4zm0 27zm0-11zm0 13zm1 5zm7-17zm3-9zm0 12zm1 1zm1-18zm1 7zm2 28zm1 0zm2-16zm0 8zm1-2zm2 8zm0-11zm1 11zm4-19zm2 11zm11-15zm0 18zm1-9zm2-18zm5 22zm4-6zm1-13zm1-4zm1 18zm166-8zm1 17zm1-27zm2 35zm1-23zm0 15zm0-9zm3-16zm6 20zm3-21zm5 3zm6-8zm0 8zm5-5zm0 29zm0-11zm3 7zm2-11zm1-10zm0-1zm1 5zm1 8zm0-4zm2 0zm1 22zm0-11zm2-4zm1 11zm4-20zm1 23zm1-5zm1-9zm0-22zm3 22zm4 9zm1-24zm2 13zm2 5zm0 3zm0-7zm2 3zm0 3zm1 12zm2-8zm2-23zm2 13zm2 2zm6-10zm0 24zm9-10zm2 10zm1-36zm0 4zm2 28zm0-21zm7 15zm0-5zm1-19zm1 14zm4-12zm0 49zm0 5zm0-18zm-3 25zm0-17zm-3 2zm0 16zm-2-15zm-3 25zm-5-13zm-3-20zm0 25zm-4 2zm-1-11zm0 6zm-2-18zm-7 0zm-4 4zm-3 4zm-4 5zm-1-16zm-3 18zm-1-2zm-1-10zm-1-10zm-2 20zm-2 5zm0 7zm-1-27zm-2 13zm-4 18zm-1-36zm-1 14zm-1 10zm-2 9zm-1-13zm-1 16zm0-15zm-2-18zm0 35zm-1-15zm-1-14zm-2 18zm-2 0zm-1-11zm0 22zm-5-14zm0-18zm-2 22zm-1-22zm-1 29zm-1-6zm-1 2zm-7 1zm-2-9zm-1 9zm-7-24zm-3 19zm-167-10zm-1 19zm-1-7zm-1-15zm-8-2zm-1 8zm-2 6zm-10-11zm0-9zm-2-2zm0 12zm-4-2zm-1 24zm-9-17zm-1 9zm0-20zm-2-11zm0 6zm-3 30zm-2-4zm-3-12zm-4 6zm-5 11zm-4-21zm-1 11zm-1-17zm-9 0zm-2 6zm-2 11zm-1-24zm-2 18zm0 18zm-6-24zm0 12zm-1 3zm-7 2zm-2-11zm-7-17zm-5 25zm0 2zm-2-9zm-3-2zm3 21zm9 1zm6 4zm3-6zm0 2zm10 4zm5 1zm2 2zm7 17zm2-6zm1-4zm4 7zm3 2zm1-17zm1 2zm1 25zm4-12zm7-10zm0-5zm3 6zm3 24zm0-37zm1 27zm2-11zm1 5zm2-7zm4 2zm3 9zm2-6zm5-12zm3 15zm4-13zm10-10zm2 12zm1 13zm167-16zm1 4zm3-8zm6 24zm1 7zm4-8zm1 2zm4-11zm4 9zm1-8zm7 13zm0-11zm6-8zm1-8zm1 24zm0-1zm1-25zm2 5zm1 25zm1 1zm4 4zm6-26zm1-5zm2 6zm1-2zm2 6zm2 17zm3-33zm1 27zm3-15zm41-6zm-75 35zm-18 13zm0-3zm-10 9zm-6 4zm-168-6zm-2-5zm-5 0zm-2 8zm-2-12zm0-9zm-9 24z"/><path stroke-width="20" d="M10485 5500zm-24-13zm16 51zm-180 62zm22 115zm187 5zm-60 18zm50 25zm8 62zm-146-17zm-3 68zm24 33zm56 29zm24 1zm21 51zm-29 1zm-23-24zm-97 16zm-22-18zm-8-4zm-31 42zm2 35zm78-7zm136 38zm-124 2zm125 74zm-3 14zm-39-20zm-17-18zm-169 10zm0 58zm15-22zm23 8zm79 24zm48-1zm54-2zm16 43zm-37-25zm-22 16zm-67-9zm-37-9zm-30 5zm38 24zm81 24zm12 4zm19-26zm46 30zm2-25zm56 57zm-39 8zm-7 1zm-40-20zm-156-8zm-19 23zm-34-4zm6 20zm13 34zm3-1zm7-6zm22-6zm14-19zm18-5zm136 31zm20-13zm4-18zm5 10zm47 34zm-26 22zm-35-1zm-3-27zm-38 13zm-72-4zm-107 0zm-14-8zm-17 35zm27 24zm0 1zm4-7zm7 6zm7 11zm25-15zm3 16zm13-11zm12 10zm93 4zm108 17zm-17 26zm-13-4zm-20 3zm-27-6zm-6 0zm-3-20zm-18-7zm-55 6zm-11 2zm-30 23zm-15-16zm-7 18zm-2-14zm-23-19zm-5 9zm-37 2zm-22-14zm10 58zm20-19zm65 0zm18 19zm17-17zm1 17zm6 19zm10-14zm65-19zm5 9zm1-10zm37 31zm32-17zm17 11zm9-27zm18 30zm9 7zm-23 5zm-14 35zm-37-21zm-41 10zm-36 5zm-1-31zm-49 31zm-4-12zm-31 13zm-39 5zm-5 0zm-7-27zm-16 0zm-26-6zm-14 23zm-5 19zm20 28zm10-35zm0 1zm10 6zm1 11zm39 17zm17-19zm33 21zm8-12zm19-12zm1 9zm1 6zm56-29zm4 29zm11 3zm11 0zm13-22zm12 15zm0-18zm4 6zm7-13zm15 33zm19 3zm0-31zm52 63zm-12-17zm-2-10zm-15 35zm-25-5zm-15-15zm-1 8zm-8-24zm-3 32zm-53-6zm-2 4zm-12-22zm-2 7zm-87 11zm0 13zm-14-6zm-17-12zm-1-20zm-15 35zm-26-19zm-5 12zm-3 3zm-2-3zm-41-12zm-4-7zm4 58zm19 3zm8-16zm8-3zm5 14zm1 0zm8-24zm16 31zm156-23zm1-4zm29-5zm5-1zm0 28zm6 4zm24-22zm7-10zm1 26zm1-20zm24 4zm29 25zm13 3zm1-23zm1 42zm-7 2zm-17 20zm-10-38zm-3 28zm-6-2zm-11-20zm-51 26zm-13-27zm-12 9zm-29 1zm-4-3zm-5-8zm-67 0zm-5 28zm0 6zm-2-6zm-6-22zm-3 25zm-15-31zm-6 23zm-2-6zm-3 0zm-15 0zm-3 7zm0-14zm-18 2zm-11-3zm-20-7zm-18 22zm-14 31zm5 14zm11 1zm10-14zm1 7zm5-8zm7 14zm4-31zm13 3zm8 17zm1-16zm12 14zm13 8zm2-13zm11-5zm13 28zm15-9zm5 9zm12-25zm8 18zm1-27zm58-3zm6 29zm1 3zm5-5zm13-16zm4 2zm16-3zm6 6zm2-3zm1-15zm13 26zm1-12zm17 5zm2 17zm1-13zm12 5zm5-7zm2-9zm2-4zm9 9zm3-1zm0-5zm5 26zm1 2zm32-28zm1 19zm-6 17zm-2 22zm-23 3zm-4-8zm-7 10zm-43-3zm-2-12zm-4 12zm-6-15zm-3 4zm-3 19zm-19-8zm-9 0zm-20-11zm-93-15zm-18 6zm-3 5zm-2 19zm-4-7zm-3 1zm-4-13zm-1-13zm-2 22zm-4-6zm-11-7zm-8-11zm-1 11zm-15-2zm0-3zm-30 7zm-6-11zm-14 30zm-7 17zm1 28zm1-36zm5 2zm10 18zm7-3zm6 20zm3-28zm1 8zm5 18zm1-26zm8 3zm0 22zm2-9zm7-23zm36 6zm5 5zm5 1zm18 21zm29-26zm0 3zm10-12zm1 28zm4-12zm1-17zm41 37zm5-33zm1 22zm15 9zm2-10zm24-7zm5 13zm4 7zm24-5zm5-28zm1 7zm4 23zm38-10zm1 4zm29-6zm17 28zm-22 11zm-9-13zm0 3zm-26 12zm-1-21zm-15 12zm-3 4zm-5 14zm-24-28zm-6 30zm-12-4zm-3 3zm-14 2zm-17-5zm-4-20zm-13 11zm-56 7zm-5-15zm-6-6zm-16 19zm-2-1zm-16-19zm-15-6zm-31 14zm-28 4zm-9-20zm-11 27zm-1 7zm-2 1zm-9-33zm-4 65zm6-25zm2 3zm3 32zm2 0zm1-3zm5-22zm8-10zm6 2zm5 1zm3 19zm8 13zm14-3zm11-3zm20-26zm3 34zm3-14zm2 2zm12-11zm5 5zm1-19zm11 9zm10 26zm22-37zm80 18zm2 10zm3 1zm2-22zm0 25zm2 3zm30-1zm1 5zm4-16zm6 6zm4 3zm4-8zm5-10zm4 15zm5 0zm3 8zm7-15zm0-11zm10 22zm1-20zm1 0zm10 22zm7-28zm3 18zm28 21zm-18 18zm-4-18zm-1-2zm-10 28zm-12-27zm-2 15zm-1 5zm-2-1zm-18 13zm-19 0zm-3-6zm-2-10zm-7-14zm-2 21zm-3 9zm-8 2zm-4-19zm-2-9zm-4-10zm0 32zm-14-18zm-2 14zm-4-16zm-10 8zm-6-19zm-4 6zm-3 12zm-8-13zm-40-6zm0 36zm-3-8zm-3-15zm-7-10zm-11-2zm-13 25zm-6-2zm-3-17zm-5-7zm-4 29zm-1-22zm-2-8zm-1 6zm-1 0zm-3-2zm-6 24zm-2-11zm-9 16zm-1 0zm-3-24zm-2 6zm-1 20zm-8-7zm-3-13zm-4-13zm0 28zm-15-5zm-2 14zm-3 0zm-6-17zm-3-5zm-1 16zm-10-2zm-6 0zm-3 7zm-17-9zm-3-12zm-1 32zm0-7zm3 23zm21 11zm3-23zm4 5zm2 8zm1-3zm9 12zm0 2zm6 1zm2-34zm0 3zm8 3zm1 1zm2 28zm5-35zm9 30zm11-13zm2 16zm15-33zm9 16zm1-3zm16 20zm2-25zm1 6zm0-6zm2 26zm9-10zm10-9zm4 13zm1 2zm10-11zm46-10zm7 7zm1 0zm1-8zm1 5zm9-2zm5-14zm7 3zm9 17zm2 2zm9 6zm9-6zm7 12zm1-16zm2 4zm6-5zm0 17zm37-31zm2 7zm3 28zm9-3zm1-15zm2 2zm14 16zm1-25zm7 9zm3 1zm1-15zm12 67zm-15-34zm-5 1zm-14 9zm-3 21zm-2-29zm-3 22zm0 12zm-1-11zm-7-6zm-4-1zm-4-6zm-6 9zm-2 16zm-5-19zm-3-15zm-1-4zm-1 34zm-1-9zm0-8zm-2-4zm-1-12zm-6 14zm-4 23zm-1-36zm0 6zm-1-9zm-2 8zm-7 19zm-5-22zm-5 22zm-2 8zm0-7zm-1-4zm-1-14zm0 26zm-1-9zm-9-4zm-1 9zm0-18zm0-7zm-2 4zm0 7zm-1-5zm0 25zm-11-23zm-1 9zm-4 13zm-1-15zm-13-4zm-4-12zm-47-5zm-6 28zm-17-28zm-3 11zm-12 15zm-1 11zm-1-21zm-1 20zm-1-33zm0 12zm0-6zm-15 2zm-2-8zm-5 24zm-4-20zm-2 18zm-4 0zm-1-21zm-4 12zm-11-17zm-7 7zm-7 28zm0 3zm-1-29zm0 25zm-4-8zm-2 1zm-2-1zm0 13zm-2-13zm0-18zm-5 21zm-4-23zm-1 26zm-4-4zm-1 3zm-1-10zm-2-15zm-2 13zm-13 2zm-2-14zm-10 26zm-9-21zm-2 6zm-117 56zm8 0zm5-15zm53 15zm25-4zm8 5zm23 0zm1-7zm3-18zm5 27zm0-10zm2-19zm9 3zm7 5zm20 23zm2-18zm9-14zm1 22zm7 10zm4-38zm2 18zm2 1zm5-13zm14 17zm1 11zm3-7zm2 5zm1-22zm3-8zm7 19zm2-18zm1 7zm0-7zm5 13zm1 4zm1-3zm0-17zm1 26zm0 6zm6-14zm1 19zm7-32zm2 12zm2 16zm5-27zm2 24zm5-14zm0 3zm4-11zm1-3zm9 6zm3 12zm37 3zm20-20zm1 17zm9-16zm1 25zm4-7zm3 3zm5-26zm3 35zm4-13zm1 14zm5-15zm1 14zm3-19zm9-6zm19 20zm1-30zm1 36zm3-14zm7 14zm4-31zm3 12zm2 11zm1-7zm2 9zm3 2zm11-16zm2 13zm0-22zm6 18zm1 3zm2 0zm4-19zm2 19zm6-8zm8-2zm1-12zm1 20zm2 4zm3-33zm13 29zm4-8zm0 3zm2-4zm5 7zm6-8zm5 3zm1 11zm6-12zm5 18zm7-5zm23 3zm15-5zm11-2zm-28 25zm-13-10zm0-1zm-12 21zm-4-10zm-8 18zm-2-13zm-5 11zm-1-24zm0 2zm-1 24zm-5-33zm-5 7zm-1-5zm-1 30zm-2-27zm-2 19zm-2 15zm-2-31zm-1 3zm-4 1zm0-3zm-2 7zm-14 11zm-1-4zm-2-12zm-1-5zm-7-6zm0 35zm-3-2zm-1-28zm-3 22zm-4 4zm-2-1zm-1-24zm-2 18zm-4-7zm-11 15zm-5-2zm-5-15zm-3 17zm-3-12zm-4 3zm-4 8zm-12-22zm0 14zm-1 10zm-7-11zm-5 2zm-1-3zm-7-13zm-3 3zm-4-7zm-1 12zm-2 4zm-1 13zm-1 5zm-2-16zm-3 8zm-3-6zm0-5zm-3-16zm-11 7zm-1 7zm-1 14zm-4 0zm0-18zm0-9zm-1 17zm-2 1zm-11 12zm-36-1zm0-29zm-1 26zm-2-11zm-6-13zm-4 15zm-4 13zm0-21zm-5 10zm-7-7zm-4-15zm-1 38zm-3-3zm-4 0zm-2-1zm-2-32zm-10 18zm0-8zm-5-9zm0 12zm-3-7zm-3 8zm-15 17zm0-16zm-3 1zm-2-11zm-1 7zm-1-3zm-3-3zm-2-5zm0 32zm0-13zm-3-17zm-9 28zm-2-20zm-1 1zm0 15zm-6-1zm0 2zm-5-4zm-2-25zm-2 18zm-4-16zm0 21zm-8-10zm-8 0zm-2-13zm-7 8zm-5 23zm-18-29zm-1-2zm-5 1zm-3 10zm0 16zm-3-14zm-3 2zm-5 20zm-4-29zm0 29zm-6-17zm0 1zm-1-6zm-24 12zm-9-4zm-52-14zm12 41zm11 20zm21-13zm8-2zm6-14zm1 21zm4-3zm2-2zm3 4zm1 15zm9-16zm11-12zm1 9zm5 3zm1 4zm3-16zm0 24zm3-26zm4 30zm1-4zm2-12zm5-2zm11 1zm1-9zm2 1zm1 6zm1 17zm4-22zm2 10zm8 7zm2-25zm3 26zm3-2zm8-9zm3 18zm2-17zm1-14zm0 26zm9-26zm3 25zm10-25zm1 18zm5 14zm3-29zm8 8zm3 14zm1 4zm1-8zm3 0zm0-23zm2 7zm2 15zm3-7zm0 8zm4-2zm0 11zm1-21zm0 14zm0-11zm7-3zm1 20zm3 1zm1-20zm3-9zm0 14zm2 3zm6 8zm3-31zm5 21zm1 6zm5 4zm2 3zm3-34zm4 10zm0 22zm0 4zm5-2zm5-17zm5 17zm2-22zm0-8zm1 30zm40-16zm3-7zm1 25zm4-35zm5-1zm1 6zm4-5zm2 13zm1 2zm1-12zm6 6zm2 14zm1-8zm2-10zm1 22zm4 5zm2-30zm6 28zm6-18zm3 9zm0 14zm2-5zm3-3zm3 9zm4-34zm0-4zm8 39zm4-8zm2-2zm0-29zm5 35zm6-17zm0 11zm1-19zm0 12zm2-15zm3-5zm6 20zm1 6zm4-1zm5-5zm0 17zm2-8zm2-4zm0-4zm1-3zm4 14zm1-19zm1 6zm7-11zm7-5zm5 31zm1-16zm0 13zm4-29zm6 33zm2-17zm2 11zm4-12zm2-13zm0 4zm2 26zm10-16zm1 4zm3 15zm1-18zm0 1zm2 6zm2 8zm1-6zm4-12zm1 18zm6-7zm1-3zm5-22zm3 0zm0 14zm4-15zm7 6zm2 30zm0-23zm29 3zm10 13zm25 30zm-1-12zm0-2zm-5 0zm-1 6zm0-10zm-1 24zm-15-14zm-10-9zm-26 34zm-5-38zm-4 37zm-8-17zm-3 1zm-2-22zm0 12zm0 13zm-1 2zm-3 0zm-1 5zm-1-14zm0 6zm-4-13zm-2 27zm0-15zm-6 0zm0-1zm-1 6zm-1 10zm-1-21zm-3-17zm-3 25zm-12-14zm0 1zm-3 12zm-2-24zm-2 25zm0 2zm-2-15zm-1-4zm-4 16zm-3-10zm-3 17zm0 2zm-4-18zm-2 14zm0-27zm-1 1zm-1 19zm-2 1zm-5-8zm-2-10zm-8 3zm-1 4zm-2-8zm-1 34zm-10-14zm-3-3zm-1-6zm-2 20zm0-30zm-3 2zm-1 30zm0-30zm-1-3zm-5 26zm-1-7zm-1 6zm-7-15zm-2-3zm-1-11zm0 22zm-2-18zm0 3zm-3 10zm0 4zm-1-14zm-9-5zm-2-2zm-1 18zm-1 17zm-4 0zm-1-18zm-4 17zm0-32zm-8 3zm-1 4zm-2 4zm0 12zm-3 7zm-2-14zm0-9zm0 26zm0 4zm-10-10zm-1-19zm-3 22zm-6 1zm-1-1zm-53-4zm-3-16zm0-1zm0 12zm-5-8zm-5-8zm-1 29zm-1-29zm-1 18zm0-8zm0 16zm-2-2zm-3-1zm-3-14zm-2 3zm-2 3zm-3-22zm-10 8zm-12 23zm-3-14zm-2 15zm-2-32zm0 5zm-3 1zm-7 7zm-3 11zm-1 11zm-2-26zm-3 19zm-5 4zm-2 4zm-1-2zm-1-19zm0 15zm-1-21zm-1 22zm-1-12zm-2-15zm-1 22zm-1 10zm-1-11zm-4 4zm0 6zm0-33zm-2 23zm0 7zm-2 4zm-1-34zm-3 7zm-1 5zm-4 2zm-3 14zm-1-27zm-1 32zm-1-2zm-3 0zm-3-16zm0 16zm-1-22zm-2 18zm0-27zm-7 12zm-4 12zm-1-10zm-4-7zm-4 19zm-1-7zm-7 2zm-3 4zm-1-23zm-1 26zm-7-29zm-6 1zm-5 14zm-4 4zm-1-18zm0 21zm0-19zm-4 33zm-1-26zm-2 18zm-2 3zm-6-32zm-2 23zm-6 11zm-1-22zm-1 6zm-4-17zm-1 0zm-15 11zm-1 1zm-3 26zm-10-24zm-8 1zm-2-1zm-1-2zm-13 9zm-14 9zm-2 1zm-5-7zm-2 13zm0 19zm1 14zm1 5zm1-25zm1 14zm1-5zm6 5zm12-17zm4 15zm3 14zm2-37zm0 9zm5 3zm1 14zm2 13zm5-37zm0 13zm5-12zm4 27zm3 8zm6-1zm2-15zm2 16zm1-3zm2-15zm3 11zm3-12zm4-19zm4 2zm1 19zm0 18zm2-4zm2-1zm3-26zm0-7zm1 1zm2 11zm1 22zm2-26zm2 21zm3-14zm0-16zm3 3zm1 28zm1-15zm2 2zm3 17zm1-19zm0 13zm1-4zm6-3zm12-22zm3 4zm2 22zm2-24zm2 11zm1-10zm4 14zm3 15zm1-7zm0-6zm0-11zm0 24zm1 5zm1-32zm2 1zm1 10zm1 12zm1-22zm0-4zm3 15zm1-17zm2 22zm0-13zm4 14zm2-13zm11 10zm3-19zm13 13zm2-8zm3 27zm0-31zm0 35zm2-16zm0 14zm1 0zm4 0zm2-14zm3 4zm1-20zm3 23zm1 10zm1-17zm7-12zm5 18zm5 4zm3-18zm1-12zm2 37zm1-28zm5-6zm2 16zm0 14zm1 5zm0-34zm0 25zm3-27zm3 0zm3 34zm1-29zm0 25zm1-9zm0-17zm1 17zm2 12zm6 2zm8-28zm2 0zm7 8zm1 9zm1 3zm2-13zm37 21zm0-7zm1-24zm3-7zm1 12zm1 14zm1-9zm0 12zm1-15zm1 23zm6-37zm5 15zm6 10zm2-6zm0 3zm5-6zm2-13zm9 33zm2-9zm6 12zm1-4zm3-16zm4-11zm1 29zm1-16zm0 2zm1 11zm1-5zm5-15zm0-6zm1 29zm3-27zm1 21zm2 7zm1-8zm0 8zm1-21zm3 21zm2-17zm1 16zm11 0zm4-20zm1-6zm1 11zm0 2zm2 5zm1 5zm3-24zm2 11zm3 7zm5-4zm0 2zm4-12zm5-10zm2 19zm1-3zm2 15zm1-33zm1 8zm7 8zm1 7zm1 3zm0 4zm0-18zm3 14zm0-9zm5 7zm1 0zm2-15zm2 24zm1-10zm3-4zm0-1zm1-2zm2 19zm8-25zm1-12zm1 28zm1 5zm0-23zm3 3zm0 14zm1-5zm2-10zm1 13zm0-4zm3 11zm1 4zm6-6zm6-21zm2 15zm0-18zm1 19zm1-16zm0 2zm3 20zm1 1zm5-28zm1 27zm0-18zm0 21zm6-17zm24 4zm9 13zm10-24zm1-2zm2-2zm7 20zm6 3zm0 3zm17-23zm-5 31zm-6 38zm-4-6zm-6-16zm-1 8zm0 2zm-8 5zm0-21zm-5-5zm-5 22zm-5-25zm-4 23zm-5-22zm-3 8zm-11 19zm-13 3zm-2-31zm-1 3zm0 22zm0 3zm0 2zm-2-17zm-1 21zm-1-20zm-3-9zm-1 21zm-2 7zm0-32zm-1 3zm0-3zm-4 9zm-3 20zm-1-13zm-2 1zm0-19zm-2 19zm0-18zm0 22zm0-9zm-1-3zm-1-7zm0 8zm-4-9zm0 22zm-10 5zm-2-20zm-1 5zm-1 13zm-6-6zm-1 16zm0-27zm-6 15zm0 6zm-2-3zm-2 7zm-4 0zm-1-3zm0-27zm-11 24zm0 7zm-7-15zm-3 14zm-1 1zm-1-5zm-8-9zm-1-4zm-2-19zm-1 4zm-7 6zm0 18zm-5-14zm-3 22zm0-30zm-1 9zm-1 1zm-3 5zm-4 15zm-3-37zm-2 39zm-3-37zm-2 3zm-2 11zm-3-14zm-2 36zm-2-9zm-1 3zm-1-11zm-5 15zm-2-20zm-5 0zm-3-2zm0 9zm-1 10zm-1 0zm-1-18zm-2 16zm-1 5zm-3-22zm-1 4zm-1 0zm-9-9zm-1 13zm-1-7zm0 2zm-1 11zm-8-18zm-1-2zm-3-7zm-1 9zm-6 29zm-1-23zm-1 17zm0-23zm-2 20zm-1 4zm-44-4zm-1-23zm0 18zm-1-8zm-4-13zm-3 18zm-2 4zm-3-22zm-1-1zm-1 0zm-4 2zm-1 19zm-3 0zm-8-14zm0 28zm-1-16zm-1 9zm0 6zm-1-24zm-2 13zm-1-16zm0-6zm-1 9zm-4-1zm-3 25zm-4-35zm0 1zm0 27zm-5 5zm0-6zm-1-21zm-1 29zm-4-33zm-1 30zm-2-9zm-1-17zm-8 16zm-2-1zm-1-19zm-4 18zm-3 7zm-6 4zm-4-22zm-2 12zm-1 16zm-2-4zm0-23zm-8 22zm-2-34zm-1 39zm-5-16zm-1 15zm-2-3zm0-31zm-1-4zm0 17zm0 2zm-1-5zm-1 6zm-3-2zm-1 3zm-3 10zm-2-23zm-3 20zm-4-9zm-2 19zm-6-7zm-4-24zm-2 1zm-1-2zm-1 15zm0 7zm-3 4zm-8 6zm-1-3zm-4-15zm0 13zm-1-11zm-2-2zm-1 6zm-3-11zm-2-13zm0 14zm-2 20zm-1-29zm-1 12zm-1-1zm-1 9zm-5-4zm-1-14zm-2 23zm-2-16zm0 6zm-1 14zm-4-19zm-2-7zm0 27zm0-20zm-7 20zm-1-5zm-1-26zm-3 30zm-4-15zm-1-17zm-4 25zm-2 8zm-9-11zm-2 8zm-4-5zm-2 8zm-2 1zm-1-9zm-2 0zm-5-6zm0 15zm-3-33zm-22 28zm-1-32zm-4 4zm-1 18zm-7 28zm0-4zm14 30zm13-12zm7-5zm3 19zm9-10zm5-6zm9-7zm0 3zm1 8zm2-10zm2 20zm7-31zm0 18zm9-6zm0 17zm2-11zm0-10zm2 10zm1-12zm0 17zm1 6zm1 0zm1-7zm0 3zm2 8zm2-17zm3 6zm2-4zm1-18zm6 30zm0-19zm2 20zm0-10zm2-22zm0-2zm1 30zm0 6zm0-21zm1 7zm3 6zm0-30zm4 23zm1 1zm0-11zm4-13zm5 22zm1 5zm2-17zm1 22zm1-16zm2-17zm4 38zm0-3zm7-5zm2-9zm0 6zm3-12zm1 8zm1 9zm1-18zm0 4zm1 6zm0-20zm0 2zm0-3zm4 27zm7-13zm1-16zm1 17zm4 12zm0 5zm1-12zm1-17zm1 32zm3-23zm1 1zm1 5zm4 18zm4-9zm1-21zm1 24zm7 2zm7-16zm1 6zm0-3zm3-11zm2 20zm1-15zm1-11zm2 23zm3 1zm1-2zm0-19zm1 29zm1-15zm3 15zm8-12zm2 11zm0-32zm0 35zm0-10zm0-1zm2-17zm4-1zm1 25zm3-17zm0 13zm2-24zm6 7zm1-12zm0 21zm5-5zm0 15zm1-19zm1 22zm1-8zm0-24zm1 18zm1-6zm0 11zm2-7zm2 10zm1 3zm1-7zm2-18zm2 17zm5-9zm1-1zm2 23zm1-19zm2 3zm0-9zm5 19zm1-14zm0 14zm4 0zm43-31zm2 15zm2 20zm1-26zm1 9zm1 16zm3-12zm0-11zm1 12zm4-24zm0 35zm2-31zm0 16zm1 7zm2 12zm9-38zm7 15zm1 9zm4-6zm0 12zm2-30zm2 21zm0-18zm1 3zm0 5zm1-3zm1 9zm1-17zm0 1zm2 13zm5 19zm3-20zm6 22zm3-17zm0 3zm7 10zm1-3zm1-26zm9 12zm5 16zm1-9zm1-3zm6 4zm1-8zm6 21zm0-30zm4 33zm0-30zm0 13zm1-7zm3 0zm4 24zm4-3zm1 2zm2-34zm2 4zm2 4zm2-12zm0 13zm4-10zm1 21zm0 9zm1-19zm2 17zm0-1zm2-14zm0 14zm1-9zm1-17zm0 9zm1 6zm3 15zm0-6zm3-18zm1 26zm0-23zm1 14zm3 1zm5-11zm0-1zm1 10zm2-2zm0-16zm1 27zm2-7zm6-21zm1 12zm1-4zm0 11zm1-21zm1 1zm2-5zm1 14zm0-1zm0 3zm0 15zm6-5zm0 8zm3 4zm1-28zm0 6zm1 9zm1 8zm2-23zm1 21zm0-26zm1 31zm1-22zm1 0zm0 4zm1-4zm0 2zm1 9zm2-2zm1-8zm1 10zm1-17zm1 5zm7 2zm2-5zm0-1zm19 4zm1-7zm1 17zm5-13zm14 0zm5-3zm4 3zm2 12zm1 16zm5-4zm7-27zm9-2zm0 63zm-3 4zm-12-20zm-8-5zm-3 4zm-4 2zm-1-3zm-4-11zm-1 6zm-3 25zm-3-24zm-4 18zm-9-5zm-1-9zm-2 11zm0 13zm-7-15zm-2 1zm-1 9zm-4-18zm-4 5zm0-10zm-2 14zm-1-3zm-2 0zm-7-2zm0 13zm0-1zm0-6zm0-10zm-1 16zm-3-14zm0 3zm-1 5zm-4 0zm0 17zm-1-31zm-3 22zm-4-10zm0-11zm0 4zm0-8zm-1-2zm-1 17zm0-10zm0 2zm0-1zm0 12zm-2-14zm-3 12zm-1 8zm0 2zm-1-26zm-3 30zm-1-27zm-1 12zm-1 16zm-2-12zm-3-15zm-2 30zm-1 0zm0-9zm-2 2zm0-28zm0 4zm-3 15zm-1 1zm0-24zm0 38zm0-8zm-4-12zm0 4zm-2 8zm-1 4zm-1-18zm-1 23zm-1-38zm-1 34zm-7-28zm-2 21zm0-20zm0 22zm-2 5zm0 4zm-2-9zm-2-15zm-1 6zm0-18zm0 2zm-2 27zm0-12zm-1 6zm-1-1zm-1-3zm0-15zm-2-1zm0 32zm-1-29zm-2 24zm-9-22zm-4 15zm-4-6zm0-1zm-2 15zm-3-15zm-3 7zm0 12zm0-30zm-2 11zm0 12zm-9-26zm0 26zm0-16zm-3-8zm-5 0zm0 28zm-4-23zm0 16zm-1-1zm0-26zm-4 18zm-2-2zm-1 15zm-4-25zm-1 3zm-2 29zm-1-19zm-1-18zm0 3zm-2 8zm-8 20zm-1-1zm-1-32zm0 2zm-1 14zm-1 19zm0-22zm-1 7zm0 16zm-1-11zm0 13zm-4-16zm-1-11zm-1-11zm-2 34zm0-23zm-2 26zm-2-31zm0 33zm0-18zm-2-16zm-1 15zm-1-15zm-2-2zm-2 13zm0-15zm-1 16zm-2 17zm0-4zm0-30zm-3 8zm-1 25zm-1 0zm0-14zm-2-3zm-2 7zm-2-23zm-1 18zm0 14zm-1-27zm-41-3zm-1 2zm-2 16zm-1 10zm-1-2zm-3 5zm0-33zm-1 19zm-1 10zm-3 10zm0-39zm-1 25zm0 4zm-2-26zm-2 19zm0 13zm-1-9zm-1-9zm-2 5zm-3 15zm-1-29zm0 12zm-4 0zm-4-3zm0-1zm-1-8zm0 7zm-1 14zm-2-12zm-1-6zm-1 18zm0-27zm-1 7zm-1 12zm0-7zm-2 5zm0-16zm-2 32zm-4 2zm-2-26zm-3 4zm-5-5zm-7 20zm-6-2zm-4-6zm0 11zm-1-12zm0 11zm-1 2zm-4-26zm0-1zm-1-3zm0 28zm-2-14zm-6 21zm-5-18zm-1 8zm-1 5zm-1 0zm0 1zm-1-11zm-2-15zm-3 15zm-4-8zm0 14zm-1-15zm-2-9zm0 4zm-1 18zm0-9zm-3 20zm-1-39zm-1 30zm-2 4zm-1-17zm0 19zm0-10zm-1-15zm-1 24zm-1-3zm-1-2zm-1 9zm-2 0zm-8-22zm0-14zm-6 5zm-1 10zm-2 4zm-4-10zm-1 26zm-1-14zm-3 10zm-4-9zm-1-22zm-2 6zm-1 8zm-2-14zm-2 36zm-1-5zm-1-3zm0-29zm-1 10zm-3 4zm-1 5zm-1 17zm-3-13zm-1-13zm0 19zm-1-14zm-1 19zm0-18zm0-10zm0 21zm-3 10zm-1-4zm0-23zm-2 1zm-1 23zm-2 2zm0-30zm-1-1zm-3 3zm0-10zm0 4zm-1 20zm-1 4zm0-7zm-2-21zm-1 1zm0-1zm-6 9zm-5 8zm0 18zm-7-2zm-5-32zm-4 29zm0-1zm-2 0zm-2-1zm-5 11zm-1-16zm0 11zm-3-20zm-5-9zm-3 0zm-5 16zm-1-3zm0-17zm-1 34zm-3-29zm-2 12zm0-6zm-4 27zm-13-11zm-18 37zm1-5zm0-10zm7 21zm0-17zm1 7zm22 13zm1 3zm3-6zm1-30zm9 22zm10 12zm1-7zm2-10zm3-11zm4 10zm6-13zm2 12zm10 8zm1-6zm0-11zm3 26zm0-3zm1-17zm1-13zm1 38zm1-25zm0 5zm0-11zm1 22zm1-21zm1 28zm0-7zm2-5zm0-23zm2 33zm0-18zm2 7zm1-14zm1 26zm0-20zm3 16zm1-29zm0 14zm0 23zm3-2zm0 2zm3-4zm1-33zm0 24zm2 0zm2-6zm0 16zm1-27zm2 5zm2 0zm1-13zm1 22zm1 3zm1 12zm1-35zm2 5zm2-8zm5 15zm1 10zm0-22zm0 27zm1-13zm2-16zm0 1zm0 12zm3 4zm1-6zm0-9zm4 29zm0-31zm1 7zm1 3zm1 16zm1-14zm0 12zm1-3zm0-10zm1-3zm2 17zm1-22zm1 31zm1-11zm0-5zm2-10zm2-4zm0-4zm0 1zm2 28zm0-18zm2 1zm0 25zm1-38zm0 4zm1 22zm4-19zm1 6zm1-10zm2 13zm4-3zm5 19zm0-2zm1 7zm3-15zm1-3zm3 13zm4-1zm0-29zm5 28zm1-13zm0-1zm4 13zm1 9zm0-22zm5 21zm1-19zm0 3zm4 16zm0-7zm1-22zm1 29zm1-4zm2 0zm0-28zm3 4zm2-9zm2 11zm2 6zm3 12zm3-8zm0-19zm1 4zm0 14zm3 14zm2-32zm2 29zm0-23zm3 23zm2 3zm1-13zm1 10zm2 2zm0-19zm5-3zm2 10zm1 11zm0 7zm2-22zm4 8zm0-10zm5 2zm7-15zm2 4zm1-1zm1 3zm1-2zm0-5zm0 24zm2-14zm2-5zm0 26zm40-13zm0 14zm2-12zm1-10zm2 6zm0 2zm1-17zm3 9zm0 12zm5 2zm2-13zm6 0zm0 13zm3 2zm0-18zm4 10zm0 16zm5-8zm0-5zm0-9zm1-13zm2 10zm1 18zm1-19zm3 18zm0-26zm1 30zm1-5zm1-13zm2 10zm7-6zm0-10zm2-6zm1 21zm0-3zm3-6zm3 19zm1-24zm3 14zm1 1zm2-13zm0 2zm3 24zm0-7zm1-27zm2 2zm0 17zm2 15zm1-7zm2-21zm1 0zm0 13zm0 9zm3 8zm2-18zm0-17zm1-3zm0 25zm0 1zm0 1zm3-17zm1 28zm1-34zm0 22zm4-18zm1 16zm0-22zm1 11zm0 2zm3 4zm5 9zm1-7zm1-9zm4 14zm2-6zm0 14zm0-21zm3 6zm1 5zm0 13zm1-9zm1 10zm1-6zm1-6zm0 4zm0 1zm1-31zm3 31zm0 3zm3-1zm1-33zm1 23zm0-21zm2 20zm5-11zm1-11zm0 39zm1-13zm4-15zm1 22zm0 6zm0-23zm1 15zm4 4zm3-20zm1-6zm2 13zm0 13zm3-8zm4-21zm3 25zm1-5zm4 5zm2-17zm1 9zm1 4zm1 10zm0-21zm0-10zm0 16zm1 9zm0 3zm1-24zm1 18zm1-24zm0-4zm1 25zm3 11zm2-14zm1-8zm3 11zm0-12zm2 4zm0 13zm1-5zm0-25zm1 36zm1 2zm0-20zm0 19zm2-5zm3-26zm1 23zm1-23zm2 24zm3-10zm2 6zm6-8zm0 7zm4 8zm7 1zm3-6zm3 11zm1-32zm2 22zm0-23zm2 9zm4 23zm11-4zm3-21zm4-11zm17 20zm2-17zm1 24zm3-9zm2-18zm1 22zm4-14zm3-4zm0 43zm-4 5zm0-11zm-3 25zm-1 5zm-9-17zm-3-1zm-5 0zm-3 9zm-10 1zm-6-22zm-6 35zm-9-4zm-2 0zm-2-11zm-4 0zm-3-16zm-10 32zm-4-27zm-1 19zm-3 5zm-4-6zm-4-26zm-1 5zm-1 11zm-6 2zm-1 15zm0-1zm-5-26zm-3-1zm-1 24zm0-31zm-1 9zm-2 1zm-14 2zm-1-14zm-5 1zm-1 8zm-6-8zm-1 10zm0 1zm-2 2zm-5 0zm-1-1zm-2-6zm-5 7zm-6-3zm-1 2zm-3 0zm-4 1zm-16-11zm-7 7zm-1-8zm-11 10zm-4-2zm-1-9zm-1 7zm-5 4zm-6-8zm-3-3zm-4 5zm-1 8zm-7-8zm-3 1zm-9 5zm0 1zm-1-1zm-2-8zm-2-4zm-3 12zm-2-10zm-2 3zm-4-3zm0-1zm-17 3zm-4 6zm-2-7zm-39 11zm-1-9zm-4-4zm-1 5zm-10 4zm-3-3zm-9-6zm-1 3zm-11 4zm-8-5zm-3 4zm-1 0zm-8 8zm-2-14zm-6 3zm-3 10zm-1-6zm-3-8zm-2 12zm-1-7zm-2-1zm-4 9zm0-10zm-1 7zm-1 1zm-2-2zm-2-7zm-6 0zm-5 11zm-1-9zm-2 1zm-8 3zm-3-1zm-1-6zm-5 12zm-1-1zm-2-2zm-3-7zm0 3zm-2 0zm-9-6zm-4 6zm-2-4zm-12 8zm-2-9zm0 4zm0-5zm-2 7zm-2-1zm-2 0zm0 3zm-1 4zm-1-9zm-3 5zm-6-6zm-4 2zm-1 7zm-3 1zm0 26zm-1-8zm-1 8zm0-34zm-1 2zm0-7zm-1 19zm-1 12zm-2-5zm-3-22zm-2 8zm-2 16zm-3 5zm0-21zm-3 18zm-2-6zm-9-6zm-3-7zm-4-6zm-6 17zm-3 3zm-1 14zm-2-27zm-23 13zm0-10zm0 3zm-6 8zm-7 9zm-1 1zm-4-30zm-7 14zm-6 16zm0-31zm-4 54zm5-16zm6 15zm3 19zm8-22zm10 18zm5-32zm0 36zm1-28zm10-8zm3 8zm6 29zm0-21zm1 20zm7-18zm3-19zm2 26zm2-6zm0 3zm0-8zm8 0zm1 24zm4-4zm1-3zm0-29zm2 3zm1-5zm4 34zm0-20zm1 1zm2 12zm2-12zm3-14zm3 16zm1-1zm0 22zm402-12zm3-5zm2 7zm9 5zm1-32zm2 9zm3 7zm4 10zm2-23zm15-4zm1 25zm1 4zm0-8zm1 14zm3-2zm5-1zm2-31zm6 36zm1-37zm1 1zm4 36zm2-11zm0 7zm1-11zm9-19zm34 29zm1-16zm2-10zm-7 37zm-5 17zm-1 3zm-25-10zm0 11zm-7-11zm-1 19zm-2-27zm-5 0zm-7 16zm-2 9zm0 5zm-5-15zm-2 14zm-2 2zm-5-28zm-2 4zm-3 11zm-2 4zm0-21zm-2 9zm-7-15zm-3 9zm-2-8zm-3 28zm-4 4zm-3-26zm-7 17zm-395-25zm-1 15zm-2-4zm-3-10zm-2 30zm-5-22zm-3 2zm-6 12zm-6-10zm-1-4zm-4 4zm-1 7zm-1-18zm0 5zm-5 31zm-4-22zm-2-8zm0 20zm-3-28zm-1 35zm-8-26zm-2 1zm-1 16zm-2-16zm-6 13zm-1-21zm-4 4zm-2 29zm-1-32zm-1 9zm0-5zm-2 28zm-2-11zm-6-21zm-5 11zm-3 4zm0-2zm-3 22zm-2-10zm-1-20zm0 9zm-5-12zm-7 61zm1 8zm7-24zm4 19zm2-16zm9 9zm1-3zm2 18zm15-18zm1-14zm2-3zm5 24zm4-7zm2-17zm0 22zm7-2zm5 12zm4-14zm0 19zm1-16zm5 10zm1-22zm2-10zm6 1zm2 19zm0 8zm2-22zm0-2zm8 17zm0-11zm3 24zm0-31zm1 15zm1-15zm0 16zm1-6zm9-14zm399 23zm1 6zm1 0zm3-9zm2-14zm1 26zm2-18zm1-3zm1 13zm2 8zm3-4zm1-17zm2 19zm3-18zm13 9zm2-5zm1-2zm0-10zm2 16zm5-14zm2 22zm2 11zm0-19zm0-9zm1 8zm1 20zm1-39zm1 34zm3-20zm3-7zm7-5zm1 26zm3 1zm0-7zm6-20zm3 29zm6 5zm1-35zm8 2zm4 1zm1 13zm1 12zm2 4zm0 4zm5 39zm-4-25zm0 16zm-2-22zm-2 23zm0-9zm-8 18zm-10-25zm-5 17zm-4-13zm-4-12zm-5 14zm-1 7zm-9-9zm-4-8zm-2 29zm-3-32zm0 4zm-1 2zm-7 23zm-1 5zm-1-18zm0-16zm-1 13zm-1-1zm-3 8zm-1-13zm0 18zm-1 2zm-2-28zm-4-2zm-3 10zm-3 0zm-2 24zm-5-8zm0-22zm-2 10zm-2 21zm-5-14zm0 13zm0 2zm-1-24zm-2 25zm-395-20zm-3 14zm-1-25zm-4 29zm-2-25zm-2 8zm-1 9zm-3-1zm-4-7zm-1-20zm-17 13zm0 24zm0-27zm-2 15zm-1-22zm-2 2zm-4 12zm-2 21zm0-16zm-2 13zm-3 2zm-5-31zm-9 12zm-1-12zm-5 30zm-4-18zm0 13zm-13-19zm-5-2zm-4 20zm-2-13zm0 1zm-1 47zm3-24zm2 35zm5-8zm2-10zm4-4zm8 7zm3 14zm6-21zm2 23zm1-36zm1 24zm2-2zm3-21zm1-3zm4 39zm2-17zm4 11zm0-26zm1-6zm1 22zm0 12zm3-3zm3-11zm1-14zm1 29zm0-29zm5 31zm4-13zm0 3zm1-9zm1 18zm1-34zm4 27zm2 1zm1-25zm1 17zm1 4zm13-1zm5-25zm1 21zm395 9zm3-2zm1-9zm1 10zm2 8zm0-19zm2 16zm4-16zm5 12zm0-2zm7-29zm4 27zm0-12zm1 1zm2-1zm2 16zm2 1zm0-18zm1-6zm4-3zm1 31zm4-3zm4-28zm13 12zm4-2zm2 8zm2 6zm0 4zm4-12zm4-7zm1 15zm3-21zm5-8zm4 35zm8-23zm3 0zm1 15zm0-22zm2 14zm0 20zm6-25zm-4 62zm-5-35zm-4 22zm-1 10zm-6-24zm0 13zm-2-3zm-5 12zm-6 2zm-11-25zm-3 28zm-11-29zm-9 8zm-1-8zm-1 10zm-2 8zm-3 9zm-1-5zm-3-27zm-1 28zm-1-5zm-1-6zm0-10zm-4 24zm-2-8zm-1-24zm0 27zm-1-12zm-8 18zm-4-31zm-2 23zm-1-10zm-1 3zm0 4zm-1-17zm-3 26zm0-30zm-4 15zm-395 18zm0-31zm0 18zm-2 2zm-3 4zm-7-9zm-2 9zm-1-16zm0 24zm0-31zm-8 29zm-6-18zm-2 15zm-5-1zm-1-10zm-3 18zm-2 0zm-2-8zm0 7zm0-23zm-8 15zm-3-15zm0 25zm-2-17zm-1 2zm-16-6zm0 17zm-2-15zm-3-16zm-4 3zm-1 21zm-1 7zm-5-27zm-5 25zm-1 4zm-3-12zm-4-2zm-2 9zm-9-27zm4 52zm10-10zm0-4zm6 26zm0-8zm1-13zm8 16zm4-6zm1 8zm3-20zm3 4zm1-9zm3 26zm1 8zm0-4zm2-20zm3 21zm7-13zm2 14zm2 3zm0-20zm4 11zm5-23zm1 21zm7-20zm0 3zm2 26zm1 2zm0-31zm1 24zm2-28zm7 2zm1-3zm1 16zm3-2zm2 23zm3-15zm1-15zm1-1zm4 5zm4 25zm2-12zm2-11zm398-12zm2 26zm1-15zm1 19zm0-19zm5 19zm2-31zm2 13zm1 1zm4 10zm0-19zm2 19zm9 11zm2-3zm0-11zm1-20zm1 19zm1-6zm8 14zm2-11zm2 19zm0-8zm1-16zm2-11zm2 0zm1 23zm3-21zm1 26zm1-18zm6 26zm1-21zm4-16zm2 35zm0-22zm6-9zm9 6zm1-1zm1-1zm7-6zm5 35zm1-30zm0 27zm3 5zm1-20zm5-14zm2-3zm-1 54zm-4-14zm-11 26zm-5 6zm-4-23zm-3-4zm-4-1zm-11-2zm-8 1zm-5 3zm-4 27zm0-29zm-1 1zm-2 25zm0-16zm-1 19zm-7-11zm-1-2zm-1-12zm-2 9zm-8-11zm0 26zm-3-29zm-7 16zm0-19zm-2 13zm-1 18zm0-17zm0 12zm-3-21zm-8 7zm-1 9zm0 12zm-3-6zm-2-29zm-1 5zm-396-2zm-1 31zm-1-6zm-2-18zm-2-6zm-2 10zm-1 23zm-5-5zm-4 1zm-2-19zm-2 22zm-7-16zm-4 3zm-2-18zm-5 6zm-2 4zm-9 16zm-4-31zm-2 34zm0-31zm-1 14zm-1-12zm-3 15zm0-20zm-2 30zm-5-27zm-2 33zm-5-15zm-8-12zm-2 25zm-2-27zm-9 19zm-2-23zm-5 27zm-10-3zm0 15zm11 0zm5 11zm6 2zm13-5zm12 5zm3-8zm3 21zm12-11zm1-16zm7 21zm2 15zm2-36zm5 14zm5 9zm5 12zm2-33zm0 26zm3 5zm1-31zm7 15zm1 9zm3-16zm0-10zm0 14zm6-7zm402 9zm4 5zm1 0zm3-9zm3 1zm6 10zm3-15zm3 22zm1-29zm1 24zm11-9zm5 10zm1-19zm1 19zm0-23zm1-2zm2 26zm3-2zm7-11zm11-11zm10-2zm4 19zm2-15zm13-6zm-47 46zm-9 4zm-9-4zm-15-5zm-2 6zm-7-5zm-2 6zm-3-3zm-4 19zm-4-6zm-397-8zm-1 8zm-3 10zm-5-11zm-2-16zm-1 10zm-1 11zm-2-15zm-9 6zm-3-10zm-9 11zm-12-10z"/><path stroke-width="24" d="M10810 7106zm-16-1zm-6 5zm-21-14zm-11-7zm-2 26zm-1-21zm-1-3zm-1 23zm-5-4zm-22 2zm-637-28zm-11 34zm-6-14zm-1-1zm-14 12zm-6 3zm-20-2zm-1 3zm-32-27zm-22 43zm1-5zm85 12zm14-17zm0 3zm11 22zm643-18zm7-10zm4 20zm23 11zm14 3zm15-32zm5 2zm25 59zm-6-23zm-10 17zm-2-5zm0 21zm-20-34zm-35 4zm-15 1zm-16 29zm0-12zm-2-11zm-628 18zm-10-25zm-5 25zm-40-12zm-19-7zm-12 3zm-21 7zm-7 34zm32-13zm22 8zm16 11zm11 15zm10-13zm5 8zm10-17zm5 12zm0-12zm1-4zm0 21zm641 7zm30-31zm10 24zm14-18zm6-10zm5 5zm1 5zm13-11zm7 25zm0-27zm3 23zm4-19zm7 14zm-16 61zm-12-3zm-3 2zm0-12zm-13-26zm-16 26zm-15 7zm-23-6zm-1-6zm-2-12zm-4 30zm-4-19zm-635 15zm-8-14zm-14-1zm-16 9zm-27-16zm-1-10zm-39 35zm6 39zm12-28zm14 30zm7-14zm12-21zm8 35zm3-19zm7 8zm19-8zm13-11zm636 12zm1 7zm7 10zm3-38zm15 29zm1 6zm10-10zm5 5zm9-24zm19 16zm12 9zm18-9zm10 9zm1 17zm-13-7zm-13 26zm-21 12zm-9-17zm-5-22zm-3 4zm-2 2zm-5 0zm-20-4zm-11 22zm-2-10zm-4 6zm-633 16zm-1-27zm-1 24zm-1-27zm-4 23zm-7-21zm-23 11zm0 9zm-5-6zm-11-17zm-14 14zm0 12zm-15-2zm0-19zm-3 4zm-3 2zm-4-15zm-9 26zm-6-8zm-4 23zm1 19zm2-18zm4 0zm10 4zm3 7zm10 1zm15 13zm4 9zm2-1zm9-19zm3 5zm6-9zm4-4zm10 21zm10-26zm2 2zm7 26zm10-30zm629 37zm7-21zm14-8zm15-10zm3 27zm12 10zm0-21zm14-6zm5-9zm9 23zm2-20zm3 1zm15 23zm15 40zm-6 10zm-9-38zm0 31zm-16 6zm0-37zm-3 12zm-6-8zm0 22zm-12 9zm-1-30zm-1 9zm-8 2zm-2-8zm-4-1zm-2-3zm-2 33zm-12-29zm0-3zm-19 10zm-4-11zm-2 11zm-2 12zm-1-13zm-630-7zm-9 25zm-15-21zm-7 10zm-1-5zm-5 23zm-1-34zm-2 22zm-22-4zm0-12zm-8-11zm-6 20zm-29-2zm-2-7zm12 47zm14-1zm3 12zm3 3zm1-4zm6 5zm0-8zm5-24zm5 0zm10 16zm5 0zm2-9zm1 16zm3-11zm8 7zm4 9zm6-10zm4-19zm3 1zm12 11zm628-4zm19-5zm1 5zm7 14zm6-5zm5 2zm8-17zm1 37zm2-28zm22 27zm23-14zm2 2zm3 12zm11 35zm-8-23zm-13-5zm-17 27zm-5-12zm-10-5zm-13 24zm-4-35zm-10 31zm0-29zm-6 29zm0 2zm-23-10zm-2 5zm-640-4zm-1-19zm-16 13zm-21-4zm-7 15zm-12-24zm-7 16zm-1 12zm-17-4zm-9 18zm4-3zm12 15zm2 10zm10-1zm11-30zm11 16zm10-18zm3 19zm3 11zm10 7zm12-18zm4 19zm8-6zm5 6zm626-36zm5 15zm10 7zm5 11zm12 4zm3-21zm2 18zm10-32zm6 32zm11-32zm24 6zm2 11zm6-5zm7 44zm-3-6zm-5 9zm-4 9zm-12-30zm-16 7zm-20 9zm-1 5zm-10 16zm-16-22zm-2 17zm-2-6zm-6 8zm-3-20zm-1-4zm0 21zm-1-22zm0 20zm-1 2zm-631-6zm-17 0zm-7 9zm-6-30zm-5 31zm-14-16zm-29-4zm-5-12zm-2 14zm0 3zm-4-22zm-5 56zm6 5zm1-18zm16 20zm8-12zm1 24zm24-32zm6 3zm0-6zm26 36zm1-17zm9-9zm628 25zm2-20zm1-11zm0 8zm14-4zm3 26zm2 3zm3 2zm1-10zm1-27zm6 10zm4 18zm1-18zm5-9zm0 22zm10-18zm4 12zm7-8zm13-10zm5 26zm11 1zm3-27zm10 58zm-1 15zm0 4zm-4-29zm-2 11zm-8-12zm-8 29zm-2-19zm-15-18zm-15 18zm-4-7zm-7 4zm-9 7zm-3 0zm-7-14zm-1 28zm0-22zm-13 6zm-3-11zm-1 20zm-4-3zm-626-25zm-2 22zm-2 13zm-8-14zm-2-6zm-1 1zm-4-5zm-5-7zm-1 11zm-14 0zm-4 8zm-6-4zm-2 11zm-25-16zm-3 9zm-7 4zm-16-1zm-4-6zm-7 17zm22 27zm0-17zm10 7zm14 3zm3 6zm12-24zm19 39zm3-21zm13-18zm1 34zm0-6zm3 3zm2-10zm2-18zm2 7zm7-8zm626 26zm0-25zm1 14zm1-4zm11 1zm3 8zm4 0zm2-8zm6-2zm8 26zm16-27zm0 23zm15-18zm2 14zm3-20zm1-8zm22 4zm8 43zm-7 0zm-28-7zm-1 7zm-5 21zm-12-26zm-1 24zm-3 1zm-4-23zm-14 29zm-10-3zm-1-12zm-2-12zm-5 30zm-2-30zm-640 11zm-10-11zm-4-4zm-4 12zm-8-2zm-3-7zm-3 3zm-5-3zm-7 15zm-29-8zm-12 13zm-1 2zm-3-27zm-2 15zm89 35zm640 3z"/><path stroke-width="28" d="M10839 7076zm97 3zm7-9zm-1 49zm-11-6zm-5-28zm-57 27zm-20-22zm-890 5zm-3-10zm-8 19zm-68-13zm-9 9zm-11 20zm19 7zm10 25zm34-10zm18-9zm2-7zm17 15zm7 12zm871-17zm19 16zm32-17zm17-3zm7 27zm8-26zm9 51zm-34-12zm-5 16zm-1-22zm-2-2zm-3 14zm-17 9zm-15-8zm-5 10zm-893 1zm-63-6zm-29 4zm-1-1zm4 21zm20 16zm12 12zm13-5zm32-10zm7 5zm3-16zm941 29zm11-26zm2 9zm1-12zm4-2zm-7 35zm-7 26zm-29-18zm-20 27zm-18-24zm-866 22zm-9-36zm-12 15zm-23-1zm-10-12zm-10 28zm-21-6zm-4 12zm-3-3zm-2 3zm-6-24zm10 29zm20 26zm6-22zm11 21zm3 12zm19-1zm0-37zm9 27zm10 0zm6-5zm875 1zm13-12zm25-5zm5 25zm8-16zm30 7zm1 17zm27 20zm-2 3zm-23 0zm-25-7zm-23 21zm-2-10zm-6 5zm-6-18zm-6 12zm-4-1zm-9 14zm-3-12zm-869-11zm-11 2zm-4 11zm-57-23zm-25 8zm-11 61zm15-5zm8-9zm12-1zm29 8zm32-14zm880 16zm2 10zm11 0zm3-20zm29 13zm1-17zm7 16zm37-4zm16 20zm-28-3zm-13-3zm-26 32zm-16-29zm-11 11zm-2 7zm-2 16zm-10-26zm-2 11zm-914-1zm-6 13zm-30-24zm-2 0zm5 55zm15-19zm6 22zm4-13zm14-8zm13 30zm6-12zm7-8zm6-4zm17 14zm1-7zm861-20zm1 5zm15 29zm1-19zm10-14zm8 17zm2 1zm3-18zm1 4zm35-2zm16 17zm-7 42zm-9 7zm-25 2zm-6 3zm-12-10zm-1 14zm-8-4zm-1-17zm-19-1zm-3 16zm0 4zm-865 2zm-4-20zm-7-18zm0 11zm-13 19zm-11-8zm-16 12zm-16-22zm-22 4zm-14 2zm-4-9zm2 63zm15-1zm18-22zm7 7zm8 22zm28-33zm4 11zm1-14zm24 11zm875 21zm4-8zm1 2zm14-9zm12 15zm5-16zm0 6zm20 11zm12-32zm3 16zm1-18zm2 36zm22 35zm-10-17zm-10-15zm-22 12zm-44 2zm-19 3zm-4 7zm-861 5zm-22 5zm-1 2zm-8-19zm-1-15zm-5 6zm-9-3zm-20 24zm-40 2zm-5-28zm-1 45zm27 11zm5-16zm6 12zm27-15zm11 18zm13 17zm9-15zm13 0zm1 7zm868-9zm8 9zm4-14zm6 18zm6 4zm45-36zm6 9zm8 11zm6 16zm9 2zm2 28zm-21-8zm-3 10zm-6-17zm-9-8zm-12 8zm-5 24zm-4-11zm-2-21zm-22 36zm-18-17zm-870-18zm-6 24zm-5-7zm-9 15zm-8-7zm-9-20zm-5 26zm-43-31zm-21 14zm2 25zm5 20zm28-20zm12 27zm3-28zm3 16zm8 20zm6-31zm4 30zm12-30zm889 31zm3-9zm11 6zm20 3zm13-6zm0-15zm17 15zm13-9zm4-20zm16 10zm-58 32zm-28 9zm-5 4zm-877-18zm-2 12zm-17-11zm-7 5zm-27 8z"/><path stroke-width="32" d="M9832 7069zm21 0zm1139 8zm17-1zm19 24zm-60-3zm-1159-3zm-52 22zm35 31zm1164 3zm47 6zm3-15zm12-16zm6 1zm24 30zm-67 29zm-36-15zm-1107 25zm-1-34zm-19 5zm-61 28zm-4-18zm16 45zm24-15zm1164 17zm42-16zm11 7zm9 20zm20-33zm-32 65zm-49-3zm-1118-20zm-16 17zm-30 4zm-21 22zm36-2zm23 26zm1113-15zm2-3zm21 24zm23-3zm7-25zm10 29zm6 2zm12-7zm22-11zm5-3zm-47 44zm-12 3zm-3-21zm-6 2zm-1141 31zm-7-29zm-61-2zm-22 28zm-1-33zm-12 60zm1-1zm67 18zm29-22zm12-12zm0-3zm1115 12zm6 14zm5-14zm5 13zm5-24zm53 0zm-11 71zm-61 2zm-1144-10zm-2-12zm-34-11zm-12 23zm-16-9zm-4 19zm-8 0zm35 39zm10-12zm3-11zm15 19zm3 4zm1-14zm7-7zm15-2zm4 25zm5-3zm7-20zm1113-13zm10 33zm0 6zm32 27zm-11-1zm-12 7zm-13 2zm-1-3zm-7-14zm-1129 18zm-3-16zm-18 12zm-16-8zm-24-14zm-22 16zm-4 35zm2 17zm54-6zm4-24zm1143-1zm20 2zm19 25zm10-14zm11-15zm6 23zm-64 15zm-1108 15zm-8-11zm-28 10zm-17 20zm-9-25zm20 50zm9 11zm6-7zm29-4zm5-12zm1119-6zm8 21zm30-3zm4 5zm10-12zm4 25zm3-3zm9 40zm-20-11zm-34-23zm-9 20zm-1121 1zm-7-4zm-45 0zm-7-3zm-2-8zm-12-4zm-34 24zm24 31zm23-19zm3 7zm47 0zm1 25zm1106-17zm15 15zm20-6zm15-3zm51-16z"/><path stroke-width="36" d="M9634 7063zm1451 38zm-12 5zm-1425 53zm88-5zm1330-21zm101 14zm4-11zm-1462 54zm-16-4zm-16 4zm1403 20zm42 4zm14 8zm30 45zm-1521 52zm1486-15zm34 43zm-90-22zm-1340 25zm-4 7zm-43-7zm-10 30zm29-18zm21 20zm1346 0zm9 5zm73 4zm2 8zm-80 8zm-2 20zm-1336 5zm-16-31zm-44 29zm-45-9zm48 47zm19-8zm1 7zm0-10zm1370 11zm15 4zm82-22zm-3 53zm-55 12zm-1422-19zm12 37zm4-13zm5 19zm9-6zm1430 10zm16-3zm2-4zm-58 26zm-25 20zm-1360-12zm-70 10zm-30-5zm71 41zm20 18zm14-14zm1347-13zm6-7zm9 16zm42-14zm11 25zm11 32zm-42-13zm-49-6zm-1326 60zm1377-17z"/><path stroke-width="40" d="M11226 7145zm55 29zm-36 4zm-1640-4zm-37-11zm27 41zm1661 42zm-1679 34zm38 31zm9-11zm1629 15zm0 4zm22-12zm13 13zm-29 31zm-72-15zm-1616 4zm-53 37zm6-4zm1736 3zm-1641 32zm-90 65zm29-9zm1624 15zm66-1zm-65 8zm-1585 21zm-27-19zm-47-1zm74 40zm1649 37zm-1661 25zm-7 3zm-53 25zm7 22zm43-11zm1685 19zm-47 10zm-1668 5z"/><path stroke-width="44" d="M11310 7090zm-1891 77zm55 60zm1844-5zm6 11zm-1829 47zm1858 16zm3 9zm-15 43zm-1909 20zm1918 56zm-1893-19zm-33 41zm83 4zm-58 37zm-56 38zm91-3zm1896 23zm-38 42zm-1834 4zm-39-31zm-56 31zm56 35zm1828 3zm55 20z"/><path stroke-width="48" d="M9366 7156zm2092 30zm1 41zm58 5zm3 18zm-2144 35zm2074 60zm56 58zm-55 46zm7 21zm-16 119z"/><path stroke-width="52" d="M11563 7329zm49 133z"/></g>
<path d="M1020.5 486.7V814.3M1059.5 486.7V814.3M924.7 705.5H1174" stroke="#000" stroke-width="1.1" stroke-dasharray="4.6 2.9" fill="none"/>
<g transform="scale(.1)" stroke-linecap="round" fill="none" stroke="#4060B8"><path stroke-width="24" d="M10160 6230zm-3 113zm-4 38zm-5 104zm42 80zm4 66zm-12-13zm-8 94zm-2 7zm-9 20zm21-4zm3 22zm-16 38zm-5-12zm-14 1zm-3 42zm10-22zm7 15zm3 0zm2 6zm10 13zm4 7zm-35 72zm3 2zm24-10zm-4 48zm-15 31zm14-2zm11 12zm8 40zm-14-4z"/><path stroke-width="28" d="M10142 6387zm-79-25zm53 159zm25 42zm-3 48zm-4 28zm-11-13zm-24 39zm13 32zm-46 14zm58 35zm-43 41zm5 29zm27-7zm-22 65zm38 50zm-69 75zm28-35zm25 63zm-47-24z"/><path stroke-width="32" d="M10047 6642zm-5 75zm-35-18zm-21 24zm46 80zm10 37zm-33 25zm35 128zm10 10zm-73 36zm-12-22z"/><path stroke-width="36" d="M9866 6479zm19 85zm13 307zm-25 54z"/><path stroke-width="44" d="M9716 6986zm17 56z"/><path stroke-width="52" d="M9546 6605z"/></g>
<g transform="scale(.1)" stroke-linecap="round" fill="none" stroke="#F4766C"><path stroke-width="24" d="M10690 5603zm-33 260zm-28 567zm2-11zm18 45zm-36-6zm-4 2zm6 41zm16 17zm6 39zm-28 18zm1 5zm9-10zm25 46zm-2 19zm0-13zm-14-19zm-19 37zm2 0zm8 34zm1-28zm4 15zm8-20zm6 59zm-13-7zm-1 3zm-1 12zm-1-3zm-6 11zm-5 25zm6 18zm5-14zm6 1zm9-17zm1 2zm7-10zm-10 40zm-5 20zm-1 14zm-9 28zm1 2zm0-19zm6 2zm5 0zm3 25zm14 44zm-2-37zm-28 17zm-2 13zm-1-29zm-2 28zm-2 5zm-3 36zm3 7zm4-11zm4 13zm1-37zm9 12zm5 5zm2 1zm5 2zm10 37zm-3-12zm-5 17zm-5 1zm-11-13zm-1-6zm0-5zm-4 7zm-1 17zm-16 28zm1 14zm2-9zm2 3zm1 8zm7-22zm6 8zm9-10zm2 21zm9 9zm9 3zm-7 36zm-8-27zm-6 14zm-6-19zm11 38z"/><path stroke-width="28" d="M10783 6110zm-82 173zm-38 22zm25 19zm33 42zm-10 0zm-53 3zm27 59zm43 42zm-9-24zm-11 18zm-53-13zm48 41zm5-11zm-47 44zm3 63zm2-27zm32 63zm-14-5zm-12-15zm-12 36zm41 29zm18 7zm12-34zm2 0zm-10 51zm-45 12zm-8 10zm26 36zm4-8zm4-15zm39 30zm-4 19zm-20 0zm-20 22zm-2-27zm-34 64zm58-30zm-2 37zm-15 26zm-13-1zm-13-19zm-23 5zm7 43zm6 5zm16-11zm1 8zm10 14zm2 6zm13-39zm24 5zm-36 40zm-21 24zm-9 41zm24-28zm2 8zm1 1zm8 8zm8 9zm26 33zm-19-3zm-3-11zm-2 26zm-5-3zm-7-25zm-31 4zm-6 30zm-6-28zm36 31z"/><path stroke-width="32" d="M10970 5090zm-37 977zm-119 510zm-45 31zm0 67zm20-29zm43-1zm-81 79zm22 6zm48 88zm-41 37zm-29 41zm35 18zm-22 31zm-13 8zm39 7zm30 42zm-42 11zm-21 0zm-11 20z"/><path stroke-width="36" d="M10834 6572zm151 143zm-133 65zm118 110zm-124 75zm144 5z"/><path stroke-width="40" d="M10951 6728zm123 83zm-34 99zm39 15zm32 80zm-91-5zm-62 15z"/><path stroke-width="44" d="M11103 6593zm39 90z"/><path stroke-width="60" d="M11324 6316z"/><path stroke-width="64" d="M11455 6576zm-29 386z"/></g>
<g font-size="7.5" fill="#111">
<text x="1137" y="631.7">CPN2</text>
<text x="1151.6" y="653.5">ECSCR</text>
<text x="1107.9" y="655.9">KRT15</text>
<text x="1079" y="663.4">FMN2</text>
<text x="1119.6" y="671">SALL4</text>
<text x="1080.7" y="680.7">LHX4</text>
<text x="1112.8" y="684.3">EXD1</text>
<text x="1149.4" y="693.5">CA1</text>
<text x="1097" y="698.9">APOBEC3A</text>
<text x="1109.1" y="710.5">TMEM145</text>
<text x="961.1" y="639.4">AGBL4</text>
<text x="993.4" y="650.3">KRT80</text>
<text x="935.2" y="654.2">OR7C1</text>
<text x="961.1" y="664.2">GOLGA6A</text>
<text x="975.7" y="675.1">UPP2</text>
<text x="965" y="683.6">NBPF4</text>
<text x="941.7" y="691.6">ANKRD30BL</text>
<text x="938.1" y="698.9">RAD21L1</text>
<text x="975.2" y="703.2">LEFTY1</text>
<text x="940" y="712.7">CYP4A22</text>
</g>
<text x="1054.7" y="478" class="hb" font-size="13" text-anchor="middle">mRNA</text>
<text x="1058.3" y="844" font-size="13.2" text-anchor="middle">Log 2 FC</text>
<text transform="translate(908.8 645) rotate(-90)" font-size="13.5" text-anchor="middle">(-1) * Log 10 ( FDR )</text>
<text x="1186.3" y="714.3" class="hb" font-size="11">abs(log2FC)</text>
<rect x="1186.7" y="718.9" width="17.6" height="17.6" fill="#F4F4F4"/>
<circle cx="1194.6" cy="727.7" r="0.75" fill="#BEBEBE"/>
<text x="1207.3" y="731.5" font-size="10.5">1</text>
<rect x="1186.7" y="737.9" width="17.6" height="17.6" fill="#F4F4F4"/>
<circle cx="1194.6" cy="746.7" r="1.15" fill="#BEBEBE"/>
<text x="1207.3" y="750.5" font-size="10.5">2</text>
<rect x="1186.7" y="756.9" width="17.6" height="17.6" fill="#F4F4F4"/>
<circle cx="1194.6" cy="765.7" r="1.65" fill="#BEBEBE"/>
<text x="1207.3" y="769.5" font-size="10.5">3</text>
<rect x="1186.7" y="775.9" width="17.6" height="17.6" fill="#F4F4F4"/>
<circle cx="1194.6" cy="784.7" r="2.15" fill="#BEBEBE"/>
<text x="1207.3" y="788.5" font-size="10.5">4</text>
<rect x="1186.7" y="794.9" width="17.6" height="17.6" fill="#F4F4F4"/>
<circle cx="1194.6" cy="803.7" r="2.65" fill="#BEBEBE"/>
<text x="1207.3" y="807.5" font-size="10.5">5</text>
<text x="185.7" y="964.9" class="hb" font-size="15.7" text-anchor="middle">lncRNA</text>
<g stroke="#fff" stroke-width="0.9">
<path fill="#807EBC" d="M30.0 1064.5h29.57v11.48h-29.57zM118.7 1064.5h29.57v11.48h-29.57zM148.3 1064.5h29.57v11.48h-29.57zM177.8 1087.5h29.57v11.48h-29.57zM266.6 1087.5h29.57v11.48h-29.57z"/>
<path fill="#8C8AC4" d="M30.0 1007.1h29.57v11.48h-29.57zM89.1 1007.1h29.57v11.48h-29.57zM148.3 1018.6h29.57v11.48h-29.57zM30.0 1053.1h29.57v11.48h-29.57zM59.6 1053.1h29.57v11.48h-29.57zM89.1 1053.1h29.57v11.48h-29.57zM148.3 1053.1h29.57v11.48h-29.57zM30.0 1076.0h29.57v11.48h-29.57zM89.1 1076.0h29.57v11.48h-29.57zM148.3 1076.0h29.57v11.48h-29.57zM207.4 1087.5h29.57v11.48h-29.57z"/>
<path fill="#9C9ACC" d="M30.0 984.2h29.57v11.48h-29.57zM59.6 984.2h29.57v11.48h-29.57zM89.1 984.2h29.57v11.48h-29.57zM118.7 984.2h29.57v11.48h-29.57zM30.0 995.7h29.57v11.48h-29.57zM59.6 995.7h29.57v11.48h-29.57zM89.1 995.7h29.57v11.48h-29.57zM118.7 995.7h29.57v11.48h-29.57zM59.6 1007.1h29.57v11.48h-29.57zM30.0 1018.6h29.57v11.48h-29.57zM59.6 1018.6h29.57v11.48h-29.57zM30.0 1030.1h29.57v11.48h-29.57zM59.6 1030.1h29.57v11.48h-29.57zM89.1 1030.1h29.57v11.48h-29.57zM148.3 1030.1h29.57v11.48h-29.57zM30.0 1041.6h29.57v11.48h-29.57zM89.1 1041.6h29.57v11.48h-29.57zM118.7 1041.6h29.57v11.48h-29.57zM148.3 1041.6h29.57v11.48h-29.57zM118.7 1076.0h29.57v11.48h-29.57zM237.0 1087.5h29.57v11.48h-29.57zM207.4 1099.0h29.57v11.48h-29.57zM237.0 1099.0h29.57v11.48h-29.57zM266.6 1099.0h29.57v11.48h-29.57zM207.4 1110.5h29.57v11.48h-29.57zM177.8 1121.9h29.57v11.48h-29.57zM207.4 1121.9h29.57v11.48h-29.57zM237.0 1121.9h29.57v11.48h-29.57zM177.8 1133.4h29.57v11.48h-29.57zM207.4 1133.4h29.57v11.48h-29.57zM237.0 1133.4h29.57v11.48h-29.57zM296.1 1133.4h29.57v11.48h-29.57zM207.4 1144.9h29.57v11.48h-29.57zM207.4 1156.4h29.57v11.48h-29.57zM177.8 1179.3h29.57v11.48h-29.57zM207.4 1179.3h29.57v11.48h-29.57zM237.0 1179.3h29.57v11.48h-29.57zM296.1 1179.3h29.57v11.48h-29.57zM177.8 1190.8h29.57v11.48h-29.57zM207.4 1190.8h29.57v11.48h-29.57zM237.0 1190.8h29.57v11.48h-29.57z"/>
<path fill="#AEACD6" d="M30.0 972.7h29.57v11.48h-29.57zM59.6 972.7h29.57v11.48h-29.57zM89.1 972.7h29.57v11.48h-29.57zM118.7 972.7h29.57v11.48h-29.57zM148.3 972.7h29.57v11.48h-29.57zM118.7 1007.1h29.57v11.48h-29.57zM148.3 1007.1h29.57v11.48h-29.57zM118.7 1018.6h29.57v11.48h-29.57zM59.6 1064.5h29.57v11.48h-29.57zM177.8 1110.5h29.57v11.48h-29.57zM237.0 1110.5h29.57v11.48h-29.57zM266.6 1110.5h29.57v11.48h-29.57zM296.1 1110.5h29.57v11.48h-29.57zM266.6 1121.9h29.57v11.48h-29.57zM177.8 1144.9h29.57v11.48h-29.57zM237.0 1144.9h29.57v11.48h-29.57zM266.6 1144.9h29.57v11.48h-29.57zM296.1 1144.9h29.57v11.48h-29.57zM237.0 1156.4h29.57v11.48h-29.57zM266.6 1156.4h29.57v11.48h-29.57zM296.1 1156.4h29.57v11.48h-29.57zM177.8 1167.9h29.57v11.48h-29.57zM207.4 1167.9h29.57v11.48h-29.57zM237.0 1167.9h29.57v11.48h-29.57zM266.6 1167.9h29.57v11.48h-29.57zM266.6 1190.8h29.57v11.48h-29.57zM296.1 1190.8h29.57v11.48h-29.57z"/>
<path fill="#C8C6E2" d="M148.3 984.2h29.57v11.48h-29.57zM148.3 995.7h29.57v11.48h-29.57zM89.1 1018.6h29.57v11.48h-29.57zM177.8 1099.0h29.57v11.48h-29.57zM296.1 1099.0h29.57v11.48h-29.57zM296.1 1121.9h29.57v11.48h-29.57zM266.6 1133.4h29.57v11.48h-29.57zM177.8 1156.4h29.57v11.48h-29.57zM296.1 1167.9h29.57v11.48h-29.57zM266.6 1179.3h29.57v11.48h-29.57z"/>
<path fill="#E4E4F0" d="M118.7 1030.1h29.57v11.48h-29.57zM207.4 1064.5h29.57v11.48h-29.57zM296.1 1087.5h29.57v11.48h-29.57zM118.7 1144.9h29.57v11.48h-29.57zM148.3 1190.8h29.57v11.48h-29.57z"/>
<path fill="#ED1C24" d="M266.6 1030.1h29.57v11.48h-29.57zM207.4 1076.0h29.57v11.48h-29.57zM30.0 1099.0h29.57v11.48h-29.57zM89.1 1099.0h29.57v11.48h-29.57zM30.0 1121.9h29.57v11.48h-29.57zM30.0 1144.9h29.57v11.48h-29.57zM59.6 1144.9h29.57v11.48h-29.57zM30.0 1156.4h29.57v11.48h-29.57zM118.7 1167.9h29.57v11.48h-29.57zM30.0 1179.3h29.57v11.48h-29.57zM89.1 1190.8h29.57v11.48h-29.57z"/>
<path fill="#EF353C" d="M207.4 972.7h29.57v11.48h-29.57zM207.4 984.2h29.57v11.48h-29.57zM237.0 995.7h29.57v11.48h-29.57zM177.8 1030.1h29.57v11.48h-29.57zM177.8 1041.6h29.57v11.48h-29.57zM177.8 1064.5h29.57v11.48h-29.57zM89.1 1110.5h29.57v11.48h-29.57zM89.1 1121.9h29.57v11.48h-29.57zM89.1 1133.4h29.57v11.48h-29.57z"/>
<path fill="#F14E55" d="M177.8 972.7h29.57v11.48h-29.57zM177.8 1007.1h29.57v11.48h-29.57zM237.0 1007.1h29.57v11.48h-29.57zM207.4 1018.6h29.57v11.48h-29.57zM266.6 1018.6h29.57v11.48h-29.57zM207.4 1041.6h29.57v11.48h-29.57zM177.8 1053.1h29.57v11.48h-29.57zM207.4 1053.1h29.57v11.48h-29.57zM148.3 1087.5h29.57v11.48h-29.57zM59.6 1133.4h29.57v11.48h-29.57zM148.3 1144.9h29.57v11.48h-29.57zM148.3 1156.4h29.57v11.48h-29.57zM89.1 1179.3h29.57v11.48h-29.57zM148.3 1179.3h29.57v11.48h-29.57z"/>
<path fill="#F3686D" d="M266.6 972.7h29.57v11.48h-29.57zM296.1 972.7h29.57v11.48h-29.57zM266.6 984.2h29.57v11.48h-29.57zM266.6 995.7h29.57v11.48h-29.57zM266.6 1007.1h29.57v11.48h-29.57zM177.8 1018.6h29.57v11.48h-29.57zM237.0 1030.1h29.57v11.48h-29.57zM30.0 1087.5h29.57v11.48h-29.57zM89.1 1087.5h29.57v11.48h-29.57zM59.6 1099.0h29.57v11.48h-29.57zM30.0 1110.5h29.57v11.48h-29.57zM148.3 1121.9h29.57v11.48h-29.57zM30.0 1133.4h29.57v11.48h-29.57zM30.0 1167.9h29.57v11.48h-29.57zM148.3 1167.9h29.57v11.48h-29.57zM59.6 1179.3h29.57v11.48h-29.57z"/>
<path fill="#F58185" d="M177.8 984.2h29.57v11.48h-29.57zM296.1 995.7h29.57v11.48h-29.57zM237.0 1053.1h29.57v11.48h-29.57zM296.1 1064.5h29.57v11.48h-29.57zM237.0 1076.0h29.57v11.48h-29.57zM296.1 1076.0h29.57v11.48h-29.57zM59.6 1110.5h29.57v11.48h-29.57zM89.1 1156.4h29.57v11.48h-29.57zM30.0 1190.8h29.57v11.48h-29.57z"/>
<path fill="#F79A9E" d="M237.0 984.2h29.57v11.48h-29.57zM207.4 995.7h29.57v11.48h-29.57zM207.4 1007.1h29.57v11.48h-29.57zM266.6 1064.5h29.57v11.48h-29.57zM266.6 1076.0h29.57v11.48h-29.57zM59.6 1087.5h29.57v11.48h-29.57zM118.7 1087.5h29.57v11.48h-29.57zM118.7 1099.0h29.57v11.48h-29.57zM59.6 1121.9h29.57v11.48h-29.57zM148.3 1133.4h29.57v11.48h-29.57zM59.6 1167.9h29.57v11.48h-29.57z"/>
<path fill="#F9B3B6" d="M296.1 984.2h29.57v11.48h-29.57zM296.1 1007.1h29.57v11.48h-29.57zM296.1 1018.6h29.57v11.48h-29.57zM207.4 1030.1h29.57v11.48h-29.57zM296.1 1030.1h29.57v11.48h-29.57zM237.0 1041.6h29.57v11.48h-29.57zM266.6 1041.6h29.57v11.48h-29.57zM266.6 1053.1h29.57v11.48h-29.57zM296.1 1053.1h29.57v11.48h-29.57zM237.0 1064.5h29.57v11.48h-29.57zM118.7 1110.5h29.57v11.48h-29.57zM118.7 1121.9h29.57v11.48h-29.57zM118.7 1133.4h29.57v11.48h-29.57zM89.1 1144.9h29.57v11.48h-29.57zM59.6 1156.4h29.57v11.48h-29.57zM118.7 1156.4h29.57v11.48h-29.57z"/>
<path fill="#FBCDCE" d="M177.8 995.7h29.57v11.48h-29.57zM118.7 1179.3h29.57v11.48h-29.57zM59.6 1190.8h29.57v11.48h-29.57zM118.7 1190.8h29.57v11.48h-29.57z"/>
<path fill="#FDE6E7" d="M237.0 972.7h29.57v11.48h-29.57zM296.1 1041.6h29.57v11.48h-29.57zM59.6 1076.0h29.57v11.48h-29.57zM148.3 1110.5h29.57v11.48h-29.57z"/>
<path fill="#FFFFFF" d="M237.0 1018.6h29.57v11.48h-29.57zM59.6 1041.6h29.57v11.48h-29.57zM118.7 1053.1h29.57v11.48h-29.57zM89.1 1064.5h29.57v11.48h-29.57zM177.8 1076.0h29.57v11.48h-29.57zM148.3 1099.0h29.57v11.48h-29.57zM89.1 1167.9h29.57v11.48h-29.57z"/>
</g>
<g font-size="8.7">
<text x="327.8" y="981.5">MSTRG.2368.15</text>
<text x="327.8" y="993.0">ZBED3-AS1</text>
<text x="327.8" y="1004.5">SRD5A3-AS1</text>
<text x="327.8" y="1016.0">OVCH1-AS1</text>
<text x="327.8" y="1027.5">CASC15</text>
<text x="327.8" y="1038.9">LOXL1-AS1</text>
<text x="327.8" y="1050.4">TRIM52-AS1</text>
<text x="327.8" y="1061.9">TTN-AS1</text>
<text x="327.8" y="1073.4">LINC00159</text>
<text x="327.8" y="1084.9">CYP1B1-AS1</text>
<text x="327.8" y="1096.3">C6orf123</text>
<text x="327.8" y="1107.8">LINC00954</text>
<text x="327.8" y="1119.3">MSTRG.29858.20</text>
<text x="327.8" y="1130.8">LINC00582</text>
<text x="327.8" y="1142.3">MIR503HG</text>
<text x="327.8" y="1153.7">DISP1</text>
<text x="327.8" y="1165.2">LINC01018</text>
<text x="327.8" y="1176.7">HCFC1-AS1</text>
<text x="327.8" y="1188.2">LINC00478</text>
<text x="327.8" y="1199.7">GDNF-AS1</text>
</g>
<g font-size="10.7">
<text transform="translate(41.0 1207) rotate(90)">S1_1</text>
<text transform="translate(70.6 1207) rotate(90)">S1_2</text>
<text transform="translate(100.1 1207) rotate(90)">S1_5</text>
<text transform="translate(129.7 1207) rotate(90)">U2_4</text>
<text transform="translate(159.3 1207) rotate(90)">U2_5</text>
<text transform="translate(188.8 1207) rotate(90)">S1_3</text>
<text transform="translate(218.4 1207) rotate(90)">S1_4</text>
<text transform="translate(248.0 1207) rotate(90)">U2_1</text>
<text transform="translate(277.5 1207) rotate(90)">U2_2</text>
<text transform="translate(307.1 1207) rotate(90)">U2_3</text>
</g>
<path d="M39.3 1236.7H176" stroke="#444" stroke-width="1.4"/>
<path d="M182.7 1236.7H326" stroke="#444" stroke-width="1.4"/>
<text x="105.7" y="1257.2" font-size="15.4" text-anchor="middle">DM</text>
<text x="252.7" y="1257.2" font-size="15.4" text-anchor="middle">Non-DM</text>
<rect x="404.3" y="972.7" width="13" height="195.6" fill="url(#cb)"/>
<g font-size="10.3">
<text x="422.7" y="984.4">2</text>
<text x="422.7" y="1029.7">1</text>
<text x="422.7" y="1074.7">0</text>
<text x="422.7" y="1119.7">−1</text>
<text x="422.7" y="1164.7">−2</text>
</g>
<text x="648.3" y="964.9" class="hb" font-size="15.7" text-anchor="middle">circRNA</text>
<g stroke="#fff" stroke-width="0.9">
<path fill="#8C8AC4" d="M659.3 1132.2h29.60v11.42h-29.60zM688.9 1132.2h29.60v11.42h-29.60zM718.5 1132.2h29.60v11.42h-29.60zM748.1 1132.2h29.60v11.42h-29.60zM659.3 1143.6h29.60v11.42h-29.60zM688.9 1143.6h29.60v11.42h-29.60zM718.5 1143.6h29.60v11.42h-29.60zM748.1 1143.6h29.60v11.42h-29.60z"/>
<path fill="#9C9ACC" d="M511.3 972.3h29.60v11.42h-29.60zM540.9 972.3h29.60v11.42h-29.60zM570.5 972.3h29.60v11.42h-29.60zM600.1 972.3h29.60v11.42h-29.60zM481.7 983.7h29.60v11.42h-29.60zM511.3 983.7h29.60v11.42h-29.60zM570.5 983.7h29.60v11.42h-29.60zM600.1 983.7h29.60v11.42h-29.60zM481.7 995.1h29.60v11.42h-29.60zM511.3 995.1h29.60v11.42h-29.60zM570.5 995.1h29.60v11.42h-29.60zM600.1 995.1h29.60v11.42h-29.60zM481.7 1006.6h29.60v11.42h-29.60zM511.3 1006.6h29.60v11.42h-29.60zM540.9 1006.6h29.60v11.42h-29.60zM570.5 1006.6h29.60v11.42h-29.60zM600.1 1006.6h29.60v11.42h-29.60zM481.7 1018.0h29.60v11.42h-29.60zM511.3 1018.0h29.60v11.42h-29.60zM540.9 1018.0h29.60v11.42h-29.60zM570.5 1018.0h29.60v11.42h-29.60zM600.1 1018.0h29.60v11.42h-29.60zM511.3 1029.4h29.60v11.42h-29.60zM540.9 1029.4h29.60v11.42h-29.60zM570.5 1029.4h29.60v11.42h-29.60zM600.1 1029.4h29.60v11.42h-29.60zM481.7 1040.8h29.60v11.42h-29.60zM511.3 1040.8h29.60v11.42h-29.60zM540.9 1040.8h29.60v11.42h-29.60zM600.1 1040.8h29.60v11.42h-29.60zM481.7 1052.2h29.60v11.42h-29.60zM511.3 1052.2h29.60v11.42h-29.60zM570.5 1052.2h29.60v11.42h-29.60zM600.1 1052.2h29.60v11.42h-29.60zM481.7 1063.7h29.60v11.42h-29.60zM511.3 1063.7h29.60v11.42h-29.60zM540.9 1063.7h29.60v11.42h-29.60zM570.5 1063.7h29.60v11.42h-29.60zM600.1 1063.7h29.60v11.42h-29.60zM481.7 1075.1h29.60v11.42h-29.60zM511.3 1075.1h29.60v11.42h-29.60zM570.5 1075.1h29.60v11.42h-29.60zM600.1 1075.1h29.60v11.42h-29.60zM748.1 1075.1h29.60v11.42h-29.60zM629.7 1086.5h29.60v11.42h-29.60zM659.3 1086.5h29.60v11.42h-29.60zM688.9 1086.5h29.60v11.42h-29.60zM718.5 1086.5h29.60v11.42h-29.60zM748.1 1086.5h29.60v11.42h-29.60zM629.7 1120.8h29.60v11.42h-29.60zM659.3 1120.8h29.60v11.42h-29.60zM688.9 1120.8h29.60v11.42h-29.60zM748.1 1120.8h29.60v11.42h-29.60zM659.3 1155.0h29.60v11.42h-29.60z"/>
<path fill="#AEACD6" d="M629.7 1097.9h29.60v11.42h-29.60zM659.3 1097.9h29.60v11.42h-29.60zM688.9 1097.9h29.60v11.42h-29.60zM718.5 1097.9h29.60v11.42h-29.60zM748.1 1097.9h29.60v11.42h-29.60zM629.7 1109.3h29.60v11.42h-29.60zM659.3 1109.3h29.60v11.42h-29.60zM688.9 1109.3h29.60v11.42h-29.60zM718.5 1109.3h29.60v11.42h-29.60zM748.1 1109.3h29.60v11.42h-29.60zM688.9 1155.0h29.60v11.42h-29.60zM718.5 1155.0h29.60v11.42h-29.60zM748.1 1155.0h29.60v11.42h-29.60zM629.7 1166.4h29.60v11.42h-29.60zM688.9 1166.4h29.60v11.42h-29.60zM718.5 1166.4h29.60v11.42h-29.60zM748.1 1166.4h29.60v11.42h-29.60zM659.3 1177.9h29.60v11.42h-29.60zM688.9 1177.9h29.60v11.42h-29.60zM718.5 1177.9h29.60v11.42h-29.60zM748.1 1177.9h29.60v11.42h-29.60zM659.3 1189.3h29.60v11.42h-29.60zM688.9 1189.3h29.60v11.42h-29.60zM718.5 1189.3h29.60v11.42h-29.60zM748.1 1189.3h29.60v11.42h-29.60z"/>
<path fill="#C8C6E2" d="M481.7 972.3h29.60v11.42h-29.60zM540.9 983.7h29.60v11.42h-29.60zM540.9 995.1h29.60v11.42h-29.60zM481.7 1029.4h29.60v11.42h-29.60zM540.9 1052.2h29.60v11.42h-29.60zM629.7 1132.2h29.60v11.42h-29.60zM629.7 1143.6h29.60v11.42h-29.60zM629.7 1155.0h29.60v11.42h-29.60zM659.3 1166.4h29.60v11.42h-29.60zM629.7 1177.9h29.60v11.42h-29.60zM629.7 1189.3h29.60v11.42h-29.60z"/>
<path fill="#E4E4F0" d="M629.7 983.7h29.60v11.42h-29.60zM570.5 1040.8h29.60v11.42h-29.60zM540.9 1075.1h29.60v11.42h-29.60zM718.5 1120.8h29.60v11.42h-29.60zM570.5 1132.2h29.60v11.42h-29.60z"/>
<path fill="#ED1C24" d="M718.5 1006.6h29.60v11.42h-29.60zM659.3 1018.0h29.60v11.42h-29.60zM659.3 1029.4h29.60v11.42h-29.60zM659.3 1040.8h29.60v11.42h-29.60zM629.7 1052.2h29.60v11.42h-29.60zM718.5 1063.7h29.60v11.42h-29.60zM688.9 1075.1h29.60v11.42h-29.60zM481.7 1097.9h29.60v11.42h-29.60zM540.9 1097.9h29.60v11.42h-29.60zM570.5 1109.3h29.60v11.42h-29.60zM481.7 1120.8h29.60v11.42h-29.60zM481.7 1155.0h29.60v11.42h-29.60zM511.3 1155.0h29.60v11.42h-29.60zM481.7 1166.4h29.60v11.42h-29.60zM511.3 1166.4h29.60v11.42h-29.60zM481.7 1177.9h29.60v11.42h-29.60zM511.3 1177.9h29.60v11.42h-29.60z"/>
<path fill="#EF353C" d="M748.1 983.7h29.60v11.42h-29.60zM659.3 995.1h29.60v11.42h-29.60zM748.1 995.1h29.60v11.42h-29.60zM748.1 1029.4h29.60v11.42h-29.60zM481.7 1086.5h29.60v11.42h-29.60zM600.1 1086.5h29.60v11.42h-29.60zM481.7 1109.3h29.60v11.42h-29.60zM511.3 1120.8h29.60v11.42h-29.60zM511.3 1143.6h29.60v11.42h-29.60z"/>
<path fill="#F14E55" d="M688.9 972.3h29.60v11.42h-29.60zM659.3 983.7h29.60v11.42h-29.60zM718.5 995.1h29.60v11.42h-29.60zM540.9 1132.2h29.60v11.42h-29.60zM481.7 1189.3h29.60v11.42h-29.60z"/>
<path fill="#F3686D" d="M659.3 972.3h29.60v11.42h-29.60zM718.5 1029.4h29.60v11.42h-29.60zM718.5 1040.8h29.60v11.42h-29.60zM659.3 1075.1h29.60v11.42h-29.60zM511.3 1086.5h29.60v11.42h-29.60zM570.5 1086.5h29.60v11.42h-29.60zM511.3 1097.9h29.60v11.42h-29.60zM600.1 1120.8h29.60v11.42h-29.60zM570.5 1177.9h29.60v11.42h-29.60z"/>
<path fill="#F58185" d="M688.9 1029.4h29.60v11.42h-29.60zM688.9 1040.8h29.60v11.42h-29.60zM748.1 1063.7h29.60v11.42h-29.60zM481.7 1132.2h29.60v11.42h-29.60zM600.1 1132.2h29.60v11.42h-29.60zM481.7 1143.6h29.60v11.42h-29.60zM570.5 1143.6h29.60v11.42h-29.60zM570.5 1155.0h29.60v11.42h-29.60zM570.5 1166.4h29.60v11.42h-29.60zM511.3 1189.3h29.60v11.42h-29.60zM570.5 1189.3h29.60v11.42h-29.60z"/>
<path fill="#F79A9E" d="M629.7 972.3h29.60v11.42h-29.60zM659.3 1006.6h29.60v11.42h-29.60zM748.1 1006.6h29.60v11.42h-29.60zM688.9 1018.0h29.60v11.42h-29.60zM718.5 1018.0h29.60v11.42h-29.60zM748.1 1018.0h29.60v11.42h-29.60zM688.9 1052.2h29.60v11.42h-29.60zM659.3 1063.7h29.60v11.42h-29.60zM600.1 1097.9h29.60v11.42h-29.60zM540.9 1120.8h29.60v11.42h-29.60z"/>
<path fill="#F9B3B6" d="M688.9 983.7h29.60v11.42h-29.60zM688.9 995.1h29.60v11.42h-29.60zM688.9 1006.6h29.60v11.42h-29.60zM629.7 1029.4h29.60v11.42h-29.60zM629.7 1040.8h29.60v11.42h-29.60zM629.7 1075.1h29.60v11.42h-29.60zM511.3 1109.3h29.60v11.42h-29.60zM511.3 1132.2h29.60v11.42h-29.60zM540.9 1143.6h29.60v11.42h-29.60zM600.1 1155.0h29.60v11.42h-29.60zM600.1 1166.4h29.60v11.42h-29.60zM600.1 1177.9h29.60v11.42h-29.60zM540.9 1189.3h29.60v11.42h-29.60zM600.1 1189.3h29.60v11.42h-29.60z"/>
<path fill="#FBCDCE" d="M718.5 972.3h29.60v11.42h-29.60zM748.1 972.3h29.60v11.42h-29.60zM718.5 983.7h29.60v11.42h-29.60zM629.7 995.1h29.60v11.42h-29.60zM629.7 1006.6h29.60v11.42h-29.60zM629.7 1018.0h29.60v11.42h-29.60zM748.1 1040.8h29.60v11.42h-29.60zM748.1 1052.2h29.60v11.42h-29.60zM629.7 1063.7h29.60v11.42h-29.60zM570.5 1120.8h29.60v11.42h-29.60zM540.9 1155.0h29.60v11.42h-29.60zM540.9 1177.9h29.60v11.42h-29.60z"/>
<path fill="#FDE6E7" d="M659.3 1052.2h29.60v11.42h-29.60zM718.5 1075.1h29.60v11.42h-29.60zM540.9 1086.5h29.60v11.42h-29.60z"/>
<path fill="#FFFFFF" d="M718.5 1052.2h29.60v11.42h-29.60zM688.9 1063.7h29.60v11.42h-29.60zM570.5 1097.9h29.60v11.42h-29.60zM540.9 1109.3h29.60v11.42h-29.60zM600.1 1109.3h29.60v11.42h-29.60zM600.1 1143.6h29.60v11.42h-29.60zM540.9 1166.4h29.60v11.42h-29.60z"/>
</g>
<g font-size="8.7">
<text x="780" y="981.1">hsacirc_019018</text>
<text x="780" y="992.5">hsacirc_010569</text>
<text x="780" y="1003.9">hsacirc_015263</text>
<text x="780" y="1015.4">hsacirc_038862</text>
<text x="780" y="1026.8">hsacirc_002722</text>
<text x="780" y="1038.2">hsacirc_015360</text>
<text x="780" y="1049.6">hsacirc_017974</text>
<text x="780" y="1061.0">hsacirc_041965</text>
<text x="780" y="1072.5">hsacirc_027065</text>
<text x="780" y="1083.9">hsacirc_037426</text>
<text x="780" y="1095.3">hsacirc_015599</text>
<text x="780" y="1106.7">hsacirc_027726</text>
<text x="780" y="1118.1">hsacirc_040799</text>
<text x="780" y="1129.6">hsacirc_028540</text>
<text x="780" y="1141.0">hsacirc_035769</text>
<text x="780" y="1152.4">hsacirc_002670</text>
<text x="780" y="1163.8">hsacirc_024158</text>
<text x="780" y="1175.2">hsacirc_013774</text>
<text x="780" y="1186.7">hsacirc_043681</text>
<text x="780" y="1198.1">hsacirc_044092</text>
</g>
<g font-size="10.7">
<text transform="translate(492.7 1205.5) rotate(90)">S1_1</text>
<text transform="translate(522.3 1205.5) rotate(90)">S1_2</text>
<text transform="translate(551.9 1205.5) rotate(90)">S1_5</text>
<text transform="translate(581.5 1205.5) rotate(90)">U2_4</text>
<text transform="translate(611.1 1205.5) rotate(90)">U2_5</text>
<text transform="translate(640.7 1205.5) rotate(90)">S1_3</text>
<text transform="translate(670.3 1205.5) rotate(90)">S1_4</text>
<text transform="translate(699.9 1205.5) rotate(90)">U2_1</text>
<text transform="translate(729.5 1205.5) rotate(90)">U2_2</text>
<text transform="translate(759.1 1205.5) rotate(90)">U2_3</text>
</g>
<path d="M489.3 1236H626" stroke="#444" stroke-width="1.4"/>
<path d="M632.3 1236H776.7" stroke="#444" stroke-width="1.4"/>
<text x="561" y="1256.2" font-size="15.4" text-anchor="middle">DM</text>
<text x="708.3" y="1256.2" font-size="15.4" text-anchor="middle">Non-DM</text>
<rect x="847.3" y="975" width="13.4" height="195" fill="url(#cb)"/>
<g font-size="10.3">
<text x="865.7" y="986.4">2</text>
<text x="865.7" y="1031.4">1</text>
<text x="865.7" y="1076.4">0</text>
<text x="865.7" y="1121.4">−1</text>
<text x="865.7" y="1167">−2</text>
</g>
<text x="1075" y="963.3" class="hb" font-size="15.7" text-anchor="middle">mRNA</text>
<g stroke="#fff" stroke-width="0.9">
<path fill="#8C8AC4" d="M1167.6 1084.5h29.54v11.45h-29.54z"/>
<path fill="#9C9ACC" d="M1079.0 1084.5h29.54v11.45h-29.54zM1138.1 1084.5h29.54v11.45h-29.54zM1079.0 1096.0h29.54v11.45h-29.54zM1197.2 1096.0h29.54v11.45h-29.54zM1079.0 1107.4h29.54v11.45h-29.54zM1197.2 1107.4h29.54v11.45h-29.54zM1079.0 1164.7h29.54v11.45h-29.54z"/>
<path fill="#AEACD6" d="M931.3 970.0h29.54v11.45h-29.54zM960.8 970.0h29.54v11.45h-29.54zM990.4 970.0h29.54v11.45h-29.54zM1019.9 970.0h29.54v11.45h-29.54zM931.3 981.5h29.54v11.45h-29.54zM960.8 981.5h29.54v11.45h-29.54zM990.4 981.5h29.54v11.45h-29.54zM1049.5 981.5h29.54v11.45h-29.54zM931.3 992.9h29.54v11.45h-29.54zM990.4 992.9h29.54v11.45h-29.54zM1019.9 992.9h29.54v11.45h-29.54zM1049.5 992.9h29.54v11.45h-29.54zM931.3 1004.4h29.54v11.45h-29.54zM990.4 1004.4h29.54v11.45h-29.54zM1019.9 1004.4h29.54v11.45h-29.54zM1049.5 1004.4h29.54v11.45h-29.54zM960.8 1015.8h29.54v11.45h-29.54zM990.4 1015.8h29.54v11.45h-29.54zM1019.9 1015.8h29.54v11.45h-29.54zM1049.5 1015.8h29.54v11.45h-29.54zM931.3 1027.2h29.54v11.45h-29.54zM960.8 1027.2h29.54v11.45h-29.54zM990.4 1027.2h29.54v11.45h-29.54zM1049.5 1027.2h29.54v11.45h-29.54zM931.3 1038.7h29.54v11.45h-29.54zM960.8 1038.7h29.54v11.45h-29.54zM990.4 1038.7h29.54v11.45h-29.54zM931.3 1050.2h29.54v11.45h-29.54zM960.8 1050.2h29.54v11.45h-29.54zM990.4 1050.2h29.54v11.45h-29.54zM1049.5 1050.2h29.54v11.45h-29.54zM931.3 1061.6h29.54v11.45h-29.54zM960.8 1061.6h29.54v11.45h-29.54zM990.4 1061.6h29.54v11.45h-29.54zM1019.9 1061.6h29.54v11.45h-29.54zM931.3 1073.0h29.54v11.45h-29.54zM960.8 1073.0h29.54v11.45h-29.54zM1019.9 1073.0h29.54v11.45h-29.54zM1138.1 1096.0h29.54v11.45h-29.54zM1079.0 1118.8h29.54v11.45h-29.54zM1108.5 1118.8h29.54v11.45h-29.54zM1138.1 1118.8h29.54v11.45h-29.54zM1167.6 1118.8h29.54v11.45h-29.54zM1108.5 1130.3h29.54v11.45h-29.54zM1079.0 1141.8h29.54v11.45h-29.54zM1167.6 1141.8h29.54v11.45h-29.54zM1079.0 1153.2h29.54v11.45h-29.54zM1108.5 1153.2h29.54v11.45h-29.54zM1138.1 1153.2h29.54v11.45h-29.54zM1197.2 1153.2h29.54v11.45h-29.54zM1108.5 1164.7h29.54v11.45h-29.54zM1138.1 1164.7h29.54v11.45h-29.54zM1167.6 1164.7h29.54v11.45h-29.54zM1197.2 1164.7h29.54v11.45h-29.54zM1108.5 1176.1h29.54v11.45h-29.54zM1138.1 1176.1h29.54v11.45h-29.54zM1167.6 1176.1h29.54v11.45h-29.54zM1108.5 1187.5h29.54v11.45h-29.54zM1138.1 1187.5h29.54v11.45h-29.54zM1197.2 1187.5h29.54v11.45h-29.54z"/>
<path fill="#C8C6E2" d="M1049.5 970.0h29.54v11.45h-29.54zM1019.9 981.5h29.54v11.45h-29.54zM931.3 1015.8h29.54v11.45h-29.54zM1019.9 1038.7h29.54v11.45h-29.54zM1049.5 1038.7h29.54v11.45h-29.54zM1049.5 1073.0h29.54v11.45h-29.54zM1138.1 1107.4h29.54v11.45h-29.54zM1167.6 1107.4h29.54v11.45h-29.54zM1197.2 1118.8h29.54v11.45h-29.54zM1079.0 1130.3h29.54v11.45h-29.54zM1138.1 1130.3h29.54v11.45h-29.54zM1167.6 1130.3h29.54v11.45h-29.54zM1197.2 1130.3h29.54v11.45h-29.54zM1108.5 1141.8h29.54v11.45h-29.54zM1138.1 1141.8h29.54v11.45h-29.54zM1197.2 1141.8h29.54v11.45h-29.54zM1079.0 1176.1h29.54v11.45h-29.54zM1197.2 1176.1h29.54v11.45h-29.54zM1079.0 1187.5h29.54v11.45h-29.54zM1167.6 1187.5h29.54v11.45h-29.54z"/>
<path fill="#E4E4F0" d="M960.8 992.9h29.54v11.45h-29.54zM960.8 1004.4h29.54v11.45h-29.54zM1108.5 1004.4h29.54v11.45h-29.54zM1138.1 1073.0h29.54v11.45h-29.54zM1108.5 1084.5h29.54v11.45h-29.54zM1197.2 1084.5h29.54v11.45h-29.54zM1108.5 1096.0h29.54v11.45h-29.54zM1167.6 1096.0h29.54v11.45h-29.54zM1108.5 1107.4h29.54v11.45h-29.54z"/>
<path fill="#ED1C24" d="M1167.6 1015.8h29.54v11.45h-29.54zM931.3 1084.5h29.54v11.45h-29.54zM931.3 1107.4h29.54v11.45h-29.54zM931.3 1130.3h29.54v11.45h-29.54zM1019.9 1153.2h29.54v11.45h-29.54z"/>
<path fill="#EF353C" d="M1108.5 970.0h29.54v11.45h-29.54zM1138.1 992.9h29.54v11.45h-29.54zM1108.5 1038.7h29.54v11.45h-29.54zM1049.5 1141.8h29.54v11.45h-29.54zM960.8 1153.2h29.54v11.45h-29.54zM960.8 1187.5h29.54v11.45h-29.54z"/>
<path fill="#F14E55" d="M1167.6 981.5h29.54v11.45h-29.54zM1079.0 1004.4h29.54v11.45h-29.54zM1197.2 1004.4h29.54v11.45h-29.54zM1079.0 1050.2h29.54v11.45h-29.54zM1138.1 1050.2h29.54v11.45h-29.54zM1079.0 1061.6h29.54v11.45h-29.54zM1108.5 1061.6h29.54v11.45h-29.54zM1167.6 1061.6h29.54v11.45h-29.54zM1167.6 1073.0h29.54v11.45h-29.54zM960.8 1084.5h29.54v11.45h-29.54zM990.4 1084.5h29.54v11.45h-29.54zM960.8 1096.0h29.54v11.45h-29.54zM960.8 1107.4h29.54v11.45h-29.54zM1019.9 1118.8h29.54v11.45h-29.54zM1049.5 1118.8h29.54v11.45h-29.54zM960.8 1130.3h29.54v11.45h-29.54zM960.8 1141.8h29.54v11.45h-29.54zM990.4 1164.7h29.54v11.45h-29.54zM990.4 1176.1h29.54v11.45h-29.54z"/>
<path fill="#F3686D" d="M1108.5 992.9h29.54v11.45h-29.54zM1108.5 1015.8h29.54v11.45h-29.54zM1108.5 1027.2h29.54v11.45h-29.54zM1197.2 1027.2h29.54v11.45h-29.54zM1197.2 1050.2h29.54v11.45h-29.54zM931.3 1096.0h29.54v11.45h-29.54zM990.4 1096.0h29.54v11.45h-29.54zM1049.5 1096.0h29.54v11.45h-29.54zM1049.5 1107.4h29.54v11.45h-29.54zM931.3 1118.8h29.54v11.45h-29.54zM931.3 1141.8h29.54v11.45h-29.54zM1049.5 1176.1h29.54v11.45h-29.54z"/>
<path fill="#F58185" d="M1197.2 970.0h29.54v11.45h-29.54zM1079.0 1073.0h29.54v11.45h-29.54zM1108.5 1073.0h29.54v11.45h-29.54zM1019.9 1084.5h29.54v11.45h-29.54zM1049.5 1084.5h29.54v11.45h-29.54zM960.8 1164.7h29.54v11.45h-29.54zM990.4 1187.5h29.54v11.45h-29.54z"/>
<path fill="#F79A9E" d="M1079.0 970.0h29.54v11.45h-29.54zM1138.1 970.0h29.54v11.45h-29.54zM1079.0 981.5h29.54v11.45h-29.54zM1108.5 981.5h29.54v11.45h-29.54zM1138.1 981.5h29.54v11.45h-29.54zM1079.0 992.9h29.54v11.45h-29.54zM1197.2 1038.7h29.54v11.45h-29.54zM1197.2 1061.6h29.54v11.45h-29.54zM1197.2 1073.0h29.54v11.45h-29.54zM1049.5 1153.2h29.54v11.45h-29.54zM1019.9 1164.7h29.54v11.45h-29.54zM1049.5 1164.7h29.54v11.45h-29.54zM960.8 1176.1h29.54v11.45h-29.54zM1019.9 1176.1h29.54v11.45h-29.54zM1019.9 1187.5h29.54v11.45h-29.54zM1049.5 1187.5h29.54v11.45h-29.54z"/>
<path fill="#F9B3B6" d="M1079.0 1015.8h29.54v11.45h-29.54zM1079.0 1027.2h29.54v11.45h-29.54zM1138.1 1027.2h29.54v11.45h-29.54zM1079.0 1038.7h29.54v11.45h-29.54zM1138.1 1038.7h29.54v11.45h-29.54zM1019.9 1096.0h29.54v11.45h-29.54zM990.4 1107.4h29.54v11.45h-29.54zM1019.9 1107.4h29.54v11.45h-29.54zM990.4 1118.8h29.54v11.45h-29.54zM990.4 1130.3h29.54v11.45h-29.54zM990.4 1141.8h29.54v11.45h-29.54zM931.3 1176.1h29.54v11.45h-29.54zM931.3 1187.5h29.54v11.45h-29.54z"/>
<path fill="#FBCDCE" d="M1167.6 992.9h29.54v11.45h-29.54zM1138.1 1004.4h29.54v11.45h-29.54zM1167.6 1004.4h29.54v11.45h-29.54zM1138.1 1015.8h29.54v11.45h-29.54zM1197.2 1015.8h29.54v11.45h-29.54zM1019.9 1130.3h29.54v11.45h-29.54zM1019.9 1141.8h29.54v11.45h-29.54zM931.3 1164.7h29.54v11.45h-29.54z"/>
<path fill="#FDE6E7" d="M1167.6 970.0h29.54v11.45h-29.54zM1197.2 981.5h29.54v11.45h-29.54zM1197.2 992.9h29.54v11.45h-29.54zM1167.6 1027.2h29.54v11.45h-29.54zM1167.6 1038.7h29.54v11.45h-29.54zM960.8 1118.8h29.54v11.45h-29.54zM931.3 1153.2h29.54v11.45h-29.54zM990.4 1153.2h29.54v11.45h-29.54zM1167.6 1153.2h29.54v11.45h-29.54z"/>
<path fill="#FFFFFF" d="M1019.9 1027.2h29.54v11.45h-29.54zM1019.9 1050.2h29.54v11.45h-29.54zM1108.5 1050.2h29.54v11.45h-29.54zM1167.6 1050.2h29.54v11.45h-29.54zM1049.5 1061.6h29.54v11.45h-29.54zM1138.1 1061.6h29.54v11.45h-29.54zM990.4 1073.0h29.54v11.45h-29.54zM1049.5 1130.3h29.54v11.45h-29.54z"/>
</g>
<g font-size="8.7">
<text x="1228.8" y="978.8">ABCC8</text>
<text x="1228.8" y="990.3">CHST8</text>
<text x="1228.8" y="1001.7">S100A14</text>
<text x="1228.8" y="1013.2">HORMAD2</text>
<text x="1228.8" y="1024.6">SALL3</text>
<text x="1228.8" y="1036.1">AQP8</text>
<text x="1228.8" y="1047.5">KLK10</text>
<text x="1228.8" y="1059.0">TMEM31</text>
<text x="1228.8" y="1070.4">LRFN2</text>
<text x="1228.8" y="1081.9">C19orf67</text>
<text x="1228.8" y="1093.3">SPDYE16</text>
<text x="1228.8" y="1104.8">DACT2</text>
<text x="1228.8" y="1116.2">SLC44A4</text>
<text x="1228.8" y="1127.7">OR2T10</text>
<text x="1228.8" y="1139.1">FAM166A</text>
<text x="1228.8" y="1150.6">PRAME</text>
<text x="1228.8" y="1162.0">VWA5B1</text>
<text x="1228.8" y="1173.5">COX4I2</text>
<text x="1228.8" y="1184.9">VWA5B2</text>
<text x="1228.8" y="1196.4">SLC9A2</text>
</g>
<g font-size="10.7">
<text transform="translate(942.3 1204) rotate(90)">S1_1</text>
<text transform="translate(971.8 1204) rotate(90)">S1_2</text>
<text transform="translate(1001.4 1204) rotate(90)">S1_5</text>
<text transform="translate(1030.9 1204) rotate(90)">U2_4</text>
<text transform="translate(1060.4 1204) rotate(90)">U2_5</text>
<text transform="translate(1090.0 1204) rotate(90)">S1_3</text>
<text transform="translate(1119.5 1204) rotate(90)">S1_4</text>
<text transform="translate(1149.0 1204) rotate(90)">U2_1</text>
<text transform="translate(1178.6 1204) rotate(90)">U2_2</text>
<text transform="translate(1208.1 1204) rotate(90)">U2_3</text>
</g>
<path d="M940.7 1235.3H1077.3" stroke="#111" stroke-width="1.0"/>
<path d="M1084 1235.3H1227.7" stroke="#111" stroke-width="1.0"/>
<text x="1010.7" y="1257.2" font-size="15.4" text-anchor="middle">DM</text>
<text x="1157.3" y="1257.2" font-size="15.4" text-anchor="middle">Non-DM</text>
<rect x="1279" y="971" width="13.3" height="196.3" fill="url(#cb)"/>
<g font-size="10.3">
<text x="1297.3" y="997">2</text>
<text x="1297.3" y="1035.4">1</text>
<text x="1297.3" y="1073.7">0</text>
<text x="1297.3" y="1111.4">−1</text>
<text x="1297.3" y="1149.7">−2</text>
</g>
<text x="187.7" y="1373.9" class="hb" font-size="15.7" text-anchor="middle">lncRNA</text>
<g stroke="#fff" stroke-width="0.9">
<path fill="#706EB4" d="M266.8 1489.2h29.47v10.91h-29.47z"/>
<path fill="#807EBC" d="M119.4 1478.2h29.47v10.91h-29.47zM148.9 1478.2h29.47v10.91h-29.47zM178.3 1500.1h29.47v10.91h-29.47zM207.8 1500.1h29.47v10.91h-29.47zM237.3 1500.1h29.47v10.91h-29.47zM296.2 1500.1h29.47v10.91h-29.47zM178.3 1565.6h29.47v10.91h-29.47zM207.8 1565.6h29.47v10.91h-29.47zM237.3 1565.6h29.47v10.91h-29.47z"/>
<path fill="#8C8AC4" d="M31.0 1423.7h29.47v10.91h-29.47zM31.0 1434.6h29.47v10.91h-29.47zM60.5 1434.6h29.47v10.91h-29.47zM148.9 1434.6h29.47v10.91h-29.47zM31.0 1467.3h29.47v10.91h-29.47zM148.9 1467.3h29.47v10.91h-29.47zM178.3 1489.2h29.47v10.91h-29.47zM237.3 1511.0h29.47v10.91h-29.47zM266.8 1511.0h29.47v10.91h-29.47zM237.3 1521.9h29.47v10.91h-29.47zM266.8 1521.9h29.47v10.91h-29.47zM237.3 1532.8h29.47v10.91h-29.47zM266.8 1532.8h29.47v10.91h-29.47zM296.2 1532.8h29.47v10.91h-29.47zM178.3 1554.6h29.47v10.91h-29.47zM207.8 1554.6h29.47v10.91h-29.47zM266.8 1554.6h29.47v10.91h-29.47zM296.2 1554.6h29.47v10.91h-29.47z"/>
<path fill="#9C9ACC" d="M31.0 1401.8h29.47v10.91h-29.47zM60.5 1401.8h29.47v10.91h-29.47zM119.4 1401.8h29.47v10.91h-29.47zM148.9 1401.8h29.47v10.91h-29.47zM31.0 1412.7h29.47v10.91h-29.47zM119.4 1412.7h29.47v10.91h-29.47zM148.9 1412.7h29.47v10.91h-29.47zM89.9 1423.7h29.47v10.91h-29.47zM119.4 1423.7h29.47v10.91h-29.47zM148.9 1456.4h29.47v10.91h-29.47zM89.9 1467.3h29.47v10.91h-29.47zM89.9 1478.2h29.47v10.91h-29.47zM207.8 1489.2h29.47v10.91h-29.47zM237.3 1489.2h29.47v10.91h-29.47zM178.3 1511.0h29.47v10.91h-29.47zM178.3 1521.9h29.47v10.91h-29.47zM178.3 1543.7h29.47v10.91h-29.47zM207.8 1543.7h29.47v10.91h-29.47zM237.3 1543.7h29.47v10.91h-29.47zM266.8 1543.7h29.47v10.91h-29.47zM296.2 1543.7h29.47v10.91h-29.47zM266.8 1565.6h29.47v10.91h-29.47zM207.8 1576.5h29.47v10.91h-29.47zM237.3 1576.5h29.47v10.91h-29.47zM266.8 1576.5h29.47v10.91h-29.47zM296.2 1576.5h29.47v10.91h-29.47z"/>
<path fill="#AEACD6" d="M31.0 1380.0h29.47v10.91h-29.47zM60.5 1380.0h29.47v10.91h-29.47zM89.9 1380.0h29.47v10.91h-29.47zM119.4 1380.0h29.47v10.91h-29.47zM148.9 1380.0h29.47v10.91h-29.47zM31.0 1390.9h29.47v10.91h-29.47zM89.9 1390.9h29.47v10.91h-29.47zM119.4 1390.9h29.47v10.91h-29.47zM148.9 1390.9h29.47v10.91h-29.47zM60.5 1412.7h29.47v10.91h-29.47zM148.9 1423.7h29.47v10.91h-29.47zM31.0 1445.5h29.47v10.91h-29.47zM60.5 1445.5h29.47v10.91h-29.47zM89.9 1445.5h29.47v10.91h-29.47zM119.4 1445.5h29.47v10.91h-29.47zM148.9 1445.5h29.47v10.91h-29.47zM31.0 1456.4h29.47v10.91h-29.47zM60.5 1456.4h29.47v10.91h-29.47zM89.9 1456.4h29.47v10.91h-29.47zM119.4 1467.3h29.47v10.91h-29.47zM207.8 1521.9h29.47v10.91h-29.47zM207.8 1532.8h29.47v10.91h-29.47zM296.2 1565.6h29.47v10.91h-29.47zM207.8 1587.4h29.47v10.91h-29.47zM237.3 1587.4h29.47v10.91h-29.47zM266.8 1587.4h29.47v10.91h-29.47zM296.2 1587.4h29.47v10.91h-29.47z"/>
<path fill="#C8C6E2" d="M60.5 1390.9h29.47v10.91h-29.47zM237.3 1423.7h29.47v10.91h-29.47zM89.9 1434.6h29.47v10.91h-29.47zM60.5 1478.2h29.47v10.91h-29.47zM296.2 1489.2h29.47v10.91h-29.47zM207.8 1511.0h29.47v10.91h-29.47zM89.9 1554.6h29.47v10.91h-29.47zM178.3 1576.5h29.47v10.91h-29.47zM178.3 1587.4h29.47v10.91h-29.47z"/>
<path fill="#E4E4F0" d="M89.9 1412.7h29.47v10.91h-29.47zM60.5 1423.7h29.47v10.91h-29.47zM119.4 1434.6h29.47v10.91h-29.47zM119.4 1456.4h29.47v10.91h-29.47zM296.2 1511.0h29.47v10.91h-29.47zM296.2 1521.9h29.47v10.91h-29.47zM178.3 1532.8h29.47v10.91h-29.47z"/>
<path fill="#ED1C24" d="M178.3 1380.0h29.47v10.91h-29.47zM207.8 1434.6h29.47v10.91h-29.47zM178.3 1456.4h29.47v10.91h-29.47zM296.2 1456.4h29.47v10.91h-29.47zM178.3 1467.3h29.47v10.91h-29.47zM148.9 1532.8h29.47v10.91h-29.47zM119.4 1576.5h29.47v10.91h-29.47z"/>
<path fill="#EF353C" d="M296.2 1401.8h29.47v10.91h-29.47zM237.3 1412.7h29.47v10.91h-29.47zM207.8 1423.7h29.47v10.91h-29.47zM178.3 1445.5h29.47v10.91h-29.47zM148.9 1489.2h29.47v10.91h-29.47zM89.9 1511.0h29.47v10.91h-29.47zM89.9 1521.9h29.47v10.91h-29.47zM148.9 1543.7h29.47v10.91h-29.47zM119.4 1554.6h29.47v10.91h-29.47zM31.0 1587.4h29.47v10.91h-29.47z"/>
<path fill="#F14E55" d="M178.3 1390.9h29.47v10.91h-29.47zM237.3 1390.9h29.47v10.91h-29.47zM296.2 1423.7h29.47v10.91h-29.47zM207.8 1445.5h29.47v10.91h-29.47zM296.2 1467.3h29.47v10.91h-29.47zM178.3 1478.2h29.47v10.91h-29.47zM60.5 1500.1h29.47v10.91h-29.47zM119.4 1511.0h29.47v10.91h-29.47zM60.5 1521.9h29.47v10.91h-29.47zM119.4 1565.6h29.47v10.91h-29.47zM148.9 1587.4h29.47v10.91h-29.47z"/>
<path fill="#F3686D" d="M178.3 1401.8h29.47v10.91h-29.47zM266.8 1412.7h29.47v10.91h-29.47zM237.3 1434.6h29.47v10.91h-29.47zM237.3 1456.4h29.47v10.91h-29.47z"/>
<path fill="#F58185" d="M296.2 1390.9h29.47v10.91h-29.47zM178.3 1412.7h29.47v10.91h-29.47zM31.0 1489.2h29.47v10.91h-29.47zM89.9 1500.1h29.47v10.91h-29.47zM31.0 1521.9h29.47v10.91h-29.47zM119.4 1521.9h29.47v10.91h-29.47zM31.0 1543.7h29.47v10.91h-29.47zM89.9 1543.7h29.47v10.91h-29.47zM31.0 1554.6h29.47v10.91h-29.47zM31.0 1565.6h29.47v10.91h-29.47zM119.4 1587.4h29.47v10.91h-29.47z"/>
<path fill="#F79A9E" d="M207.8 1380.0h29.47v10.91h-29.47zM237.3 1380.0h29.47v10.91h-29.47zM266.8 1380.0h29.47v10.91h-29.47zM296.2 1380.0h29.47v10.91h-29.47zM207.8 1401.8h29.47v10.91h-29.47zM207.8 1412.7h29.47v10.91h-29.47zM237.3 1445.5h29.47v10.91h-29.47zM119.4 1489.2h29.47v10.91h-29.47zM119.4 1500.1h29.47v10.91h-29.47zM31.0 1511.0h29.47v10.91h-29.47zM148.9 1511.0h29.47v10.91h-29.47zM148.9 1521.9h29.47v10.91h-29.47zM60.5 1532.8h29.47v10.91h-29.47zM89.9 1532.8h29.47v10.91h-29.47zM60.5 1543.7h29.47v10.91h-29.47zM148.9 1554.6h29.47v10.91h-29.47zM89.9 1565.6h29.47v10.91h-29.47zM31.0 1576.5h29.47v10.91h-29.47zM60.5 1576.5h29.47v10.91h-29.47zM89.9 1576.5h29.47v10.91h-29.47zM148.9 1576.5h29.47v10.91h-29.47zM60.5 1587.4h29.47v10.91h-29.47zM89.9 1587.4h29.47v10.91h-29.47z"/>
<path fill="#F9B3B6" d="M266.8 1423.7h29.47v10.91h-29.47zM89.9 1489.2h29.47v10.91h-29.47zM119.4 1532.8h29.47v10.91h-29.47zM60.5 1554.6h29.47v10.91h-29.47zM60.5 1565.6h29.47v10.91h-29.47z"/>
<path fill="#FBCDCE" d="M266.8 1390.9h29.47v10.91h-29.47zM237.3 1401.8h29.47v10.91h-29.47zM266.8 1401.8h29.47v10.91h-29.47zM178.3 1423.7h29.47v10.91h-29.47zM178.3 1434.6h29.47v10.91h-29.47zM266.8 1434.6h29.47v10.91h-29.47zM266.8 1445.5h29.47v10.91h-29.47zM207.8 1456.4h29.47v10.91h-29.47zM266.8 1456.4h29.47v10.91h-29.47zM207.8 1467.3h29.47v10.91h-29.47zM237.3 1467.3h29.47v10.91h-29.47zM266.8 1467.3h29.47v10.91h-29.47zM207.8 1478.2h29.47v10.91h-29.47zM266.8 1478.2h29.47v10.91h-29.47zM31.0 1500.1h29.47v10.91h-29.47zM148.9 1500.1h29.47v10.91h-29.47zM31.0 1532.8h29.47v10.91h-29.47zM119.4 1543.7h29.47v10.91h-29.47z"/>
<path fill="#FDE6E7" d="M296.2 1412.7h29.47v10.91h-29.47zM296.2 1434.6h29.47v10.91h-29.47zM60.5 1467.3h29.47v10.91h-29.47zM237.3 1478.2h29.47v10.91h-29.47zM60.5 1489.2h29.47v10.91h-29.47zM60.5 1511.0h29.47v10.91h-29.47zM148.9 1565.6h29.47v10.91h-29.47z"/>
<path fill="#FFFFFF" d="M207.8 1390.9h29.47v10.91h-29.47zM89.9 1401.8h29.47v10.91h-29.47zM296.2 1445.5h29.47v10.91h-29.47zM31.0 1478.2h29.47v10.91h-29.47zM296.2 1478.2h29.47v10.91h-29.47zM266.8 1500.1h29.47v10.91h-29.47zM237.3 1554.6h29.47v10.91h-29.47z"/>
</g>
<g font-size="8.7" transform="translate(330 0) scale(1.078 1)">
<text x="0" y="1388.6">NIFK-AS1</text>
<text x="0" y="1399.5">ARHGEF26-AS1</text>
<text x="0" y="1410.4">DPH6-AS1</text>
<text x="0" y="1421.3">SNHG5</text>
<text x="0" y="1432.2">CKMT2-AS1</text>
<text x="0" y="1443.1">MSTRG.36868.1</text>
<text x="0" y="1454.0">AGBL4-IT1</text>
<text x="0" y="1465.0">SNHG14</text>
<text x="0" y="1475.9">TRBV11-2</text>
<text x="0" y="1486.8">LINC00907</text>
<text x="0" y="1497.7">MIR4435-1HG</text>
<text x="0" y="1508.6">C9orf163</text>
<text x="0" y="1519.5">LINC00900</text>
<text x="0" y="1530.5">LINC00900</text>
<text x="0" y="1541.4">SNHG16</text>
<text x="0" y="1552.3">C22orf34</text>
<text x="0" y="1563.2">RFPL1S</text>
<text x="0" y="1574.1">PCBP1-AS1</text>
<text x="0" y="1585.0">TCL6</text>
<text x="0" y="1595.9">RASSF8-AS1</text>
</g>
<g font-size="10.1">
<text transform="translate(41.9 1603) rotate(90)">U2_1</text>
<text transform="translate(71.4 1603) rotate(90)">U2_2</text>
<text transform="translate(100.9 1603) rotate(90)">U2_3</text>
<text transform="translate(130.3 1603) rotate(90)">U2_4</text>
<text transform="translate(159.8 1603) rotate(90)">U2_5</text>
<text transform="translate(189.3 1603) rotate(90)">S1_1</text>
<text transform="translate(218.8 1603) rotate(90)">S1_2</text>
<text transform="translate(248.2 1603) rotate(90)">S1_3</text>
<text transform="translate(277.7 1603) rotate(90)">S1_4</text>
<text transform="translate(307.2 1603) rotate(90)">S1_5</text>
</g>
<path d="M37.7 1637.3H175.7" stroke="#111" stroke-width="1.5"/>
<path d="M181.7 1637.3H322.7" stroke="#111" stroke-width="1.5"/>
<text x="102.7" y="1658.2" font-size="15.4" text-anchor="middle">Unstable</text>
<text x="249" y="1658.2" font-size="15.4" text-anchor="middle">Stable</text>
<rect x="409.3" y="1378.3" width="13" height="196.7" fill="url(#cb)"/>
<g font-size="10.3" transform="translate(427.7 0) scale(1.078 1)">
<text x="0" y="1390.7">2</text>
<text x="0" y="1436">1</text>
<text x="0" y="1481">0</text>
<text x="0" y="1526">−1</text>
<text x="0" y="1570.4">−2</text>
</g>
<text x="650" y="1373.9" class="hb" font-size="15.7" text-anchor="middle">circRNA</text>
<g stroke="#fff" stroke-width="0.9">
<path fill="#9C9ACC" d="M481.7 1380.0h29.56v10.80h-29.56zM511.3 1380.0h29.56v10.80h-29.56zM540.8 1380.0h29.56v10.80h-29.56zM570.4 1380.0h29.56v10.80h-29.56zM599.9 1380.0h29.56v10.80h-29.56zM481.7 1423.2h29.56v10.80h-29.56zM540.8 1423.2h29.56v10.80h-29.56zM570.4 1423.2h29.56v10.80h-29.56zM599.9 1423.2h29.56v10.80h-29.56zM511.3 1466.4h29.56v10.80h-29.56zM540.8 1466.4h29.56v10.80h-29.56zM570.4 1466.4h29.56v10.80h-29.56zM599.9 1466.4h29.56v10.80h-29.56zM481.7 1477.2h29.56v10.80h-29.56zM540.8 1477.2h29.56v10.80h-29.56zM570.4 1477.2h29.56v10.80h-29.56zM599.9 1477.2h29.56v10.80h-29.56zM659.1 1531.2h29.56v10.80h-29.56zM688.6 1531.2h29.56v10.80h-29.56zM718.2 1531.2h29.56v10.80h-29.56zM747.7 1531.2h29.56v10.80h-29.56zM659.1 1563.6h29.56v10.80h-29.56zM718.2 1563.6h29.56v10.80h-29.56zM747.7 1563.6h29.56v10.80h-29.56zM629.5 1585.2h29.56v10.80h-29.56zM659.1 1585.2h29.56v10.80h-29.56zM688.6 1585.2h29.56v10.80h-29.56zM718.2 1585.2h29.56v10.80h-29.56zM747.7 1585.2h29.56v10.80h-29.56z"/>
<path fill="#AEACD6" d="M481.7 1390.8h29.56v10.80h-29.56zM511.3 1390.8h29.56v10.80h-29.56zM540.8 1390.8h29.56v10.80h-29.56zM570.4 1390.8h29.56v10.80h-29.56zM599.9 1390.8h29.56v10.80h-29.56zM481.7 1401.6h29.56v10.80h-29.56zM511.3 1401.6h29.56v10.80h-29.56zM540.8 1401.6h29.56v10.80h-29.56zM570.4 1401.6h29.56v10.80h-29.56zM599.9 1401.6h29.56v10.80h-29.56zM481.7 1412.4h29.56v10.80h-29.56zM540.8 1412.4h29.56v10.80h-29.56zM570.4 1412.4h29.56v10.80h-29.56zM599.9 1412.4h29.56v10.80h-29.56zM481.7 1434.0h29.56v10.80h-29.56zM511.3 1434.0h29.56v10.80h-29.56zM540.8 1434.0h29.56v10.80h-29.56zM599.9 1434.0h29.56v10.80h-29.56zM481.7 1444.8h29.56v10.80h-29.56zM540.8 1444.8h29.56v10.80h-29.56zM570.4 1444.8h29.56v10.80h-29.56zM599.9 1444.8h29.56v10.80h-29.56zM481.7 1455.6h29.56v10.80h-29.56zM540.8 1455.6h29.56v10.80h-29.56zM599.9 1455.6h29.56v10.80h-29.56zM659.1 1488.0h29.56v10.80h-29.56zM688.6 1488.0h29.56v10.80h-29.56zM718.2 1488.0h29.56v10.80h-29.56zM747.7 1488.0h29.56v10.80h-29.56zM629.5 1498.8h29.56v10.80h-29.56zM659.1 1498.8h29.56v10.80h-29.56zM718.2 1498.8h29.56v10.80h-29.56zM747.7 1498.8h29.56v10.80h-29.56zM629.5 1509.6h29.56v10.80h-29.56zM688.6 1509.6h29.56v10.80h-29.56zM718.2 1509.6h29.56v10.80h-29.56zM747.7 1509.6h29.56v10.80h-29.56zM629.5 1520.4h29.56v10.80h-29.56zM688.6 1520.4h29.56v10.80h-29.56zM718.2 1520.4h29.56v10.80h-29.56zM747.7 1520.4h29.56v10.80h-29.56zM629.5 1542.0h29.56v10.80h-29.56zM659.1 1542.0h29.56v10.80h-29.56zM718.2 1542.0h29.56v10.80h-29.56zM747.7 1542.0h29.56v10.80h-29.56zM629.5 1552.8h29.56v10.80h-29.56zM659.1 1552.8h29.56v10.80h-29.56zM718.2 1552.8h29.56v10.80h-29.56zM747.7 1552.8h29.56v10.80h-29.56zM629.5 1563.6h29.56v10.80h-29.56zM688.6 1563.6h29.56v10.80h-29.56zM629.5 1574.4h29.56v10.80h-29.56zM659.1 1574.4h29.56v10.80h-29.56zM718.2 1574.4h29.56v10.80h-29.56zM747.7 1574.4h29.56v10.80h-29.56z"/>
<path fill="#C8C6E2" d="M511.3 1412.4h29.56v10.80h-29.56zM511.3 1423.2h29.56v10.80h-29.56zM511.3 1455.6h29.56v10.80h-29.56zM570.4 1455.6h29.56v10.80h-29.56zM659.1 1520.4h29.56v10.80h-29.56zM629.5 1531.2h29.56v10.80h-29.56zM688.6 1542.0h29.56v10.80h-29.56zM688.6 1552.8h29.56v10.80h-29.56zM688.6 1574.4h29.56v10.80h-29.56z"/>
<path fill="#E4E4F0" d="M629.5 1390.8h29.56v10.80h-29.56zM688.6 1401.6h29.56v10.80h-29.56zM570.4 1434.0h29.56v10.80h-29.56zM511.3 1444.8h29.56v10.80h-29.56zM481.7 1466.4h29.56v10.80h-29.56zM511.3 1477.2h29.56v10.80h-29.56zM718.2 1477.2h29.56v10.80h-29.56zM629.5 1488.0h29.56v10.80h-29.56zM688.6 1498.8h29.56v10.80h-29.56zM659.1 1509.6h29.56v10.80h-29.56z"/>
<path fill="#ED1C24" d="M747.7 1390.8h29.56v10.80h-29.56zM629.5 1401.6h29.56v10.80h-29.56zM747.7 1412.4h29.56v10.80h-29.56zM629.5 1434.0h29.56v10.80h-29.56zM747.7 1455.6h29.56v10.80h-29.56zM540.8 1520.4h29.56v10.80h-29.56zM599.9 1542.0h29.56v10.80h-29.56zM540.8 1563.6h29.56v10.80h-29.56zM481.7 1574.4h29.56v10.80h-29.56z"/>
<path fill="#EF353C" d="M511.3 1498.8h29.56v10.80h-29.56zM599.9 1531.2h29.56v10.80h-29.56zM599.9 1552.8h29.56v10.80h-29.56z"/>
<path fill="#F14E55" d="M659.1 1380.0h29.56v10.80h-29.56zM688.6 1423.2h29.56v10.80h-29.56z"/>
<path fill="#F3686D" d="M659.1 1423.2h29.56v10.80h-29.56zM688.6 1444.8h29.56v10.80h-29.56zM659.1 1466.4h29.56v10.80h-29.56zM747.7 1466.4h29.56v10.80h-29.56zM659.1 1477.2h29.56v10.80h-29.56zM747.7 1477.2h29.56v10.80h-29.56zM511.3 1488.0h29.56v10.80h-29.56zM540.8 1488.0h29.56v10.80h-29.56zM599.9 1488.0h29.56v10.80h-29.56zM511.3 1509.6h29.56v10.80h-29.56zM570.4 1509.6h29.56v10.80h-29.56zM481.7 1552.8h29.56v10.80h-29.56zM540.8 1585.2h29.56v10.80h-29.56z"/>
<path fill="#F58185" d="M747.7 1380.0h29.56v10.80h-29.56zM688.6 1412.4h29.56v10.80h-29.56zM629.5 1444.8h29.56v10.80h-29.56zM659.1 1444.8h29.56v10.80h-29.56zM629.5 1477.2h29.56v10.80h-29.56zM540.8 1498.8h29.56v10.80h-29.56zM540.8 1509.6h29.56v10.80h-29.56zM599.9 1509.6h29.56v10.80h-29.56zM540.8 1542.0h29.56v10.80h-29.56zM570.4 1574.4h29.56v10.80h-29.56zM481.7 1585.2h29.56v10.80h-29.56zM570.4 1585.2h29.56v10.80h-29.56z"/>
<path fill="#F79A9E" d="M718.2 1401.6h29.56v10.80h-29.56zM629.5 1455.6h29.56v10.80h-29.56zM629.5 1466.4h29.56v10.80h-29.56zM718.2 1466.4h29.56v10.80h-29.56zM481.7 1498.8h29.56v10.80h-29.56zM511.3 1520.4h29.56v10.80h-29.56zM511.3 1531.2h29.56v10.80h-29.56zM570.4 1563.6h29.56v10.80h-29.56zM540.8 1574.4h29.56v10.80h-29.56z"/>
<path fill="#F9B3B6" d="M688.6 1380.0h29.56v10.80h-29.56zM718.2 1380.0h29.56v10.80h-29.56zM659.1 1390.8h29.56v10.80h-29.56zM718.2 1390.8h29.56v10.80h-29.56zM747.7 1423.2h29.56v10.80h-29.56zM718.2 1434.0h29.56v10.80h-29.56zM747.7 1434.0h29.56v10.80h-29.56zM747.7 1444.8h29.56v10.80h-29.56zM688.6 1455.6h29.56v10.80h-29.56zM718.2 1455.6h29.56v10.80h-29.56zM688.6 1466.4h29.56v10.80h-29.56zM481.7 1531.2h29.56v10.80h-29.56zM570.4 1531.2h29.56v10.80h-29.56zM481.7 1542.0h29.56v10.80h-29.56zM511.3 1552.8h29.56v10.80h-29.56zM540.8 1552.8h29.56v10.80h-29.56zM511.3 1563.6h29.56v10.80h-29.56zM599.9 1574.4h29.56v10.80h-29.56z"/>
<path fill="#FBCDCE" d="M629.5 1412.4h29.56v10.80h-29.56zM718.2 1444.8h29.56v10.80h-29.56zM481.7 1488.0h29.56v10.80h-29.56zM481.7 1509.6h29.56v10.80h-29.56zM599.9 1520.4h29.56v10.80h-29.56zM570.4 1542.0h29.56v10.80h-29.56zM570.4 1552.8h29.56v10.80h-29.56zM481.7 1563.6h29.56v10.80h-29.56zM599.9 1585.2h29.56v10.80h-29.56z"/>
<path fill="#FDE6E7" d="M629.5 1380.0h29.56v10.80h-29.56zM659.1 1401.6h29.56v10.80h-29.56zM629.5 1423.2h29.56v10.80h-29.56zM718.2 1423.2h29.56v10.80h-29.56zM659.1 1455.6h29.56v10.80h-29.56zM688.6 1477.2h29.56v10.80h-29.56zM481.7 1520.4h29.56v10.80h-29.56zM511.3 1542.0h29.56v10.80h-29.56zM511.3 1574.4h29.56v10.80h-29.56z"/>
<path fill="#FFFFFF" d="M688.6 1390.8h29.56v10.80h-29.56zM747.7 1401.6h29.56v10.80h-29.56zM659.1 1412.4h29.56v10.80h-29.56zM718.2 1412.4h29.56v10.80h-29.56zM659.1 1434.0h29.56v10.80h-29.56zM688.6 1434.0h29.56v10.80h-29.56zM570.4 1488.0h29.56v10.80h-29.56zM570.4 1498.8h29.56v10.80h-29.56zM599.9 1498.8h29.56v10.80h-29.56zM570.4 1520.4h29.56v10.80h-29.56zM540.8 1531.2h29.56v10.80h-29.56zM599.9 1563.6h29.56v10.80h-29.56zM511.3 1585.2h29.56v10.80h-29.56z"/>
</g>
<g font-size="8.7" transform="translate(779.5 0) scale(1.078 1)">
<text x="0" y="1388.5">hsacirc_051322</text>
<text x="0" y="1399.3">hsacirc_035172</text>
<text x="0" y="1410.1">hsacirc_019182</text>
<text x="0" y="1420.9">hsacirc_037511</text>
<text x="0" y="1431.7">hsacirc_036630</text>
<text x="0" y="1442.5">hsacirc_011188</text>
<text x="0" y="1453.3">hsacirc_019932</text>
<text x="0" y="1464.1">hsacirc_054743</text>
<text x="0" y="1474.9">hsacirc_054046</text>
<text x="0" y="1485.7">hsacirc_029849</text>
<text x="0" y="1496.5">hsacirc_025119</text>
<text x="0" y="1507.3">hsacirc_001243</text>
<text x="0" y="1518.1">hsacirc_026531</text>
<text x="0" y="1528.9">hsacirc_045048</text>
<text x="0" y="1539.7">hsacirc_004144</text>
<text x="0" y="1550.5">hsacirc_001811</text>
<text x="0" y="1561.3">hsacirc_029493</text>
<text x="0" y="1572.1">hsacirc_013041</text>
<text x="0" y="1582.9">hsacirc_025902</text>
<text x="0" y="1593.7">hsacirc_008408</text>
</g>
<g font-size="10.1">
<text transform="translate(492.7 1601) rotate(90)">U2_1</text>
<text transform="translate(522.2 1601) rotate(90)">U2_2</text>
<text transform="translate(551.8 1601) rotate(90)">U2_3</text>
<text transform="translate(581.4 1601) rotate(90)">U2_4</text>
<text transform="translate(610.9 1601) rotate(90)">U2_5</text>
<text transform="translate(640.5 1601) rotate(90)">S1_1</text>
<text transform="translate(670.0 1601) rotate(90)">S1_2</text>
<text transform="translate(699.6 1601) rotate(90)">S1_3</text>
<text transform="translate(729.2 1601) rotate(90)">S1_4</text>
<text transform="translate(758.7 1601) rotate(90)">S1_5</text>
</g>
<path d="M486.7 1634.3H624.3" stroke="#111" stroke-width="1.0"/>
<path d="M630 1634.3H771.7" stroke="#111" stroke-width="1.0"/>
<text x="551.7" y="1656.2" font-size="15.4" text-anchor="middle">Unstable</text>
<text x="697.7" y="1656.2" font-size="15.4" text-anchor="middle">Stable</text>
<rect x="857.3" y="1381.7" width="13" height="196" fill="url(#cb)"/>
<g font-size="10.3" transform="translate(875.3 0) scale(1.078 1)">
<text x="0" y="1402">2</text>
<text x="0" y="1442.7">1</text>
<text x="0" y="1483">0</text>
<text x="0" y="1523.7">−1</text>
<text x="0" y="1564.4">−2</text>
</g>
<text x="1076.3" y="1372.3" class="hb" font-size="15.7" text-anchor="middle">mRNA</text>
<g stroke="#fff" stroke-width="0.9">
<path fill="#9C9ACC" d="M931.3 1378.3h29.54v10.84h-29.54zM960.8 1378.3h29.54v10.84h-29.54zM990.4 1378.3h29.54v10.84h-29.54zM1019.9 1378.3h29.54v10.84h-29.54zM1049.5 1378.3h29.54v10.84h-29.54zM931.3 1421.6h29.54v10.84h-29.54zM990.4 1421.6h29.54v10.84h-29.54zM1019.9 1421.6h29.54v10.84h-29.54zM1049.5 1421.6h29.54v10.84h-29.54zM960.8 1465.0h29.54v10.84h-29.54zM990.4 1465.0h29.54v10.84h-29.54zM1019.9 1465.0h29.54v10.84h-29.54zM1049.5 1465.0h29.54v10.84h-29.54zM931.3 1475.8h29.54v10.84h-29.54zM990.4 1475.8h29.54v10.84h-29.54zM1019.9 1475.8h29.54v10.84h-29.54zM1049.5 1475.8h29.54v10.84h-29.54zM1108.5 1530.0h29.54v10.84h-29.54zM1138.1 1530.0h29.54v10.84h-29.54zM1167.6 1530.0h29.54v10.84h-29.54zM1197.2 1530.0h29.54v10.84h-29.54zM1108.5 1562.5h29.54v10.84h-29.54zM1167.6 1562.5h29.54v10.84h-29.54zM1197.2 1562.5h29.54v10.84h-29.54zM1079.0 1584.2h29.54v10.84h-29.54zM1108.5 1584.2h29.54v10.84h-29.54zM1138.1 1584.2h29.54v10.84h-29.54zM1167.6 1584.2h29.54v10.84h-29.54zM1197.2 1584.2h29.54v10.84h-29.54z"/>
<path fill="#AEACD6" d="M931.3 1389.1h29.54v10.84h-29.54zM960.8 1389.1h29.54v10.84h-29.54zM990.4 1389.1h29.54v10.84h-29.54zM1019.9 1389.1h29.54v10.84h-29.54zM1049.5 1389.1h29.54v10.84h-29.54zM931.3 1400.0h29.54v10.84h-29.54zM960.8 1400.0h29.54v10.84h-29.54zM990.4 1400.0h29.54v10.84h-29.54zM1019.9 1400.0h29.54v10.84h-29.54zM1049.5 1400.0h29.54v10.84h-29.54zM931.3 1410.8h29.54v10.84h-29.54zM990.4 1410.8h29.54v10.84h-29.54zM1019.9 1410.8h29.54v10.84h-29.54zM1049.5 1410.8h29.54v10.84h-29.54zM931.3 1432.5h29.54v10.84h-29.54zM960.8 1432.5h29.54v10.84h-29.54zM990.4 1432.5h29.54v10.84h-29.54zM1049.5 1432.5h29.54v10.84h-29.54zM931.3 1443.3h29.54v10.84h-29.54zM990.4 1443.3h29.54v10.84h-29.54zM1019.9 1443.3h29.54v10.84h-29.54zM1049.5 1443.3h29.54v10.84h-29.54zM931.3 1454.1h29.54v10.84h-29.54zM990.4 1454.1h29.54v10.84h-29.54zM1049.5 1454.1h29.54v10.84h-29.54zM1108.5 1486.7h29.54v10.84h-29.54zM1138.1 1486.7h29.54v10.84h-29.54zM1167.6 1486.7h29.54v10.84h-29.54zM1197.2 1486.7h29.54v10.84h-29.54zM1079.0 1497.5h29.54v10.84h-29.54zM1108.5 1497.5h29.54v10.84h-29.54zM1167.6 1497.5h29.54v10.84h-29.54zM1197.2 1497.5h29.54v10.84h-29.54zM1079.0 1508.3h29.54v10.84h-29.54zM1138.1 1508.3h29.54v10.84h-29.54zM1167.6 1508.3h29.54v10.84h-29.54zM1197.2 1508.3h29.54v10.84h-29.54zM1079.0 1519.2h29.54v10.84h-29.54zM1138.1 1519.2h29.54v10.84h-29.54zM1167.6 1519.2h29.54v10.84h-29.54zM1197.2 1519.2h29.54v10.84h-29.54zM1079.0 1540.8h29.54v10.84h-29.54zM1108.5 1540.8h29.54v10.84h-29.54zM1167.6 1540.8h29.54v10.84h-29.54zM1197.2 1540.8h29.54v10.84h-29.54zM1079.0 1551.7h29.54v10.84h-29.54zM1108.5 1551.7h29.54v10.84h-29.54zM1167.6 1551.7h29.54v10.84h-29.54zM1197.2 1551.7h29.54v10.84h-29.54zM1079.0 1562.5h29.54v10.84h-29.54zM1138.1 1562.5h29.54v10.84h-29.54zM1079.0 1573.3h29.54v10.84h-29.54zM1108.5 1573.3h29.54v10.84h-29.54zM1167.6 1573.3h29.54v10.84h-29.54zM1197.2 1573.3h29.54v10.84h-29.54z"/>
<path fill="#C8C6E2" d="M960.8 1410.8h29.54v10.84h-29.54zM960.8 1421.6h29.54v10.84h-29.54zM960.8 1454.1h29.54v10.84h-29.54zM1019.9 1454.1h29.54v10.84h-29.54zM1108.5 1519.2h29.54v10.84h-29.54zM1079.0 1530.0h29.54v10.84h-29.54zM1138.1 1540.8h29.54v10.84h-29.54zM1138.1 1551.7h29.54v10.84h-29.54zM1138.1 1573.3h29.54v10.84h-29.54z"/>
<path fill="#E4E4F0" d="M1079.0 1389.1h29.54v10.84h-29.54zM1138.1 1400.0h29.54v10.84h-29.54zM1019.9 1432.5h29.54v10.84h-29.54zM960.8 1443.3h29.54v10.84h-29.54zM931.3 1465.0h29.54v10.84h-29.54zM960.8 1475.8h29.54v10.84h-29.54zM1167.6 1475.8h29.54v10.84h-29.54zM1079.0 1486.7h29.54v10.84h-29.54zM1138.1 1497.5h29.54v10.84h-29.54zM1108.5 1508.3h29.54v10.84h-29.54zM931.3 1540.8h29.54v10.84h-29.54z"/>
<path fill="#ED1C24" d="M1197.2 1389.1h29.54v10.84h-29.54zM1079.0 1400.0h29.54v10.84h-29.54zM1197.2 1410.8h29.54v10.84h-29.54zM1079.0 1432.5h29.54v10.84h-29.54zM1197.2 1454.1h29.54v10.84h-29.54zM990.4 1519.2h29.54v10.84h-29.54zM1049.5 1540.8h29.54v10.84h-29.54zM990.4 1562.5h29.54v10.84h-29.54zM931.3 1573.3h29.54v10.84h-29.54z"/>
<path fill="#EF353C" d="M960.8 1497.5h29.54v10.84h-29.54zM1049.5 1530.0h29.54v10.84h-29.54zM1049.5 1551.7h29.54v10.84h-29.54z"/>
<path fill="#F14E55" d="M1108.5 1378.3h29.54v10.84h-29.54zM1138.1 1421.6h29.54v10.84h-29.54z"/>
<path fill="#F3686D" d="M1108.5 1421.6h29.54v10.84h-29.54zM1138.1 1443.3h29.54v10.84h-29.54zM1138.1 1454.1h29.54v10.84h-29.54zM1108.5 1465.0h29.54v10.84h-29.54zM1197.2 1465.0h29.54v10.84h-29.54zM1108.5 1475.8h29.54v10.84h-29.54zM1197.2 1475.8h29.54v10.84h-29.54zM960.8 1486.7h29.54v10.84h-29.54zM990.4 1486.7h29.54v10.84h-29.54zM1049.5 1486.7h29.54v10.84h-29.54zM960.8 1508.3h29.54v10.84h-29.54zM1019.9 1508.3h29.54v10.84h-29.54zM931.3 1551.7h29.54v10.84h-29.54zM990.4 1584.2h29.54v10.84h-29.54z"/>
<path fill="#F58185" d="M1197.2 1378.3h29.54v10.84h-29.54zM1138.1 1410.8h29.54v10.84h-29.54zM1079.0 1443.3h29.54v10.84h-29.54zM1108.5 1443.3h29.54v10.84h-29.54zM1079.0 1475.8h29.54v10.84h-29.54zM990.4 1497.5h29.54v10.84h-29.54zM1049.5 1497.5h29.54v10.84h-29.54zM990.4 1508.3h29.54v10.84h-29.54zM1049.5 1508.3h29.54v10.84h-29.54zM990.4 1540.8h29.54v10.84h-29.54zM990.4 1551.7h29.54v10.84h-29.54zM1019.9 1573.3h29.54v10.84h-29.54zM931.3 1584.2h29.54v10.84h-29.54zM1019.9 1584.2h29.54v10.84h-29.54z"/>
<path fill="#F79A9E" d="M1167.6 1400.0h29.54v10.84h-29.54zM1079.0 1454.1h29.54v10.84h-29.54zM1079.0 1465.0h29.54v10.84h-29.54zM1167.6 1465.0h29.54v10.84h-29.54zM931.3 1486.7h29.54v10.84h-29.54zM931.3 1497.5h29.54v10.84h-29.54zM960.8 1519.2h29.54v10.84h-29.54zM960.8 1530.0h29.54v10.84h-29.54zM1019.9 1562.5h29.54v10.84h-29.54zM990.4 1573.3h29.54v10.84h-29.54z"/>
<path fill="#F9B3B6" d="M1138.1 1378.3h29.54v10.84h-29.54zM1167.6 1378.3h29.54v10.84h-29.54zM1108.5 1389.1h29.54v10.84h-29.54zM1167.6 1389.1h29.54v10.84h-29.54zM1197.2 1421.6h29.54v10.84h-29.54zM1167.6 1432.5h29.54v10.84h-29.54zM1197.2 1432.5h29.54v10.84h-29.54zM1197.2 1443.3h29.54v10.84h-29.54zM1167.6 1454.1h29.54v10.84h-29.54zM1138.1 1465.0h29.54v10.84h-29.54zM931.3 1530.0h29.54v10.84h-29.54zM1019.9 1530.0h29.54v10.84h-29.54zM960.8 1551.7h29.54v10.84h-29.54zM960.8 1562.5h29.54v10.84h-29.54zM1049.5 1573.3h29.54v10.84h-29.54z"/>
<path fill="#FBCDCE" d="M1079.0 1410.8h29.54v10.84h-29.54zM1167.6 1443.3h29.54v10.84h-29.54zM931.3 1508.3h29.54v10.84h-29.54zM1049.5 1519.2h29.54v10.84h-29.54zM1019.9 1540.8h29.54v10.84h-29.54zM1019.9 1551.7h29.54v10.84h-29.54zM931.3 1562.5h29.54v10.84h-29.54zM1049.5 1584.2h29.54v10.84h-29.54z"/>
<path fill="#FDE6E7" d="M1079.0 1378.3h29.54v10.84h-29.54zM1108.5 1400.0h29.54v10.84h-29.54zM1079.0 1421.6h29.54v10.84h-29.54zM1167.6 1421.6h29.54v10.84h-29.54zM1108.5 1454.1h29.54v10.84h-29.54zM1138.1 1475.8h29.54v10.84h-29.54zM931.3 1519.2h29.54v10.84h-29.54zM960.8 1540.8h29.54v10.84h-29.54zM960.8 1573.3h29.54v10.84h-29.54z"/>
<path fill="#FFFFFF" d="M1138.1 1389.1h29.54v10.84h-29.54zM1197.2 1400.0h29.54v10.84h-29.54zM1108.5 1410.8h29.54v10.84h-29.54zM1167.6 1410.8h29.54v10.84h-29.54zM1108.5 1432.5h29.54v10.84h-29.54zM1138.1 1432.5h29.54v10.84h-29.54zM1019.9 1486.7h29.54v10.84h-29.54zM1019.9 1497.5h29.54v10.84h-29.54zM1019.9 1519.2h29.54v10.84h-29.54zM990.4 1530.0h29.54v10.84h-29.54zM1049.5 1562.5h29.54v10.84h-29.54zM960.8 1584.2h29.54v10.84h-29.54z"/>
</g>
<g font-size="8.7" transform="translate(1228.5 0) scale(1.078 1)">
<text x="0" y="1386.8">OR7C1</text>
<text x="0" y="1397.7">RAD21L1</text>
<text x="0" y="1408.5">CYP4A22</text>
<text x="0" y="1419.3">AGBL4</text>
<text x="0" y="1430.2">ANKRD30BL</text>
<text x="0" y="1441.0">GOLGA6A</text>
<text x="0" y="1451.8">NBPF4</text>
<text x="0" y="1462.7">KRT80</text>
<text x="0" y="1473.5">UPP2</text>
<text x="0" y="1484.3">LEFTY1</text>
<text x="0" y="1495.2">SALL3</text>
<text x="0" y="1506.0">FMN2</text>
<text x="0" y="1516.8">APOBEC3A</text>
<text x="0" y="1527.7">EXD1</text>
<text x="0" y="1538.5">KRT15</text>
<text x="0" y="1549.3">TMEM145</text>
<text x="0" y="1560.2">SALL4</text>
<text x="0" y="1571.0">CPN2</text>
<text x="0" y="1581.8">CA1</text>
<text x="0" y="1592.7">ECSCR</text>
</g>
<g font-size="10.1">
<text transform="translate(942.3 1600.5) rotate(90)">U2_1</text>
<text transform="translate(971.8 1600.5) rotate(90)">U2_2</text>
<text transform="translate(1001.4 1600.5) rotate(90)">U2_3</text>
<text transform="translate(1030.9 1600.5) rotate(90)">U2_4</text>
<text transform="translate(1060.4 1600.5) rotate(90)">U2_5</text>
<text transform="translate(1090.0 1600.5) rotate(90)">S1_1</text>
<text transform="translate(1119.5 1600.5) rotate(90)">S1_2</text>
<text transform="translate(1149.0 1600.5) rotate(90)">S1_3</text>
<text transform="translate(1178.6 1600.5) rotate(90)">S1_4</text>
<text transform="translate(1208.1 1600.5) rotate(90)">S1_5</text>
</g>
<path d="M941.7 1632.7H1080" stroke="#111" stroke-width="1.0"/>
<path d="M1085 1632.7H1227.3" stroke="#111" stroke-width="1.0"/>
<text x="1006.7" y="1654.8" font-size="15.4" text-anchor="middle">Unstable</text>
<text x="1153" y="1654.8" font-size="15.4" text-anchor="middle">Stable</text>
<rect x="1288.3" y="1379.3" width="13" height="196.4" fill="url(#cb)"/>
<g font-size="10.3" transform="translate(1306.7 0) scale(1.078 1)">
<text x="0" y="1400.4">2</text>
<text x="0" y="1441">1</text>
<text x="0" y="1481.4">0</text>
<text x="0" y="1522">−1</text>
<text x="0" y="1562.7">−2</text>
</g>
<text x="97.4" y="24.2" class="hb" font-size="30.2">A</text>
<text x="150.3" y="20.5" class="hb" font-size="17.6">DM vs. Non-DM</text>
<text x="143.5" y="452" class="hb" font-size="17.6">Unstable vs. Stable</text>
<text x="0.5" y="927.6" class="hb" font-size="28.5">B</text>
<text x="90.7" y="927.6" class="hb" font-size="21">DM vs. Non-DM</text>
<text x="90" y="1344.2" class="hb" font-size="20.9">Unstable vs. Stable</text>
</svg></body></html>
